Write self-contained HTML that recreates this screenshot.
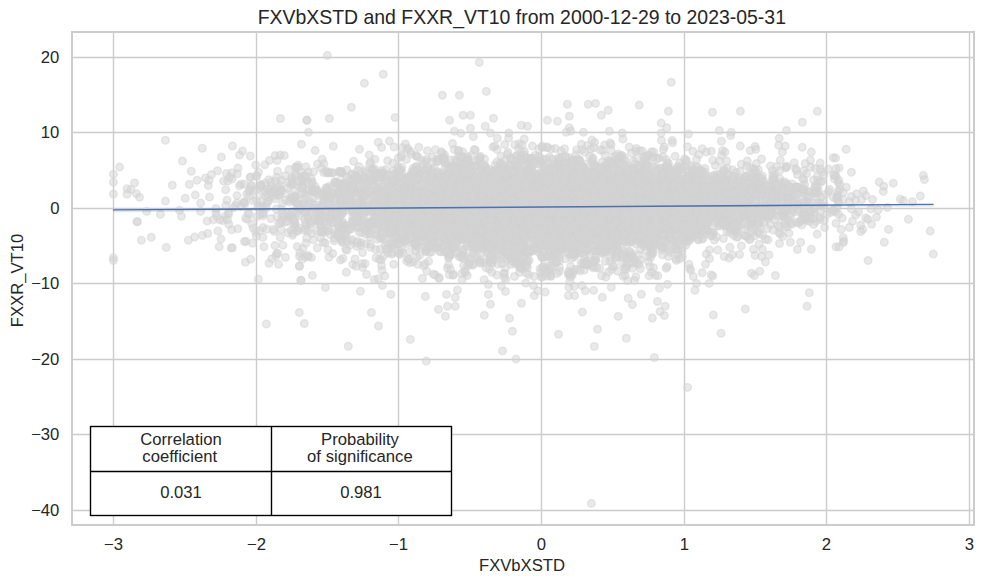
<!DOCTYPE html>
<html><head><meta charset="utf-8"><style>
html,body{margin:0;padding:0;background:#fff;width:983px;height:584px;overflow:hidden}
svg{display:block}
text{font-family:"Liberation Sans",Arial,sans-serif;fill:#262626;font-variant-ligatures:none}
.g path{stroke:#cccccc;stroke-width:1.39;fill:none}
.p circle{r:3.8px;fill:#d3d3d3;fill-opacity:.5;stroke:#d3d3d3;stroke-opacity:.5;stroke-width:1.39}
.t{font-size:16.67px}
.tb text{font-size:16.67px;fill:#262626}
</style></head><body>
<svg width="983" height="584" viewBox="0 0 983 584">
<rect width="983" height="584" fill="#fff"/>
<g class="g"><path d="M113.5 31V526"/><path d="M256.5 31V526"/><path d="M398.5 31V526"/><path d="M541.5 31V526"/><path d="M684.5 31V526"/><path d="M826.5 31V526"/><path d="M969.5 31V526"/><path d="M71 57.5H975"/><path d="M71 132.5H975"/><path d="M71 208.5H975"/><path d="M71 283.5H975"/><path d="M71 359.5H975"/><path d="M71 434.5H975"/><path d="M71 510.5H975"/></g>
<g class="p"><circle cx="462.0" cy="172.8" r="3.8"/><circle cx="425.5" cy="251.7" r="3.8"/><circle cx="661.7" cy="195.8" r="3.8"/><circle cx="601.3" cy="236.1" r="3.8"/><circle cx="535.6" cy="189.1" r="3.8"/><circle cx="454.4" cy="217.2" r="3.8"/><circle cx="564.5" cy="148.7" r="3.8"/><circle cx="371.5" cy="180.0" r="3.8"/><circle cx="514.4" cy="239.1" r="3.8"/><circle cx="554.0" cy="202.3" r="3.8"/><circle cx="585.5" cy="183.8" r="3.8"/><circle cx="462.7" cy="151.8" r="3.8"/><circle cx="398.2" cy="169.4" r="3.8"/><circle cx="388.3" cy="205.6" r="3.8"/><circle cx="620.3" cy="216.5" r="3.8"/><circle cx="439.6" cy="251.4" r="3.8"/><circle cx="313.8" cy="188.9" r="3.8"/><circle cx="594.5" cy="172.2" r="3.8"/><circle cx="302.6" cy="186.3" r="3.8"/><circle cx="591.6" cy="192.1" r="3.8"/><circle cx="711.9" cy="210.0" r="3.8"/><circle cx="483.7" cy="262.8" r="3.8"/><circle cx="489.2" cy="248.3" r="3.8"/><circle cx="500.7" cy="201.7" r="3.8"/><circle cx="655.8" cy="214.2" r="3.8"/><circle cx="652.3" cy="254.0" r="3.8"/><circle cx="558.7" cy="221.2" r="3.8"/><circle cx="591.7" cy="173.3" r="3.8"/><circle cx="333.9" cy="222.9" r="3.8"/><circle cx="670.9" cy="217.3" r="3.8"/><circle cx="264.8" cy="164.7" r="3.8"/><circle cx="630.4" cy="170.3" r="3.8"/><circle cx="647.8" cy="222.3" r="3.8"/><circle cx="570.2" cy="196.3" r="3.8"/><circle cx="652.6" cy="217.1" r="3.8"/><circle cx="378.1" cy="196.7" r="3.8"/><circle cx="458.0" cy="200.9" r="3.8"/><circle cx="544.5" cy="211.0" r="3.8"/><circle cx="511.4" cy="251.9" r="3.8"/><circle cx="448.7" cy="225.5" r="3.8"/><circle cx="508.7" cy="175.1" r="3.8"/><circle cx="597.0" cy="221.9" r="3.8"/><circle cx="586.2" cy="192.1" r="3.8"/><circle cx="598.7" cy="249.9" r="3.8"/><circle cx="488.0" cy="244.1" r="3.8"/><circle cx="679.2" cy="179.3" r="3.8"/><circle cx="502.4" cy="207.4" r="3.8"/><circle cx="538.9" cy="176.0" r="3.8"/><circle cx="451.4" cy="192.7" r="3.8"/><circle cx="520.1" cy="197.7" r="3.8"/><circle cx="824.5" cy="207.6" r="3.8"/><circle cx="329.0" cy="209.6" r="3.8"/><circle cx="563.0" cy="198.9" r="3.8"/><circle cx="480.3" cy="237.7" r="3.8"/><circle cx="752.1" cy="193.1" r="3.8"/><circle cx="596.7" cy="201.9" r="3.8"/><circle cx="565.1" cy="210.5" r="3.8"/><circle cx="614.1" cy="223.2" r="3.8"/><circle cx="402.1" cy="209.6" r="3.8"/><circle cx="628.8" cy="180.3" r="3.8"/><circle cx="736.6" cy="231.0" r="3.8"/><circle cx="645.3" cy="160.0" r="3.8"/><circle cx="549.8" cy="220.3" r="3.8"/><circle cx="633.6" cy="168.4" r="3.8"/><circle cx="449.9" cy="213.6" r="3.8"/><circle cx="568.9" cy="229.1" r="3.8"/><circle cx="455.5" cy="227.3" r="3.8"/><circle cx="419.5" cy="201.6" r="3.8"/><circle cx="559.0" cy="237.2" r="3.8"/><circle cx="380.6" cy="218.0" r="3.8"/><circle cx="716.9" cy="202.2" r="3.8"/><circle cx="715.1" cy="187.8" r="3.8"/><circle cx="552.6" cy="218.9" r="3.8"/><circle cx="675.8" cy="173.2" r="3.8"/><circle cx="695.6" cy="231.5" r="3.8"/><circle cx="554.1" cy="228.5" r="3.8"/><circle cx="669.9" cy="240.2" r="3.8"/><circle cx="334.9" cy="215.6" r="3.8"/><circle cx="245.6" cy="218.2" r="3.8"/><circle cx="695.7" cy="203.2" r="3.8"/><circle cx="588.0" cy="200.6" r="3.8"/><circle cx="733.9" cy="189.7" r="3.8"/><circle cx="396.3" cy="191.7" r="3.8"/><circle cx="416.3" cy="184.6" r="3.8"/><circle cx="322.1" cy="194.1" r="3.8"/><circle cx="567.9" cy="196.2" r="3.8"/><circle cx="610.4" cy="161.9" r="3.8"/><circle cx="492.0" cy="184.5" r="3.8"/><circle cx="489.6" cy="201.9" r="3.8"/><circle cx="764.0" cy="189.2" r="3.8"/><circle cx="573.2" cy="164.3" r="3.8"/><circle cx="249.2" cy="214.0" r="3.8"/><circle cx="785.9" cy="167.9" r="3.8"/><circle cx="470.6" cy="176.0" r="3.8"/><circle cx="523.6" cy="188.1" r="3.8"/><circle cx="346.5" cy="225.9" r="3.8"/><circle cx="602.7" cy="173.2" r="3.8"/><circle cx="521.2" cy="155.6" r="3.8"/><circle cx="510.7" cy="184.7" r="3.8"/><circle cx="709.0" cy="196.6" r="3.8"/><circle cx="694.1" cy="188.1" r="3.8"/><circle cx="634.1" cy="186.1" r="3.8"/><circle cx="369.6" cy="224.5" r="3.8"/><circle cx="465.8" cy="228.2" r="3.8"/><circle cx="674.9" cy="246.1" r="3.8"/><circle cx="644.9" cy="181.8" r="3.8"/><circle cx="375.7" cy="173.7" r="3.8"/><circle cx="635.4" cy="175.3" r="3.8"/><circle cx="503.7" cy="167.2" r="3.8"/><circle cx="592.9" cy="207.5" r="3.8"/><circle cx="649.0" cy="194.3" r="3.8"/><circle cx="612.3" cy="237.2" r="3.8"/><circle cx="637.7" cy="209.1" r="3.8"/><circle cx="608.4" cy="272.0" r="3.8"/><circle cx="823.8" cy="174.9" r="3.8"/><circle cx="439.2" cy="179.5" r="3.8"/><circle cx="384.7" cy="275.9" r="3.8"/><circle cx="493.0" cy="198.5" r="3.8"/><circle cx="693.3" cy="203.5" r="3.8"/><circle cx="463.0" cy="196.5" r="3.8"/><circle cx="647.9" cy="199.5" r="3.8"/><circle cx="643.9" cy="204.2" r="3.8"/><circle cx="516.7" cy="184.6" r="3.8"/><circle cx="475.9" cy="226.5" r="3.8"/><circle cx="437.4" cy="222.9" r="3.8"/><circle cx="437.6" cy="184.7" r="3.8"/><circle cx="251.8" cy="185.8" r="3.8"/><circle cx="605.1" cy="155.6" r="3.8"/><circle cx="505.9" cy="214.3" r="3.8"/><circle cx="361.2" cy="242.8" r="3.8"/><circle cx="486.3" cy="196.5" r="3.8"/><circle cx="532.5" cy="146.1" r="3.8"/><circle cx="567.0" cy="239.2" r="3.8"/><circle cx="282.0" cy="216.9" r="3.8"/><circle cx="800.8" cy="220.1" r="3.8"/><circle cx="517.3" cy="185.4" r="3.8"/><circle cx="775.8" cy="194.2" r="3.8"/><circle cx="836.0" cy="175.9" r="3.8"/><circle cx="509.7" cy="219.8" r="3.8"/><circle cx="526.3" cy="200.6" r="3.8"/><circle cx="462.4" cy="215.6" r="3.8"/><circle cx="323.6" cy="230.2" r="3.8"/><circle cx="668.4" cy="256.5" r="3.8"/><circle cx="505.2" cy="251.5" r="3.8"/><circle cx="298.0" cy="206.2" r="3.8"/><circle cx="574.3" cy="234.2" r="3.8"/><circle cx="469.1" cy="194.9" r="3.8"/><circle cx="427.1" cy="191.0" r="3.8"/><circle cx="247.5" cy="219.2" r="3.8"/><circle cx="460.4" cy="194.5" r="3.8"/><circle cx="653.3" cy="207.0" r="3.8"/><circle cx="319.1" cy="211.9" r="3.8"/><circle cx="630.8" cy="212.0" r="3.8"/><circle cx="725.2" cy="226.2" r="3.8"/><circle cx="473.1" cy="216.0" r="3.8"/><circle cx="479.1" cy="206.6" r="3.8"/><circle cx="524.0" cy="246.8" r="3.8"/><circle cx="545.5" cy="237.9" r="3.8"/><circle cx="663.1" cy="221.9" r="3.8"/><circle cx="629.9" cy="183.4" r="3.8"/><circle cx="598.4" cy="198.7" r="3.8"/><circle cx="821.4" cy="204.1" r="3.8"/><circle cx="732.2" cy="223.1" r="3.8"/><circle cx="391.7" cy="228.5" r="3.8"/><circle cx="332.0" cy="214.2" r="3.8"/><circle cx="499.9" cy="194.0" r="3.8"/><circle cx="647.6" cy="211.9" r="3.8"/><circle cx="539.7" cy="186.4" r="3.8"/><circle cx="637.5" cy="205.5" r="3.8"/><circle cx="581.7" cy="194.7" r="3.8"/><circle cx="561.0" cy="236.5" r="3.8"/><circle cx="294.7" cy="190.8" r="3.8"/><circle cx="552.5" cy="255.6" r="3.8"/><circle cx="462.3" cy="199.6" r="3.8"/><circle cx="444.7" cy="210.0" r="3.8"/><circle cx="765.0" cy="204.7" r="3.8"/><circle cx="432.7" cy="205.6" r="3.8"/><circle cx="585.7" cy="220.0" r="3.8"/><circle cx="534.9" cy="196.1" r="3.8"/><circle cx="722.5" cy="212.7" r="3.8"/><circle cx="670.7" cy="195.2" r="3.8"/><circle cx="303.9" cy="176.3" r="3.8"/><circle cx="422.1" cy="241.0" r="3.8"/><circle cx="476.4" cy="212.3" r="3.8"/><circle cx="492.4" cy="263.3" r="3.8"/><circle cx="351.8" cy="211.7" r="3.8"/><circle cx="532.8" cy="230.2" r="3.8"/><circle cx="833.5" cy="174.8" r="3.8"/><circle cx="442.6" cy="248.0" r="3.8"/><circle cx="452.4" cy="191.7" r="3.8"/><circle cx="708.1" cy="231.3" r="3.8"/><circle cx="634.7" cy="218.5" r="3.8"/><circle cx="444.7" cy="251.9" r="3.8"/><circle cx="687.9" cy="189.6" r="3.8"/><circle cx="505.7" cy="177.5" r="3.8"/><circle cx="576.2" cy="245.1" r="3.8"/><circle cx="629.7" cy="212.4" r="3.8"/><circle cx="325.1" cy="242.9" r="3.8"/><circle cx="649.1" cy="172.5" r="3.8"/><circle cx="744.1" cy="203.0" r="3.8"/><circle cx="493.9" cy="200.8" r="3.8"/><circle cx="760.1" cy="198.4" r="3.8"/><circle cx="495.7" cy="209.1" r="3.8"/><circle cx="541.4" cy="243.8" r="3.8"/><circle cx="542.4" cy="221.6" r="3.8"/><circle cx="411.4" cy="225.6" r="3.8"/><circle cx="588.9" cy="193.5" r="3.8"/><circle cx="536.1" cy="202.6" r="3.8"/><circle cx="417.3" cy="195.9" r="3.8"/><circle cx="457.7" cy="174.1" r="3.8"/><circle cx="350.9" cy="241.1" r="3.8"/><circle cx="511.9" cy="204.2" r="3.8"/><circle cx="547.5" cy="175.7" r="3.8"/><circle cx="501.5" cy="227.9" r="3.8"/><circle cx="470.8" cy="202.2" r="3.8"/><circle cx="515.5" cy="206.8" r="3.8"/><circle cx="716.4" cy="180.6" r="3.8"/><circle cx="515.7" cy="165.1" r="3.8"/><circle cx="579.6" cy="178.9" r="3.8"/><circle cx="480.4" cy="218.8" r="3.8"/><circle cx="642.2" cy="150.7" r="3.8"/><circle cx="521.8" cy="236.5" r="3.8"/><circle cx="651.3" cy="206.6" r="3.8"/><circle cx="542.7" cy="196.3" r="3.8"/><circle cx="592.0" cy="197.2" r="3.8"/><circle cx="520.9" cy="201.7" r="3.8"/><circle cx="633.2" cy="197.2" r="3.8"/><circle cx="366.5" cy="221.6" r="3.8"/><circle cx="653.2" cy="208.3" r="3.8"/><circle cx="485.2" cy="205.3" r="3.8"/><circle cx="689.7" cy="268.6" r="3.8"/><circle cx="672.3" cy="210.0" r="3.8"/><circle cx="807.5" cy="201.6" r="3.8"/><circle cx="377.1" cy="191.3" r="3.8"/><circle cx="451.3" cy="244.9" r="3.8"/><circle cx="653.1" cy="233.9" r="3.8"/><circle cx="597.1" cy="216.7" r="3.8"/><circle cx="262.9" cy="237.4" r="3.8"/><circle cx="669.1" cy="226.4" r="3.8"/><circle cx="516.2" cy="205.5" r="3.8"/><circle cx="501.4" cy="191.9" r="3.8"/><circle cx="680.4" cy="221.3" r="3.8"/><circle cx="573.0" cy="171.5" r="3.8"/><circle cx="527.9" cy="171.5" r="3.8"/><circle cx="595.8" cy="226.3" r="3.8"/><circle cx="285.8" cy="200.4" r="3.8"/><circle cx="413.3" cy="230.8" r="3.8"/><circle cx="324.4" cy="230.4" r="3.8"/><circle cx="530.3" cy="223.3" r="3.8"/><circle cx="625.0" cy="220.3" r="3.8"/><circle cx="635.0" cy="173.3" r="3.8"/><circle cx="384.6" cy="213.8" r="3.8"/><circle cx="354.3" cy="212.4" r="3.8"/><circle cx="592.0" cy="172.0" r="3.8"/><circle cx="395.8" cy="226.7" r="3.8"/><circle cx="436.8" cy="231.4" r="3.8"/><circle cx="723.9" cy="214.8" r="3.8"/><circle cx="393.4" cy="216.8" r="3.8"/><circle cx="680.9" cy="172.8" r="3.8"/><circle cx="622.3" cy="172.4" r="3.8"/><circle cx="553.8" cy="217.7" r="3.8"/><circle cx="464.8" cy="227.9" r="3.8"/><circle cx="689.3" cy="240.7" r="3.8"/><circle cx="508.3" cy="230.0" r="3.8"/><circle cx="554.4" cy="238.8" r="3.8"/><circle cx="446.1" cy="206.3" r="3.8"/><circle cx="599.1" cy="225.0" r="3.8"/><circle cx="415.9" cy="175.7" r="3.8"/><circle cx="482.7" cy="187.7" r="3.8"/><circle cx="271.0" cy="182.1" r="3.8"/><circle cx="575.2" cy="255.1" r="3.8"/><circle cx="543.3" cy="266.8" r="3.8"/><circle cx="560.0" cy="240.5" r="3.8"/><circle cx="565.5" cy="188.2" r="3.8"/><circle cx="681.5" cy="193.3" r="3.8"/><circle cx="661.9" cy="204.6" r="3.8"/><circle cx="596.2" cy="181.4" r="3.8"/><circle cx="576.9" cy="200.9" r="3.8"/><circle cx="321.2" cy="227.5" r="3.8"/><circle cx="518.3" cy="211.7" r="3.8"/><circle cx="813.2" cy="208.4" r="3.8"/><circle cx="440.2" cy="184.4" r="3.8"/><circle cx="619.4" cy="189.3" r="3.8"/><circle cx="629.9" cy="257.3" r="3.8"/><circle cx="512.4" cy="218.0" r="3.8"/><circle cx="629.7" cy="168.0" r="3.8"/><circle cx="639.9" cy="201.4" r="3.8"/><circle cx="568.8" cy="216.1" r="3.8"/><circle cx="676.7" cy="216.1" r="3.8"/><circle cx="711.2" cy="210.4" r="3.8"/><circle cx="563.4" cy="196.3" r="3.8"/><circle cx="452.1" cy="203.9" r="3.8"/><circle cx="533.5" cy="247.6" r="3.8"/><circle cx="471.1" cy="221.7" r="3.8"/><circle cx="338.1" cy="232.8" r="3.8"/><circle cx="496.5" cy="197.5" r="3.8"/><circle cx="612.6" cy="192.9" r="3.8"/><circle cx="501.8" cy="214.7" r="3.8"/><circle cx="513.8" cy="183.5" r="3.8"/><circle cx="471.9" cy="203.7" r="3.8"/><circle cx="460.3" cy="213.3" r="3.8"/><circle cx="415.0" cy="242.3" r="3.8"/><circle cx="516.0" cy="156.4" r="3.8"/><circle cx="294.0" cy="200.1" r="3.8"/><circle cx="687.7" cy="186.6" r="3.8"/><circle cx="477.5" cy="257.8" r="3.8"/><circle cx="515.3" cy="263.8" r="3.8"/><circle cx="583.4" cy="183.9" r="3.8"/><circle cx="535.7" cy="189.9" r="3.8"/><circle cx="595.8" cy="213.6" r="3.8"/><circle cx="555.7" cy="202.4" r="3.8"/><circle cx="573.0" cy="174.2" r="3.8"/><circle cx="474.8" cy="236.0" r="3.8"/><circle cx="645.1" cy="239.9" r="3.8"/><circle cx="381.2" cy="227.9" r="3.8"/><circle cx="377.8" cy="190.4" r="3.8"/><circle cx="307.7" cy="255.4" r="3.8"/><circle cx="442.3" cy="199.0" r="3.8"/><circle cx="499.9" cy="203.8" r="3.8"/><circle cx="660.3" cy="189.3" r="3.8"/><circle cx="711.9" cy="189.2" r="3.8"/><circle cx="506.9" cy="221.4" r="3.8"/><circle cx="663.0" cy="188.4" r="3.8"/><circle cx="580.6" cy="201.7" r="3.8"/><circle cx="277.1" cy="216.5" r="3.8"/><circle cx="446.7" cy="194.9" r="3.8"/><circle cx="729.1" cy="214.3" r="3.8"/><circle cx="547.8" cy="266.0" r="3.8"/><circle cx="628.6" cy="179.8" r="3.8"/><circle cx="416.4" cy="178.1" r="3.8"/><circle cx="574.6" cy="218.0" r="3.8"/><circle cx="432.1" cy="210.2" r="3.8"/><circle cx="531.1" cy="158.4" r="3.8"/><circle cx="770.2" cy="212.0" r="3.8"/><circle cx="797.7" cy="205.2" r="3.8"/><circle cx="380.9" cy="177.4" r="3.8"/><circle cx="571.5" cy="174.0" r="3.8"/><circle cx="545.8" cy="189.2" r="3.8"/><circle cx="340.9" cy="214.8" r="3.8"/><circle cx="589.9" cy="229.2" r="3.8"/><circle cx="295.6" cy="201.4" r="3.8"/><circle cx="633.9" cy="175.2" r="3.8"/><circle cx="486.5" cy="170.4" r="3.8"/><circle cx="524.4" cy="229.5" r="3.8"/><circle cx="512.6" cy="183.7" r="3.8"/><circle cx="442.6" cy="220.7" r="3.8"/><circle cx="424.8" cy="206.4" r="3.8"/><circle cx="386.8" cy="200.5" r="3.8"/><circle cx="773.4" cy="203.4" r="3.8"/><circle cx="526.4" cy="250.1" r="3.8"/><circle cx="666.8" cy="177.4" r="3.8"/><circle cx="359.8" cy="179.8" r="3.8"/><circle cx="441.4" cy="231.7" r="3.8"/><circle cx="580.8" cy="235.7" r="3.8"/><circle cx="492.3" cy="255.9" r="3.8"/><circle cx="573.2" cy="219.8" r="3.8"/><circle cx="562.2" cy="165.8" r="3.8"/><circle cx="719.2" cy="199.9" r="3.8"/><circle cx="522.0" cy="188.9" r="3.8"/><circle cx="502.8" cy="217.8" r="3.8"/><circle cx="687.7" cy="234.7" r="3.8"/><circle cx="664.9" cy="171.4" r="3.8"/><circle cx="542.5" cy="257.6" r="3.8"/><circle cx="818.3" cy="202.6" r="3.8"/><circle cx="334.4" cy="238.4" r="3.8"/><circle cx="588.0" cy="265.2" r="3.8"/><circle cx="455.0" cy="180.6" r="3.8"/><circle cx="604.5" cy="240.5" r="3.8"/><circle cx="638.7" cy="230.8" r="3.8"/><circle cx="676.3" cy="198.6" r="3.8"/><circle cx="666.7" cy="213.3" r="3.8"/><circle cx="561.8" cy="166.5" r="3.8"/><circle cx="804.7" cy="219.9" r="3.8"/><circle cx="639.1" cy="196.8" r="3.8"/><circle cx="615.1" cy="190.7" r="3.8"/><circle cx="708.2" cy="218.0" r="3.8"/><circle cx="563.7" cy="194.2" r="3.8"/><circle cx="688.1" cy="223.8" r="3.8"/><circle cx="720.5" cy="174.1" r="3.8"/><circle cx="786.2" cy="207.9" r="3.8"/><circle cx="486.9" cy="195.9" r="3.8"/><circle cx="563.8" cy="230.1" r="3.8"/><circle cx="485.1" cy="242.4" r="3.8"/><circle cx="636.1" cy="216.7" r="3.8"/><circle cx="584.1" cy="245.2" r="3.8"/><circle cx="605.1" cy="185.4" r="3.8"/><circle cx="678.2" cy="173.2" r="3.8"/><circle cx="637.4" cy="198.2" r="3.8"/><circle cx="278.9" cy="191.8" r="3.8"/><circle cx="804.6" cy="184.6" r="3.8"/><circle cx="573.0" cy="171.3" r="3.8"/><circle cx="567.2" cy="235.4" r="3.8"/><circle cx="591.0" cy="175.4" r="3.8"/><circle cx="625.8" cy="229.3" r="3.8"/><circle cx="620.9" cy="201.2" r="3.8"/><circle cx="260.9" cy="184.6" r="3.8"/><circle cx="691.6" cy="227.3" r="3.8"/><circle cx="719.4" cy="226.1" r="3.8"/><circle cx="444.6" cy="154.9" r="3.8"/><circle cx="554.9" cy="184.2" r="3.8"/><circle cx="633.8" cy="199.1" r="3.8"/><circle cx="572.6" cy="218.6" r="3.8"/><circle cx="369.2" cy="204.4" r="3.8"/><circle cx="755.7" cy="213.4" r="3.8"/><circle cx="494.3" cy="205.5" r="3.8"/><circle cx="332.8" cy="222.5" r="3.8"/><circle cx="616.8" cy="218.9" r="3.8"/><circle cx="433.6" cy="242.4" r="3.8"/><circle cx="349.7" cy="190.0" r="3.8"/><circle cx="465.4" cy="225.9" r="3.8"/><circle cx="404.8" cy="191.2" r="3.8"/><circle cx="461.4" cy="233.5" r="3.8"/><circle cx="724.3" cy="221.5" r="3.8"/><circle cx="344.1" cy="227.4" r="3.8"/><circle cx="261.0" cy="201.3" r="3.8"/><circle cx="423.8" cy="235.8" r="3.8"/><circle cx="581.8" cy="187.2" r="3.8"/><circle cx="457.8" cy="213.4" r="3.8"/><circle cx="342.8" cy="197.9" r="3.8"/><circle cx="395.9" cy="229.3" r="3.8"/><circle cx="701.5" cy="193.5" r="3.8"/><circle cx="509.8" cy="195.8" r="3.8"/><circle cx="470.1" cy="205.1" r="3.8"/><circle cx="424.7" cy="195.5" r="3.8"/><circle cx="543.6" cy="216.4" r="3.8"/><circle cx="523.4" cy="240.8" r="3.8"/><circle cx="668.6" cy="167.4" r="3.8"/><circle cx="250.6" cy="177.1" r="3.8"/><circle cx="299.4" cy="187.3" r="3.8"/><circle cx="697.2" cy="234.0" r="3.8"/><circle cx="414.5" cy="224.0" r="3.8"/><circle cx="837.6" cy="191.8" r="3.8"/><circle cx="615.5" cy="183.6" r="3.8"/><circle cx="599.5" cy="200.2" r="3.8"/><circle cx="588.9" cy="204.1" r="3.8"/><circle cx="476.5" cy="210.7" r="3.8"/><circle cx="591.0" cy="203.8" r="3.8"/><circle cx="664.6" cy="200.9" r="3.8"/><circle cx="691.2" cy="165.5" r="3.8"/><circle cx="781.1" cy="200.0" r="3.8"/><circle cx="480.2" cy="227.0" r="3.8"/><circle cx="426.0" cy="250.3" r="3.8"/><circle cx="520.0" cy="213.1" r="3.8"/><circle cx="535.1" cy="225.8" r="3.8"/><circle cx="661.2" cy="198.8" r="3.8"/><circle cx="565.4" cy="258.7" r="3.8"/><circle cx="692.7" cy="185.2" r="3.8"/><circle cx="557.7" cy="205.6" r="3.8"/><circle cx="666.5" cy="198.7" r="3.8"/><circle cx="390.8" cy="207.0" r="3.8"/><circle cx="599.7" cy="268.2" r="3.8"/><circle cx="618.6" cy="188.8" r="3.8"/><circle cx="644.8" cy="192.8" r="3.8"/><circle cx="589.6" cy="184.7" r="3.8"/><circle cx="489.1" cy="228.1" r="3.8"/><circle cx="733.5" cy="235.4" r="3.8"/><circle cx="706.5" cy="215.9" r="3.8"/><circle cx="767.9" cy="239.7" r="3.8"/><circle cx="569.4" cy="228.5" r="3.8"/><circle cx="256.5" cy="176.6" r="3.8"/><circle cx="502.7" cy="171.0" r="3.8"/><circle cx="581.7" cy="236.2" r="3.8"/><circle cx="671.3" cy="215.2" r="3.8"/><circle cx="402.9" cy="234.7" r="3.8"/><circle cx="525.7" cy="238.4" r="3.8"/><circle cx="653.4" cy="226.3" r="3.8"/><circle cx="448.6" cy="258.0" r="3.8"/><circle cx="796.5" cy="200.1" r="3.8"/><circle cx="519.9" cy="185.9" r="3.8"/><circle cx="625.5" cy="201.4" r="3.8"/><circle cx="597.2" cy="232.7" r="3.8"/><circle cx="702.5" cy="214.5" r="3.8"/><circle cx="404.1" cy="191.4" r="3.8"/><circle cx="458.5" cy="182.9" r="3.8"/><circle cx="587.9" cy="201.2" r="3.8"/><circle cx="577.6" cy="192.6" r="3.8"/><circle cx="380.2" cy="195.6" r="3.8"/><circle cx="571.0" cy="205.8" r="3.8"/><circle cx="552.0" cy="246.1" r="3.8"/><circle cx="614.8" cy="215.4" r="3.8"/><circle cx="613.9" cy="219.9" r="3.8"/><circle cx="626.7" cy="210.4" r="3.8"/><circle cx="420.8" cy="207.6" r="3.8"/><circle cx="452.3" cy="211.0" r="3.8"/><circle cx="559.6" cy="187.5" r="3.8"/><circle cx="576.1" cy="228.7" r="3.8"/><circle cx="435.3" cy="221.1" r="3.8"/><circle cx="545.5" cy="268.4" r="3.8"/><circle cx="564.2" cy="207.5" r="3.8"/><circle cx="593.0" cy="211.5" r="3.8"/><circle cx="701.3" cy="218.0" r="3.8"/><circle cx="596.6" cy="251.5" r="3.8"/><circle cx="453.7" cy="195.7" r="3.8"/><circle cx="483.9" cy="201.8" r="3.8"/><circle cx="306.0" cy="208.1" r="3.8"/><circle cx="553.5" cy="222.4" r="3.8"/><circle cx="495.6" cy="230.0" r="3.8"/><circle cx="590.6" cy="213.2" r="3.8"/><circle cx="593.5" cy="262.3" r="3.8"/><circle cx="538.8" cy="252.3" r="3.8"/><circle cx="466.4" cy="220.2" r="3.8"/><circle cx="685.7" cy="231.4" r="3.8"/><circle cx="633.5" cy="217.2" r="3.8"/><circle cx="626.5" cy="215.5" r="3.8"/><circle cx="630.0" cy="188.8" r="3.8"/><circle cx="348.1" cy="196.9" r="3.8"/><circle cx="315.2" cy="186.5" r="3.8"/><circle cx="582.4" cy="192.2" r="3.8"/><circle cx="683.2" cy="210.2" r="3.8"/><circle cx="489.9" cy="197.9" r="3.8"/><circle cx="636.1" cy="193.3" r="3.8"/><circle cx="656.4" cy="206.0" r="3.8"/><circle cx="457.5" cy="233.7" r="3.8"/><circle cx="569.1" cy="204.1" r="3.8"/><circle cx="412.9" cy="204.0" r="3.8"/><circle cx="555.4" cy="148.6" r="3.8"/><circle cx="667.1" cy="223.3" r="3.8"/><circle cx="674.1" cy="184.5" r="3.8"/><circle cx="432.2" cy="221.8" r="3.8"/><circle cx="748.5" cy="218.4" r="3.8"/><circle cx="638.5" cy="188.2" r="3.8"/><circle cx="453.4" cy="228.1" r="3.8"/><circle cx="601.6" cy="177.2" r="3.8"/><circle cx="596.5" cy="210.7" r="3.8"/><circle cx="353.0" cy="188.0" r="3.8"/><circle cx="427.0" cy="200.3" r="3.8"/><circle cx="657.9" cy="275.7" r="3.8"/><circle cx="609.8" cy="193.3" r="3.8"/><circle cx="659.9" cy="178.6" r="3.8"/><circle cx="450.4" cy="160.0" r="3.8"/><circle cx="448.4" cy="212.8" r="3.8"/><circle cx="505.1" cy="240.5" r="3.8"/><circle cx="593.3" cy="267.7" r="3.8"/><circle cx="406.7" cy="198.5" r="3.8"/><circle cx="469.8" cy="185.7" r="3.8"/><circle cx="558.8" cy="217.2" r="3.8"/><circle cx="548.5" cy="209.0" r="3.8"/><circle cx="666.9" cy="170.2" r="3.8"/><circle cx="567.9" cy="214.2" r="3.8"/><circle cx="534.0" cy="209.2" r="3.8"/><circle cx="598.8" cy="178.5" r="3.8"/><circle cx="509.7" cy="227.7" r="3.8"/><circle cx="380.7" cy="196.8" r="3.8"/><circle cx="377.2" cy="207.1" r="3.8"/><circle cx="673.8" cy="203.2" r="3.8"/><circle cx="305.6" cy="228.8" r="3.8"/><circle cx="346.6" cy="195.3" r="3.8"/><circle cx="660.0" cy="231.4" r="3.8"/><circle cx="729.5" cy="192.0" r="3.8"/><circle cx="773.8" cy="188.3" r="3.8"/><circle cx="557.2" cy="233.7" r="3.8"/><circle cx="622.9" cy="199.8" r="3.8"/><circle cx="413.7" cy="191.5" r="3.8"/><circle cx="454.0" cy="205.2" r="3.8"/><circle cx="524.0" cy="222.7" r="3.8"/><circle cx="463.7" cy="226.3" r="3.8"/><circle cx="515.2" cy="249.4" r="3.8"/><circle cx="568.1" cy="274.3" r="3.8"/><circle cx="633.6" cy="229.3" r="3.8"/><circle cx="573.0" cy="215.5" r="3.8"/><circle cx="324.8" cy="191.2" r="3.8"/><circle cx="648.6" cy="212.9" r="3.8"/><circle cx="486.4" cy="239.4" r="3.8"/><circle cx="725.7" cy="220.0" r="3.8"/><circle cx="708.0" cy="197.3" r="3.8"/><circle cx="360.9" cy="179.6" r="3.8"/><circle cx="530.8" cy="213.7" r="3.8"/><circle cx="384.5" cy="177.6" r="3.8"/><circle cx="548.0" cy="215.6" r="3.8"/><circle cx="663.0" cy="175.6" r="3.8"/><circle cx="516.8" cy="238.6" r="3.8"/><circle cx="336.8" cy="181.8" r="3.8"/><circle cx="516.6" cy="156.0" r="3.8"/><circle cx="628.4" cy="190.2" r="3.8"/><circle cx="584.8" cy="211.3" r="3.8"/><circle cx="684.1" cy="204.7" r="3.8"/><circle cx="535.3" cy="220.9" r="3.8"/><circle cx="610.6" cy="177.0" r="3.8"/><circle cx="644.5" cy="221.5" r="3.8"/><circle cx="236.9" cy="203.1" r="3.8"/><circle cx="458.1" cy="214.2" r="3.8"/><circle cx="579.8" cy="160.5" r="3.8"/><circle cx="534.7" cy="192.3" r="3.8"/><circle cx="225.2" cy="216.2" r="3.8"/><circle cx="689.2" cy="199.4" r="3.8"/><circle cx="717.6" cy="184.8" r="3.8"/><circle cx="817.2" cy="176.8" r="3.8"/><circle cx="364.3" cy="208.5" r="3.8"/><circle cx="404.2" cy="198.9" r="3.8"/><circle cx="710.7" cy="217.2" r="3.8"/><circle cx="348.8" cy="229.9" r="3.8"/><circle cx="762.2" cy="200.6" r="3.8"/><circle cx="609.9" cy="188.2" r="3.8"/><circle cx="313.4" cy="239.8" r="3.8"/><circle cx="572.7" cy="206.1" r="3.8"/><circle cx="723.4" cy="238.6" r="3.8"/><circle cx="441.7" cy="192.8" r="3.8"/><circle cx="512.5" cy="184.3" r="3.8"/><circle cx="448.8" cy="193.5" r="3.8"/><circle cx="507.1" cy="238.9" r="3.8"/><circle cx="581.9" cy="214.3" r="3.8"/><circle cx="750.4" cy="167.7" r="3.8"/><circle cx="618.9" cy="223.5" r="3.8"/><circle cx="656.7" cy="194.4" r="3.8"/><circle cx="644.7" cy="167.3" r="3.8"/><circle cx="534.6" cy="204.9" r="3.8"/><circle cx="263.9" cy="246.8" r="3.8"/><circle cx="310.0" cy="212.8" r="3.8"/><circle cx="784.7" cy="188.7" r="3.8"/><circle cx="585.1" cy="211.3" r="3.8"/><circle cx="794.0" cy="211.8" r="3.8"/><circle cx="576.1" cy="244.1" r="3.8"/><circle cx="756.2" cy="172.2" r="3.8"/><circle cx="744.5" cy="235.2" r="3.8"/><circle cx="597.8" cy="223.5" r="3.8"/><circle cx="466.8" cy="203.1" r="3.8"/><circle cx="510.9" cy="195.1" r="3.8"/><circle cx="458.8" cy="213.1" r="3.8"/><circle cx="467.2" cy="175.5" r="3.8"/><circle cx="663.1" cy="226.6" r="3.8"/><circle cx="437.8" cy="177.4" r="3.8"/><circle cx="500.4" cy="223.0" r="3.8"/><circle cx="434.7" cy="210.7" r="3.8"/><circle cx="668.6" cy="234.3" r="3.8"/><circle cx="420.0" cy="193.6" r="3.8"/><circle cx="495.8" cy="216.2" r="3.8"/><circle cx="480.2" cy="204.0" r="3.8"/><circle cx="415.1" cy="190.4" r="3.8"/><circle cx="434.5" cy="238.5" r="3.8"/><circle cx="515.7" cy="226.3" r="3.8"/><circle cx="291.7" cy="179.3" r="3.8"/><circle cx="522.6" cy="208.8" r="3.8"/><circle cx="436.8" cy="159.4" r="3.8"/><circle cx="463.7" cy="212.6" r="3.8"/><circle cx="416.5" cy="166.5" r="3.8"/><circle cx="431.3" cy="252.1" r="3.8"/><circle cx="601.6" cy="229.1" r="3.8"/><circle cx="548.5" cy="207.6" r="3.8"/><circle cx="431.9" cy="239.2" r="3.8"/><circle cx="482.1" cy="174.7" r="3.8"/><circle cx="583.8" cy="167.3" r="3.8"/><circle cx="394.1" cy="196.2" r="3.8"/><circle cx="506.3" cy="201.4" r="3.8"/><circle cx="453.6" cy="201.7" r="3.8"/><circle cx="685.4" cy="185.4" r="3.8"/><circle cx="332.8" cy="172.7" r="3.8"/><circle cx="581.7" cy="214.8" r="3.8"/><circle cx="620.2" cy="196.0" r="3.8"/><circle cx="436.8" cy="228.6" r="3.8"/><circle cx="480.1" cy="169.8" r="3.8"/><circle cx="544.2" cy="239.0" r="3.8"/><circle cx="490.3" cy="216.9" r="3.8"/><circle cx="327.4" cy="173.1" r="3.8"/><circle cx="378.5" cy="198.2" r="3.8"/><circle cx="598.3" cy="220.6" r="3.8"/><circle cx="542.8" cy="221.0" r="3.8"/><circle cx="609.0" cy="240.0" r="3.8"/><circle cx="310.6" cy="223.8" r="3.8"/><circle cx="692.5" cy="235.3" r="3.8"/><circle cx="607.1" cy="168.6" r="3.8"/><circle cx="534.5" cy="202.6" r="3.8"/><circle cx="601.6" cy="219.1" r="3.8"/><circle cx="813.3" cy="202.7" r="3.8"/><circle cx="416.2" cy="235.5" r="3.8"/><circle cx="358.2" cy="187.5" r="3.8"/><circle cx="373.6" cy="184.3" r="3.8"/><circle cx="628.9" cy="221.2" r="3.8"/><circle cx="450.9" cy="230.1" r="3.8"/><circle cx="665.9" cy="247.7" r="3.8"/><circle cx="700.9" cy="179.1" r="3.8"/><circle cx="489.8" cy="182.2" r="3.8"/><circle cx="653.1" cy="189.4" r="3.8"/><circle cx="462.1" cy="179.7" r="3.8"/><circle cx="500.6" cy="185.1" r="3.8"/><circle cx="317.6" cy="163.9" r="3.8"/><circle cx="473.7" cy="177.3" r="3.8"/><circle cx="702.8" cy="194.2" r="3.8"/><circle cx="655.5" cy="213.8" r="3.8"/><circle cx="696.6" cy="195.9" r="3.8"/><circle cx="352.8" cy="226.1" r="3.8"/><circle cx="451.8" cy="226.9" r="3.8"/><circle cx="471.3" cy="166.7" r="3.8"/><circle cx="409.7" cy="251.8" r="3.8"/><circle cx="584.3" cy="209.5" r="3.8"/><circle cx="613.9" cy="266.7" r="3.8"/><circle cx="549.6" cy="157.3" r="3.8"/><circle cx="614.9" cy="214.8" r="3.8"/><circle cx="651.5" cy="246.0" r="3.8"/><circle cx="442.4" cy="222.5" r="3.8"/><circle cx="654.5" cy="188.7" r="3.8"/><circle cx="561.2" cy="196.5" r="3.8"/><circle cx="445.4" cy="213.2" r="3.8"/><circle cx="432.0" cy="162.2" r="3.8"/><circle cx="695.5" cy="197.8" r="3.8"/><circle cx="482.3" cy="248.4" r="3.8"/><circle cx="607.3" cy="170.5" r="3.8"/><circle cx="368.6" cy="189.7" r="3.8"/><circle cx="777.9" cy="225.3" r="3.8"/><circle cx="540.7" cy="172.5" r="3.8"/><circle cx="782.0" cy="184.1" r="3.8"/><circle cx="525.9" cy="252.1" r="3.8"/><circle cx="724.8" cy="202.9" r="3.8"/><circle cx="417.8" cy="196.8" r="3.8"/><circle cx="520.9" cy="249.4" r="3.8"/><circle cx="546.0" cy="200.8" r="3.8"/><circle cx="741.6" cy="211.0" r="3.8"/><circle cx="649.7" cy="179.0" r="3.8"/><circle cx="563.3" cy="199.0" r="3.8"/><circle cx="499.8" cy="194.7" r="3.8"/><circle cx="795.4" cy="189.9" r="3.8"/><circle cx="536.8" cy="205.1" r="3.8"/><circle cx="656.7" cy="200.0" r="3.8"/><circle cx="724.0" cy="196.2" r="3.8"/><circle cx="689.2" cy="230.3" r="3.8"/><circle cx="381.6" cy="172.5" r="3.8"/><circle cx="561.0" cy="195.9" r="3.8"/><circle cx="350.0" cy="203.1" r="3.8"/><circle cx="637.7" cy="213.9" r="3.8"/><circle cx="300.8" cy="194.6" r="3.8"/><circle cx="468.7" cy="228.7" r="3.8"/><circle cx="538.1" cy="237.3" r="3.8"/><circle cx="460.0" cy="237.8" r="3.8"/><circle cx="516.9" cy="212.8" r="3.8"/><circle cx="404.3" cy="188.4" r="3.8"/><circle cx="441.9" cy="153.3" r="3.8"/><circle cx="251.9" cy="224.3" r="3.8"/><circle cx="668.1" cy="201.8" r="3.8"/><circle cx="640.0" cy="221.8" r="3.8"/><circle cx="721.4" cy="198.8" r="3.8"/><circle cx="295.4" cy="167.4" r="3.8"/><circle cx="502.0" cy="226.2" r="3.8"/><circle cx="638.5" cy="233.9" r="3.8"/><circle cx="651.8" cy="205.2" r="3.8"/><circle cx="673.2" cy="212.9" r="3.8"/><circle cx="489.2" cy="194.6" r="3.8"/><circle cx="509.1" cy="253.7" r="3.8"/><circle cx="486.6" cy="247.4" r="3.8"/><circle cx="678.4" cy="214.5" r="3.8"/><circle cx="571.6" cy="187.6" r="3.8"/><circle cx="414.0" cy="185.3" r="3.8"/><circle cx="508.8" cy="195.3" r="3.8"/><circle cx="536.4" cy="186.1" r="3.8"/><circle cx="644.2" cy="246.4" r="3.8"/><circle cx="527.5" cy="209.3" r="3.8"/><circle cx="467.2" cy="198.5" r="3.8"/><circle cx="551.2" cy="256.5" r="3.8"/><circle cx="525.1" cy="229.8" r="3.8"/><circle cx="598.8" cy="176.5" r="3.8"/><circle cx="576.7" cy="252.1" r="3.8"/><circle cx="625.3" cy="176.3" r="3.8"/><circle cx="429.5" cy="194.9" r="3.8"/><circle cx="581.6" cy="221.8" r="3.8"/><circle cx="547.2" cy="184.3" r="3.8"/><circle cx="534.7" cy="210.0" r="3.8"/><circle cx="368.3" cy="192.4" r="3.8"/><circle cx="667.3" cy="186.3" r="3.8"/><circle cx="503.0" cy="192.4" r="3.8"/><circle cx="651.5" cy="201.8" r="3.8"/><circle cx="446.5" cy="206.4" r="3.8"/><circle cx="530.4" cy="221.7" r="3.8"/><circle cx="702.6" cy="208.4" r="3.8"/><circle cx="522.1" cy="193.6" r="3.8"/><circle cx="702.3" cy="185.9" r="3.8"/><circle cx="453.9" cy="203.7" r="3.8"/><circle cx="573.3" cy="176.1" r="3.8"/><circle cx="407.4" cy="201.9" r="3.8"/><circle cx="545.5" cy="239.1" r="3.8"/><circle cx="469.6" cy="264.0" r="3.8"/><circle cx="551.0" cy="276.3" r="3.8"/><circle cx="611.6" cy="227.4" r="3.8"/><circle cx="261.2" cy="184.8" r="3.8"/><circle cx="580.3" cy="171.7" r="3.8"/><circle cx="604.0" cy="166.8" r="3.8"/><circle cx="697.4" cy="233.5" r="3.8"/><circle cx="462.6" cy="213.7" r="3.8"/><circle cx="691.9" cy="199.4" r="3.8"/><circle cx="666.4" cy="216.0" r="3.8"/><circle cx="407.8" cy="182.5" r="3.8"/><circle cx="418.2" cy="221.6" r="3.8"/><circle cx="518.5" cy="174.5" r="3.8"/><circle cx="530.7" cy="251.6" r="3.8"/><circle cx="755.2" cy="177.6" r="3.8"/><circle cx="510.7" cy="158.8" r="3.8"/><circle cx="449.5" cy="244.4" r="3.8"/><circle cx="738.4" cy="210.7" r="3.8"/><circle cx="623.4" cy="230.6" r="3.8"/><circle cx="804.7" cy="212.9" r="3.8"/><circle cx="628.4" cy="197.3" r="3.8"/><circle cx="691.9" cy="185.7" r="3.8"/><circle cx="724.4" cy="189.3" r="3.8"/><circle cx="481.9" cy="222.8" r="3.8"/><circle cx="514.2" cy="220.9" r="3.8"/><circle cx="505.3" cy="227.0" r="3.8"/><circle cx="434.1" cy="206.2" r="3.8"/><circle cx="461.9" cy="216.1" r="3.8"/><circle cx="543.2" cy="225.0" r="3.8"/><circle cx="514.0" cy="169.9" r="3.8"/><circle cx="501.1" cy="237.9" r="3.8"/><circle cx="711.2" cy="221.6" r="3.8"/><circle cx="548.8" cy="232.2" r="3.8"/><circle cx="491.5" cy="207.0" r="3.8"/><circle cx="416.6" cy="196.8" r="3.8"/><circle cx="546.8" cy="206.6" r="3.8"/><circle cx="438.9" cy="226.9" r="3.8"/><circle cx="466.9" cy="160.6" r="3.8"/><circle cx="451.6" cy="228.5" r="3.8"/><circle cx="538.1" cy="174.8" r="3.8"/><circle cx="419.3" cy="194.6" r="3.8"/><circle cx="694.7" cy="171.4" r="3.8"/><circle cx="573.1" cy="191.5" r="3.8"/><circle cx="461.7" cy="190.2" r="3.8"/><circle cx="373.5" cy="180.6" r="3.8"/><circle cx="669.9" cy="179.6" r="3.8"/><circle cx="648.0" cy="222.4" r="3.8"/><circle cx="644.7" cy="208.3" r="3.8"/><circle cx="423.2" cy="194.2" r="3.8"/><circle cx="404.1" cy="213.6" r="3.8"/><circle cx="746.5" cy="165.9" r="3.8"/><circle cx="395.4" cy="209.3" r="3.8"/><circle cx="515.5" cy="224.7" r="3.8"/><circle cx="394.3" cy="219.4" r="3.8"/><circle cx="542.3" cy="200.5" r="3.8"/><circle cx="424.4" cy="227.7" r="3.8"/><circle cx="664.2" cy="146.9" r="3.8"/><circle cx="556.0" cy="205.4" r="3.8"/><circle cx="466.2" cy="212.0" r="3.8"/><circle cx="744.9" cy="179.3" r="3.8"/><circle cx="747.4" cy="197.1" r="3.8"/><circle cx="454.6" cy="253.9" r="3.8"/><circle cx="366.7" cy="210.8" r="3.8"/><circle cx="804.7" cy="202.3" r="3.8"/><circle cx="650.2" cy="188.3" r="3.8"/><circle cx="558.6" cy="217.8" r="3.8"/><circle cx="512.3" cy="221.6" r="3.8"/><circle cx="639.4" cy="209.4" r="3.8"/><circle cx="679.0" cy="170.6" r="3.8"/><circle cx="537.0" cy="192.0" r="3.8"/><circle cx="549.2" cy="179.2" r="3.8"/><circle cx="524.6" cy="154.9" r="3.8"/><circle cx="787.6" cy="193.9" r="3.8"/><circle cx="435.0" cy="230.1" r="3.8"/><circle cx="409.1" cy="206.2" r="3.8"/><circle cx="588.8" cy="213.6" r="3.8"/><circle cx="462.1" cy="196.7" r="3.8"/><circle cx="437.4" cy="185.8" r="3.8"/><circle cx="573.9" cy="216.2" r="3.8"/><circle cx="478.0" cy="197.9" r="3.8"/><circle cx="599.0" cy="203.0" r="3.8"/><circle cx="758.3" cy="231.5" r="3.8"/><circle cx="638.8" cy="241.3" r="3.8"/><circle cx="596.1" cy="211.4" r="3.8"/><circle cx="575.5" cy="202.9" r="3.8"/><circle cx="555.1" cy="166.8" r="3.8"/><circle cx="633.5" cy="196.5" r="3.8"/><circle cx="601.2" cy="180.5" r="3.8"/><circle cx="523.8" cy="228.6" r="3.8"/><circle cx="448.5" cy="185.4" r="3.8"/><circle cx="711.3" cy="235.4" r="3.8"/><circle cx="412.5" cy="215.9" r="3.8"/><circle cx="470.5" cy="258.6" r="3.8"/><circle cx="520.0" cy="192.8" r="3.8"/><circle cx="645.3" cy="223.9" r="3.8"/><circle cx="483.3" cy="192.3" r="3.8"/><circle cx="705.5" cy="187.1" r="3.8"/><circle cx="649.7" cy="215.3" r="3.8"/><circle cx="550.3" cy="219.3" r="3.8"/><circle cx="688.7" cy="231.8" r="3.8"/><circle cx="456.5" cy="202.9" r="3.8"/><circle cx="673.8" cy="203.1" r="3.8"/><circle cx="559.1" cy="213.9" r="3.8"/><circle cx="787.4" cy="226.5" r="3.8"/><circle cx="226.5" cy="173.4" r="3.8"/><circle cx="610.3" cy="192.9" r="3.8"/><circle cx="660.8" cy="213.2" r="3.8"/><circle cx="623.0" cy="188.7" r="3.8"/><circle cx="593.6" cy="193.1" r="3.8"/><circle cx="621.2" cy="173.9" r="3.8"/><circle cx="312.4" cy="191.1" r="3.8"/><circle cx="544.5" cy="215.6" r="3.8"/><circle cx="700.2" cy="213.3" r="3.8"/><circle cx="262.1" cy="206.6" r="3.8"/><circle cx="451.1" cy="176.1" r="3.8"/><circle cx="509.7" cy="193.6" r="3.8"/><circle cx="430.9" cy="187.2" r="3.8"/><circle cx="536.8" cy="225.8" r="3.8"/><circle cx="536.0" cy="207.6" r="3.8"/><circle cx="426.3" cy="217.9" r="3.8"/><circle cx="762.9" cy="180.9" r="3.8"/><circle cx="481.3" cy="193.1" r="3.8"/><circle cx="478.3" cy="192.0" r="3.8"/><circle cx="574.9" cy="196.9" r="3.8"/><circle cx="420.3" cy="209.2" r="3.8"/><circle cx="760.4" cy="228.0" r="3.8"/><circle cx="837.4" cy="197.6" r="3.8"/><circle cx="403.0" cy="179.8" r="3.8"/><circle cx="519.5" cy="266.8" r="3.8"/><circle cx="609.0" cy="221.3" r="3.8"/><circle cx="437.9" cy="211.0" r="3.8"/><circle cx="777.5" cy="196.7" r="3.8"/><circle cx="653.3" cy="156.9" r="3.8"/><circle cx="406.6" cy="206.8" r="3.8"/><circle cx="361.8" cy="197.8" r="3.8"/><circle cx="707.7" cy="195.3" r="3.8"/><circle cx="543.7" cy="244.8" r="3.8"/><circle cx="269.5" cy="160.4" r="3.8"/><circle cx="393.0" cy="205.2" r="3.8"/><circle cx="467.6" cy="202.8" r="3.8"/><circle cx="421.0" cy="224.3" r="3.8"/><circle cx="635.1" cy="207.8" r="3.8"/><circle cx="493.1" cy="172.6" r="3.8"/><circle cx="418.6" cy="222.9" r="3.8"/><circle cx="520.2" cy="201.8" r="3.8"/><circle cx="571.4" cy="211.6" r="3.8"/><circle cx="494.3" cy="204.3" r="3.8"/><circle cx="666.1" cy="243.0" r="3.8"/><circle cx="524.7" cy="245.4" r="3.8"/><circle cx="515.3" cy="184.4" r="3.8"/><circle cx="548.4" cy="187.9" r="3.8"/><circle cx="737.4" cy="201.9" r="3.8"/><circle cx="478.0" cy="224.2" r="3.8"/><circle cx="604.2" cy="191.8" r="3.8"/><circle cx="397.7" cy="227.0" r="3.8"/><circle cx="522.0" cy="213.8" r="3.8"/><circle cx="762.8" cy="235.4" r="3.8"/><circle cx="416.7" cy="210.5" r="3.8"/><circle cx="547.0" cy="147.7" r="3.8"/><circle cx="298.1" cy="165.1" r="3.8"/><circle cx="496.4" cy="196.6" r="3.8"/><circle cx="475.1" cy="199.9" r="3.8"/><circle cx="653.6" cy="238.8" r="3.8"/><circle cx="323.9" cy="163.6" r="3.8"/><circle cx="563.5" cy="201.9" r="3.8"/><circle cx="574.8" cy="214.2" r="3.8"/><circle cx="660.6" cy="183.2" r="3.8"/><circle cx="643.9" cy="230.0" r="3.8"/><circle cx="758.6" cy="182.6" r="3.8"/><circle cx="388.4" cy="215.3" r="3.8"/><circle cx="540.8" cy="232.7" r="3.8"/><circle cx="378.7" cy="205.0" r="3.8"/><circle cx="654.7" cy="189.2" r="3.8"/><circle cx="416.0" cy="156.1" r="3.8"/><circle cx="505.8" cy="184.4" r="3.8"/><circle cx="689.4" cy="206.1" r="3.8"/><circle cx="470.9" cy="200.5" r="3.8"/><circle cx="573.0" cy="226.7" r="3.8"/><circle cx="594.1" cy="184.0" r="3.8"/><circle cx="516.4" cy="198.9" r="3.8"/><circle cx="326.6" cy="195.4" r="3.8"/><circle cx="487.8" cy="218.3" r="3.8"/><circle cx="789.2" cy="197.5" r="3.8"/><circle cx="615.7" cy="210.2" r="3.8"/><circle cx="586.8" cy="223.6" r="3.8"/><circle cx="625.8" cy="200.8" r="3.8"/><circle cx="731.4" cy="204.2" r="3.8"/><circle cx="666.4" cy="159.7" r="3.8"/><circle cx="656.2" cy="192.9" r="3.8"/><circle cx="491.6" cy="227.9" r="3.8"/><circle cx="375.5" cy="216.7" r="3.8"/><circle cx="675.6" cy="186.2" r="3.8"/><circle cx="529.2" cy="208.6" r="3.8"/><circle cx="612.9" cy="245.3" r="3.8"/><circle cx="499.1" cy="212.7" r="3.8"/><circle cx="702.1" cy="208.4" r="3.8"/><circle cx="743.1" cy="216.3" r="3.8"/><circle cx="506.4" cy="220.6" r="3.8"/><circle cx="537.2" cy="193.0" r="3.8"/><circle cx="615.0" cy="185.4" r="3.8"/><circle cx="394.9" cy="204.2" r="3.8"/><circle cx="494.1" cy="246.8" r="3.8"/><circle cx="408.6" cy="198.9" r="3.8"/><circle cx="425.1" cy="263.7" r="3.8"/><circle cx="747.9" cy="204.6" r="3.8"/><circle cx="647.1" cy="208.2" r="3.8"/><circle cx="612.2" cy="174.4" r="3.8"/><circle cx="649.4" cy="181.3" r="3.8"/><circle cx="618.8" cy="217.0" r="3.8"/><circle cx="620.0" cy="203.2" r="3.8"/><circle cx="288.1" cy="217.3" r="3.8"/><circle cx="558.0" cy="244.0" r="3.8"/><circle cx="716.1" cy="183.0" r="3.8"/><circle cx="650.4" cy="204.6" r="3.8"/><circle cx="588.9" cy="207.1" r="3.8"/><circle cx="547.7" cy="246.6" r="3.8"/><circle cx="416.1" cy="224.6" r="3.8"/><circle cx="632.3" cy="258.6" r="3.8"/><circle cx="421.9" cy="242.2" r="3.8"/><circle cx="603.5" cy="176.6" r="3.8"/><circle cx="431.4" cy="171.4" r="3.8"/><circle cx="342.4" cy="211.9" r="3.8"/><circle cx="606.4" cy="250.9" r="3.8"/><circle cx="617.1" cy="225.8" r="3.8"/><circle cx="660.8" cy="204.5" r="3.8"/><circle cx="446.9" cy="238.1" r="3.8"/><circle cx="626.2" cy="175.0" r="3.8"/><circle cx="401.2" cy="155.6" r="3.8"/><circle cx="618.4" cy="218.0" r="3.8"/><circle cx="695.9" cy="209.2" r="3.8"/><circle cx="316.4" cy="230.9" r="3.8"/><circle cx="542.2" cy="277.0" r="3.8"/><circle cx="553.1" cy="225.4" r="3.8"/><circle cx="646.9" cy="229.4" r="3.8"/><circle cx="658.5" cy="205.9" r="3.8"/><circle cx="526.4" cy="273.4" r="3.8"/><circle cx="471.3" cy="207.6" r="3.8"/><circle cx="520.4" cy="219.2" r="3.8"/><circle cx="531.9" cy="197.5" r="3.8"/><circle cx="597.7" cy="214.1" r="3.8"/><circle cx="285.1" cy="222.1" r="3.8"/><circle cx="237.0" cy="195.6" r="3.8"/><circle cx="768.7" cy="212.0" r="3.8"/><circle cx="594.6" cy="244.9" r="3.8"/><circle cx="656.0" cy="210.7" r="3.8"/><circle cx="412.8" cy="185.3" r="3.8"/><circle cx="522.9" cy="251.1" r="3.8"/><circle cx="510.8" cy="216.5" r="3.8"/><circle cx="582.0" cy="223.5" r="3.8"/><circle cx="557.9" cy="230.8" r="3.8"/><circle cx="342.2" cy="242.1" r="3.8"/><circle cx="453.3" cy="211.0" r="3.8"/><circle cx="509.7" cy="228.1" r="3.8"/><circle cx="357.9" cy="174.7" r="3.8"/><circle cx="701.1" cy="171.2" r="3.8"/><circle cx="507.2" cy="183.7" r="3.8"/><circle cx="623.7" cy="216.0" r="3.8"/><circle cx="497.3" cy="228.9" r="3.8"/><circle cx="470.3" cy="189.6" r="3.8"/><circle cx="579.1" cy="239.6" r="3.8"/><circle cx="683.4" cy="193.9" r="3.8"/><circle cx="642.4" cy="182.7" r="3.8"/><circle cx="619.1" cy="197.6" r="3.8"/><circle cx="415.0" cy="195.5" r="3.8"/><circle cx="610.6" cy="249.9" r="3.8"/><circle cx="395.8" cy="195.4" r="3.8"/><circle cx="540.2" cy="268.7" r="3.8"/><circle cx="655.4" cy="232.7" r="3.8"/><circle cx="477.9" cy="249.4" r="3.8"/><circle cx="354.5" cy="180.8" r="3.8"/><circle cx="321.2" cy="205.7" r="3.8"/><circle cx="551.0" cy="149.0" r="3.8"/><circle cx="671.4" cy="216.5" r="3.8"/><circle cx="537.6" cy="248.3" r="3.8"/><circle cx="493.5" cy="201.0" r="3.8"/><circle cx="312.8" cy="192.2" r="3.8"/><circle cx="490.8" cy="176.2" r="3.8"/><circle cx="500.8" cy="229.1" r="3.8"/><circle cx="708.1" cy="185.8" r="3.8"/><circle cx="687.6" cy="190.6" r="3.8"/><circle cx="394.4" cy="233.1" r="3.8"/><circle cx="576.1" cy="210.1" r="3.8"/><circle cx="509.3" cy="171.0" r="3.8"/><circle cx="504.8" cy="214.0" r="3.8"/><circle cx="636.7" cy="217.4" r="3.8"/><circle cx="670.3" cy="224.8" r="3.8"/><circle cx="483.9" cy="220.5" r="3.8"/><circle cx="797.5" cy="174.8" r="3.8"/><circle cx="663.4" cy="220.2" r="3.8"/><circle cx="437.6" cy="225.0" r="3.8"/><circle cx="436.0" cy="192.8" r="3.8"/><circle cx="401.6" cy="238.2" r="3.8"/><circle cx="460.5" cy="236.6" r="3.8"/><circle cx="533.1" cy="198.5" r="3.8"/><circle cx="645.3" cy="188.5" r="3.8"/><circle cx="400.7" cy="169.4" r="3.8"/><circle cx="486.8" cy="222.1" r="3.8"/><circle cx="470.6" cy="232.6" r="3.8"/><circle cx="435.7" cy="197.5" r="3.8"/><circle cx="419.2" cy="199.0" r="3.8"/><circle cx="639.2" cy="264.6" r="3.8"/><circle cx="595.3" cy="257.7" r="3.8"/><circle cx="671.0" cy="221.9" r="3.8"/><circle cx="395.9" cy="180.6" r="3.8"/><circle cx="493.2" cy="207.9" r="3.8"/><circle cx="594.4" cy="208.4" r="3.8"/><circle cx="346.4" cy="232.5" r="3.8"/><circle cx="717.6" cy="191.5" r="3.8"/><circle cx="460.2" cy="165.7" r="3.8"/><circle cx="371.4" cy="206.0" r="3.8"/><circle cx="648.0" cy="256.6" r="3.8"/><circle cx="583.8" cy="187.3" r="3.8"/><circle cx="667.1" cy="216.4" r="3.8"/><circle cx="382.9" cy="238.3" r="3.8"/><circle cx="768.5" cy="194.8" r="3.8"/><circle cx="490.0" cy="211.7" r="3.8"/><circle cx="387.0" cy="182.4" r="3.8"/><circle cx="790.7" cy="187.2" r="3.8"/><circle cx="803.9" cy="179.8" r="3.8"/><circle cx="575.2" cy="196.4" r="3.8"/><circle cx="607.3" cy="189.1" r="3.8"/><circle cx="455.5" cy="234.2" r="3.8"/><circle cx="692.7" cy="219.0" r="3.8"/><circle cx="512.2" cy="186.0" r="3.8"/><circle cx="636.0" cy="244.0" r="3.8"/><circle cx="611.4" cy="209.7" r="3.8"/><circle cx="676.4" cy="170.5" r="3.8"/><circle cx="390.8" cy="179.8" r="3.8"/><circle cx="462.9" cy="212.0" r="3.8"/><circle cx="490.4" cy="202.6" r="3.8"/><circle cx="255.7" cy="232.0" r="3.8"/><circle cx="555.7" cy="172.1" r="3.8"/><circle cx="400.9" cy="191.5" r="3.8"/><circle cx="358.2" cy="214.2" r="3.8"/><circle cx="673.1" cy="214.4" r="3.8"/><circle cx="557.8" cy="168.7" r="3.8"/><circle cx="381.5" cy="265.4" r="3.8"/><circle cx="263.8" cy="213.7" r="3.8"/><circle cx="405.4" cy="144.0" r="3.8"/><circle cx="509.5" cy="202.2" r="3.8"/><circle cx="649.9" cy="200.5" r="3.8"/><circle cx="602.2" cy="196.9" r="3.8"/><circle cx="572.0" cy="202.7" r="3.8"/><circle cx="571.0" cy="199.6" r="3.8"/><circle cx="531.1" cy="248.1" r="3.8"/><circle cx="677.7" cy="215.6" r="3.8"/><circle cx="597.4" cy="214.2" r="3.8"/><circle cx="761.7" cy="215.9" r="3.8"/><circle cx="458.4" cy="222.8" r="3.8"/><circle cx="298.7" cy="215.8" r="3.8"/><circle cx="276.4" cy="209.1" r="3.8"/><circle cx="571.1" cy="213.9" r="3.8"/><circle cx="478.3" cy="205.5" r="3.8"/><circle cx="631.8" cy="199.1" r="3.8"/><circle cx="473.1" cy="226.6" r="3.8"/><circle cx="678.3" cy="255.0" r="3.8"/><circle cx="515.5" cy="220.4" r="3.8"/><circle cx="535.2" cy="194.9" r="3.8"/><circle cx="471.6" cy="228.2" r="3.8"/><circle cx="493.4" cy="192.0" r="3.8"/><circle cx="576.3" cy="221.5" r="3.8"/><circle cx="595.3" cy="177.7" r="3.8"/><circle cx="614.1" cy="196.0" r="3.8"/><circle cx="452.8" cy="205.7" r="3.8"/><circle cx="506.8" cy="208.7" r="3.8"/><circle cx="592.1" cy="211.1" r="3.8"/><circle cx="411.1" cy="154.1" r="3.8"/><circle cx="360.5" cy="245.0" r="3.8"/><circle cx="579.9" cy="187.1" r="3.8"/><circle cx="374.3" cy="202.8" r="3.8"/><circle cx="516.2" cy="217.7" r="3.8"/><circle cx="362.6" cy="252.6" r="3.8"/><circle cx="544.4" cy="172.4" r="3.8"/><circle cx="517.6" cy="188.9" r="3.8"/><circle cx="626.4" cy="235.4" r="3.8"/><circle cx="633.4" cy="161.1" r="3.8"/><circle cx="605.1" cy="168.4" r="3.8"/><circle cx="745.5" cy="188.0" r="3.8"/><circle cx="508.3" cy="176.7" r="3.8"/><circle cx="625.0" cy="237.2" r="3.8"/><circle cx="460.4" cy="210.4" r="3.8"/><circle cx="323.5" cy="200.9" r="3.8"/><circle cx="419.8" cy="174.1" r="3.8"/><circle cx="755.0" cy="185.0" r="3.8"/><circle cx="697.1" cy="229.3" r="3.8"/><circle cx="692.2" cy="176.2" r="3.8"/><circle cx="686.1" cy="218.8" r="3.8"/><circle cx="361.3" cy="195.4" r="3.8"/><circle cx="573.9" cy="226.7" r="3.8"/><circle cx="482.1" cy="220.1" r="3.8"/><circle cx="678.2" cy="188.2" r="3.8"/><circle cx="720.3" cy="207.5" r="3.8"/><circle cx="413.7" cy="175.3" r="3.8"/><circle cx="542.0" cy="191.8" r="3.8"/><circle cx="527.9" cy="254.4" r="3.8"/><circle cx="384.5" cy="203.4" r="3.8"/><circle cx="630.2" cy="205.4" r="3.8"/><circle cx="589.7" cy="180.9" r="3.8"/><circle cx="680.2" cy="195.1" r="3.8"/><circle cx="459.1" cy="177.3" r="3.8"/><circle cx="767.3" cy="228.5" r="3.8"/><circle cx="445.1" cy="175.2" r="3.8"/><circle cx="539.8" cy="161.3" r="3.8"/><circle cx="471.1" cy="240.5" r="3.8"/><circle cx="686.8" cy="200.5" r="3.8"/><circle cx="705.2" cy="230.0" r="3.8"/><circle cx="702.0" cy="197.4" r="3.8"/><circle cx="643.6" cy="158.0" r="3.8"/><circle cx="569.6" cy="213.2" r="3.8"/><circle cx="539.2" cy="186.0" r="3.8"/><circle cx="644.7" cy="239.0" r="3.8"/><circle cx="612.7" cy="213.7" r="3.8"/><circle cx="769.7" cy="207.8" r="3.8"/><circle cx="361.7" cy="232.9" r="3.8"/><circle cx="419.0" cy="229.4" r="3.8"/><circle cx="503.8" cy="196.1" r="3.8"/><circle cx="622.2" cy="192.4" r="3.8"/><circle cx="613.2" cy="210.8" r="3.8"/><circle cx="475.0" cy="199.4" r="3.8"/><circle cx="483.5" cy="238.3" r="3.8"/><circle cx="606.0" cy="217.0" r="3.8"/><circle cx="684.3" cy="201.7" r="3.8"/><circle cx="537.1" cy="194.7" r="3.8"/><circle cx="624.7" cy="231.0" r="3.8"/><circle cx="302.8" cy="248.5" r="3.8"/><circle cx="538.3" cy="202.4" r="3.8"/><circle cx="676.4" cy="197.8" r="3.8"/><circle cx="632.3" cy="198.9" r="3.8"/><circle cx="592.0" cy="188.1" r="3.8"/><circle cx="558.5" cy="199.0" r="3.8"/><circle cx="392.2" cy="206.1" r="3.8"/><circle cx="512.5" cy="196.0" r="3.8"/><circle cx="504.5" cy="186.7" r="3.8"/><circle cx="385.9" cy="249.2" r="3.8"/><circle cx="605.4" cy="209.5" r="3.8"/><circle cx="562.5" cy="200.0" r="3.8"/><circle cx="545.6" cy="176.8" r="3.8"/><circle cx="529.2" cy="194.1" r="3.8"/><circle cx="724.3" cy="220.8" r="3.8"/><circle cx="710.7" cy="213.6" r="3.8"/><circle cx="522.5" cy="245.7" r="3.8"/><circle cx="500.7" cy="202.7" r="3.8"/><circle cx="669.3" cy="225.2" r="3.8"/><circle cx="558.1" cy="213.7" r="3.8"/><circle cx="693.0" cy="236.8" r="3.8"/><circle cx="516.8" cy="224.9" r="3.8"/><circle cx="416.8" cy="205.1" r="3.8"/><circle cx="635.9" cy="192.9" r="3.8"/><circle cx="618.7" cy="201.9" r="3.8"/><circle cx="575.7" cy="223.7" r="3.8"/><circle cx="387.7" cy="228.5" r="3.8"/><circle cx="591.6" cy="240.5" r="3.8"/><circle cx="546.2" cy="189.3" r="3.8"/><circle cx="539.7" cy="233.6" r="3.8"/><circle cx="574.9" cy="234.9" r="3.8"/><circle cx="676.7" cy="203.8" r="3.8"/><circle cx="496.4" cy="194.1" r="3.8"/><circle cx="584.6" cy="169.1" r="3.8"/><circle cx="796.4" cy="187.0" r="3.8"/><circle cx="508.0" cy="152.3" r="3.8"/><circle cx="446.0" cy="252.0" r="3.8"/><circle cx="571.4" cy="214.8" r="3.8"/><circle cx="641.7" cy="196.2" r="3.8"/><circle cx="484.0" cy="219.9" r="3.8"/><circle cx="676.8" cy="213.7" r="3.8"/><circle cx="581.8" cy="207.7" r="3.8"/><circle cx="610.9" cy="209.8" r="3.8"/><circle cx="518.5" cy="213.0" r="3.8"/><circle cx="436.3" cy="183.5" r="3.8"/><circle cx="525.8" cy="220.8" r="3.8"/><circle cx="656.9" cy="187.0" r="3.8"/><circle cx="639.9" cy="196.1" r="3.8"/><circle cx="372.7" cy="209.4" r="3.8"/><circle cx="732.4" cy="191.9" r="3.8"/><circle cx="633.0" cy="188.6" r="3.8"/><circle cx="389.8" cy="231.6" r="3.8"/><circle cx="695.5" cy="211.6" r="3.8"/><circle cx="488.6" cy="248.1" r="3.8"/><circle cx="471.9" cy="178.9" r="3.8"/><circle cx="461.9" cy="273.5" r="3.8"/><circle cx="559.4" cy="196.7" r="3.8"/><circle cx="526.8" cy="208.4" r="3.8"/><circle cx="419.8" cy="203.8" r="3.8"/><circle cx="615.9" cy="211.6" r="3.8"/><circle cx="591.0" cy="195.0" r="3.8"/><circle cx="521.9" cy="207.3" r="3.8"/><circle cx="641.3" cy="227.6" r="3.8"/><circle cx="222.8" cy="220.6" r="3.8"/><circle cx="791.0" cy="197.3" r="3.8"/><circle cx="519.4" cy="143.7" r="3.8"/><circle cx="528.6" cy="187.6" r="3.8"/><circle cx="818.2" cy="190.2" r="3.8"/><circle cx="462.7" cy="216.4" r="3.8"/><circle cx="537.2" cy="196.3" r="3.8"/><circle cx="490.2" cy="217.4" r="3.8"/><circle cx="607.5" cy="204.8" r="3.8"/><circle cx="414.7" cy="201.5" r="3.8"/><circle cx="564.5" cy="244.2" r="3.8"/><circle cx="592.3" cy="192.7" r="3.8"/><circle cx="512.2" cy="192.6" r="3.8"/><circle cx="543.1" cy="239.2" r="3.8"/><circle cx="311.9" cy="203.0" r="3.8"/><circle cx="502.7" cy="224.5" r="3.8"/><circle cx="456.5" cy="171.1" r="3.8"/><circle cx="643.2" cy="218.3" r="3.8"/><circle cx="563.2" cy="197.6" r="3.8"/><circle cx="555.8" cy="180.2" r="3.8"/><circle cx="488.6" cy="219.3" r="3.8"/><circle cx="563.4" cy="206.2" r="3.8"/><circle cx="270.1" cy="191.7" r="3.8"/><circle cx="228.8" cy="224.3" r="3.8"/><circle cx="554.7" cy="224.9" r="3.8"/><circle cx="659.4" cy="201.0" r="3.8"/><circle cx="405.4" cy="232.3" r="3.8"/><circle cx="576.1" cy="204.7" r="3.8"/><circle cx="685.1" cy="189.2" r="3.8"/><circle cx="443.7" cy="219.5" r="3.8"/><circle cx="562.1" cy="196.7" r="3.8"/><circle cx="837.1" cy="207.4" r="3.8"/><circle cx="582.3" cy="252.6" r="3.8"/><circle cx="685.8" cy="161.3" r="3.8"/><circle cx="600.3" cy="185.6" r="3.8"/><circle cx="581.7" cy="208.9" r="3.8"/><circle cx="638.6" cy="211.6" r="3.8"/><circle cx="741.3" cy="199.7" r="3.8"/><circle cx="681.5" cy="204.0" r="3.8"/><circle cx="370.5" cy="162.2" r="3.8"/><circle cx="621.3" cy="210.6" r="3.8"/><circle cx="553.9" cy="180.2" r="3.8"/><circle cx="424.8" cy="169.1" r="3.8"/><circle cx="705.4" cy="220.5" r="3.8"/><circle cx="275.0" cy="245.6" r="3.8"/><circle cx="502.4" cy="218.8" r="3.8"/><circle cx="380.2" cy="202.2" r="3.8"/><circle cx="588.1" cy="264.2" r="3.8"/><circle cx="530.1" cy="226.0" r="3.8"/><circle cx="570.8" cy="218.5" r="3.8"/><circle cx="569.6" cy="178.4" r="3.8"/><circle cx="450.9" cy="221.7" r="3.8"/><circle cx="482.4" cy="208.0" r="3.8"/><circle cx="472.9" cy="231.4" r="3.8"/><circle cx="436.9" cy="200.5" r="3.8"/><circle cx="719.3" cy="194.7" r="3.8"/><circle cx="382.1" cy="207.7" r="3.8"/><circle cx="410.1" cy="217.1" r="3.8"/><circle cx="551.3" cy="204.3" r="3.8"/><circle cx="614.4" cy="188.0" r="3.8"/><circle cx="644.1" cy="222.3" r="3.8"/><circle cx="599.9" cy="202.9" r="3.8"/><circle cx="636.9" cy="213.3" r="3.8"/><circle cx="761.3" cy="197.8" r="3.8"/><circle cx="820.7" cy="182.3" r="3.8"/><circle cx="323.2" cy="242.3" r="3.8"/><circle cx="554.6" cy="248.3" r="3.8"/><circle cx="464.7" cy="212.9" r="3.8"/><circle cx="647.0" cy="196.8" r="3.8"/><circle cx="531.1" cy="214.2" r="3.8"/><circle cx="563.2" cy="246.3" r="3.8"/><circle cx="490.5" cy="237.5" r="3.8"/><circle cx="471.4" cy="155.4" r="3.8"/><circle cx="507.5" cy="199.3" r="3.8"/><circle cx="436.1" cy="246.7" r="3.8"/><circle cx="678.8" cy="218.5" r="3.8"/><circle cx="505.9" cy="180.4" r="3.8"/><circle cx="662.4" cy="184.2" r="3.8"/><circle cx="643.5" cy="204.6" r="3.8"/><circle cx="691.7" cy="234.2" r="3.8"/><circle cx="713.5" cy="197.0" r="3.8"/><circle cx="649.9" cy="188.5" r="3.8"/><circle cx="676.6" cy="212.8" r="3.8"/><circle cx="376.0" cy="212.6" r="3.8"/><circle cx="589.5" cy="187.7" r="3.8"/><circle cx="526.9" cy="217.2" r="3.8"/><circle cx="375.6" cy="222.6" r="3.8"/><circle cx="732.5" cy="210.7" r="3.8"/><circle cx="690.7" cy="222.2" r="3.8"/><circle cx="497.8" cy="264.3" r="3.8"/><circle cx="604.7" cy="144.9" r="3.8"/><circle cx="533.4" cy="216.6" r="3.8"/><circle cx="689.5" cy="204.5" r="3.8"/><circle cx="530.9" cy="161.3" r="3.8"/><circle cx="518.6" cy="219.7" r="3.8"/><circle cx="631.4" cy="219.4" r="3.8"/><circle cx="658.5" cy="235.1" r="3.8"/><circle cx="683.8" cy="216.0" r="3.8"/><circle cx="534.4" cy="196.9" r="3.8"/><circle cx="392.6" cy="245.0" r="3.8"/><circle cx="429.0" cy="202.3" r="3.8"/><circle cx="803.0" cy="214.0" r="3.8"/><circle cx="579.5" cy="250.2" r="3.8"/><circle cx="575.9" cy="211.2" r="3.8"/><circle cx="504.5" cy="221.5" r="3.8"/><circle cx="594.4" cy="223.3" r="3.8"/><circle cx="476.2" cy="231.0" r="3.8"/><circle cx="556.7" cy="225.7" r="3.8"/><circle cx="550.5" cy="209.7" r="3.8"/><circle cx="712.0" cy="205.3" r="3.8"/><circle cx="605.3" cy="201.1" r="3.8"/><circle cx="340.5" cy="202.1" r="3.8"/><circle cx="391.7" cy="252.7" r="3.8"/><circle cx="606.6" cy="190.4" r="3.8"/><circle cx="525.3" cy="209.4" r="3.8"/><circle cx="577.7" cy="158.9" r="3.8"/><circle cx="788.1" cy="185.2" r="3.8"/><circle cx="326.1" cy="187.7" r="3.8"/><circle cx="354.1" cy="178.8" r="3.8"/><circle cx="563.5" cy="234.5" r="3.8"/><circle cx="426.2" cy="250.1" r="3.8"/><circle cx="586.0" cy="203.1" r="3.8"/><circle cx="698.8" cy="205.0" r="3.8"/><circle cx="523.0" cy="194.4" r="3.8"/><circle cx="579.1" cy="223.3" r="3.8"/><circle cx="427.0" cy="212.0" r="3.8"/><circle cx="554.1" cy="199.7" r="3.8"/><circle cx="597.6" cy="195.2" r="3.8"/><circle cx="636.1" cy="198.9" r="3.8"/><circle cx="622.6" cy="223.3" r="3.8"/><circle cx="406.0" cy="207.7" r="3.8"/><circle cx="455.0" cy="196.8" r="3.8"/><circle cx="571.5" cy="228.6" r="3.8"/><circle cx="678.9" cy="189.1" r="3.8"/><circle cx="396.8" cy="175.2" r="3.8"/><circle cx="498.2" cy="219.0" r="3.8"/><circle cx="465.3" cy="164.8" r="3.8"/><circle cx="441.0" cy="211.3" r="3.8"/><circle cx="359.2" cy="232.2" r="3.8"/><circle cx="573.0" cy="159.6" r="3.8"/><circle cx="458.1" cy="184.8" r="3.8"/><circle cx="490.3" cy="175.3" r="3.8"/><circle cx="735.9" cy="185.3" r="3.8"/><circle cx="523.3" cy="252.3" r="3.8"/><circle cx="469.0" cy="224.8" r="3.8"/><circle cx="706.1" cy="229.8" r="3.8"/><circle cx="637.8" cy="223.7" r="3.8"/><circle cx="484.1" cy="279.7" r="3.8"/><circle cx="646.6" cy="211.7" r="3.8"/><circle cx="809.6" cy="221.6" r="3.8"/><circle cx="623.3" cy="179.1" r="3.8"/><circle cx="439.2" cy="232.2" r="3.8"/><circle cx="617.4" cy="233.9" r="3.8"/><circle cx="605.6" cy="179.2" r="3.8"/><circle cx="668.8" cy="236.4" r="3.8"/><circle cx="538.0" cy="232.8" r="3.8"/><circle cx="480.1" cy="157.6" r="3.8"/><circle cx="392.5" cy="225.9" r="3.8"/><circle cx="662.7" cy="223.4" r="3.8"/><circle cx="602.9" cy="231.2" r="3.8"/><circle cx="696.0" cy="219.8" r="3.8"/><circle cx="562.1" cy="197.4" r="3.8"/><circle cx="485.0" cy="259.4" r="3.8"/><circle cx="575.3" cy="215.9" r="3.8"/><circle cx="719.0" cy="183.7" r="3.8"/><circle cx="582.7" cy="241.3" r="3.8"/><circle cx="215.9" cy="208.5" r="3.8"/><circle cx="504.8" cy="144.5" r="3.8"/><circle cx="623.7" cy="197.9" r="3.8"/><circle cx="620.8" cy="158.2" r="3.8"/><circle cx="706.3" cy="225.3" r="3.8"/><circle cx="611.6" cy="269.5" r="3.8"/><circle cx="331.3" cy="207.9" r="3.8"/><circle cx="490.3" cy="223.5" r="3.8"/><circle cx="303.8" cy="203.2" r="3.8"/><circle cx="484.6" cy="201.6" r="3.8"/><circle cx="446.3" cy="200.1" r="3.8"/><circle cx="381.1" cy="237.6" r="3.8"/><circle cx="602.0" cy="162.3" r="3.8"/><circle cx="634.1" cy="229.3" r="3.8"/><circle cx="448.3" cy="216.2" r="3.8"/><circle cx="584.8" cy="187.5" r="3.8"/><circle cx="592.7" cy="238.2" r="3.8"/><circle cx="586.5" cy="212.2" r="3.8"/><circle cx="260.2" cy="214.9" r="3.8"/><circle cx="395.7" cy="198.0" r="3.8"/><circle cx="555.2" cy="213.5" r="3.8"/><circle cx="508.5" cy="210.4" r="3.8"/><circle cx="544.5" cy="191.7" r="3.8"/><circle cx="469.4" cy="184.5" r="3.8"/><circle cx="447.1" cy="182.4" r="3.8"/><circle cx="491.2" cy="224.4" r="3.8"/><circle cx="447.6" cy="224.8" r="3.8"/><circle cx="382.8" cy="196.0" r="3.8"/><circle cx="596.2" cy="199.5" r="3.8"/><circle cx="490.0" cy="221.9" r="3.8"/><circle cx="533.3" cy="217.7" r="3.8"/><circle cx="570.8" cy="180.1" r="3.8"/><circle cx="820.1" cy="219.4" r="3.8"/><circle cx="551.7" cy="167.8" r="3.8"/><circle cx="743.9" cy="215.9" r="3.8"/><circle cx="601.5" cy="248.8" r="3.8"/><circle cx="479.8" cy="185.8" r="3.8"/><circle cx="698.1" cy="187.7" r="3.8"/><circle cx="258.5" cy="172.2" r="3.8"/><circle cx="396.3" cy="199.7" r="3.8"/><circle cx="504.5" cy="213.4" r="3.8"/><circle cx="478.2" cy="214.9" r="3.8"/><circle cx="509.6" cy="216.8" r="3.8"/><circle cx="779.8" cy="178.6" r="3.8"/><circle cx="551.6" cy="268.0" r="3.8"/><circle cx="342.3" cy="242.1" r="3.8"/><circle cx="555.1" cy="217.7" r="3.8"/><circle cx="754.7" cy="181.5" r="3.8"/><circle cx="526.0" cy="226.6" r="3.8"/><circle cx="548.7" cy="256.6" r="3.8"/><circle cx="429.8" cy="178.5" r="3.8"/><circle cx="457.1" cy="192.1" r="3.8"/><circle cx="680.7" cy="206.2" r="3.8"/><circle cx="537.5" cy="208.8" r="3.8"/><circle cx="525.1" cy="204.8" r="3.8"/><circle cx="608.4" cy="204.3" r="3.8"/><circle cx="455.2" cy="180.5" r="3.8"/><circle cx="227.1" cy="200.2" r="3.8"/><circle cx="530.5" cy="206.8" r="3.8"/><circle cx="508.7" cy="175.6" r="3.8"/><circle cx="682.3" cy="218.3" r="3.8"/><circle cx="619.7" cy="214.8" r="3.8"/><circle cx="704.1" cy="192.4" r="3.8"/><circle cx="630.0" cy="213.2" r="3.8"/><circle cx="464.2" cy="206.1" r="3.8"/><circle cx="571.7" cy="175.9" r="3.8"/><circle cx="496.6" cy="237.3" r="3.8"/><circle cx="759.4" cy="222.5" r="3.8"/><circle cx="511.4" cy="192.1" r="3.8"/><circle cx="688.5" cy="227.0" r="3.8"/><circle cx="539.5" cy="210.9" r="3.8"/><circle cx="432.4" cy="242.5" r="3.8"/><circle cx="396.2" cy="172.9" r="3.8"/><circle cx="626.7" cy="221.3" r="3.8"/><circle cx="645.8" cy="194.2" r="3.8"/><circle cx="436.9" cy="193.4" r="3.8"/><circle cx="617.6" cy="193.8" r="3.8"/><circle cx="496.4" cy="217.2" r="3.8"/><circle cx="593.9" cy="219.5" r="3.8"/><circle cx="421.2" cy="213.1" r="3.8"/><circle cx="503.1" cy="238.8" r="3.8"/><circle cx="470.5" cy="234.6" r="3.8"/><circle cx="531.1" cy="211.5" r="3.8"/><circle cx="601.5" cy="223.8" r="3.8"/><circle cx="625.8" cy="185.2" r="3.8"/><circle cx="547.4" cy="222.5" r="3.8"/><circle cx="609.4" cy="181.4" r="3.8"/><circle cx="522.9" cy="182.2" r="3.8"/><circle cx="355.0" cy="258.9" r="3.8"/><circle cx="628.9" cy="215.2" r="3.8"/><circle cx="495.3" cy="226.8" r="3.8"/><circle cx="512.8" cy="228.9" r="3.8"/><circle cx="671.2" cy="174.6" r="3.8"/><circle cx="466.5" cy="162.6" r="3.8"/><circle cx="682.5" cy="219.5" r="3.8"/><circle cx="839.7" cy="184.6" r="3.8"/><circle cx="389.5" cy="192.2" r="3.8"/><circle cx="269.1" cy="197.1" r="3.8"/><circle cx="274.6" cy="189.5" r="3.8"/><circle cx="614.4" cy="198.8" r="3.8"/><circle cx="633.3" cy="180.3" r="3.8"/><circle cx="676.4" cy="260.4" r="3.8"/><circle cx="320.6" cy="237.7" r="3.8"/><circle cx="647.1" cy="201.2" r="3.8"/><circle cx="594.8" cy="183.5" r="3.8"/><circle cx="592.6" cy="213.9" r="3.8"/><circle cx="467.9" cy="231.5" r="3.8"/><circle cx="559.5" cy="179.7" r="3.8"/><circle cx="444.0" cy="238.4" r="3.8"/><circle cx="307.0" cy="182.9" r="3.8"/><circle cx="527.0" cy="198.3" r="3.8"/><circle cx="687.6" cy="221.1" r="3.8"/><circle cx="668.7" cy="221.9" r="3.8"/><circle cx="457.7" cy="235.9" r="3.8"/><circle cx="623.5" cy="208.1" r="3.8"/><circle cx="506.0" cy="191.8" r="3.8"/><circle cx="552.4" cy="218.7" r="3.8"/><circle cx="595.0" cy="233.3" r="3.8"/><circle cx="635.8" cy="185.0" r="3.8"/><circle cx="436.5" cy="247.6" r="3.8"/><circle cx="480.0" cy="220.6" r="3.8"/><circle cx="419.1" cy="205.6" r="3.8"/><circle cx="606.5" cy="209.1" r="3.8"/><circle cx="664.2" cy="215.3" r="3.8"/><circle cx="560.8" cy="216.1" r="3.8"/><circle cx="744.1" cy="213.9" r="3.8"/><circle cx="694.5" cy="179.6" r="3.8"/><circle cx="526.3" cy="236.6" r="3.8"/><circle cx="692.9" cy="177.7" r="3.8"/><circle cx="584.4" cy="172.3" r="3.8"/><circle cx="339.4" cy="171.3" r="3.8"/><circle cx="351.9" cy="174.1" r="3.8"/><circle cx="516.7" cy="215.4" r="3.8"/><circle cx="504.0" cy="214.0" r="3.8"/><circle cx="557.2" cy="214.2" r="3.8"/><circle cx="647.0" cy="189.8" r="3.8"/><circle cx="401.8" cy="172.1" r="3.8"/><circle cx="665.3" cy="173.4" r="3.8"/><circle cx="566.3" cy="207.2" r="3.8"/><circle cx="620.0" cy="162.7" r="3.8"/><circle cx="626.2" cy="206.9" r="3.8"/><circle cx="560.0" cy="202.6" r="3.8"/><circle cx="433.8" cy="232.5" r="3.8"/><circle cx="423.8" cy="220.7" r="3.8"/><circle cx="600.6" cy="169.2" r="3.8"/><circle cx="651.3" cy="272.3" r="3.8"/><circle cx="758.6" cy="222.9" r="3.8"/><circle cx="692.6" cy="171.1" r="3.8"/><circle cx="586.8" cy="205.9" r="3.8"/><circle cx="707.0" cy="220.4" r="3.8"/><circle cx="533.4" cy="209.5" r="3.8"/><circle cx="467.3" cy="182.1" r="3.8"/><circle cx="407.9" cy="148.4" r="3.8"/><circle cx="496.0" cy="239.2" r="3.8"/><circle cx="479.5" cy="213.1" r="3.8"/><circle cx="461.0" cy="198.4" r="3.8"/><circle cx="703.4" cy="201.9" r="3.8"/><circle cx="671.7" cy="220.2" r="3.8"/><circle cx="497.6" cy="175.8" r="3.8"/><circle cx="466.6" cy="233.4" r="3.8"/><circle cx="475.9" cy="230.0" r="3.8"/><circle cx="525.9" cy="220.1" r="3.8"/><circle cx="667.7" cy="196.8" r="3.8"/><circle cx="457.1" cy="241.3" r="3.8"/><circle cx="724.1" cy="171.7" r="3.8"/><circle cx="481.1" cy="207.8" r="3.8"/><circle cx="607.6" cy="217.0" r="3.8"/><circle cx="415.1" cy="244.2" r="3.8"/><circle cx="676.9" cy="212.3" r="3.8"/><circle cx="406.2" cy="194.1" r="3.8"/><circle cx="656.4" cy="241.4" r="3.8"/><circle cx="598.6" cy="197.0" r="3.8"/><circle cx="654.3" cy="212.5" r="3.8"/><circle cx="295.8" cy="198.1" r="3.8"/><circle cx="725.4" cy="199.4" r="3.8"/><circle cx="483.1" cy="207.6" r="3.8"/><circle cx="434.3" cy="193.1" r="3.8"/><circle cx="717.3" cy="215.8" r="3.8"/><circle cx="430.2" cy="197.1" r="3.8"/><circle cx="460.1" cy="220.9" r="3.8"/><circle cx="228.5" cy="214.3" r="3.8"/><circle cx="798.9" cy="205.6" r="3.8"/><circle cx="781.7" cy="187.3" r="3.8"/><circle cx="655.1" cy="172.5" r="3.8"/><circle cx="463.8" cy="231.3" r="3.8"/><circle cx="537.8" cy="244.4" r="3.8"/><circle cx="312.1" cy="181.4" r="3.8"/><circle cx="472.8" cy="183.9" r="3.8"/><circle cx="725.5" cy="182.9" r="3.8"/><circle cx="299.9" cy="207.7" r="3.8"/><circle cx="633.2" cy="201.2" r="3.8"/><circle cx="311.7" cy="233.2" r="3.8"/><circle cx="562.0" cy="194.9" r="3.8"/><circle cx="602.7" cy="193.7" r="3.8"/><circle cx="494.2" cy="191.3" r="3.8"/><circle cx="746.5" cy="212.8" r="3.8"/><circle cx="631.3" cy="209.8" r="3.8"/><circle cx="519.9" cy="210.1" r="3.8"/><circle cx="773.0" cy="206.3" r="3.8"/><circle cx="623.9" cy="231.8" r="3.8"/><circle cx="531.7" cy="190.2" r="3.8"/><circle cx="628.1" cy="222.8" r="3.8"/><circle cx="410.3" cy="204.5" r="3.8"/><circle cx="534.1" cy="176.5" r="3.8"/><circle cx="578.1" cy="201.1" r="3.8"/><circle cx="640.6" cy="165.0" r="3.8"/><circle cx="467.7" cy="226.0" r="3.8"/><circle cx="444.4" cy="202.6" r="3.8"/><circle cx="567.0" cy="191.1" r="3.8"/><circle cx="755.7" cy="213.5" r="3.8"/><circle cx="481.5" cy="246.6" r="3.8"/><circle cx="668.6" cy="163.5" r="3.8"/><circle cx="774.5" cy="174.2" r="3.8"/><circle cx="727.7" cy="174.3" r="3.8"/><circle cx="477.4" cy="205.4" r="3.8"/><circle cx="438.1" cy="200.9" r="3.8"/><circle cx="408.2" cy="217.6" r="3.8"/><circle cx="543.9" cy="222.8" r="3.8"/><circle cx="632.8" cy="210.6" r="3.8"/><circle cx="647.2" cy="190.8" r="3.8"/><circle cx="401.4" cy="195.6" r="3.8"/><circle cx="378.3" cy="188.4" r="3.8"/><circle cx="688.4" cy="171.8" r="3.8"/><circle cx="695.6" cy="226.0" r="3.8"/><circle cx="628.9" cy="204.8" r="3.8"/><circle cx="704.9" cy="168.5" r="3.8"/><circle cx="564.4" cy="224.5" r="3.8"/><circle cx="604.1" cy="180.1" r="3.8"/><circle cx="543.6" cy="159.0" r="3.8"/><circle cx="680.8" cy="166.4" r="3.8"/><circle cx="705.1" cy="172.3" r="3.8"/><circle cx="494.6" cy="170.7" r="3.8"/><circle cx="645.3" cy="174.8" r="3.8"/><circle cx="619.1" cy="208.2" r="3.8"/><circle cx="480.2" cy="263.3" r="3.8"/><circle cx="556.9" cy="205.6" r="3.8"/><circle cx="338.2" cy="224.9" r="3.8"/><circle cx="579.6" cy="230.4" r="3.8"/><circle cx="248.8" cy="191.3" r="3.8"/><circle cx="340.5" cy="215.4" r="3.8"/><circle cx="642.8" cy="163.9" r="3.8"/><circle cx="456.1" cy="192.6" r="3.8"/><circle cx="371.3" cy="210.3" r="3.8"/><circle cx="584.1" cy="264.3" r="3.8"/><circle cx="687.6" cy="221.8" r="3.8"/><circle cx="497.2" cy="219.9" r="3.8"/><circle cx="623.6" cy="197.2" r="3.8"/><circle cx="458.2" cy="194.2" r="3.8"/><circle cx="692.5" cy="211.0" r="3.8"/><circle cx="365.2" cy="172.1" r="3.8"/><circle cx="655.1" cy="275.3" r="3.8"/><circle cx="632.5" cy="179.9" r="3.8"/><circle cx="497.2" cy="198.9" r="3.8"/><circle cx="479.2" cy="213.8" r="3.8"/><circle cx="501.0" cy="156.2" r="3.8"/><circle cx="416.6" cy="209.8" r="3.8"/><circle cx="382.5" cy="208.3" r="3.8"/><circle cx="531.6" cy="250.4" r="3.8"/><circle cx="643.9" cy="189.4" r="3.8"/><circle cx="386.2" cy="191.9" r="3.8"/><circle cx="617.9" cy="230.2" r="3.8"/><circle cx="603.8" cy="208.6" r="3.8"/><circle cx="566.8" cy="180.7" r="3.8"/><circle cx="571.7" cy="232.2" r="3.8"/><circle cx="598.5" cy="218.0" r="3.8"/><circle cx="504.4" cy="240.7" r="3.8"/><circle cx="433.5" cy="188.8" r="3.8"/><circle cx="428.6" cy="231.9" r="3.8"/><circle cx="545.3" cy="223.3" r="3.8"/><circle cx="779.8" cy="170.4" r="3.8"/><circle cx="564.2" cy="223.0" r="3.8"/><circle cx="525.5" cy="218.6" r="3.8"/><circle cx="441.2" cy="176.8" r="3.8"/><circle cx="539.1" cy="219.5" r="3.8"/><circle cx="803.7" cy="170.8" r="3.8"/><circle cx="596.4" cy="210.5" r="3.8"/><circle cx="702.1" cy="185.7" r="3.8"/><circle cx="443.8" cy="219.5" r="3.8"/><circle cx="469.2" cy="191.2" r="3.8"/><circle cx="583.5" cy="238.4" r="3.8"/><circle cx="572.7" cy="207.1" r="3.8"/><circle cx="561.7" cy="169.7" r="3.8"/><circle cx="322.2" cy="159.3" r="3.8"/><circle cx="680.7" cy="190.4" r="3.8"/><circle cx="377.0" cy="191.1" r="3.8"/><circle cx="596.4" cy="200.4" r="3.8"/><circle cx="596.6" cy="187.4" r="3.8"/><circle cx="456.8" cy="209.9" r="3.8"/><circle cx="540.1" cy="230.0" r="3.8"/><circle cx="576.7" cy="179.2" r="3.8"/><circle cx="547.7" cy="196.9" r="3.8"/><circle cx="296.1" cy="211.6" r="3.8"/><circle cx="676.4" cy="200.6" r="3.8"/><circle cx="623.0" cy="276.3" r="3.8"/><circle cx="611.9" cy="220.8" r="3.8"/><circle cx="449.2" cy="255.5" r="3.8"/><circle cx="698.2" cy="167.5" r="3.8"/><circle cx="502.4" cy="183.4" r="3.8"/><circle cx="661.9" cy="247.2" r="3.8"/><circle cx="529.5" cy="244.4" r="3.8"/><circle cx="725.4" cy="178.2" r="3.8"/><circle cx="338.9" cy="226.4" r="3.8"/><circle cx="397.5" cy="200.5" r="3.8"/><circle cx="679.1" cy="194.4" r="3.8"/><circle cx="505.0" cy="211.5" r="3.8"/><circle cx="613.7" cy="176.5" r="3.8"/><circle cx="562.5" cy="239.1" r="3.8"/><circle cx="534.1" cy="231.5" r="3.8"/><circle cx="477.6" cy="218.7" r="3.8"/><circle cx="537.8" cy="199.0" r="3.8"/><circle cx="397.2" cy="229.3" r="3.8"/><circle cx="564.9" cy="164.0" r="3.8"/><circle cx="524.3" cy="175.3" r="3.8"/><circle cx="418.3" cy="197.6" r="3.8"/><circle cx="467.4" cy="243.0" r="3.8"/><circle cx="415.1" cy="219.2" r="3.8"/><circle cx="588.3" cy="176.3" r="3.8"/><circle cx="319.4" cy="217.0" r="3.8"/><circle cx="462.1" cy="199.1" r="3.8"/><circle cx="610.1" cy="212.0" r="3.8"/><circle cx="471.7" cy="204.5" r="3.8"/><circle cx="656.3" cy="240.9" r="3.8"/><circle cx="462.5" cy="179.1" r="3.8"/><circle cx="611.5" cy="252.0" r="3.8"/><circle cx="599.9" cy="216.0" r="3.8"/><circle cx="488.2" cy="180.5" r="3.8"/><circle cx="540.2" cy="187.4" r="3.8"/><circle cx="406.4" cy="240.3" r="3.8"/><circle cx="496.2" cy="206.5" r="3.8"/><circle cx="334.8" cy="181.8" r="3.8"/><circle cx="642.7" cy="181.9" r="3.8"/><circle cx="522.8" cy="244.3" r="3.8"/><circle cx="631.4" cy="253.0" r="3.8"/><circle cx="555.2" cy="229.4" r="3.8"/><circle cx="390.4" cy="192.2" r="3.8"/><circle cx="380.3" cy="204.5" r="3.8"/><circle cx="276.6" cy="177.4" r="3.8"/><circle cx="612.7" cy="227.8" r="3.8"/><circle cx="638.7" cy="228.7" r="3.8"/><circle cx="737.6" cy="180.9" r="3.8"/><circle cx="724.5" cy="196.7" r="3.8"/><circle cx="607.6" cy="189.3" r="3.8"/><circle cx="403.7" cy="188.4" r="3.8"/><circle cx="650.4" cy="186.0" r="3.8"/><circle cx="563.2" cy="197.4" r="3.8"/><circle cx="397.0" cy="236.6" r="3.8"/><circle cx="543.7" cy="203.1" r="3.8"/><circle cx="640.0" cy="249.7" r="3.8"/><circle cx="500.4" cy="216.6" r="3.8"/><circle cx="476.1" cy="166.1" r="3.8"/><circle cx="642.0" cy="214.3" r="3.8"/><circle cx="550.5" cy="273.7" r="3.8"/><circle cx="535.5" cy="186.9" r="3.8"/><circle cx="573.3" cy="253.8" r="3.8"/><circle cx="445.7" cy="185.8" r="3.8"/><circle cx="511.1" cy="187.6" r="3.8"/><circle cx="484.6" cy="237.9" r="3.8"/><circle cx="569.3" cy="162.4" r="3.8"/><circle cx="502.4" cy="173.4" r="3.8"/><circle cx="456.2" cy="230.6" r="3.8"/><circle cx="731.1" cy="221.2" r="3.8"/><circle cx="688.9" cy="264.2" r="3.8"/><circle cx="398.3" cy="210.1" r="3.8"/><circle cx="413.4" cy="229.2" r="3.8"/><circle cx="527.8" cy="191.6" r="3.8"/><circle cx="504.5" cy="171.9" r="3.8"/><circle cx="816.0" cy="189.4" r="3.8"/><circle cx="674.6" cy="219.4" r="3.8"/><circle cx="638.5" cy="213.4" r="3.8"/><circle cx="608.3" cy="242.2" r="3.8"/><circle cx="719.4" cy="214.5" r="3.8"/><circle cx="647.8" cy="186.7" r="3.8"/><circle cx="513.3" cy="215.9" r="3.8"/><circle cx="645.2" cy="216.5" r="3.8"/><circle cx="605.0" cy="252.3" r="3.8"/><circle cx="553.4" cy="207.2" r="3.8"/><circle cx="719.8" cy="215.5" r="3.8"/><circle cx="457.8" cy="174.3" r="3.8"/><circle cx="632.5" cy="218.5" r="3.8"/><circle cx="406.9" cy="207.1" r="3.8"/><circle cx="455.5" cy="212.5" r="3.8"/><circle cx="461.5" cy="249.3" r="3.8"/><circle cx="695.1" cy="197.6" r="3.8"/><circle cx="501.1" cy="184.3" r="3.8"/><circle cx="613.3" cy="222.4" r="3.8"/><circle cx="607.4" cy="233.2" r="3.8"/><circle cx="626.6" cy="236.0" r="3.8"/><circle cx="665.1" cy="192.0" r="3.8"/><circle cx="543.3" cy="210.1" r="3.8"/><circle cx="512.3" cy="192.6" r="3.8"/><circle cx="596.4" cy="211.1" r="3.8"/><circle cx="441.2" cy="175.7" r="3.8"/><circle cx="488.0" cy="217.8" r="3.8"/><circle cx="643.6" cy="240.5" r="3.8"/><circle cx="473.8" cy="231.8" r="3.8"/><circle cx="526.0" cy="180.2" r="3.8"/><circle cx="341.2" cy="172.2" r="3.8"/><circle cx="410.6" cy="175.5" r="3.8"/><circle cx="462.8" cy="251.5" r="3.8"/><circle cx="426.0" cy="216.8" r="3.8"/><circle cx="491.5" cy="259.2" r="3.8"/><circle cx="462.0" cy="207.8" r="3.8"/><circle cx="485.1" cy="190.6" r="3.8"/><circle cx="534.9" cy="187.4" r="3.8"/><circle cx="559.1" cy="220.3" r="3.8"/><circle cx="770.3" cy="224.5" r="3.8"/><circle cx="711.2" cy="191.9" r="3.8"/><circle cx="527.4" cy="267.3" r="3.8"/><circle cx="425.1" cy="236.4" r="3.8"/><circle cx="615.1" cy="163.3" r="3.8"/><circle cx="607.0" cy="176.7" r="3.8"/><circle cx="655.7" cy="203.6" r="3.8"/><circle cx="521.2" cy="200.0" r="3.8"/><circle cx="617.9" cy="223.3" r="3.8"/><circle cx="628.7" cy="174.6" r="3.8"/><circle cx="608.6" cy="234.1" r="3.8"/><circle cx="305.1" cy="257.1" r="3.8"/><circle cx="578.8" cy="198.8" r="3.8"/><circle cx="292.3" cy="211.5" r="3.8"/><circle cx="751.3" cy="198.6" r="3.8"/><circle cx="342.9" cy="258.5" r="3.8"/><circle cx="452.2" cy="215.5" r="3.8"/><circle cx="646.6" cy="181.4" r="3.8"/><circle cx="558.5" cy="180.4" r="3.8"/><circle cx="456.8" cy="183.0" r="3.8"/><circle cx="492.0" cy="232.3" r="3.8"/><circle cx="615.5" cy="165.6" r="3.8"/><circle cx="432.5" cy="226.0" r="3.8"/><circle cx="465.5" cy="272.8" r="3.8"/><circle cx="458.7" cy="183.5" r="3.8"/><circle cx="536.2" cy="195.2" r="3.8"/><circle cx="491.9" cy="193.5" r="3.8"/><circle cx="827.0" cy="214.3" r="3.8"/><circle cx="275.1" cy="190.8" r="3.8"/><circle cx="364.4" cy="177.6" r="3.8"/><circle cx="593.4" cy="180.7" r="3.8"/><circle cx="730.5" cy="217.3" r="3.8"/><circle cx="267.6" cy="200.9" r="3.8"/><circle cx="593.9" cy="209.2" r="3.8"/><circle cx="595.9" cy="180.2" r="3.8"/><circle cx="566.7" cy="205.5" r="3.8"/><circle cx="591.5" cy="209.8" r="3.8"/><circle cx="362.1" cy="194.8" r="3.8"/><circle cx="656.9" cy="183.5" r="3.8"/><circle cx="499.1" cy="243.8" r="3.8"/><circle cx="404.6" cy="238.2" r="3.8"/><circle cx="696.9" cy="177.1" r="3.8"/><circle cx="488.0" cy="237.2" r="3.8"/><circle cx="502.6" cy="259.0" r="3.8"/><circle cx="279.1" cy="195.1" r="3.8"/><circle cx="617.8" cy="271.2" r="3.8"/><circle cx="585.6" cy="181.4" r="3.8"/><circle cx="339.1" cy="171.8" r="3.8"/><circle cx="672.9" cy="217.4" r="3.8"/><circle cx="627.4" cy="209.8" r="3.8"/><circle cx="451.4" cy="208.9" r="3.8"/><circle cx="281.3" cy="209.1" r="3.8"/><circle cx="448.7" cy="211.3" r="3.8"/><circle cx="531.5" cy="221.0" r="3.8"/><circle cx="776.6" cy="199.5" r="3.8"/><circle cx="455.9" cy="223.8" r="3.8"/><circle cx="519.9" cy="216.0" r="3.8"/><circle cx="585.0" cy="177.0" r="3.8"/><circle cx="342.7" cy="223.6" r="3.8"/><circle cx="488.9" cy="226.9" r="3.8"/><circle cx="402.0" cy="199.0" r="3.8"/><circle cx="531.5" cy="229.7" r="3.8"/><circle cx="615.8" cy="209.0" r="3.8"/><circle cx="383.2" cy="215.9" r="3.8"/><circle cx="434.1" cy="208.6" r="3.8"/><circle cx="713.1" cy="204.8" r="3.8"/><circle cx="719.8" cy="202.8" r="3.8"/><circle cx="471.9" cy="211.0" r="3.8"/><circle cx="615.0" cy="214.5" r="3.8"/><circle cx="473.4" cy="201.9" r="3.8"/><circle cx="751.2" cy="199.0" r="3.8"/><circle cx="639.1" cy="200.8" r="3.8"/><circle cx="347.0" cy="176.8" r="3.8"/><circle cx="486.7" cy="252.1" r="3.8"/><circle cx="630.0" cy="183.7" r="3.8"/><circle cx="488.2" cy="212.5" r="3.8"/><circle cx="478.5" cy="226.1" r="3.8"/><circle cx="611.2" cy="150.3" r="3.8"/><circle cx="509.3" cy="200.1" r="3.8"/><circle cx="616.6" cy="231.4" r="3.8"/><circle cx="493.8" cy="198.6" r="3.8"/><circle cx="751.8" cy="222.8" r="3.8"/><circle cx="525.7" cy="157.9" r="3.8"/><circle cx="676.5" cy="204.0" r="3.8"/><circle cx="388.4" cy="209.3" r="3.8"/><circle cx="743.1" cy="216.5" r="3.8"/><circle cx="576.3" cy="247.7" r="3.8"/><circle cx="758.3" cy="169.8" r="3.8"/><circle cx="480.3" cy="218.2" r="3.8"/><circle cx="322.3" cy="216.3" r="3.8"/><circle cx="727.3" cy="192.0" r="3.8"/><circle cx="283.8" cy="215.7" r="3.8"/><circle cx="815.3" cy="185.5" r="3.8"/><circle cx="346.8" cy="169.9" r="3.8"/><circle cx="587.5" cy="228.1" r="3.8"/><circle cx="650.7" cy="248.7" r="3.8"/><circle cx="438.6" cy="182.7" r="3.8"/><circle cx="415.9" cy="208.4" r="3.8"/><circle cx="751.6" cy="224.1" r="3.8"/><circle cx="448.7" cy="173.5" r="3.8"/><circle cx="638.1" cy="217.9" r="3.8"/><circle cx="545.1" cy="210.7" r="3.8"/><circle cx="301.8" cy="179.3" r="3.8"/><circle cx="392.9" cy="163.3" r="3.8"/><circle cx="552.1" cy="189.5" r="3.8"/><circle cx="597.6" cy="200.2" r="3.8"/><circle cx="517.8" cy="179.4" r="3.8"/><circle cx="530.5" cy="159.4" r="3.8"/><circle cx="588.4" cy="204.1" r="3.8"/><circle cx="544.9" cy="210.6" r="3.8"/><circle cx="417.9" cy="157.1" r="3.8"/><circle cx="772.4" cy="170.4" r="3.8"/><circle cx="719.9" cy="200.9" r="3.8"/><circle cx="567.8" cy="246.2" r="3.8"/><circle cx="467.6" cy="161.2" r="3.8"/><circle cx="682.4" cy="219.4" r="3.8"/><circle cx="445.8" cy="204.5" r="3.8"/><circle cx="564.1" cy="164.0" r="3.8"/><circle cx="576.2" cy="215.9" r="3.8"/><circle cx="626.7" cy="165.3" r="3.8"/><circle cx="339.3" cy="184.2" r="3.8"/><circle cx="674.7" cy="232.7" r="3.8"/><circle cx="676.2" cy="197.7" r="3.8"/><circle cx="506.8" cy="182.4" r="3.8"/><circle cx="402.5" cy="177.2" r="3.8"/><circle cx="807.9" cy="191.6" r="3.8"/><circle cx="418.3" cy="191.1" r="3.8"/><circle cx="516.3" cy="167.5" r="3.8"/><circle cx="515.3" cy="254.1" r="3.8"/><circle cx="727.0" cy="179.7" r="3.8"/><circle cx="513.9" cy="198.0" r="3.8"/><circle cx="456.3" cy="205.8" r="3.8"/><circle cx="641.1" cy="227.2" r="3.8"/><circle cx="419.4" cy="197.4" r="3.8"/><circle cx="342.1" cy="210.9" r="3.8"/><circle cx="275.4" cy="180.9" r="3.8"/><circle cx="797.8" cy="204.7" r="3.8"/><circle cx="644.2" cy="177.6" r="3.8"/><circle cx="294.7" cy="195.7" r="3.8"/><circle cx="386.5" cy="208.8" r="3.8"/><circle cx="655.2" cy="213.1" r="3.8"/><circle cx="647.2" cy="193.7" r="3.8"/><circle cx="657.6" cy="202.5" r="3.8"/><circle cx="527.4" cy="184.1" r="3.8"/><circle cx="494.3" cy="241.2" r="3.8"/><circle cx="429.4" cy="252.6" r="3.8"/><circle cx="571.3" cy="199.4" r="3.8"/><circle cx="614.1" cy="220.7" r="3.8"/><circle cx="552.7" cy="205.6" r="3.8"/><circle cx="317.3" cy="216.9" r="3.8"/><circle cx="592.7" cy="220.4" r="3.8"/><circle cx="390.9" cy="202.5" r="3.8"/><circle cx="621.9" cy="216.1" r="3.8"/><circle cx="398.0" cy="186.7" r="3.8"/><circle cx="572.1" cy="160.8" r="3.8"/><circle cx="738.5" cy="177.3" r="3.8"/><circle cx="614.7" cy="232.4" r="3.8"/><circle cx="516.3" cy="262.0" r="3.8"/><circle cx="527.2" cy="229.2" r="3.8"/><circle cx="352.2" cy="220.7" r="3.8"/><circle cx="513.3" cy="217.6" r="3.8"/><circle cx="680.2" cy="208.4" r="3.8"/><circle cx="711.4" cy="194.6" r="3.8"/><circle cx="549.5" cy="217.6" r="3.8"/><circle cx="682.2" cy="179.6" r="3.8"/><circle cx="452.1" cy="198.5" r="3.8"/><circle cx="564.9" cy="174.0" r="3.8"/><circle cx="564.5" cy="219.2" r="3.8"/><circle cx="520.6" cy="195.8" r="3.8"/><circle cx="719.8" cy="188.2" r="3.8"/><circle cx="372.8" cy="185.3" r="3.8"/><circle cx="427.6" cy="199.6" r="3.8"/><circle cx="253.3" cy="228.2" r="3.8"/><circle cx="504.9" cy="160.3" r="3.8"/><circle cx="513.3" cy="241.1" r="3.8"/><circle cx="413.5" cy="202.5" r="3.8"/><circle cx="692.5" cy="205.5" r="3.8"/><circle cx="396.3" cy="233.5" r="3.8"/><circle cx="458.8" cy="217.9" r="3.8"/><circle cx="754.8" cy="236.0" r="3.8"/><circle cx="577.9" cy="253.3" r="3.8"/><circle cx="568.8" cy="242.1" r="3.8"/><circle cx="630.1" cy="202.6" r="3.8"/><circle cx="639.5" cy="221.3" r="3.8"/><circle cx="670.5" cy="215.1" r="3.8"/><circle cx="577.5" cy="185.8" r="3.8"/><circle cx="481.0" cy="244.1" r="3.8"/><circle cx="498.9" cy="213.7" r="3.8"/><circle cx="452.4" cy="184.7" r="3.8"/><circle cx="503.5" cy="202.7" r="3.8"/><circle cx="431.1" cy="221.6" r="3.8"/><circle cx="386.9" cy="174.2" r="3.8"/><circle cx="574.1" cy="210.3" r="3.8"/><circle cx="514.9" cy="242.1" r="3.8"/><circle cx="481.0" cy="186.6" r="3.8"/><circle cx="323.5" cy="232.5" r="3.8"/><circle cx="497.7" cy="221.5" r="3.8"/><circle cx="613.7" cy="167.3" r="3.8"/><circle cx="577.5" cy="217.7" r="3.8"/><circle cx="517.2" cy="170.6" r="3.8"/><circle cx="568.9" cy="228.6" r="3.8"/><circle cx="462.8" cy="238.3" r="3.8"/><circle cx="638.2" cy="186.3" r="3.8"/><circle cx="634.8" cy="201.9" r="3.8"/><circle cx="644.6" cy="229.5" r="3.8"/><circle cx="693.1" cy="213.4" r="3.8"/><circle cx="549.1" cy="201.6" r="3.8"/><circle cx="754.9" cy="169.9" r="3.8"/><circle cx="559.6" cy="213.8" r="3.8"/><circle cx="613.8" cy="179.5" r="3.8"/><circle cx="558.2" cy="207.6" r="3.8"/><circle cx="511.5" cy="259.0" r="3.8"/><circle cx="553.0" cy="253.9" r="3.8"/><circle cx="465.6" cy="202.8" r="3.8"/><circle cx="397.2" cy="199.0" r="3.8"/><circle cx="559.3" cy="174.2" r="3.8"/><circle cx="471.8" cy="214.4" r="3.8"/><circle cx="633.0" cy="203.4" r="3.8"/><circle cx="434.1" cy="193.5" r="3.8"/><circle cx="547.6" cy="228.5" r="3.8"/><circle cx="412.5" cy="224.8" r="3.8"/><circle cx="531.2" cy="196.5" r="3.8"/><circle cx="412.9" cy="261.9" r="3.8"/><circle cx="653.5" cy="212.9" r="3.8"/><circle cx="467.5" cy="203.6" r="3.8"/><circle cx="402.8" cy="199.8" r="3.8"/><circle cx="514.5" cy="276.4" r="3.8"/><circle cx="572.1" cy="253.1" r="3.8"/><circle cx="645.2" cy="179.6" r="3.8"/><circle cx="603.3" cy="214.1" r="3.8"/><circle cx="515.3" cy="229.6" r="3.8"/><circle cx="328.3" cy="172.0" r="3.8"/><circle cx="747.4" cy="236.7" r="3.8"/><circle cx="556.8" cy="165.8" r="3.8"/><circle cx="612.2" cy="193.3" r="3.8"/><circle cx="652.7" cy="199.9" r="3.8"/><circle cx="232.4" cy="247.8" r="3.8"/><circle cx="489.2" cy="268.9" r="3.8"/><circle cx="439.2" cy="158.9" r="3.8"/><circle cx="677.1" cy="195.9" r="3.8"/><circle cx="442.3" cy="206.4" r="3.8"/><circle cx="449.3" cy="220.3" r="3.8"/><circle cx="498.3" cy="237.3" r="3.8"/><circle cx="721.1" cy="202.9" r="3.8"/><circle cx="512.5" cy="234.9" r="3.8"/><circle cx="632.4" cy="197.9" r="3.8"/><circle cx="582.9" cy="218.9" r="3.8"/><circle cx="580.9" cy="173.7" r="3.8"/><circle cx="392.4" cy="236.3" r="3.8"/><circle cx="436.3" cy="184.0" r="3.8"/><circle cx="380.8" cy="215.0" r="3.8"/><circle cx="510.4" cy="203.8" r="3.8"/><circle cx="720.3" cy="222.3" r="3.8"/><circle cx="588.7" cy="174.8" r="3.8"/><circle cx="740.8" cy="210.8" r="3.8"/><circle cx="581.9" cy="222.2" r="3.8"/><circle cx="555.2" cy="211.1" r="3.8"/><circle cx="485.4" cy="167.2" r="3.8"/><circle cx="683.5" cy="223.2" r="3.8"/><circle cx="544.8" cy="193.6" r="3.8"/><circle cx="662.8" cy="156.8" r="3.8"/><circle cx="340.3" cy="198.9" r="3.8"/><circle cx="678.5" cy="240.9" r="3.8"/><circle cx="674.0" cy="196.7" r="3.8"/><circle cx="781.4" cy="182.4" r="3.8"/><circle cx="668.7" cy="193.9" r="3.8"/><circle cx="447.1" cy="202.6" r="3.8"/><circle cx="721.3" cy="200.9" r="3.8"/><circle cx="562.6" cy="197.4" r="3.8"/><circle cx="520.9" cy="239.5" r="3.8"/><circle cx="830.8" cy="212.4" r="3.8"/><circle cx="470.7" cy="200.1" r="3.8"/><circle cx="737.9" cy="218.7" r="3.8"/><circle cx="451.7" cy="182.9" r="3.8"/><circle cx="390.9" cy="225.0" r="3.8"/><circle cx="545.5" cy="212.4" r="3.8"/><circle cx="635.2" cy="163.9" r="3.8"/><circle cx="445.6" cy="225.4" r="3.8"/><circle cx="407.9" cy="207.4" r="3.8"/><circle cx="538.0" cy="181.4" r="3.8"/><circle cx="438.3" cy="189.3" r="3.8"/><circle cx="396.4" cy="200.8" r="3.8"/><circle cx="602.8" cy="217.9" r="3.8"/><circle cx="779.1" cy="195.6" r="3.8"/><circle cx="494.9" cy="180.2" r="3.8"/><circle cx="345.7" cy="249.1" r="3.8"/><circle cx="526.5" cy="231.2" r="3.8"/><circle cx="474.5" cy="231.7" r="3.8"/><circle cx="550.3" cy="220.0" r="3.8"/><circle cx="403.2" cy="203.7" r="3.8"/><circle cx="572.3" cy="177.1" r="3.8"/><circle cx="445.1" cy="217.4" r="3.8"/><circle cx="473.3" cy="228.5" r="3.8"/><circle cx="486.9" cy="211.7" r="3.8"/><circle cx="522.2" cy="182.4" r="3.8"/><circle cx="497.1" cy="229.4" r="3.8"/><circle cx="551.9" cy="236.9" r="3.8"/><circle cx="432.4" cy="243.3" r="3.8"/><circle cx="459.5" cy="257.1" r="3.8"/><circle cx="588.3" cy="185.8" r="3.8"/><circle cx="705.8" cy="227.7" r="3.8"/><circle cx="632.6" cy="255.6" r="3.8"/><circle cx="546.3" cy="195.9" r="3.8"/><circle cx="459.1" cy="163.0" r="3.8"/><circle cx="635.9" cy="221.7" r="3.8"/><circle cx="579.5" cy="180.7" r="3.8"/><circle cx="567.8" cy="248.0" r="3.8"/><circle cx="727.8" cy="210.1" r="3.8"/><circle cx="588.9" cy="190.5" r="3.8"/><circle cx="558.9" cy="177.9" r="3.8"/><circle cx="628.8" cy="231.2" r="3.8"/><circle cx="565.7" cy="181.0" r="3.8"/><circle cx="616.9" cy="203.1" r="3.8"/><circle cx="655.2" cy="245.0" r="3.8"/><circle cx="422.6" cy="233.9" r="3.8"/><circle cx="520.4" cy="225.6" r="3.8"/><circle cx="454.4" cy="199.1" r="3.8"/><circle cx="380.2" cy="199.8" r="3.8"/><circle cx="755.4" cy="208.6" r="3.8"/><circle cx="547.7" cy="270.5" r="3.8"/><circle cx="467.6" cy="266.0" r="3.8"/><circle cx="547.6" cy="234.2" r="3.8"/><circle cx="513.3" cy="233.5" r="3.8"/><circle cx="425.7" cy="203.0" r="3.8"/><circle cx="731.1" cy="187.7" r="3.8"/><circle cx="750.0" cy="176.7" r="3.8"/><circle cx="571.3" cy="247.3" r="3.8"/><circle cx="500.4" cy="163.1" r="3.8"/><circle cx="443.0" cy="176.7" r="3.8"/><circle cx="445.9" cy="209.4" r="3.8"/><circle cx="381.7" cy="194.1" r="3.8"/><circle cx="699.8" cy="202.5" r="3.8"/><circle cx="710.5" cy="202.3" r="3.8"/><circle cx="632.7" cy="201.6" r="3.8"/><circle cx="689.7" cy="214.3" r="3.8"/><circle cx="639.3" cy="235.0" r="3.8"/><circle cx="546.1" cy="193.6" r="3.8"/><circle cx="557.7" cy="160.2" r="3.8"/><circle cx="605.3" cy="201.6" r="3.8"/><circle cx="470.2" cy="247.2" r="3.8"/><circle cx="494.4" cy="194.4" r="3.8"/><circle cx="468.9" cy="202.6" r="3.8"/><circle cx="398.4" cy="194.7" r="3.8"/><circle cx="479.7" cy="194.4" r="3.8"/><circle cx="250.1" cy="189.0" r="3.8"/><circle cx="600.9" cy="191.8" r="3.8"/><circle cx="416.1" cy="219.5" r="3.8"/><circle cx="464.7" cy="179.2" r="3.8"/><circle cx="614.4" cy="231.8" r="3.8"/><circle cx="636.3" cy="220.2" r="3.8"/><circle cx="265.9" cy="208.1" r="3.8"/><circle cx="455.4" cy="242.7" r="3.8"/><circle cx="597.9" cy="192.2" r="3.8"/><circle cx="555.7" cy="182.5" r="3.8"/><circle cx="401.6" cy="197.0" r="3.8"/><circle cx="565.2" cy="200.2" r="3.8"/><circle cx="579.0" cy="212.7" r="3.8"/><circle cx="642.8" cy="207.4" r="3.8"/><circle cx="563.8" cy="239.9" r="3.8"/><circle cx="217.9" cy="231.1" r="3.8"/><circle cx="525.9" cy="192.2" r="3.8"/><circle cx="638.0" cy="239.3" r="3.8"/><circle cx="511.7" cy="222.1" r="3.8"/><circle cx="609.0" cy="242.8" r="3.8"/><circle cx="524.0" cy="166.1" r="3.8"/><circle cx="623.6" cy="191.8" r="3.8"/><circle cx="579.5" cy="218.1" r="3.8"/><circle cx="553.0" cy="215.8" r="3.8"/><circle cx="556.6" cy="250.9" r="3.8"/><circle cx="665.1" cy="203.7" r="3.8"/><circle cx="538.6" cy="241.5" r="3.8"/><circle cx="393.2" cy="170.9" r="3.8"/><circle cx="340.5" cy="260.1" r="3.8"/><circle cx="470.2" cy="213.0" r="3.8"/><circle cx="493.2" cy="195.7" r="3.8"/><circle cx="320.2" cy="213.2" r="3.8"/><circle cx="714.4" cy="174.9" r="3.8"/><circle cx="697.2" cy="219.6" r="3.8"/><circle cx="735.4" cy="229.7" r="3.8"/><circle cx="469.1" cy="187.0" r="3.8"/><circle cx="698.4" cy="239.8" r="3.8"/><circle cx="552.3" cy="191.3" r="3.8"/><circle cx="599.5" cy="208.6" r="3.8"/><circle cx="408.4" cy="229.4" r="3.8"/><circle cx="409.1" cy="223.8" r="3.8"/><circle cx="520.5" cy="230.2" r="3.8"/><circle cx="392.8" cy="188.1" r="3.8"/><circle cx="435.2" cy="203.5" r="3.8"/><circle cx="657.4" cy="205.4" r="3.8"/><circle cx="432.5" cy="244.2" r="3.8"/><circle cx="553.2" cy="220.7" r="3.8"/><circle cx="490.7" cy="247.9" r="3.8"/><circle cx="404.1" cy="212.1" r="3.8"/><circle cx="577.8" cy="228.1" r="3.8"/><circle cx="461.7" cy="230.4" r="3.8"/><circle cx="430.3" cy="197.6" r="3.8"/><circle cx="375.4" cy="175.0" r="3.8"/><circle cx="665.0" cy="210.7" r="3.8"/><circle cx="522.1" cy="194.9" r="3.8"/><circle cx="579.1" cy="218.0" r="3.8"/><circle cx="704.9" cy="185.5" r="3.8"/><circle cx="597.9" cy="220.4" r="3.8"/><circle cx="723.3" cy="214.8" r="3.8"/><circle cx="558.9" cy="196.6" r="3.8"/><circle cx="562.2" cy="183.8" r="3.8"/><circle cx="600.0" cy="197.2" r="3.8"/><circle cx="642.1" cy="200.7" r="3.8"/><circle cx="543.5" cy="232.8" r="3.8"/><circle cx="585.0" cy="205.4" r="3.8"/><circle cx="652.5" cy="216.1" r="3.8"/><circle cx="641.7" cy="189.4" r="3.8"/><circle cx="631.4" cy="241.2" r="3.8"/><circle cx="521.3" cy="186.2" r="3.8"/><circle cx="738.6" cy="215.7" r="3.8"/><circle cx="719.6" cy="194.9" r="3.8"/><circle cx="540.5" cy="272.8" r="3.8"/><circle cx="498.0" cy="215.7" r="3.8"/><circle cx="540.1" cy="214.8" r="3.8"/><circle cx="496.0" cy="207.4" r="3.8"/><circle cx="507.8" cy="190.8" r="3.8"/><circle cx="495.7" cy="182.3" r="3.8"/><circle cx="416.1" cy="245.6" r="3.8"/><circle cx="537.0" cy="194.7" r="3.8"/><circle cx="635.2" cy="193.4" r="3.8"/><circle cx="401.4" cy="157.2" r="3.8"/><circle cx="612.1" cy="200.8" r="3.8"/><circle cx="363.5" cy="212.2" r="3.8"/><circle cx="609.9" cy="220.5" r="3.8"/><circle cx="482.3" cy="169.5" r="3.8"/><circle cx="665.4" cy="211.4" r="3.8"/><circle cx="758.5" cy="188.0" r="3.8"/><circle cx="543.0" cy="194.0" r="3.8"/><circle cx="547.4" cy="212.6" r="3.8"/><circle cx="473.1" cy="210.4" r="3.8"/><circle cx="578.6" cy="180.8" r="3.8"/><circle cx="745.9" cy="182.7" r="3.8"/><circle cx="717.7" cy="217.4" r="3.8"/><circle cx="839.1" cy="167.9" r="3.8"/><circle cx="486.6" cy="203.4" r="3.8"/><circle cx="769.3" cy="190.0" r="3.8"/><circle cx="658.1" cy="202.7" r="3.8"/><circle cx="649.8" cy="198.4" r="3.8"/><circle cx="467.6" cy="156.8" r="3.8"/><circle cx="361.3" cy="190.0" r="3.8"/><circle cx="622.4" cy="250.5" r="3.8"/><circle cx="418.2" cy="220.5" r="3.8"/><circle cx="726.8" cy="203.0" r="3.8"/><circle cx="473.6" cy="177.0" r="3.8"/><circle cx="332.7" cy="253.5" r="3.8"/><circle cx="587.6" cy="235.1" r="3.8"/><circle cx="595.8" cy="172.8" r="3.8"/><circle cx="575.1" cy="196.7" r="3.8"/><circle cx="645.2" cy="231.7" r="3.8"/><circle cx="463.0" cy="209.7" r="3.8"/><circle cx="524.1" cy="208.9" r="3.8"/><circle cx="402.7" cy="147.6" r="3.8"/><circle cx="477.8" cy="208.8" r="3.8"/><circle cx="512.0" cy="214.2" r="3.8"/><circle cx="541.2" cy="276.8" r="3.8"/><circle cx="580.9" cy="207.4" r="3.8"/><circle cx="733.9" cy="190.8" r="3.8"/><circle cx="526.6" cy="214.6" r="3.8"/><circle cx="305.7" cy="194.4" r="3.8"/><circle cx="474.2" cy="224.9" r="3.8"/><circle cx="488.0" cy="224.1" r="3.8"/><circle cx="478.1" cy="213.8" r="3.8"/><circle cx="692.8" cy="196.3" r="3.8"/><circle cx="676.7" cy="179.9" r="3.8"/><circle cx="430.6" cy="176.4" r="3.8"/><circle cx="473.8" cy="195.9" r="3.8"/><circle cx="733.7" cy="199.0" r="3.8"/><circle cx="651.9" cy="230.6" r="3.8"/><circle cx="753.2" cy="201.6" r="3.8"/><circle cx="490.5" cy="256.7" r="3.8"/><circle cx="701.3" cy="191.0" r="3.8"/><circle cx="358.8" cy="217.6" r="3.8"/><circle cx="627.1" cy="245.1" r="3.8"/><circle cx="487.7" cy="250.0" r="3.8"/><circle cx="703.0" cy="238.2" r="3.8"/><circle cx="332.7" cy="193.4" r="3.8"/><circle cx="526.3" cy="157.8" r="3.8"/><circle cx="686.4" cy="228.4" r="3.8"/><circle cx="533.3" cy="207.7" r="3.8"/><circle cx="654.7" cy="219.2" r="3.8"/><circle cx="443.1" cy="183.8" r="3.8"/><circle cx="695.8" cy="207.0" r="3.8"/><circle cx="485.9" cy="174.7" r="3.8"/><circle cx="488.9" cy="186.4" r="3.8"/><circle cx="416.2" cy="207.3" r="3.8"/><circle cx="658.4" cy="244.6" r="3.8"/><circle cx="461.0" cy="205.3" r="3.8"/><circle cx="775.6" cy="194.7" r="3.8"/><circle cx="411.7" cy="238.3" r="3.8"/><circle cx="608.8" cy="230.0" r="3.8"/><circle cx="257.9" cy="207.3" r="3.8"/><circle cx="404.5" cy="240.9" r="3.8"/><circle cx="521.2" cy="213.5" r="3.8"/><circle cx="516.6" cy="184.8" r="3.8"/><circle cx="618.8" cy="210.1" r="3.8"/><circle cx="335.4" cy="197.0" r="3.8"/><circle cx="638.8" cy="255.1" r="3.8"/><circle cx="475.0" cy="246.0" r="3.8"/><circle cx="464.6" cy="186.0" r="3.8"/><circle cx="419.6" cy="255.4" r="3.8"/><circle cx="498.4" cy="190.4" r="3.8"/><circle cx="320.7" cy="232.2" r="3.8"/><circle cx="682.4" cy="256.9" r="3.8"/><circle cx="795.9" cy="222.2" r="3.8"/><circle cx="666.3" cy="205.3" r="3.8"/><circle cx="650.7" cy="201.0" r="3.8"/><circle cx="453.5" cy="218.0" r="3.8"/><circle cx="305.1" cy="211.6" r="3.8"/><circle cx="562.0" cy="209.9" r="3.8"/><circle cx="587.4" cy="189.2" r="3.8"/><circle cx="729.8" cy="232.8" r="3.8"/><circle cx="493.3" cy="203.8" r="3.8"/><circle cx="594.0" cy="167.8" r="3.8"/><circle cx="296.3" cy="166.7" r="3.8"/><circle cx="351.2" cy="204.6" r="3.8"/><circle cx="546.7" cy="170.6" r="3.8"/><circle cx="301.3" cy="208.4" r="3.8"/><circle cx="578.7" cy="229.8" r="3.8"/><circle cx="648.2" cy="200.5" r="3.8"/><circle cx="402.4" cy="252.5" r="3.8"/><circle cx="297.5" cy="230.2" r="3.8"/><circle cx="591.4" cy="220.1" r="3.8"/><circle cx="413.2" cy="168.4" r="3.8"/><circle cx="511.9" cy="178.5" r="3.8"/><circle cx="563.4" cy="247.6" r="3.8"/><circle cx="364.8" cy="228.5" r="3.8"/><circle cx="481.4" cy="218.3" r="3.8"/><circle cx="659.7" cy="195.2" r="3.8"/><circle cx="482.1" cy="214.6" r="3.8"/><circle cx="675.9" cy="236.3" r="3.8"/><circle cx="649.8" cy="204.5" r="3.8"/><circle cx="439.0" cy="176.4" r="3.8"/><circle cx="642.0" cy="209.1" r="3.8"/><circle cx="581.8" cy="213.8" r="3.8"/><circle cx="485.2" cy="203.8" r="3.8"/><circle cx="373.9" cy="202.5" r="3.8"/><circle cx="708.1" cy="189.8" r="3.8"/><circle cx="519.3" cy="259.3" r="3.8"/><circle cx="472.4" cy="214.0" r="3.8"/><circle cx="705.1" cy="187.0" r="3.8"/><circle cx="576.7" cy="149.7" r="3.8"/><circle cx="582.0" cy="149.7" r="3.8"/><circle cx="605.4" cy="172.5" r="3.8"/><circle cx="614.9" cy="187.0" r="3.8"/><circle cx="493.0" cy="147.0" r="3.8"/><circle cx="418.5" cy="170.2" r="3.8"/><circle cx="672.4" cy="210.5" r="3.8"/><circle cx="394.0" cy="182.7" r="3.8"/><circle cx="479.5" cy="158.1" r="3.8"/><circle cx="636.3" cy="148.5" r="3.8"/><circle cx="755.6" cy="185.4" r="3.8"/><circle cx="344.9" cy="207.3" r="3.8"/><circle cx="772.9" cy="196.7" r="3.8"/><circle cx="415.0" cy="199.4" r="3.8"/><circle cx="707.1" cy="175.7" r="3.8"/><circle cx="597.1" cy="223.3" r="3.8"/><circle cx="409.8" cy="262.7" r="3.8"/><circle cx="542.6" cy="227.9" r="3.8"/><circle cx="671.2" cy="230.0" r="3.8"/><circle cx="579.5" cy="160.0" r="3.8"/><circle cx="356.7" cy="182.6" r="3.8"/><circle cx="429.1" cy="240.5" r="3.8"/><circle cx="474.9" cy="213.2" r="3.8"/><circle cx="641.3" cy="226.7" r="3.8"/><circle cx="573.9" cy="234.1" r="3.8"/><circle cx="534.6" cy="248.9" r="3.8"/><circle cx="231.2" cy="247.9" r="3.8"/><circle cx="650.1" cy="173.7" r="3.8"/><circle cx="523.5" cy="171.9" r="3.8"/><circle cx="681.1" cy="217.7" r="3.8"/><circle cx="573.6" cy="172.3" r="3.8"/><circle cx="440.1" cy="196.9" r="3.8"/><circle cx="673.0" cy="249.0" r="3.8"/><circle cx="436.1" cy="185.3" r="3.8"/><circle cx="347.5" cy="188.4" r="3.8"/><circle cx="363.5" cy="192.1" r="3.8"/><circle cx="477.9" cy="224.5" r="3.8"/><circle cx="685.4" cy="217.5" r="3.8"/><circle cx="470.3" cy="225.5" r="3.8"/><circle cx="574.4" cy="177.4" r="3.8"/><circle cx="556.4" cy="212.1" r="3.8"/><circle cx="504.5" cy="173.6" r="3.8"/><circle cx="802.6" cy="215.3" r="3.8"/><circle cx="517.9" cy="221.3" r="3.8"/><circle cx="574.6" cy="190.9" r="3.8"/><circle cx="684.7" cy="239.9" r="3.8"/><circle cx="630.7" cy="218.1" r="3.8"/><circle cx="679.7" cy="217.8" r="3.8"/><circle cx="598.6" cy="209.4" r="3.8"/><circle cx="639.4" cy="184.6" r="3.8"/><circle cx="430.2" cy="246.1" r="3.8"/><circle cx="512.4" cy="221.3" r="3.8"/><circle cx="530.7" cy="203.0" r="3.8"/><circle cx="595.7" cy="194.9" r="3.8"/><circle cx="538.1" cy="190.2" r="3.8"/><circle cx="474.5" cy="188.1" r="3.8"/><circle cx="573.6" cy="187.2" r="3.8"/><circle cx="475.3" cy="150.0" r="3.8"/><circle cx="428.9" cy="239.3" r="3.8"/><circle cx="426.9" cy="206.3" r="3.8"/><circle cx="472.5" cy="265.2" r="3.8"/><circle cx="618.1" cy="197.0" r="3.8"/><circle cx="763.5" cy="181.3" r="3.8"/><circle cx="641.9" cy="174.8" r="3.8"/><circle cx="699.4" cy="235.2" r="3.8"/><circle cx="363.9" cy="221.1" r="3.8"/><circle cx="651.6" cy="232.5" r="3.8"/><circle cx="521.0" cy="211.7" r="3.8"/><circle cx="788.5" cy="219.9" r="3.8"/><circle cx="483.5" cy="176.9" r="3.8"/><circle cx="620.6" cy="237.7" r="3.8"/><circle cx="492.4" cy="217.8" r="3.8"/><circle cx="537.4" cy="203.1" r="3.8"/><circle cx="694.3" cy="210.9" r="3.8"/><circle cx="509.1" cy="206.6" r="3.8"/><circle cx="554.5" cy="181.1" r="3.8"/><circle cx="608.2" cy="232.2" r="3.8"/><circle cx="595.0" cy="250.6" r="3.8"/><circle cx="408.2" cy="200.1" r="3.8"/><circle cx="512.9" cy="201.1" r="3.8"/><circle cx="459.2" cy="210.7" r="3.8"/><circle cx="407.1" cy="205.6" r="3.8"/><circle cx="511.8" cy="229.6" r="3.8"/><circle cx="442.8" cy="175.6" r="3.8"/><circle cx="626.4" cy="202.1" r="3.8"/><circle cx="527.6" cy="226.9" r="3.8"/><circle cx="638.8" cy="214.6" r="3.8"/><circle cx="490.8" cy="179.2" r="3.8"/><circle cx="394.7" cy="173.8" r="3.8"/><circle cx="481.8" cy="171.7" r="3.8"/><circle cx="424.0" cy="240.4" r="3.8"/><circle cx="506.9" cy="187.5" r="3.8"/><circle cx="580.2" cy="173.4" r="3.8"/><circle cx="518.1" cy="228.4" r="3.8"/><circle cx="644.0" cy="172.1" r="3.8"/><circle cx="769.9" cy="195.3" r="3.8"/><circle cx="654.1" cy="184.1" r="3.8"/><circle cx="514.7" cy="246.4" r="3.8"/><circle cx="570.6" cy="266.5" r="3.8"/><circle cx="280.4" cy="190.3" r="3.8"/><circle cx="633.0" cy="182.1" r="3.8"/><circle cx="349.3" cy="228.6" r="3.8"/><circle cx="773.1" cy="215.4" r="3.8"/><circle cx="436.0" cy="202.1" r="3.8"/><circle cx="458.5" cy="202.8" r="3.8"/><circle cx="726.5" cy="201.6" r="3.8"/><circle cx="687.7" cy="216.6" r="3.8"/><circle cx="547.6" cy="246.3" r="3.8"/><circle cx="631.0" cy="178.6" r="3.8"/><circle cx="597.5" cy="208.6" r="3.8"/><circle cx="448.3" cy="195.9" r="3.8"/><circle cx="484.2" cy="220.2" r="3.8"/><circle cx="269.7" cy="189.0" r="3.8"/><circle cx="671.0" cy="216.8" r="3.8"/><circle cx="396.5" cy="201.1" r="3.8"/><circle cx="667.7" cy="205.1" r="3.8"/><circle cx="747.8" cy="188.3" r="3.8"/><circle cx="719.6" cy="211.0" r="3.8"/><circle cx="528.0" cy="219.5" r="3.8"/><circle cx="484.7" cy="166.3" r="3.8"/><circle cx="664.9" cy="207.2" r="3.8"/><circle cx="516.1" cy="256.9" r="3.8"/><circle cx="640.6" cy="191.1" r="3.8"/><circle cx="434.6" cy="188.6" r="3.8"/><circle cx="463.3" cy="202.2" r="3.8"/><circle cx="439.0" cy="197.7" r="3.8"/><circle cx="419.1" cy="221.4" r="3.8"/><circle cx="583.5" cy="249.1" r="3.8"/><circle cx="484.2" cy="229.6" r="3.8"/><circle cx="561.1" cy="197.9" r="3.8"/><circle cx="529.0" cy="185.3" r="3.8"/><circle cx="484.8" cy="190.1" r="3.8"/><circle cx="299.1" cy="204.4" r="3.8"/><circle cx="454.4" cy="247.5" r="3.8"/><circle cx="425.1" cy="230.6" r="3.8"/><circle cx="620.7" cy="192.6" r="3.8"/><circle cx="291.9" cy="184.4" r="3.8"/><circle cx="673.9" cy="186.1" r="3.8"/><circle cx="519.7" cy="250.9" r="3.8"/><circle cx="522.6" cy="164.1" r="3.8"/><circle cx="631.0" cy="207.2" r="3.8"/><circle cx="571.8" cy="175.5" r="3.8"/><circle cx="573.7" cy="252.7" r="3.8"/><circle cx="663.9" cy="217.7" r="3.8"/><circle cx="663.7" cy="199.6" r="3.8"/><circle cx="421.9" cy="219.0" r="3.8"/><circle cx="665.3" cy="197.6" r="3.8"/><circle cx="437.1" cy="188.8" r="3.8"/><circle cx="649.1" cy="176.8" r="3.8"/><circle cx="306.4" cy="224.7" r="3.8"/><circle cx="406.3" cy="159.4" r="3.8"/><circle cx="519.4" cy="224.9" r="3.8"/><circle cx="350.4" cy="244.9" r="3.8"/><circle cx="374.1" cy="211.7" r="3.8"/><circle cx="435.4" cy="227.9" r="3.8"/><circle cx="549.5" cy="192.7" r="3.8"/><circle cx="569.5" cy="232.8" r="3.8"/><circle cx="596.5" cy="188.7" r="3.8"/><circle cx="562.0" cy="215.4" r="3.8"/><circle cx="447.8" cy="220.1" r="3.8"/><circle cx="558.1" cy="212.6" r="3.8"/><circle cx="709.3" cy="208.9" r="3.8"/><circle cx="745.5" cy="216.9" r="3.8"/><circle cx="505.5" cy="204.4" r="3.8"/><circle cx="342.3" cy="239.7" r="3.8"/><circle cx="440.8" cy="205.6" r="3.8"/><circle cx="468.2" cy="169.5" r="3.8"/><circle cx="500.3" cy="235.5" r="3.8"/><circle cx="638.5" cy="174.7" r="3.8"/><circle cx="700.9" cy="195.8" r="3.8"/><circle cx="448.4" cy="227.1" r="3.8"/><circle cx="701.5" cy="175.1" r="3.8"/><circle cx="491.3" cy="219.5" r="3.8"/><circle cx="352.8" cy="264.5" r="3.8"/><circle cx="592.2" cy="177.5" r="3.8"/><circle cx="456.1" cy="225.8" r="3.8"/><circle cx="435.8" cy="198.8" r="3.8"/><circle cx="632.3" cy="191.8" r="3.8"/><circle cx="589.3" cy="197.1" r="3.8"/><circle cx="568.7" cy="217.8" r="3.8"/><circle cx="593.7" cy="208.3" r="3.8"/><circle cx="529.7" cy="187.3" r="3.8"/><circle cx="552.6" cy="227.4" r="3.8"/><circle cx="626.2" cy="183.1" r="3.8"/><circle cx="410.5" cy="182.0" r="3.8"/><circle cx="451.9" cy="209.2" r="3.8"/><circle cx="514.2" cy="241.3" r="3.8"/><circle cx="569.6" cy="211.4" r="3.8"/><circle cx="486.4" cy="197.2" r="3.8"/><circle cx="354.8" cy="207.2" r="3.8"/><circle cx="255.7" cy="165.0" r="3.8"/><circle cx="638.9" cy="206.5" r="3.8"/><circle cx="483.7" cy="185.5" r="3.8"/><circle cx="663.4" cy="198.3" r="3.8"/><circle cx="638.8" cy="175.1" r="3.8"/><circle cx="617.7" cy="199.9" r="3.8"/><circle cx="648.2" cy="194.0" r="3.8"/><circle cx="283.1" cy="213.2" r="3.8"/><circle cx="336.9" cy="216.6" r="3.8"/><circle cx="631.7" cy="198.5" r="3.8"/><circle cx="564.8" cy="193.3" r="3.8"/><circle cx="524.6" cy="209.5" r="3.8"/><circle cx="739.1" cy="201.3" r="3.8"/><circle cx="536.7" cy="183.8" r="3.8"/><circle cx="627.1" cy="195.4" r="3.8"/><circle cx="556.8" cy="253.8" r="3.8"/><circle cx="589.0" cy="211.8" r="3.8"/><circle cx="675.4" cy="169.0" r="3.8"/><circle cx="681.6" cy="220.5" r="3.8"/><circle cx="339.1" cy="217.9" r="3.8"/><circle cx="282.3" cy="203.6" r="3.8"/><circle cx="682.1" cy="190.5" r="3.8"/><circle cx="444.9" cy="163.0" r="3.8"/><circle cx="574.9" cy="209.9" r="3.8"/><circle cx="568.2" cy="194.5" r="3.8"/><circle cx="548.2" cy="181.8" r="3.8"/><circle cx="630.6" cy="181.8" r="3.8"/><circle cx="441.6" cy="219.5" r="3.8"/><circle cx="494.8" cy="221.6" r="3.8"/><circle cx="529.0" cy="218.0" r="3.8"/><circle cx="551.2" cy="183.2" r="3.8"/><circle cx="318.8" cy="220.7" r="3.8"/><circle cx="552.5" cy="214.0" r="3.8"/><circle cx="675.7" cy="206.3" r="3.8"/><circle cx="464.6" cy="199.8" r="3.8"/><circle cx="533.8" cy="214.7" r="3.8"/><circle cx="576.4" cy="227.2" r="3.8"/><circle cx="344.2" cy="189.3" r="3.8"/><circle cx="400.2" cy="254.4" r="3.8"/><circle cx="527.5" cy="236.9" r="3.8"/><circle cx="672.0" cy="212.2" r="3.8"/><circle cx="368.4" cy="231.3" r="3.8"/><circle cx="299.1" cy="228.0" r="3.8"/><circle cx="468.7" cy="173.2" r="3.8"/><circle cx="709.5" cy="186.6" r="3.8"/><circle cx="448.1" cy="168.2" r="3.8"/><circle cx="520.2" cy="218.3" r="3.8"/><circle cx="618.6" cy="168.1" r="3.8"/><circle cx="607.2" cy="206.0" r="3.8"/><circle cx="693.7" cy="215.1" r="3.8"/><circle cx="433.0" cy="217.8" r="3.8"/><circle cx="721.4" cy="182.2" r="3.8"/><circle cx="547.0" cy="234.4" r="3.8"/><circle cx="509.8" cy="235.8" r="3.8"/><circle cx="447.8" cy="208.0" r="3.8"/><circle cx="616.0" cy="221.4" r="3.8"/><circle cx="304.2" cy="203.4" r="3.8"/><circle cx="559.0" cy="199.5" r="3.8"/><circle cx="691.7" cy="213.9" r="3.8"/><circle cx="563.9" cy="224.9" r="3.8"/><circle cx="585.7" cy="181.9" r="3.8"/><circle cx="572.1" cy="215.4" r="3.8"/><circle cx="625.7" cy="198.7" r="3.8"/><circle cx="586.2" cy="209.0" r="3.8"/><circle cx="510.4" cy="158.0" r="3.8"/><circle cx="821.0" cy="197.1" r="3.8"/><circle cx="505.5" cy="207.3" r="3.8"/><circle cx="443.9" cy="215.6" r="3.8"/><circle cx="687.7" cy="189.5" r="3.8"/><circle cx="708.8" cy="219.6" r="3.8"/><circle cx="648.8" cy="154.7" r="3.8"/><circle cx="414.9" cy="237.9" r="3.8"/><circle cx="573.4" cy="232.2" r="3.8"/><circle cx="489.1" cy="208.6" r="3.8"/><circle cx="603.9" cy="211.9" r="3.8"/><circle cx="561.0" cy="151.1" r="3.8"/><circle cx="694.0" cy="212.4" r="3.8"/><circle cx="633.9" cy="175.7" r="3.8"/><circle cx="532.8" cy="189.8" r="3.8"/><circle cx="485.1" cy="233.3" r="3.8"/><circle cx="774.0" cy="177.3" r="3.8"/><circle cx="786.2" cy="183.4" r="3.8"/><circle cx="745.5" cy="176.8" r="3.8"/><circle cx="698.6" cy="184.6" r="3.8"/><circle cx="565.5" cy="237.2" r="3.8"/><circle cx="450.9" cy="185.3" r="3.8"/><circle cx="459.7" cy="218.6" r="3.8"/><circle cx="642.1" cy="178.5" r="3.8"/><circle cx="586.1" cy="194.0" r="3.8"/><circle cx="632.5" cy="196.0" r="3.8"/><circle cx="475.4" cy="178.0" r="3.8"/><circle cx="473.5" cy="207.7" r="3.8"/><circle cx="709.5" cy="207.7" r="3.8"/><circle cx="748.5" cy="174.7" r="3.8"/><circle cx="763.1" cy="215.2" r="3.8"/><circle cx="638.3" cy="212.5" r="3.8"/><circle cx="435.2" cy="274.9" r="3.8"/><circle cx="815.6" cy="192.2" r="3.8"/><circle cx="418.3" cy="228.4" r="3.8"/><circle cx="708.2" cy="207.6" r="3.8"/><circle cx="720.2" cy="176.8" r="3.8"/><circle cx="540.7" cy="172.9" r="3.8"/><circle cx="462.1" cy="279.7" r="3.8"/><circle cx="478.7" cy="197.1" r="3.8"/><circle cx="453.7" cy="237.1" r="3.8"/><circle cx="398.9" cy="250.5" r="3.8"/><circle cx="494.4" cy="242.5" r="3.8"/><circle cx="513.3" cy="177.2" r="3.8"/><circle cx="489.9" cy="175.9" r="3.8"/><circle cx="437.8" cy="246.8" r="3.8"/><circle cx="644.4" cy="206.8" r="3.8"/><circle cx="694.8" cy="212.9" r="3.8"/><circle cx="624.4" cy="213.3" r="3.8"/><circle cx="522.9" cy="227.1" r="3.8"/><circle cx="791.6" cy="212.9" r="3.8"/><circle cx="380.1" cy="249.2" r="3.8"/><circle cx="489.4" cy="233.1" r="3.8"/><circle cx="665.1" cy="190.6" r="3.8"/><circle cx="410.7" cy="194.3" r="3.8"/><circle cx="608.9" cy="246.9" r="3.8"/><circle cx="454.4" cy="229.4" r="3.8"/><circle cx="479.0" cy="208.3" r="3.8"/><circle cx="678.5" cy="250.0" r="3.8"/><circle cx="573.6" cy="222.7" r="3.8"/><circle cx="399.5" cy="208.0" r="3.8"/><circle cx="637.2" cy="185.7" r="3.8"/><circle cx="658.2" cy="223.9" r="3.8"/><circle cx="492.9" cy="202.3" r="3.8"/><circle cx="547.1" cy="193.8" r="3.8"/><circle cx="721.7" cy="220.5" r="3.8"/><circle cx="704.6" cy="187.9" r="3.8"/><circle cx="547.4" cy="147.1" r="3.8"/><circle cx="725.5" cy="180.7" r="3.8"/><circle cx="388.4" cy="205.0" r="3.8"/><circle cx="548.6" cy="220.4" r="3.8"/><circle cx="570.2" cy="213.5" r="3.8"/><circle cx="603.8" cy="212.1" r="3.8"/><circle cx="553.7" cy="244.3" r="3.8"/><circle cx="562.8" cy="246.8" r="3.8"/><circle cx="427.5" cy="205.5" r="3.8"/><circle cx="600.7" cy="186.6" r="3.8"/><circle cx="509.5" cy="207.5" r="3.8"/><circle cx="556.5" cy="230.6" r="3.8"/><circle cx="393.9" cy="218.6" r="3.8"/><circle cx="423.7" cy="265.7" r="3.8"/><circle cx="626.0" cy="201.7" r="3.8"/><circle cx="510.9" cy="215.9" r="3.8"/><circle cx="625.0" cy="231.8" r="3.8"/><circle cx="784.6" cy="212.2" r="3.8"/><circle cx="634.6" cy="185.9" r="3.8"/><circle cx="512.5" cy="209.5" r="3.8"/><circle cx="678.3" cy="245.4" r="3.8"/><circle cx="516.0" cy="213.9" r="3.8"/><circle cx="747.3" cy="209.9" r="3.8"/><circle cx="307.3" cy="191.2" r="3.8"/><circle cx="525.7" cy="207.6" r="3.8"/><circle cx="378.9" cy="217.9" r="3.8"/><circle cx="650.7" cy="211.2" r="3.8"/><circle cx="562.1" cy="219.4" r="3.8"/><circle cx="482.7" cy="239.0" r="3.8"/><circle cx="291.3" cy="197.4" r="3.8"/><circle cx="640.4" cy="268.7" r="3.8"/><circle cx="629.5" cy="221.8" r="3.8"/><circle cx="605.3" cy="235.8" r="3.8"/><circle cx="599.4" cy="187.0" r="3.8"/><circle cx="496.0" cy="173.8" r="3.8"/><circle cx="700.3" cy="193.5" r="3.8"/><circle cx="725.2" cy="219.3" r="3.8"/><circle cx="527.1" cy="260.6" r="3.8"/><circle cx="616.0" cy="252.7" r="3.8"/><circle cx="246.0" cy="241.4" r="3.8"/><circle cx="519.0" cy="217.1" r="3.8"/><circle cx="475.3" cy="226.7" r="3.8"/><circle cx="736.6" cy="200.7" r="3.8"/><circle cx="710.2" cy="198.3" r="3.8"/><circle cx="724.5" cy="199.1" r="3.8"/><circle cx="624.7" cy="268.0" r="3.8"/><circle cx="529.5" cy="197.1" r="3.8"/><circle cx="521.5" cy="251.4" r="3.8"/><circle cx="519.4" cy="237.3" r="3.8"/><circle cx="521.4" cy="160.9" r="3.8"/><circle cx="442.4" cy="205.2" r="3.8"/><circle cx="441.7" cy="196.5" r="3.8"/><circle cx="692.6" cy="207.5" r="3.8"/><circle cx="561.7" cy="249.5" r="3.8"/><circle cx="559.5" cy="267.4" r="3.8"/><circle cx="667.2" cy="230.6" r="3.8"/><circle cx="503.8" cy="169.0" r="3.8"/><circle cx="491.3" cy="248.4" r="3.8"/><circle cx="544.5" cy="212.0" r="3.8"/><circle cx="412.3" cy="207.0" r="3.8"/><circle cx="289.4" cy="201.8" r="3.8"/><circle cx="272.8" cy="196.0" r="3.8"/><circle cx="481.0" cy="214.0" r="3.8"/><circle cx="372.8" cy="211.5" r="3.8"/><circle cx="550.2" cy="196.4" r="3.8"/><circle cx="457.3" cy="170.5" r="3.8"/><circle cx="446.9" cy="236.4" r="3.8"/><circle cx="706.0" cy="193.3" r="3.8"/><circle cx="295.3" cy="224.4" r="3.8"/><circle cx="586.0" cy="231.8" r="3.8"/><circle cx="598.6" cy="245.3" r="3.8"/><circle cx="459.5" cy="167.5" r="3.8"/><circle cx="382.9" cy="173.0" r="3.8"/><circle cx="667.8" cy="219.5" r="3.8"/><circle cx="504.1" cy="210.8" r="3.8"/><circle cx="622.8" cy="211.7" r="3.8"/><circle cx="514.4" cy="201.8" r="3.8"/><circle cx="562.6" cy="189.1" r="3.8"/><circle cx="491.9" cy="241.4" r="3.8"/><circle cx="713.4" cy="233.6" r="3.8"/><circle cx="556.4" cy="193.0" r="3.8"/><circle cx="369.4" cy="208.2" r="3.8"/><circle cx="456.2" cy="201.0" r="3.8"/><circle cx="513.6" cy="233.6" r="3.8"/><circle cx="525.6" cy="165.8" r="3.8"/><circle cx="603.8" cy="195.4" r="3.8"/><circle cx="662.1" cy="182.3" r="3.8"/><circle cx="660.4" cy="183.7" r="3.8"/><circle cx="599.5" cy="204.0" r="3.8"/><circle cx="516.2" cy="229.0" r="3.8"/><circle cx="407.3" cy="217.0" r="3.8"/><circle cx="654.0" cy="233.2" r="3.8"/><circle cx="596.7" cy="212.4" r="3.8"/><circle cx="767.4" cy="216.7" r="3.8"/><circle cx="571.4" cy="184.7" r="3.8"/><circle cx="539.1" cy="231.8" r="3.8"/><circle cx="691.3" cy="215.1" r="3.8"/><circle cx="600.4" cy="183.1" r="3.8"/><circle cx="556.5" cy="202.0" r="3.8"/><circle cx="722.1" cy="221.2" r="3.8"/><circle cx="558.7" cy="248.0" r="3.8"/><circle cx="544.4" cy="204.3" r="3.8"/><circle cx="460.0" cy="220.8" r="3.8"/><circle cx="387.9" cy="252.9" r="3.8"/><circle cx="553.5" cy="246.9" r="3.8"/><circle cx="532.6" cy="208.9" r="3.8"/><circle cx="814.6" cy="187.6" r="3.8"/><circle cx="542.9" cy="164.6" r="3.8"/><circle cx="573.0" cy="240.0" r="3.8"/><circle cx="418.8" cy="147.3" r="3.8"/><circle cx="415.8" cy="250.4" r="3.8"/><circle cx="443.8" cy="195.4" r="3.8"/><circle cx="603.8" cy="173.2" r="3.8"/><circle cx="511.9" cy="202.4" r="3.8"/><circle cx="510.6" cy="246.4" r="3.8"/><circle cx="619.8" cy="232.8" r="3.8"/><circle cx="496.5" cy="189.9" r="3.8"/><circle cx="446.1" cy="193.2" r="3.8"/><circle cx="574.6" cy="186.3" r="3.8"/><circle cx="280.6" cy="185.0" r="3.8"/><circle cx="355.3" cy="175.1" r="3.8"/><circle cx="469.7" cy="206.9" r="3.8"/><circle cx="456.0" cy="219.2" r="3.8"/><circle cx="390.8" cy="181.6" r="3.8"/><circle cx="636.7" cy="221.3" r="3.8"/><circle cx="506.4" cy="190.2" r="3.8"/><circle cx="556.6" cy="204.8" r="3.8"/><circle cx="621.4" cy="207.5" r="3.8"/><circle cx="487.5" cy="239.8" r="3.8"/><circle cx="438.9" cy="210.3" r="3.8"/><circle cx="260.4" cy="185.9" r="3.8"/><circle cx="401.0" cy="239.2" r="3.8"/><circle cx="789.7" cy="199.4" r="3.8"/><circle cx="503.6" cy="193.7" r="3.8"/><circle cx="712.8" cy="212.7" r="3.8"/><circle cx="637.9" cy="196.3" r="3.8"/><circle cx="451.7" cy="166.6" r="3.8"/><circle cx="361.4" cy="192.1" r="3.8"/><circle cx="625.2" cy="239.3" r="3.8"/><circle cx="571.6" cy="209.6" r="3.8"/><circle cx="530.0" cy="222.3" r="3.8"/><circle cx="511.3" cy="213.0" r="3.8"/><circle cx="589.1" cy="240.2" r="3.8"/><circle cx="542.1" cy="146.1" r="3.8"/><circle cx="521.4" cy="206.4" r="3.8"/><circle cx="634.6" cy="190.0" r="3.8"/><circle cx="583.4" cy="188.7" r="3.8"/><circle cx="514.2" cy="180.8" r="3.8"/><circle cx="683.2" cy="231.3" r="3.8"/><circle cx="388.5" cy="219.1" r="3.8"/><circle cx="523.3" cy="186.8" r="3.8"/><circle cx="602.4" cy="227.0" r="3.8"/><circle cx="607.7" cy="198.0" r="3.8"/><circle cx="519.3" cy="170.4" r="3.8"/><circle cx="580.4" cy="216.5" r="3.8"/><circle cx="632.8" cy="225.3" r="3.8"/><circle cx="444.7" cy="198.2" r="3.8"/><circle cx="663.2" cy="227.1" r="3.8"/><circle cx="586.2" cy="205.0" r="3.8"/><circle cx="603.1" cy="195.4" r="3.8"/><circle cx="446.6" cy="208.1" r="3.8"/><circle cx="436.4" cy="207.2" r="3.8"/><circle cx="483.6" cy="189.7" r="3.8"/><circle cx="292.5" cy="235.2" r="3.8"/><circle cx="716.9" cy="214.3" r="3.8"/><circle cx="787.2" cy="205.9" r="3.8"/><circle cx="455.8" cy="230.2" r="3.8"/><circle cx="661.6" cy="221.3" r="3.8"/><circle cx="497.1" cy="209.0" r="3.8"/><circle cx="452.0" cy="230.0" r="3.8"/><circle cx="365.8" cy="231.2" r="3.8"/><circle cx="410.5" cy="221.4" r="3.8"/><circle cx="462.4" cy="258.0" r="3.8"/><circle cx="397.0" cy="187.7" r="3.8"/><circle cx="466.0" cy="202.3" r="3.8"/><circle cx="463.9" cy="249.4" r="3.8"/><circle cx="635.9" cy="151.1" r="3.8"/><circle cx="487.0" cy="205.3" r="3.8"/><circle cx="725.5" cy="191.9" r="3.8"/><circle cx="610.9" cy="207.8" r="3.8"/><circle cx="730.5" cy="211.1" r="3.8"/><circle cx="499.8" cy="240.3" r="3.8"/><circle cx="540.6" cy="198.0" r="3.8"/><circle cx="703.5" cy="199.8" r="3.8"/><circle cx="455.1" cy="194.2" r="3.8"/><circle cx="626.9" cy="207.7" r="3.8"/><circle cx="549.5" cy="215.6" r="3.8"/><circle cx="601.5" cy="188.4" r="3.8"/><circle cx="640.8" cy="206.0" r="3.8"/><circle cx="473.3" cy="239.2" r="3.8"/><circle cx="723.8" cy="168.9" r="3.8"/><circle cx="300.9" cy="172.1" r="3.8"/><circle cx="694.5" cy="184.0" r="3.8"/><circle cx="425.4" cy="181.0" r="3.8"/><circle cx="527.9" cy="216.1" r="3.8"/><circle cx="753.0" cy="178.4" r="3.8"/><circle cx="357.2" cy="218.9" r="3.8"/><circle cx="267.6" cy="188.7" r="3.8"/><circle cx="713.9" cy="198.4" r="3.8"/><circle cx="559.3" cy="271.2" r="3.8"/><circle cx="456.0" cy="227.6" r="3.8"/><circle cx="374.4" cy="213.8" r="3.8"/><circle cx="413.6" cy="176.6" r="3.8"/><circle cx="581.8" cy="192.2" r="3.8"/><circle cx="454.9" cy="208.4" r="3.8"/><circle cx="711.7" cy="213.2" r="3.8"/><circle cx="382.4" cy="223.0" r="3.8"/><circle cx="697.6" cy="230.4" r="3.8"/><circle cx="367.6" cy="212.4" r="3.8"/><circle cx="671.1" cy="197.8" r="3.8"/><circle cx="621.9" cy="227.2" r="3.8"/><circle cx="540.7" cy="183.3" r="3.8"/><circle cx="304.2" cy="230.3" r="3.8"/><circle cx="713.8" cy="190.4" r="3.8"/><circle cx="401.1" cy="192.2" r="3.8"/><circle cx="817.2" cy="234.1" r="3.8"/><circle cx="514.7" cy="224.7" r="3.8"/><circle cx="550.7" cy="174.4" r="3.8"/><circle cx="489.6" cy="260.8" r="3.8"/><circle cx="579.2" cy="209.8" r="3.8"/><circle cx="348.9" cy="201.7" r="3.8"/><circle cx="600.6" cy="241.1" r="3.8"/><circle cx="597.9" cy="223.6" r="3.8"/><circle cx="419.3" cy="220.5" r="3.8"/><circle cx="529.5" cy="208.2" r="3.8"/><circle cx="530.3" cy="234.0" r="3.8"/><circle cx="800.3" cy="221.6" r="3.8"/><circle cx="684.7" cy="180.0" r="3.8"/><circle cx="806.3" cy="203.6" r="3.8"/><circle cx="778.2" cy="203.4" r="3.8"/><circle cx="750.0" cy="194.3" r="3.8"/><circle cx="630.5" cy="238.1" r="3.8"/><circle cx="441.2" cy="191.3" r="3.8"/><circle cx="581.5" cy="208.5" r="3.8"/><circle cx="456.5" cy="214.1" r="3.8"/><circle cx="568.2" cy="224.3" r="3.8"/><circle cx="658.8" cy="199.6" r="3.8"/><circle cx="463.3" cy="176.4" r="3.8"/><circle cx="462.1" cy="186.9" r="3.8"/><circle cx="504.1" cy="188.6" r="3.8"/><circle cx="416.9" cy="221.5" r="3.8"/><circle cx="517.9" cy="184.6" r="3.8"/><circle cx="539.8" cy="160.5" r="3.8"/><circle cx="307.6" cy="216.7" r="3.8"/><circle cx="743.7" cy="191.1" r="3.8"/><circle cx="518.0" cy="201.7" r="3.8"/><circle cx="691.0" cy="218.8" r="3.8"/><circle cx="385.4" cy="214.7" r="3.8"/><circle cx="362.5" cy="267.4" r="3.8"/><circle cx="391.9" cy="211.7" r="3.8"/><circle cx="421.5" cy="194.4" r="3.8"/><circle cx="681.1" cy="192.7" r="3.8"/><circle cx="574.7" cy="189.5" r="3.8"/><circle cx="634.4" cy="187.1" r="3.8"/><circle cx="570.7" cy="208.6" r="3.8"/><circle cx="546.1" cy="195.8" r="3.8"/><circle cx="715.1" cy="210.1" r="3.8"/><circle cx="560.4" cy="194.3" r="3.8"/><circle cx="521.3" cy="210.5" r="3.8"/><circle cx="332.0" cy="196.2" r="3.8"/><circle cx="603.5" cy="175.7" r="3.8"/><circle cx="750.7" cy="216.5" r="3.8"/><circle cx="723.4" cy="170.8" r="3.8"/><circle cx="534.7" cy="212.7" r="3.8"/><circle cx="634.3" cy="185.3" r="3.8"/><circle cx="658.0" cy="202.5" r="3.8"/><circle cx="710.5" cy="180.0" r="3.8"/><circle cx="553.4" cy="221.9" r="3.8"/><circle cx="670.0" cy="222.4" r="3.8"/><circle cx="543.6" cy="246.0" r="3.8"/><circle cx="615.9" cy="186.3" r="3.8"/><circle cx="604.6" cy="227.3" r="3.8"/><circle cx="491.4" cy="262.2" r="3.8"/><circle cx="530.9" cy="212.3" r="3.8"/><circle cx="558.8" cy="239.0" r="3.8"/><circle cx="508.5" cy="223.2" r="3.8"/><circle cx="547.7" cy="192.9" r="3.8"/><circle cx="472.9" cy="237.5" r="3.8"/><circle cx="385.0" cy="245.1" r="3.8"/><circle cx="476.2" cy="211.6" r="3.8"/><circle cx="638.5" cy="203.4" r="3.8"/><circle cx="567.0" cy="235.6" r="3.8"/><circle cx="443.0" cy="196.3" r="3.8"/><circle cx="828.5" cy="191.5" r="3.8"/><circle cx="424.5" cy="191.6" r="3.8"/><circle cx="614.8" cy="233.2" r="3.8"/><circle cx="555.2" cy="184.0" r="3.8"/><circle cx="604.0" cy="226.0" r="3.8"/><circle cx="422.3" cy="224.1" r="3.8"/><circle cx="411.1" cy="193.2" r="3.8"/><circle cx="612.9" cy="161.8" r="3.8"/><circle cx="619.7" cy="170.4" r="3.8"/><circle cx="603.7" cy="220.3" r="3.8"/><circle cx="521.0" cy="178.8" r="3.8"/><circle cx="566.5" cy="190.0" r="3.8"/><circle cx="665.0" cy="206.9" r="3.8"/><circle cx="552.9" cy="210.6" r="3.8"/><circle cx="673.5" cy="192.3" r="3.8"/><circle cx="380.7" cy="203.4" r="3.8"/><circle cx="769.2" cy="202.6" r="3.8"/><circle cx="551.8" cy="211.0" r="3.8"/><circle cx="507.6" cy="220.1" r="3.8"/><circle cx="556.1" cy="203.8" r="3.8"/><circle cx="491.2" cy="221.3" r="3.8"/><circle cx="768.6" cy="215.3" r="3.8"/><circle cx="594.6" cy="246.6" r="3.8"/><circle cx="402.9" cy="193.5" r="3.8"/><circle cx="651.5" cy="219.9" r="3.8"/><circle cx="437.7" cy="176.3" r="3.8"/><circle cx="465.1" cy="195.7" r="3.8"/><circle cx="564.0" cy="219.9" r="3.8"/><circle cx="604.1" cy="173.4" r="3.8"/><circle cx="607.3" cy="207.6" r="3.8"/><circle cx="621.1" cy="177.3" r="3.8"/><circle cx="309.3" cy="183.7" r="3.8"/><circle cx="526.2" cy="172.7" r="3.8"/><circle cx="690.0" cy="216.5" r="3.8"/><circle cx="399.2" cy="243.7" r="3.8"/><circle cx="448.4" cy="179.1" r="3.8"/><circle cx="548.7" cy="177.1" r="3.8"/><circle cx="637.1" cy="230.2" r="3.8"/><circle cx="581.1" cy="263.0" r="3.8"/><circle cx="530.7" cy="190.5" r="3.8"/><circle cx="531.2" cy="170.2" r="3.8"/><circle cx="438.8" cy="196.5" r="3.8"/><circle cx="596.0" cy="260.3" r="3.8"/><circle cx="588.0" cy="185.6" r="3.8"/><circle cx="395.3" cy="212.4" r="3.8"/><circle cx="503.4" cy="196.5" r="3.8"/><circle cx="390.8" cy="232.1" r="3.8"/><circle cx="530.6" cy="166.5" r="3.8"/><circle cx="651.3" cy="203.4" r="3.8"/><circle cx="458.1" cy="222.3" r="3.8"/><circle cx="435.3" cy="205.9" r="3.8"/><circle cx="528.1" cy="230.5" r="3.8"/><circle cx="605.7" cy="211.1" r="3.8"/><circle cx="512.6" cy="205.0" r="3.8"/><circle cx="356.3" cy="175.7" r="3.8"/><circle cx="730.7" cy="199.2" r="3.8"/><circle cx="748.5" cy="193.4" r="3.8"/><circle cx="511.5" cy="189.7" r="3.8"/><circle cx="436.5" cy="216.5" r="3.8"/><circle cx="644.5" cy="219.4" r="3.8"/><circle cx="227.5" cy="219.8" r="3.8"/><circle cx="533.4" cy="230.7" r="3.8"/><circle cx="579.4" cy="186.9" r="3.8"/><circle cx="462.4" cy="157.5" r="3.8"/><circle cx="669.5" cy="187.0" r="3.8"/><circle cx="519.9" cy="224.1" r="3.8"/><circle cx="478.9" cy="241.7" r="3.8"/><circle cx="293.3" cy="224.3" r="3.8"/><circle cx="300.9" cy="176.9" r="3.8"/><circle cx="624.8" cy="211.9" r="3.8"/><circle cx="565.6" cy="205.1" r="3.8"/><circle cx="532.0" cy="166.2" r="3.8"/><circle cx="490.6" cy="261.1" r="3.8"/><circle cx="573.5" cy="225.8" r="3.8"/><circle cx="343.2" cy="183.9" r="3.8"/><circle cx="422.9" cy="199.3" r="3.8"/><circle cx="531.2" cy="224.2" r="3.8"/><circle cx="662.8" cy="236.2" r="3.8"/><circle cx="620.1" cy="197.8" r="3.8"/><circle cx="615.5" cy="222.7" r="3.8"/><circle cx="552.9" cy="235.9" r="3.8"/><circle cx="612.0" cy="204.3" r="3.8"/><circle cx="753.8" cy="187.4" r="3.8"/><circle cx="589.4" cy="189.5" r="3.8"/><circle cx="617.4" cy="207.3" r="3.8"/><circle cx="634.3" cy="203.8" r="3.8"/><circle cx="643.3" cy="240.1" r="3.8"/><circle cx="657.1" cy="232.4" r="3.8"/><circle cx="495.3" cy="236.2" r="3.8"/><circle cx="456.0" cy="198.6" r="3.8"/><circle cx="571.3" cy="190.1" r="3.8"/><circle cx="674.4" cy="241.9" r="3.8"/><circle cx="542.3" cy="147.6" r="3.8"/><circle cx="640.5" cy="211.7" r="3.8"/><circle cx="459.6" cy="219.6" r="3.8"/><circle cx="520.8" cy="196.0" r="3.8"/><circle cx="544.9" cy="163.3" r="3.8"/><circle cx="536.3" cy="197.2" r="3.8"/><circle cx="417.9" cy="247.5" r="3.8"/><circle cx="444.4" cy="223.4" r="3.8"/><circle cx="536.5" cy="219.2" r="3.8"/><circle cx="619.3" cy="177.1" r="3.8"/><circle cx="624.7" cy="192.2" r="3.8"/><circle cx="632.9" cy="169.4" r="3.8"/><circle cx="427.9" cy="201.0" r="3.8"/><circle cx="520.8" cy="215.2" r="3.8"/><circle cx="393.0" cy="199.2" r="3.8"/><circle cx="606.3" cy="163.9" r="3.8"/><circle cx="526.3" cy="212.3" r="3.8"/><circle cx="580.2" cy="214.8" r="3.8"/><circle cx="452.6" cy="176.7" r="3.8"/><circle cx="596.8" cy="222.6" r="3.8"/><circle cx="795.5" cy="168.5" r="3.8"/><circle cx="634.1" cy="201.2" r="3.8"/><circle cx="437.4" cy="189.7" r="3.8"/><circle cx="408.1" cy="258.8" r="3.8"/><circle cx="510.5" cy="174.5" r="3.8"/><circle cx="585.6" cy="202.6" r="3.8"/><circle cx="470.8" cy="189.6" r="3.8"/><circle cx="655.5" cy="200.8" r="3.8"/><circle cx="579.8" cy="207.5" r="3.8"/><circle cx="643.9" cy="205.0" r="3.8"/><circle cx="593.9" cy="165.6" r="3.8"/><circle cx="728.4" cy="213.5" r="3.8"/><circle cx="433.1" cy="211.6" r="3.8"/><circle cx="385.2" cy="203.0" r="3.8"/><circle cx="462.3" cy="225.3" r="3.8"/><circle cx="545.6" cy="174.0" r="3.8"/><circle cx="576.3" cy="223.2" r="3.8"/><circle cx="586.9" cy="192.4" r="3.8"/><circle cx="680.2" cy="182.6" r="3.8"/><circle cx="677.7" cy="166.3" r="3.8"/><circle cx="463.1" cy="229.0" r="3.8"/><circle cx="717.1" cy="205.7" r="3.8"/><circle cx="437.3" cy="202.5" r="3.8"/><circle cx="652.9" cy="207.8" r="3.8"/><circle cx="554.7" cy="194.9" r="3.8"/><circle cx="407.0" cy="233.2" r="3.8"/><circle cx="559.6" cy="159.0" r="3.8"/><circle cx="237.4" cy="173.8" r="3.8"/><circle cx="497.1" cy="199.4" r="3.8"/><circle cx="740.5" cy="218.7" r="3.8"/><circle cx="539.6" cy="235.9" r="3.8"/><circle cx="785.5" cy="218.1" r="3.8"/><circle cx="796.4" cy="170.5" r="3.8"/><circle cx="761.5" cy="193.8" r="3.8"/><circle cx="568.6" cy="187.2" r="3.8"/><circle cx="313.2" cy="197.5" r="3.8"/><circle cx="468.2" cy="235.4" r="3.8"/><circle cx="605.9" cy="226.7" r="3.8"/><circle cx="661.2" cy="205.7" r="3.8"/><circle cx="370.4" cy="247.2" r="3.8"/><circle cx="461.2" cy="256.3" r="3.8"/><circle cx="672.6" cy="187.2" r="3.8"/><circle cx="295.3" cy="196.8" r="3.8"/><circle cx="493.0" cy="223.2" r="3.8"/><circle cx="554.1" cy="217.2" r="3.8"/><circle cx="338.5" cy="193.2" r="3.8"/><circle cx="576.1" cy="229.5" r="3.8"/><circle cx="388.3" cy="213.8" r="3.8"/><circle cx="416.5" cy="155.6" r="3.8"/><circle cx="513.1" cy="239.2" r="3.8"/><circle cx="219.7" cy="219.7" r="3.8"/><circle cx="496.9" cy="275.0" r="3.8"/><circle cx="512.7" cy="213.0" r="3.8"/><circle cx="553.6" cy="224.0" r="3.8"/><circle cx="412.2" cy="195.2" r="3.8"/><circle cx="512.5" cy="220.2" r="3.8"/><circle cx="531.3" cy="198.3" r="3.8"/><circle cx="571.5" cy="192.7" r="3.8"/><circle cx="460.0" cy="222.8" r="3.8"/><circle cx="730.1" cy="196.3" r="3.8"/><circle cx="509.3" cy="214.9" r="3.8"/><circle cx="787.0" cy="199.7" r="3.8"/><circle cx="494.9" cy="193.5" r="3.8"/><circle cx="610.6" cy="207.3" r="3.8"/><circle cx="448.8" cy="245.9" r="3.8"/><circle cx="545.2" cy="239.3" r="3.8"/><circle cx="579.9" cy="207.3" r="3.8"/><circle cx="553.9" cy="182.4" r="3.8"/><circle cx="685.3" cy="241.6" r="3.8"/><circle cx="697.6" cy="199.6" r="3.8"/><circle cx="229.6" cy="177.0" r="3.8"/><circle cx="600.5" cy="202.6" r="3.8"/><circle cx="584.6" cy="214.6" r="3.8"/><circle cx="410.7" cy="151.6" r="3.8"/><circle cx="587.7" cy="209.9" r="3.8"/><circle cx="453.3" cy="229.5" r="3.8"/><circle cx="662.6" cy="221.0" r="3.8"/><circle cx="587.3" cy="236.0" r="3.8"/><circle cx="388.6" cy="208.8" r="3.8"/><circle cx="459.6" cy="169.4" r="3.8"/><circle cx="577.9" cy="177.6" r="3.8"/><circle cx="505.7" cy="186.6" r="3.8"/><circle cx="456.5" cy="237.1" r="3.8"/><circle cx="477.0" cy="200.6" r="3.8"/><circle cx="703.4" cy="195.1" r="3.8"/><circle cx="683.1" cy="205.9" r="3.8"/><circle cx="645.8" cy="204.0" r="3.8"/><circle cx="686.2" cy="205.2" r="3.8"/><circle cx="723.0" cy="223.8" r="3.8"/><circle cx="578.9" cy="193.0" r="3.8"/><circle cx="679.6" cy="163.1" r="3.8"/><circle cx="458.7" cy="214.8" r="3.8"/><circle cx="702.2" cy="230.9" r="3.8"/><circle cx="353.6" cy="161.3" r="3.8"/><circle cx="522.3" cy="205.2" r="3.8"/><circle cx="563.9" cy="199.3" r="3.8"/><circle cx="342.5" cy="231.4" r="3.8"/><circle cx="438.2" cy="215.2" r="3.8"/><circle cx="530.0" cy="232.0" r="3.8"/><circle cx="532.2" cy="184.1" r="3.8"/><circle cx="569.1" cy="157.7" r="3.8"/><circle cx="503.2" cy="198.7" r="3.8"/><circle cx="838.1" cy="182.2" r="3.8"/><circle cx="605.0" cy="212.9" r="3.8"/><circle cx="696.8" cy="214.1" r="3.8"/><circle cx="653.6" cy="192.3" r="3.8"/><circle cx="647.9" cy="166.2" r="3.8"/><circle cx="697.6" cy="223.0" r="3.8"/><circle cx="556.9" cy="215.3" r="3.8"/><circle cx="632.1" cy="222.4" r="3.8"/><circle cx="645.3" cy="198.5" r="3.8"/><circle cx="610.7" cy="172.9" r="3.8"/><circle cx="514.8" cy="250.4" r="3.8"/><circle cx="297.4" cy="246.6" r="3.8"/><circle cx="564.7" cy="212.7" r="3.8"/><circle cx="554.9" cy="167.0" r="3.8"/><circle cx="764.1" cy="195.5" r="3.8"/><circle cx="311.0" cy="178.2" r="3.8"/><circle cx="604.1" cy="201.5" r="3.8"/><circle cx="814.0" cy="193.5" r="3.8"/><circle cx="637.6" cy="210.7" r="3.8"/><circle cx="574.9" cy="207.9" r="3.8"/><circle cx="654.9" cy="243.7" r="3.8"/><circle cx="507.4" cy="186.9" r="3.8"/><circle cx="772.2" cy="190.4" r="3.8"/><circle cx="595.8" cy="188.4" r="3.8"/><circle cx="395.0" cy="214.8" r="3.8"/><circle cx="567.4" cy="183.6" r="3.8"/><circle cx="530.5" cy="196.1" r="3.8"/><circle cx="508.8" cy="193.7" r="3.8"/><circle cx="694.6" cy="195.2" r="3.8"/><circle cx="442.3" cy="246.5" r="3.8"/><circle cx="704.7" cy="189.2" r="3.8"/><circle cx="606.3" cy="202.3" r="3.8"/><circle cx="596.8" cy="222.5" r="3.8"/><circle cx="401.4" cy="217.0" r="3.8"/><circle cx="474.1" cy="184.0" r="3.8"/><circle cx="493.3" cy="243.0" r="3.8"/><circle cx="479.0" cy="197.6" r="3.8"/><circle cx="486.1" cy="267.7" r="3.8"/><circle cx="500.3" cy="196.8" r="3.8"/><circle cx="514.7" cy="191.5" r="3.8"/><circle cx="720.5" cy="204.4" r="3.8"/><circle cx="583.6" cy="167.5" r="3.8"/><circle cx="559.3" cy="256.8" r="3.8"/><circle cx="683.4" cy="238.0" r="3.8"/><circle cx="531.7" cy="180.1" r="3.8"/><circle cx="571.6" cy="184.2" r="3.8"/><circle cx="584.3" cy="258.5" r="3.8"/><circle cx="574.4" cy="227.9" r="3.8"/><circle cx="425.8" cy="186.3" r="3.8"/><circle cx="386.9" cy="189.0" r="3.8"/><circle cx="587.1" cy="218.5" r="3.8"/><circle cx="542.2" cy="224.6" r="3.8"/><circle cx="466.0" cy="235.6" r="3.8"/><circle cx="354.3" cy="219.8" r="3.8"/><circle cx="594.6" cy="142.6" r="3.8"/><circle cx="623.8" cy="224.1" r="3.8"/><circle cx="575.4" cy="242.9" r="3.8"/><circle cx="468.2" cy="184.7" r="3.8"/><circle cx="548.5" cy="216.2" r="3.8"/><circle cx="527.1" cy="173.8" r="3.8"/><circle cx="533.2" cy="181.5" r="3.8"/><circle cx="428.9" cy="227.1" r="3.8"/><circle cx="469.8" cy="200.5" r="3.8"/><circle cx="572.1" cy="275.1" r="3.8"/><circle cx="541.9" cy="208.4" r="3.8"/><circle cx="479.7" cy="235.9" r="3.8"/><circle cx="646.2" cy="234.4" r="3.8"/><circle cx="705.3" cy="218.3" r="3.8"/><circle cx="633.3" cy="200.1" r="3.8"/><circle cx="520.2" cy="200.6" r="3.8"/><circle cx="534.0" cy="200.3" r="3.8"/><circle cx="458.3" cy="233.3" r="3.8"/><circle cx="652.8" cy="195.6" r="3.8"/><circle cx="525.1" cy="216.1" r="3.8"/><circle cx="432.9" cy="220.2" r="3.8"/><circle cx="362.5" cy="200.9" r="3.8"/><circle cx="518.6" cy="161.8" r="3.8"/><circle cx="815.8" cy="221.5" r="3.8"/><circle cx="416.4" cy="195.6" r="3.8"/><circle cx="381.3" cy="231.5" r="3.8"/><circle cx="699.5" cy="174.1" r="3.8"/><circle cx="615.1" cy="185.8" r="3.8"/><circle cx="581.4" cy="182.5" r="3.8"/><circle cx="704.7" cy="202.3" r="3.8"/><circle cx="312.6" cy="190.8" r="3.8"/><circle cx="588.4" cy="227.8" r="3.8"/><circle cx="636.7" cy="185.0" r="3.8"/><circle cx="492.9" cy="205.4" r="3.8"/><circle cx="702.8" cy="204.1" r="3.8"/><circle cx="610.8" cy="231.6" r="3.8"/><circle cx="501.1" cy="180.1" r="3.8"/><circle cx="680.7" cy="194.5" r="3.8"/><circle cx="528.6" cy="204.8" r="3.8"/><circle cx="372.7" cy="220.0" r="3.8"/><circle cx="692.7" cy="215.6" r="3.8"/><circle cx="640.6" cy="232.5" r="3.8"/><circle cx="484.6" cy="159.1" r="3.8"/><circle cx="474.2" cy="149.5" r="3.8"/><circle cx="599.3" cy="186.8" r="3.8"/><circle cx="689.4" cy="215.4" r="3.8"/><circle cx="575.5" cy="173.8" r="3.8"/><circle cx="494.3" cy="204.2" r="3.8"/><circle cx="630.5" cy="242.2" r="3.8"/><circle cx="227.7" cy="181.0" r="3.8"/><circle cx="569.1" cy="254.5" r="3.8"/><circle cx="679.9" cy="216.4" r="3.8"/><circle cx="474.3" cy="207.4" r="3.8"/><circle cx="336.0" cy="182.5" r="3.8"/><circle cx="432.0" cy="225.1" r="3.8"/><circle cx="666.3" cy="214.3" r="3.8"/><circle cx="463.1" cy="203.9" r="3.8"/><circle cx="467.1" cy="171.5" r="3.8"/><circle cx="677.0" cy="201.3" r="3.8"/><circle cx="398.8" cy="182.4" r="3.8"/><circle cx="552.2" cy="176.8" r="3.8"/><circle cx="482.1" cy="195.7" r="3.8"/><circle cx="790.5" cy="215.8" r="3.8"/><circle cx="556.2" cy="208.6" r="3.8"/><circle cx="568.2" cy="201.5" r="3.8"/><circle cx="738.0" cy="213.8" r="3.8"/><circle cx="745.7" cy="214.2" r="3.8"/><circle cx="365.7" cy="243.9" r="3.8"/><circle cx="690.5" cy="216.9" r="3.8"/><circle cx="686.5" cy="217.3" r="3.8"/><circle cx="737.0" cy="203.7" r="3.8"/><circle cx="574.1" cy="201.2" r="3.8"/><circle cx="642.7" cy="199.2" r="3.8"/><circle cx="393.0" cy="197.8" r="3.8"/><circle cx="654.9" cy="188.0" r="3.8"/><circle cx="561.1" cy="242.9" r="3.8"/><circle cx="802.3" cy="199.3" r="3.8"/><circle cx="699.7" cy="216.1" r="3.8"/><circle cx="710.3" cy="192.2" r="3.8"/><circle cx="490.7" cy="224.0" r="3.8"/><circle cx="771.9" cy="200.1" r="3.8"/><circle cx="487.1" cy="223.7" r="3.8"/><circle cx="469.8" cy="165.9" r="3.8"/><circle cx="744.1" cy="209.9" r="3.8"/><circle cx="586.8" cy="250.4" r="3.8"/><circle cx="567.7" cy="205.2" r="3.8"/><circle cx="418.6" cy="225.1" r="3.8"/><circle cx="397.3" cy="243.8" r="3.8"/><circle cx="576.7" cy="231.8" r="3.8"/><circle cx="686.1" cy="245.1" r="3.8"/><circle cx="506.2" cy="231.1" r="3.8"/><circle cx="566.8" cy="164.1" r="3.8"/><circle cx="390.4" cy="195.8" r="3.8"/><circle cx="722.9" cy="208.4" r="3.8"/><circle cx="566.2" cy="203.0" r="3.8"/><circle cx="635.4" cy="173.7" r="3.8"/><circle cx="825.7" cy="194.2" r="3.8"/><circle cx="788.7" cy="199.9" r="3.8"/><circle cx="422.1" cy="198.5" r="3.8"/><circle cx="341.6" cy="190.1" r="3.8"/><circle cx="244.9" cy="203.6" r="3.8"/><circle cx="461.4" cy="179.1" r="3.8"/><circle cx="600.6" cy="173.7" r="3.8"/><circle cx="443.9" cy="157.9" r="3.8"/><circle cx="377.6" cy="216.5" r="3.8"/><circle cx="486.6" cy="229.0" r="3.8"/><circle cx="529.9" cy="229.8" r="3.8"/><circle cx="433.4" cy="274.2" r="3.8"/><circle cx="607.0" cy="185.8" r="3.8"/><circle cx="411.3" cy="212.2" r="3.8"/><circle cx="488.9" cy="203.8" r="3.8"/><circle cx="561.6" cy="230.4" r="3.8"/><circle cx="301.8" cy="187.8" r="3.8"/><circle cx="507.2" cy="205.5" r="3.8"/><circle cx="474.7" cy="249.1" r="3.8"/><circle cx="607.8" cy="217.6" r="3.8"/><circle cx="672.2" cy="140.4" r="3.8"/><circle cx="241.0" cy="206.6" r="3.8"/><circle cx="500.4" cy="246.9" r="3.8"/><circle cx="399.1" cy="204.1" r="3.8"/><circle cx="502.8" cy="210.3" r="3.8"/><circle cx="521.5" cy="202.9" r="3.8"/><circle cx="665.2" cy="196.3" r="3.8"/><circle cx="718.6" cy="223.6" r="3.8"/><circle cx="739.4" cy="204.8" r="3.8"/><circle cx="502.8" cy="176.2" r="3.8"/><circle cx="576.8" cy="235.7" r="3.8"/><circle cx="632.9" cy="204.0" r="3.8"/><circle cx="514.6" cy="203.8" r="3.8"/><circle cx="416.9" cy="246.4" r="3.8"/><circle cx="667.5" cy="238.2" r="3.8"/><circle cx="493.7" cy="214.4" r="3.8"/><circle cx="388.2" cy="220.6" r="3.8"/><circle cx="589.7" cy="207.7" r="3.8"/><circle cx="325.0" cy="200.5" r="3.8"/><circle cx="451.7" cy="208.0" r="3.8"/><circle cx="678.0" cy="202.7" r="3.8"/><circle cx="666.4" cy="180.3" r="3.8"/><circle cx="522.7" cy="257.8" r="3.8"/><circle cx="503.0" cy="181.1" r="3.8"/><circle cx="538.8" cy="214.0" r="3.8"/><circle cx="641.3" cy="209.8" r="3.8"/><circle cx="448.9" cy="188.1" r="3.8"/><circle cx="377.2" cy="229.6" r="3.8"/><circle cx="717.9" cy="174.5" r="3.8"/><circle cx="418.5" cy="179.1" r="3.8"/><circle cx="553.2" cy="222.7" r="3.8"/><circle cx="618.4" cy="248.3" r="3.8"/><circle cx="437.5" cy="206.1" r="3.8"/><circle cx="452.5" cy="143.6" r="3.8"/><circle cx="744.5" cy="186.0" r="3.8"/><circle cx="645.6" cy="215.6" r="3.8"/><circle cx="671.3" cy="211.7" r="3.8"/><circle cx="709.5" cy="193.6" r="3.8"/><circle cx="610.0" cy="142.9" r="3.8"/><circle cx="526.1" cy="214.9" r="3.8"/><circle cx="547.6" cy="191.7" r="3.8"/><circle cx="280.3" cy="188.7" r="3.8"/><circle cx="469.5" cy="203.3" r="3.8"/><circle cx="654.4" cy="191.9" r="3.8"/><circle cx="507.2" cy="154.4" r="3.8"/><circle cx="587.3" cy="202.8" r="3.8"/><circle cx="594.2" cy="221.9" r="3.8"/><circle cx="500.6" cy="221.4" r="3.8"/><circle cx="612.7" cy="265.2" r="3.8"/><circle cx="419.0" cy="198.5" r="3.8"/><circle cx="274.4" cy="231.4" r="3.8"/><circle cx="656.7" cy="186.5" r="3.8"/><circle cx="672.7" cy="210.4" r="3.8"/><circle cx="323.6" cy="202.3" r="3.8"/><circle cx="533.1" cy="235.7" r="3.8"/><circle cx="225.8" cy="205.4" r="3.8"/><circle cx="588.8" cy="211.4" r="3.8"/><circle cx="547.7" cy="233.9" r="3.8"/><circle cx="457.4" cy="186.5" r="3.8"/><circle cx="552.8" cy="259.1" r="3.8"/><circle cx="695.1" cy="221.2" r="3.8"/><circle cx="524.8" cy="189.0" r="3.8"/><circle cx="385.0" cy="214.7" r="3.8"/><circle cx="762.3" cy="176.0" r="3.8"/><circle cx="363.2" cy="202.1" r="3.8"/><circle cx="560.3" cy="168.6" r="3.8"/><circle cx="513.8" cy="206.6" r="3.8"/><circle cx="549.1" cy="251.0" r="3.8"/><circle cx="660.8" cy="184.2" r="3.8"/><circle cx="539.6" cy="212.1" r="3.8"/><circle cx="449.4" cy="222.9" r="3.8"/><circle cx="358.2" cy="227.6" r="3.8"/><circle cx="389.1" cy="234.0" r="3.8"/><circle cx="696.3" cy="216.7" r="3.8"/><circle cx="632.8" cy="237.2" r="3.8"/><circle cx="697.5" cy="210.1" r="3.8"/><circle cx="566.3" cy="191.6" r="3.8"/><circle cx="630.4" cy="205.4" r="3.8"/><circle cx="517.7" cy="235.7" r="3.8"/><circle cx="521.5" cy="213.0" r="3.8"/><circle cx="609.2" cy="196.6" r="3.8"/><circle cx="577.8" cy="184.1" r="3.8"/><circle cx="515.6" cy="230.5" r="3.8"/><circle cx="552.4" cy="159.3" r="3.8"/><circle cx="414.4" cy="222.8" r="3.8"/><circle cx="404.8" cy="195.5" r="3.8"/><circle cx="538.2" cy="156.8" r="3.8"/><circle cx="803.7" cy="211.2" r="3.8"/><circle cx="670.1" cy="212.8" r="3.8"/><circle cx="487.3" cy="211.1" r="3.8"/><circle cx="479.6" cy="215.6" r="3.8"/><circle cx="739.0" cy="190.8" r="3.8"/><circle cx="610.6" cy="184.7" r="3.8"/><circle cx="709.6" cy="213.3" r="3.8"/><circle cx="454.4" cy="180.1" r="3.8"/><circle cx="537.8" cy="190.6" r="3.8"/><circle cx="369.2" cy="226.7" r="3.8"/><circle cx="309.2" cy="221.8" r="3.8"/><circle cx="469.5" cy="208.8" r="3.8"/><circle cx="584.7" cy="188.8" r="3.8"/><circle cx="412.4" cy="211.0" r="3.8"/><circle cx="756.7" cy="223.8" r="3.8"/><circle cx="539.6" cy="203.4" r="3.8"/><circle cx="690.7" cy="180.1" r="3.8"/><circle cx="491.1" cy="246.4" r="3.8"/><circle cx="649.2" cy="208.9" r="3.8"/><circle cx="619.9" cy="225.5" r="3.8"/><circle cx="576.9" cy="205.3" r="3.8"/><circle cx="533.0" cy="237.6" r="3.8"/><circle cx="497.2" cy="201.7" r="3.8"/><circle cx="627.3" cy="222.4" r="3.8"/><circle cx="678.6" cy="203.0" r="3.8"/><circle cx="751.5" cy="223.4" r="3.8"/><circle cx="422.4" cy="278.4" r="3.8"/><circle cx="538.9" cy="149.0" r="3.8"/><circle cx="391.2" cy="193.5" r="3.8"/><circle cx="663.7" cy="235.8" r="3.8"/><circle cx="557.5" cy="194.0" r="3.8"/><circle cx="622.6" cy="212.3" r="3.8"/><circle cx="425.3" cy="222.5" r="3.8"/><circle cx="757.5" cy="216.1" r="3.8"/><circle cx="574.8" cy="191.1" r="3.8"/><circle cx="502.0" cy="242.3" r="3.8"/><circle cx="365.3" cy="170.2" r="3.8"/><circle cx="627.5" cy="187.8" r="3.8"/><circle cx="748.4" cy="224.3" r="3.8"/><circle cx="633.4" cy="194.8" r="3.8"/><circle cx="360.3" cy="204.0" r="3.8"/><circle cx="684.6" cy="158.9" r="3.8"/><circle cx="514.8" cy="144.7" r="3.8"/><circle cx="662.6" cy="208.1" r="3.8"/><circle cx="470.1" cy="206.8" r="3.8"/><circle cx="508.7" cy="247.2" r="3.8"/><circle cx="497.0" cy="213.1" r="3.8"/><circle cx="565.5" cy="178.4" r="3.8"/><circle cx="683.9" cy="193.3" r="3.8"/><circle cx="683.9" cy="185.9" r="3.8"/><circle cx="428.7" cy="196.1" r="3.8"/><circle cx="551.5" cy="221.3" r="3.8"/><circle cx="615.0" cy="203.7" r="3.8"/><circle cx="448.6" cy="239.7" r="3.8"/><circle cx="587.4" cy="196.9" r="3.8"/><circle cx="688.6" cy="175.0" r="3.8"/><circle cx="564.8" cy="231.7" r="3.8"/><circle cx="511.6" cy="229.7" r="3.8"/><circle cx="602.1" cy="189.5" r="3.8"/><circle cx="837.8" cy="200.5" r="3.8"/><circle cx="602.7" cy="191.9" r="3.8"/><circle cx="636.9" cy="220.5" r="3.8"/><circle cx="465.0" cy="223.2" r="3.8"/><circle cx="490.0" cy="192.8" r="3.8"/><circle cx="518.4" cy="212.1" r="3.8"/><circle cx="613.8" cy="157.4" r="3.8"/><circle cx="513.0" cy="171.6" r="3.8"/><circle cx="243.7" cy="202.6" r="3.8"/><circle cx="459.2" cy="222.1" r="3.8"/><circle cx="683.3" cy="194.1" r="3.8"/><circle cx="559.2" cy="162.2" r="3.8"/><circle cx="302.1" cy="185.5" r="3.8"/><circle cx="638.6" cy="166.7" r="3.8"/><circle cx="504.5" cy="175.9" r="3.8"/><circle cx="750.9" cy="223.4" r="3.8"/><circle cx="292.6" cy="181.6" r="3.8"/><circle cx="625.2" cy="195.5" r="3.8"/><circle cx="569.0" cy="244.6" r="3.8"/><circle cx="565.1" cy="209.2" r="3.8"/><circle cx="336.4" cy="193.6" r="3.8"/><circle cx="494.2" cy="215.6" r="3.8"/><circle cx="409.9" cy="219.6" r="3.8"/><circle cx="399.9" cy="217.1" r="3.8"/><circle cx="557.4" cy="246.7" r="3.8"/><circle cx="534.5" cy="226.4" r="3.8"/><circle cx="535.8" cy="205.0" r="3.8"/><circle cx="409.1" cy="176.7" r="3.8"/><circle cx="600.7" cy="243.5" r="3.8"/><circle cx="421.4" cy="212.4" r="3.8"/><circle cx="634.8" cy="260.1" r="3.8"/><circle cx="604.5" cy="237.1" r="3.8"/><circle cx="748.1" cy="202.1" r="3.8"/><circle cx="557.6" cy="199.9" r="3.8"/><circle cx="570.6" cy="188.3" r="3.8"/><circle cx="647.4" cy="194.9" r="3.8"/><circle cx="440.9" cy="197.2" r="3.8"/><circle cx="741.3" cy="202.8" r="3.8"/><circle cx="511.8" cy="211.4" r="3.8"/><circle cx="785.8" cy="166.9" r="3.8"/><circle cx="727.3" cy="168.1" r="3.8"/><circle cx="439.7" cy="218.3" r="3.8"/><circle cx="400.2" cy="170.0" r="3.8"/><circle cx="517.5" cy="228.7" r="3.8"/><circle cx="536.9" cy="248.2" r="3.8"/><circle cx="506.2" cy="192.4" r="3.8"/><circle cx="454.4" cy="185.1" r="3.8"/><circle cx="493.5" cy="239.7" r="3.8"/><circle cx="479.8" cy="260.4" r="3.8"/><circle cx="376.5" cy="212.7" r="3.8"/><circle cx="675.8" cy="186.4" r="3.8"/><circle cx="571.8" cy="206.0" r="3.8"/><circle cx="480.5" cy="228.8" r="3.8"/><circle cx="327.0" cy="195.7" r="3.8"/><circle cx="482.3" cy="231.1" r="3.8"/><circle cx="545.4" cy="217.4" r="3.8"/><circle cx="434.2" cy="247.8" r="3.8"/><circle cx="673.1" cy="219.6" r="3.8"/><circle cx="580.4" cy="232.6" r="3.8"/><circle cx="554.4" cy="225.1" r="3.8"/><circle cx="360.2" cy="227.2" r="3.8"/><circle cx="569.7" cy="170.7" r="3.8"/><circle cx="522.0" cy="215.9" r="3.8"/><circle cx="717.2" cy="197.4" r="3.8"/><circle cx="507.9" cy="194.6" r="3.8"/><circle cx="443.4" cy="184.5" r="3.8"/><circle cx="555.1" cy="177.5" r="3.8"/><circle cx="523.4" cy="202.0" r="3.8"/><circle cx="599.7" cy="214.8" r="3.8"/><circle cx="551.2" cy="201.7" r="3.8"/><circle cx="634.1" cy="235.2" r="3.8"/><circle cx="238.0" cy="168.0" r="3.8"/><circle cx="568.0" cy="236.3" r="3.8"/><circle cx="798.4" cy="223.1" r="3.8"/><circle cx="532.4" cy="215.8" r="3.8"/><circle cx="590.6" cy="204.4" r="3.8"/><circle cx="590.6" cy="149.0" r="3.8"/><circle cx="439.1" cy="277.4" r="3.8"/><circle cx="408.9" cy="185.7" r="3.8"/><circle cx="419.1" cy="233.7" r="3.8"/><circle cx="435.6" cy="184.1" r="3.8"/><circle cx="449.3" cy="274.7" r="3.8"/><circle cx="628.7" cy="222.0" r="3.8"/><circle cx="644.8" cy="210.2" r="3.8"/><circle cx="507.5" cy="245.4" r="3.8"/><circle cx="745.0" cy="204.1" r="3.8"/><circle cx="821.8" cy="181.1" r="3.8"/><circle cx="758.2" cy="188.4" r="3.8"/><circle cx="752.2" cy="184.5" r="3.8"/><circle cx="478.3" cy="207.0" r="3.8"/><circle cx="487.0" cy="211.3" r="3.8"/><circle cx="289.1" cy="169.6" r="3.8"/><circle cx="616.7" cy="183.6" r="3.8"/><circle cx="506.7" cy="210.1" r="3.8"/><circle cx="592.1" cy="185.4" r="3.8"/><circle cx="580.5" cy="214.4" r="3.8"/><circle cx="683.7" cy="196.9" r="3.8"/><circle cx="427.3" cy="224.2" r="3.8"/><circle cx="610.7" cy="211.1" r="3.8"/><circle cx="499.5" cy="199.1" r="3.8"/><circle cx="408.3" cy="228.7" r="3.8"/><circle cx="609.9" cy="220.0" r="3.8"/><circle cx="657.3" cy="183.4" r="3.8"/><circle cx="407.1" cy="197.5" r="3.8"/><circle cx="664.8" cy="201.0" r="3.8"/><circle cx="534.8" cy="199.5" r="3.8"/><circle cx="772.9" cy="181.6" r="3.8"/><circle cx="715.4" cy="165.5" r="3.8"/><circle cx="743.1" cy="191.8" r="3.8"/><circle cx="670.1" cy="195.8" r="3.8"/><circle cx="408.8" cy="221.0" r="3.8"/><circle cx="527.1" cy="193.7" r="3.8"/><circle cx="476.7" cy="221.4" r="3.8"/><circle cx="415.7" cy="167.0" r="3.8"/><circle cx="592.9" cy="223.7" r="3.8"/><circle cx="724.6" cy="210.0" r="3.8"/><circle cx="490.0" cy="194.9" r="3.8"/><circle cx="445.8" cy="161.9" r="3.8"/><circle cx="529.6" cy="173.6" r="3.8"/><circle cx="694.4" cy="216.1" r="3.8"/><circle cx="646.4" cy="225.1" r="3.8"/><circle cx="424.8" cy="207.0" r="3.8"/><circle cx="587.6" cy="249.5" r="3.8"/><circle cx="669.1" cy="219.1" r="3.8"/><circle cx="663.5" cy="215.7" r="3.8"/><circle cx="628.1" cy="205.3" r="3.8"/><circle cx="419.3" cy="207.2" r="3.8"/><circle cx="621.5" cy="185.4" r="3.8"/><circle cx="344.6" cy="236.6" r="3.8"/><circle cx="557.6" cy="223.3" r="3.8"/><circle cx="439.2" cy="242.8" r="3.8"/><circle cx="737.8" cy="185.7" r="3.8"/><circle cx="632.3" cy="232.1" r="3.8"/><circle cx="471.5" cy="190.3" r="3.8"/><circle cx="511.0" cy="258.5" r="3.8"/><circle cx="582.8" cy="199.1" r="3.8"/><circle cx="721.4" cy="189.0" r="3.8"/><circle cx="678.7" cy="178.2" r="3.8"/><circle cx="613.0" cy="216.4" r="3.8"/><circle cx="506.0" cy="241.2" r="3.8"/><circle cx="453.2" cy="174.6" r="3.8"/><circle cx="572.2" cy="208.8" r="3.8"/><circle cx="530.0" cy="185.2" r="3.8"/><circle cx="622.6" cy="186.3" r="3.8"/><circle cx="527.4" cy="224.7" r="3.8"/><circle cx="555.2" cy="237.5" r="3.8"/><circle cx="499.9" cy="219.4" r="3.8"/><circle cx="460.6" cy="221.4" r="3.8"/><circle cx="317.8" cy="220.3" r="3.8"/><circle cx="706.2" cy="191.1" r="3.8"/><circle cx="660.8" cy="229.1" r="3.8"/><circle cx="302.4" cy="180.7" r="3.8"/><circle cx="620.1" cy="230.0" r="3.8"/><circle cx="724.1" cy="180.2" r="3.8"/><circle cx="458.6" cy="196.9" r="3.8"/><circle cx="518.2" cy="187.4" r="3.8"/><circle cx="490.6" cy="221.1" r="3.8"/><circle cx="231.7" cy="229.8" r="3.8"/><circle cx="352.4" cy="209.8" r="3.8"/><circle cx="613.1" cy="244.1" r="3.8"/><circle cx="457.8" cy="200.4" r="3.8"/><circle cx="248.1" cy="212.9" r="3.8"/><circle cx="557.9" cy="252.2" r="3.8"/><circle cx="492.7" cy="238.0" r="3.8"/><circle cx="427.5" cy="198.2" r="3.8"/><circle cx="567.8" cy="194.3" r="3.8"/><circle cx="616.6" cy="201.4" r="3.8"/><circle cx="753.5" cy="168.8" r="3.8"/><circle cx="708.8" cy="205.6" r="3.8"/><circle cx="503.1" cy="239.7" r="3.8"/><circle cx="479.6" cy="209.4" r="3.8"/><circle cx="448.8" cy="222.2" r="3.8"/><circle cx="682.5" cy="203.9" r="3.8"/><circle cx="401.8" cy="167.2" r="3.8"/><circle cx="622.2" cy="155.6" r="3.8"/><circle cx="334.8" cy="200.1" r="3.8"/><circle cx="624.4" cy="241.6" r="3.8"/><circle cx="408.6" cy="177.1" r="3.8"/><circle cx="532.3" cy="217.5" r="3.8"/><circle cx="764.1" cy="207.8" r="3.8"/><circle cx="644.2" cy="199.3" r="3.8"/><circle cx="609.5" cy="207.4" r="3.8"/><circle cx="680.8" cy="201.7" r="3.8"/><circle cx="517.3" cy="228.6" r="3.8"/><circle cx="566.6" cy="224.6" r="3.8"/><circle cx="446.8" cy="191.6" r="3.8"/><circle cx="694.8" cy="176.8" r="3.8"/><circle cx="755.7" cy="191.2" r="3.8"/><circle cx="582.8" cy="263.4" r="3.8"/><circle cx="506.5" cy="253.6" r="3.8"/><circle cx="590.3" cy="171.7" r="3.8"/><circle cx="626.7" cy="258.4" r="3.8"/><circle cx="692.2" cy="207.8" r="3.8"/><circle cx="625.5" cy="197.6" r="3.8"/><circle cx="579.5" cy="224.4" r="3.8"/><circle cx="285.9" cy="193.1" r="3.8"/><circle cx="627.5" cy="195.9" r="3.8"/><circle cx="615.6" cy="238.5" r="3.8"/><circle cx="603.4" cy="230.3" r="3.8"/><circle cx="576.1" cy="212.6" r="3.8"/><circle cx="618.4" cy="237.6" r="3.8"/><circle cx="587.2" cy="226.9" r="3.8"/><circle cx="753.1" cy="173.1" r="3.8"/><circle cx="725.3" cy="194.6" r="3.8"/><circle cx="484.2" cy="189.8" r="3.8"/><circle cx="541.1" cy="176.8" r="3.8"/><circle cx="456.7" cy="225.3" r="3.8"/><circle cx="711.9" cy="213.5" r="3.8"/><circle cx="533.4" cy="239.5" r="3.8"/><circle cx="720.9" cy="208.9" r="3.8"/><circle cx="679.0" cy="217.3" r="3.8"/><circle cx="529.3" cy="166.4" r="3.8"/><circle cx="537.5" cy="214.3" r="3.8"/><circle cx="570.6" cy="165.8" r="3.8"/><circle cx="490.3" cy="195.2" r="3.8"/><circle cx="650.8" cy="257.3" r="3.8"/><circle cx="617.3" cy="205.7" r="3.8"/><circle cx="235.5" cy="205.4" r="3.8"/><circle cx="506.2" cy="203.8" r="3.8"/><circle cx="466.1" cy="179.2" r="3.8"/><circle cx="453.5" cy="227.1" r="3.8"/><circle cx="689.1" cy="198.0" r="3.8"/><circle cx="704.2" cy="228.9" r="3.8"/><circle cx="538.8" cy="189.2" r="3.8"/><circle cx="628.0" cy="223.6" r="3.8"/><circle cx="676.5" cy="174.0" r="3.8"/><circle cx="630.5" cy="191.8" r="3.8"/><circle cx="687.3" cy="194.1" r="3.8"/><circle cx="627.3" cy="266.5" r="3.8"/><circle cx="517.6" cy="186.0" r="3.8"/><circle cx="352.2" cy="202.5" r="3.8"/><circle cx="431.9" cy="169.8" r="3.8"/><circle cx="713.2" cy="215.2" r="3.8"/><circle cx="390.8" cy="194.6" r="3.8"/><circle cx="643.4" cy="199.0" r="3.8"/><circle cx="285.0" cy="175.7" r="3.8"/><circle cx="649.2" cy="221.7" r="3.8"/><circle cx="680.4" cy="198.7" r="3.8"/><circle cx="510.5" cy="221.5" r="3.8"/><circle cx="576.7" cy="209.6" r="3.8"/><circle cx="450.7" cy="186.9" r="3.8"/><circle cx="662.8" cy="226.0" r="3.8"/><circle cx="628.1" cy="191.9" r="3.8"/><circle cx="391.1" cy="233.1" r="3.8"/><circle cx="547.1" cy="178.4" r="3.8"/><circle cx="433.5" cy="224.7" r="3.8"/><circle cx="450.9" cy="195.4" r="3.8"/><circle cx="385.3" cy="192.5" r="3.8"/><circle cx="436.3" cy="237.9" r="3.8"/><circle cx="520.7" cy="233.2" r="3.8"/><circle cx="497.6" cy="185.9" r="3.8"/><circle cx="459.6" cy="169.2" r="3.8"/><circle cx="711.7" cy="232.3" r="3.8"/><circle cx="595.6" cy="177.6" r="3.8"/><circle cx="265.3" cy="183.2" r="3.8"/><circle cx="616.5" cy="220.4" r="3.8"/><circle cx="595.3" cy="260.3" r="3.8"/><circle cx="570.3" cy="222.7" r="3.8"/><circle cx="479.7" cy="184.9" r="3.8"/><circle cx="512.0" cy="196.6" r="3.8"/><circle cx="648.1" cy="213.9" r="3.8"/><circle cx="618.4" cy="185.3" r="3.8"/><circle cx="639.9" cy="218.7" r="3.8"/><circle cx="673.1" cy="187.9" r="3.8"/><circle cx="813.6" cy="224.4" r="3.8"/><circle cx="329.8" cy="203.0" r="3.8"/><circle cx="334.6" cy="183.3" r="3.8"/><circle cx="596.9" cy="214.3" r="3.8"/><circle cx="641.3" cy="216.9" r="3.8"/><circle cx="505.5" cy="190.7" r="3.8"/><circle cx="607.4" cy="221.6" r="3.8"/><circle cx="365.9" cy="191.5" r="3.8"/><circle cx="442.6" cy="221.3" r="3.8"/><circle cx="540.0" cy="164.1" r="3.8"/><circle cx="737.9" cy="207.3" r="3.8"/><circle cx="695.4" cy="234.6" r="3.8"/><circle cx="650.1" cy="207.1" r="3.8"/><circle cx="611.4" cy="218.5" r="3.8"/><circle cx="352.2" cy="239.5" r="3.8"/><circle cx="651.2" cy="251.5" r="3.8"/><circle cx="576.4" cy="179.1" r="3.8"/><circle cx="458.1" cy="156.6" r="3.8"/><circle cx="624.8" cy="252.8" r="3.8"/><circle cx="571.2" cy="213.5" r="3.8"/><circle cx="713.0" cy="199.6" r="3.8"/><circle cx="405.0" cy="183.4" r="3.8"/><circle cx="596.9" cy="231.7" r="3.8"/><circle cx="336.6" cy="213.3" r="3.8"/><circle cx="329.4" cy="219.7" r="3.8"/><circle cx="626.9" cy="202.2" r="3.8"/><circle cx="459.0" cy="208.1" r="3.8"/><circle cx="691.0" cy="218.6" r="3.8"/><circle cx="543.8" cy="195.7" r="3.8"/><circle cx="457.0" cy="208.4" r="3.8"/><circle cx="622.3" cy="204.7" r="3.8"/><circle cx="308.8" cy="190.7" r="3.8"/><circle cx="703.8" cy="198.0" r="3.8"/><circle cx="764.7" cy="185.6" r="3.8"/><circle cx="384.6" cy="222.2" r="3.8"/><circle cx="773.2" cy="230.1" r="3.8"/><circle cx="323.2" cy="196.4" r="3.8"/><circle cx="370.6" cy="224.5" r="3.8"/><circle cx="605.4" cy="177.2" r="3.8"/><circle cx="689.3" cy="212.7" r="3.8"/><circle cx="651.8" cy="190.2" r="3.8"/><circle cx="418.7" cy="223.2" r="3.8"/><circle cx="526.3" cy="207.0" r="3.8"/><circle cx="530.5" cy="168.2" r="3.8"/><circle cx="329.0" cy="257.2" r="3.8"/><circle cx="417.8" cy="202.5" r="3.8"/><circle cx="516.3" cy="188.6" r="3.8"/><circle cx="458.6" cy="234.9" r="3.8"/><circle cx="680.1" cy="195.6" r="3.8"/><circle cx="729.7" cy="208.0" r="3.8"/><circle cx="357.8" cy="210.2" r="3.8"/><circle cx="545.4" cy="232.1" r="3.8"/><circle cx="563.6" cy="191.6" r="3.8"/><circle cx="498.9" cy="196.0" r="3.8"/><circle cx="422.4" cy="194.9" r="3.8"/><circle cx="510.3" cy="183.5" r="3.8"/><circle cx="596.8" cy="221.8" r="3.8"/><circle cx="342.2" cy="200.2" r="3.8"/><circle cx="338.8" cy="191.5" r="3.8"/><circle cx="581.1" cy="199.1" r="3.8"/><circle cx="409.0" cy="205.3" r="3.8"/><circle cx="725.0" cy="193.6" r="3.8"/><circle cx="526.0" cy="171.9" r="3.8"/><circle cx="435.0" cy="198.9" r="3.8"/><circle cx="644.7" cy="188.6" r="3.8"/><circle cx="686.7" cy="203.3" r="3.8"/><circle cx="364.7" cy="190.9" r="3.8"/><circle cx="543.8" cy="257.9" r="3.8"/><circle cx="552.1" cy="215.2" r="3.8"/><circle cx="434.9" cy="202.1" r="3.8"/><circle cx="536.6" cy="199.2" r="3.8"/><circle cx="808.1" cy="197.4" r="3.8"/><circle cx="586.7" cy="163.7" r="3.8"/><circle cx="416.3" cy="192.8" r="3.8"/><circle cx="611.2" cy="226.8" r="3.8"/><circle cx="346.1" cy="210.2" r="3.8"/><circle cx="389.6" cy="200.0" r="3.8"/><circle cx="702.8" cy="187.6" r="3.8"/><circle cx="450.8" cy="223.7" r="3.8"/><circle cx="587.2" cy="242.7" r="3.8"/><circle cx="593.9" cy="203.3" r="3.8"/><circle cx="369.9" cy="196.6" r="3.8"/><circle cx="661.8" cy="213.5" r="3.8"/><circle cx="510.9" cy="240.7" r="3.8"/><circle cx="645.8" cy="211.5" r="3.8"/><circle cx="544.4" cy="218.6" r="3.8"/><circle cx="645.5" cy="167.6" r="3.8"/><circle cx="508.2" cy="253.9" r="3.8"/><circle cx="710.2" cy="190.4" r="3.8"/><circle cx="250.2" cy="177.2" r="3.8"/><circle cx="763.9" cy="206.0" r="3.8"/><circle cx="530.5" cy="215.2" r="3.8"/><circle cx="344.9" cy="225.3" r="3.8"/><circle cx="538.0" cy="215.3" r="3.8"/><circle cx="318.5" cy="214.6" r="3.8"/><circle cx="399.8" cy="223.4" r="3.8"/><circle cx="744.8" cy="186.9" r="3.8"/><circle cx="609.8" cy="240.4" r="3.8"/><circle cx="593.9" cy="231.5" r="3.8"/><circle cx="693.3" cy="200.9" r="3.8"/><circle cx="732.9" cy="194.9" r="3.8"/><circle cx="494.8" cy="146.1" r="3.8"/><circle cx="536.9" cy="200.4" r="3.8"/><circle cx="424.5" cy="172.7" r="3.8"/><circle cx="540.1" cy="225.0" r="3.8"/><circle cx="637.1" cy="158.7" r="3.8"/><circle cx="511.9" cy="223.0" r="3.8"/><circle cx="649.3" cy="226.2" r="3.8"/><circle cx="562.2" cy="182.0" r="3.8"/><circle cx="467.9" cy="230.6" r="3.8"/><circle cx="479.6" cy="204.1" r="3.8"/><circle cx="656.1" cy="199.8" r="3.8"/><circle cx="585.3" cy="206.9" r="3.8"/><circle cx="636.5" cy="211.4" r="3.8"/><circle cx="629.6" cy="193.2" r="3.8"/><circle cx="691.3" cy="167.2" r="3.8"/><circle cx="548.8" cy="231.0" r="3.8"/><circle cx="777.1" cy="188.0" r="3.8"/><circle cx="571.4" cy="177.4" r="3.8"/><circle cx="325.0" cy="221.0" r="3.8"/><circle cx="557.7" cy="233.0" r="3.8"/><circle cx="596.1" cy="166.0" r="3.8"/><circle cx="703.7" cy="208.8" r="3.8"/><circle cx="672.0" cy="183.4" r="3.8"/><circle cx="455.1" cy="159.9" r="3.8"/><circle cx="330.0" cy="197.5" r="3.8"/><circle cx="700.1" cy="170.5" r="3.8"/><circle cx="436.5" cy="205.0" r="3.8"/><circle cx="618.4" cy="208.1" r="3.8"/><circle cx="552.6" cy="206.4" r="3.8"/><circle cx="601.5" cy="227.0" r="3.8"/><circle cx="756.1" cy="211.6" r="3.8"/><circle cx="645.8" cy="204.0" r="3.8"/><circle cx="586.4" cy="228.0" r="3.8"/><circle cx="473.6" cy="209.5" r="3.8"/><circle cx="425.6" cy="224.3" r="3.8"/><circle cx="597.9" cy="248.4" r="3.8"/><circle cx="619.6" cy="224.9" r="3.8"/><circle cx="558.0" cy="246.2" r="3.8"/><circle cx="473.2" cy="230.6" r="3.8"/><circle cx="412.2" cy="213.5" r="3.8"/><circle cx="626.6" cy="232.2" r="3.8"/><circle cx="457.3" cy="189.8" r="3.8"/><circle cx="767.8" cy="193.7" r="3.8"/><circle cx="649.2" cy="234.0" r="3.8"/><circle cx="311.4" cy="257.6" r="3.8"/><circle cx="504.5" cy="172.5" r="3.8"/><circle cx="432.6" cy="207.6" r="3.8"/><circle cx="759.0" cy="194.3" r="3.8"/><circle cx="438.3" cy="161.0" r="3.8"/><circle cx="469.2" cy="198.6" r="3.8"/><circle cx="403.8" cy="219.4" r="3.8"/><circle cx="597.3" cy="214.5" r="3.8"/><circle cx="459.0" cy="185.4" r="3.8"/><circle cx="545.4" cy="256.6" r="3.8"/><circle cx="385.5" cy="202.6" r="3.8"/><circle cx="604.5" cy="238.4" r="3.8"/><circle cx="435.8" cy="219.5" r="3.8"/><circle cx="409.6" cy="199.9" r="3.8"/><circle cx="266.8" cy="203.9" r="3.8"/><circle cx="603.5" cy="217.3" r="3.8"/><circle cx="658.9" cy="158.3" r="3.8"/><circle cx="700.5" cy="194.6" r="3.8"/><circle cx="344.9" cy="195.0" r="3.8"/><circle cx="625.1" cy="205.8" r="3.8"/><circle cx="477.2" cy="186.4" r="3.8"/><circle cx="299.9" cy="252.7" r="3.8"/><circle cx="609.1" cy="228.8" r="3.8"/><circle cx="437.4" cy="202.9" r="3.8"/><circle cx="441.7" cy="172.8" r="3.8"/><circle cx="734.7" cy="176.6" r="3.8"/><circle cx="554.7" cy="179.6" r="3.8"/><circle cx="386.1" cy="187.5" r="3.8"/><circle cx="390.2" cy="199.2" r="3.8"/><circle cx="585.2" cy="202.7" r="3.8"/><circle cx="583.3" cy="198.0" r="3.8"/><circle cx="592.5" cy="230.2" r="3.8"/><circle cx="481.8" cy="231.1" r="3.8"/><circle cx="531.8" cy="227.6" r="3.8"/><circle cx="538.9" cy="194.9" r="3.8"/><circle cx="507.9" cy="186.9" r="3.8"/><circle cx="509.6" cy="204.4" r="3.8"/><circle cx="648.5" cy="186.7" r="3.8"/><circle cx="436.6" cy="214.4" r="3.8"/><circle cx="616.8" cy="243.6" r="3.8"/><circle cx="604.1" cy="176.2" r="3.8"/><circle cx="311.1" cy="223.9" r="3.8"/><circle cx="754.2" cy="215.3" r="3.8"/><circle cx="469.1" cy="234.2" r="3.8"/><circle cx="467.4" cy="215.7" r="3.8"/><circle cx="735.5" cy="230.2" r="3.8"/><circle cx="509.4" cy="194.1" r="3.8"/><circle cx="479.3" cy="197.4" r="3.8"/><circle cx="699.7" cy="214.9" r="3.8"/><circle cx="624.4" cy="228.5" r="3.8"/><circle cx="613.6" cy="190.7" r="3.8"/><circle cx="539.3" cy="220.5" r="3.8"/><circle cx="573.6" cy="194.3" r="3.8"/><circle cx="372.5" cy="168.5" r="3.8"/><circle cx="589.8" cy="218.1" r="3.8"/><circle cx="811.1" cy="213.0" r="3.8"/><circle cx="501.3" cy="206.7" r="3.8"/><circle cx="535.9" cy="206.0" r="3.8"/><circle cx="295.9" cy="174.8" r="3.8"/><circle cx="370.0" cy="236.8" r="3.8"/><circle cx="475.9" cy="213.2" r="3.8"/><circle cx="440.7" cy="225.7" r="3.8"/><circle cx="327.6" cy="195.9" r="3.8"/><circle cx="687.3" cy="179.1" r="3.8"/><circle cx="357.8" cy="215.1" r="3.8"/><circle cx="470.5" cy="178.9" r="3.8"/><circle cx="485.5" cy="216.4" r="3.8"/><circle cx="525.2" cy="205.9" r="3.8"/><circle cx="647.8" cy="164.2" r="3.8"/><circle cx="382.5" cy="202.0" r="3.8"/><circle cx="426.3" cy="194.3" r="3.8"/><circle cx="525.0" cy="206.3" r="3.8"/><circle cx="475.0" cy="176.0" r="3.8"/><circle cx="564.4" cy="210.2" r="3.8"/><circle cx="664.1" cy="209.4" r="3.8"/><circle cx="519.5" cy="272.4" r="3.8"/><circle cx="616.0" cy="189.6" r="3.8"/><circle cx="650.0" cy="208.3" r="3.8"/><circle cx="545.0" cy="205.2" r="3.8"/><circle cx="280.3" cy="223.3" r="3.8"/><circle cx="745.8" cy="236.1" r="3.8"/><circle cx="223.6" cy="181.1" r="3.8"/><circle cx="357.0" cy="178.0" r="3.8"/><circle cx="562.9" cy="206.9" r="3.8"/><circle cx="611.4" cy="190.8" r="3.8"/><circle cx="638.8" cy="227.3" r="3.8"/><circle cx="637.1" cy="193.0" r="3.8"/><circle cx="410.2" cy="203.2" r="3.8"/><circle cx="378.1" cy="225.6" r="3.8"/><circle cx="577.1" cy="197.0" r="3.8"/><circle cx="460.0" cy="211.6" r="3.8"/><circle cx="525.2" cy="203.5" r="3.8"/><circle cx="503.9" cy="273.4" r="3.8"/><circle cx="405.6" cy="194.4" r="3.8"/><circle cx="404.3" cy="190.9" r="3.8"/><circle cx="514.5" cy="198.7" r="3.8"/><circle cx="442.5" cy="205.4" r="3.8"/><circle cx="469.4" cy="188.0" r="3.8"/><circle cx="631.3" cy="204.2" r="3.8"/><circle cx="452.8" cy="166.6" r="3.8"/><circle cx="457.7" cy="191.3" r="3.8"/><circle cx="459.2" cy="240.1" r="3.8"/><circle cx="649.3" cy="232.5" r="3.8"/><circle cx="306.0" cy="212.9" r="3.8"/><circle cx="714.2" cy="204.2" r="3.8"/><circle cx="423.0" cy="190.5" r="3.8"/><circle cx="422.7" cy="197.2" r="3.8"/><circle cx="543.2" cy="184.8" r="3.8"/><circle cx="784.5" cy="181.7" r="3.8"/><circle cx="459.0" cy="205.7" r="3.8"/><circle cx="575.7" cy="169.8" r="3.8"/><circle cx="613.9" cy="199.7" r="3.8"/><circle cx="553.5" cy="211.1" r="3.8"/><circle cx="504.4" cy="199.8" r="3.8"/><circle cx="346.9" cy="250.3" r="3.8"/><circle cx="305.4" cy="212.6" r="3.8"/><circle cx="599.6" cy="237.6" r="3.8"/><circle cx="525.8" cy="233.9" r="3.8"/><circle cx="592.1" cy="194.3" r="3.8"/><circle cx="631.4" cy="153.0" r="3.8"/><circle cx="463.6" cy="265.6" r="3.8"/><circle cx="601.5" cy="200.7" r="3.8"/><circle cx="465.6" cy="195.6" r="3.8"/><circle cx="612.3" cy="209.4" r="3.8"/><circle cx="441.2" cy="206.5" r="3.8"/><circle cx="645.9" cy="187.4" r="3.8"/><circle cx="544.2" cy="230.6" r="3.8"/><circle cx="426.9" cy="200.7" r="3.8"/><circle cx="594.2" cy="220.0" r="3.8"/><circle cx="406.7" cy="218.3" r="3.8"/><circle cx="620.4" cy="238.9" r="3.8"/><circle cx="589.6" cy="183.9" r="3.8"/><circle cx="415.9" cy="204.2" r="3.8"/><circle cx="702.4" cy="205.5" r="3.8"/><circle cx="701.3" cy="208.6" r="3.8"/><circle cx="543.3" cy="241.0" r="3.8"/><circle cx="572.2" cy="239.0" r="3.8"/><circle cx="649.2" cy="175.5" r="3.8"/><circle cx="350.3" cy="197.4" r="3.8"/><circle cx="256.4" cy="236.3" r="3.8"/><circle cx="554.2" cy="230.2" r="3.8"/><circle cx="666.2" cy="212.3" r="3.8"/><circle cx="643.4" cy="230.3" r="3.8"/><circle cx="635.8" cy="221.1" r="3.8"/><circle cx="441.2" cy="251.9" r="3.8"/><circle cx="432.1" cy="205.7" r="3.8"/><circle cx="732.4" cy="176.3" r="3.8"/><circle cx="667.5" cy="163.4" r="3.8"/><circle cx="451.5" cy="209.3" r="3.8"/><circle cx="631.1" cy="199.7" r="3.8"/><circle cx="685.6" cy="196.9" r="3.8"/><circle cx="494.4" cy="190.7" r="3.8"/><circle cx="640.2" cy="211.1" r="3.8"/><circle cx="512.6" cy="172.2" r="3.8"/><circle cx="729.7" cy="200.5" r="3.8"/><circle cx="644.5" cy="174.4" r="3.8"/><circle cx="450.0" cy="243.9" r="3.8"/><circle cx="522.3" cy="210.3" r="3.8"/><circle cx="530.6" cy="214.6" r="3.8"/><circle cx="419.5" cy="180.3" r="3.8"/><circle cx="543.2" cy="214.3" r="3.8"/><circle cx="563.9" cy="199.0" r="3.8"/><circle cx="406.9" cy="207.4" r="3.8"/><circle cx="598.0" cy="193.0" r="3.8"/><circle cx="531.6" cy="209.1" r="3.8"/><circle cx="644.1" cy="215.0" r="3.8"/><circle cx="391.8" cy="175.4" r="3.8"/><circle cx="339.6" cy="183.2" r="3.8"/><circle cx="411.1" cy="216.8" r="3.8"/><circle cx="411.7" cy="219.0" r="3.8"/><circle cx="670.7" cy="193.1" r="3.8"/><circle cx="376.8" cy="194.6" r="3.8"/><circle cx="264.7" cy="191.5" r="3.8"/><circle cx="565.9" cy="237.0" r="3.8"/><circle cx="547.5" cy="205.8" r="3.8"/><circle cx="573.1" cy="180.5" r="3.8"/><circle cx="611.5" cy="213.9" r="3.8"/><circle cx="611.5" cy="200.0" r="3.8"/><circle cx="619.5" cy="174.3" r="3.8"/><circle cx="422.0" cy="209.1" r="3.8"/><circle cx="613.8" cy="176.0" r="3.8"/><circle cx="692.1" cy="201.2" r="3.8"/><circle cx="262.4" cy="206.8" r="3.8"/><circle cx="545.1" cy="185.9" r="3.8"/><circle cx="470.2" cy="199.2" r="3.8"/><circle cx="608.7" cy="177.4" r="3.8"/><circle cx="486.2" cy="180.6" r="3.8"/><circle cx="675.1" cy="200.0" r="3.8"/><circle cx="383.3" cy="208.6" r="3.8"/><circle cx="552.0" cy="218.3" r="3.8"/><circle cx="345.1" cy="186.9" r="3.8"/><circle cx="469.7" cy="209.5" r="3.8"/><circle cx="334.3" cy="208.6" r="3.8"/><circle cx="644.9" cy="229.0" r="3.8"/><circle cx="579.8" cy="215.2" r="3.8"/><circle cx="503.7" cy="206.6" r="3.8"/><circle cx="475.3" cy="208.5" r="3.8"/><circle cx="249.3" cy="196.0" r="3.8"/><circle cx="671.1" cy="208.9" r="3.8"/><circle cx="697.6" cy="211.7" r="3.8"/><circle cx="441.4" cy="198.7" r="3.8"/><circle cx="497.3" cy="193.5" r="3.8"/><circle cx="576.7" cy="218.1" r="3.8"/><circle cx="467.3" cy="246.0" r="3.8"/><circle cx="640.2" cy="219.1" r="3.8"/><circle cx="528.7" cy="208.2" r="3.8"/><circle cx="602.2" cy="253.6" r="3.8"/><circle cx="571.2" cy="215.7" r="3.8"/><circle cx="549.9" cy="214.5" r="3.8"/><circle cx="413.9" cy="222.4" r="3.8"/><circle cx="615.0" cy="205.5" r="3.8"/><circle cx="620.5" cy="212.7" r="3.8"/><circle cx="645.7" cy="239.9" r="3.8"/><circle cx="373.6" cy="178.4" r="3.8"/><circle cx="316.0" cy="212.8" r="3.8"/><circle cx="535.4" cy="207.8" r="3.8"/><circle cx="539.3" cy="209.2" r="3.8"/><circle cx="592.9" cy="235.6" r="3.8"/><circle cx="579.7" cy="184.4" r="3.8"/><circle cx="624.6" cy="202.6" r="3.8"/><circle cx="627.5" cy="192.9" r="3.8"/><circle cx="339.7" cy="184.4" r="3.8"/><circle cx="244.3" cy="202.0" r="3.8"/><circle cx="363.0" cy="204.2" r="3.8"/><circle cx="501.8" cy="213.2" r="3.8"/><circle cx="584.0" cy="243.5" r="3.8"/><circle cx="471.1" cy="217.2" r="3.8"/><circle cx="480.4" cy="224.8" r="3.8"/><circle cx="619.4" cy="205.5" r="3.8"/><circle cx="511.9" cy="192.6" r="3.8"/><circle cx="419.3" cy="213.8" r="3.8"/><circle cx="421.5" cy="237.1" r="3.8"/><circle cx="586.5" cy="204.6" r="3.8"/><circle cx="474.8" cy="178.9" r="3.8"/><circle cx="750.3" cy="238.9" r="3.8"/><circle cx="592.1" cy="232.8" r="3.8"/><circle cx="654.2" cy="216.1" r="3.8"/><circle cx="653.6" cy="243.7" r="3.8"/><circle cx="558.9" cy="235.1" r="3.8"/><circle cx="410.3" cy="202.3" r="3.8"/><circle cx="605.3" cy="261.2" r="3.8"/><circle cx="329.0" cy="199.0" r="3.8"/><circle cx="592.2" cy="227.1" r="3.8"/><circle cx="572.4" cy="203.1" r="3.8"/><circle cx="624.2" cy="196.6" r="3.8"/><circle cx="512.7" cy="202.2" r="3.8"/><circle cx="633.4" cy="200.8" r="3.8"/><circle cx="468.6" cy="236.7" r="3.8"/><circle cx="495.9" cy="209.4" r="3.8"/><circle cx="653.4" cy="157.6" r="3.8"/><circle cx="673.2" cy="238.4" r="3.8"/><circle cx="486.5" cy="209.7" r="3.8"/><circle cx="330.3" cy="219.0" r="3.8"/><circle cx="634.7" cy="188.7" r="3.8"/><circle cx="556.3" cy="210.7" r="3.8"/><circle cx="654.7" cy="201.1" r="3.8"/><circle cx="416.1" cy="224.2" r="3.8"/><circle cx="677.7" cy="214.0" r="3.8"/><circle cx="357.4" cy="190.7" r="3.8"/><circle cx="327.6" cy="190.6" r="3.8"/><circle cx="456.6" cy="202.9" r="3.8"/><circle cx="451.9" cy="197.2" r="3.8"/><circle cx="591.1" cy="201.3" r="3.8"/><circle cx="671.0" cy="240.4" r="3.8"/><circle cx="477.2" cy="179.4" r="3.8"/><circle cx="521.3" cy="263.3" r="3.8"/><circle cx="425.3" cy="247.2" r="3.8"/><circle cx="564.0" cy="211.8" r="3.8"/><circle cx="758.7" cy="184.2" r="3.8"/><circle cx="340.6" cy="198.4" r="3.8"/><circle cx="635.3" cy="213.5" r="3.8"/><circle cx="701.9" cy="218.6" r="3.8"/><circle cx="604.4" cy="250.0" r="3.8"/><circle cx="463.4" cy="185.7" r="3.8"/><circle cx="523.4" cy="249.7" r="3.8"/><circle cx="820.2" cy="169.0" r="3.8"/><circle cx="570.5" cy="178.8" r="3.8"/><circle cx="516.3" cy="248.5" r="3.8"/><circle cx="820.8" cy="205.8" r="3.8"/><circle cx="438.8" cy="176.7" r="3.8"/><circle cx="428.1" cy="181.8" r="3.8"/><circle cx="660.8" cy="205.6" r="3.8"/><circle cx="508.0" cy="191.9" r="3.8"/><circle cx="256.7" cy="216.9" r="3.8"/><circle cx="455.1" cy="227.2" r="3.8"/><circle cx="504.7" cy="200.5" r="3.8"/><circle cx="662.8" cy="191.7" r="3.8"/><circle cx="641.3" cy="225.2" r="3.8"/><circle cx="338.3" cy="236.5" r="3.8"/><circle cx="633.8" cy="200.3" r="3.8"/><circle cx="644.8" cy="198.1" r="3.8"/><circle cx="487.2" cy="218.0" r="3.8"/><circle cx="469.3" cy="208.1" r="3.8"/><circle cx="550.3" cy="207.1" r="3.8"/><circle cx="374.5" cy="173.4" r="3.8"/><circle cx="587.5" cy="145.4" r="3.8"/><circle cx="467.6" cy="198.7" r="3.8"/><circle cx="660.0" cy="167.9" r="3.8"/><circle cx="346.3" cy="202.0" r="3.8"/><circle cx="465.0" cy="224.0" r="3.8"/><circle cx="411.0" cy="215.9" r="3.8"/><circle cx="637.0" cy="206.3" r="3.8"/><circle cx="345.6" cy="185.3" r="3.8"/><circle cx="493.0" cy="214.4" r="3.8"/><circle cx="422.2" cy="235.1" r="3.8"/><circle cx="551.1" cy="212.8" r="3.8"/><circle cx="455.6" cy="232.9" r="3.8"/><circle cx="540.5" cy="222.9" r="3.8"/><circle cx="523.5" cy="195.7" r="3.8"/><circle cx="573.2" cy="220.5" r="3.8"/><circle cx="562.9" cy="249.1" r="3.8"/><circle cx="697.7" cy="176.9" r="3.8"/><circle cx="637.8" cy="166.1" r="3.8"/><circle cx="672.5" cy="211.3" r="3.8"/><circle cx="608.8" cy="215.5" r="3.8"/><circle cx="499.4" cy="245.5" r="3.8"/><circle cx="460.3" cy="156.3" r="3.8"/><circle cx="667.1" cy="204.9" r="3.8"/><circle cx="530.4" cy="221.0" r="3.8"/><circle cx="416.8" cy="235.1" r="3.8"/><circle cx="772.1" cy="179.6" r="3.8"/><circle cx="277.1" cy="195.0" r="3.8"/><circle cx="540.2" cy="220.9" r="3.8"/><circle cx="632.5" cy="176.2" r="3.8"/><circle cx="689.1" cy="210.1" r="3.8"/><circle cx="341.3" cy="238.6" r="3.8"/><circle cx="488.6" cy="228.7" r="3.8"/><circle cx="380.5" cy="235.6" r="3.8"/><circle cx="640.3" cy="173.3" r="3.8"/><circle cx="585.8" cy="172.4" r="3.8"/><circle cx="534.7" cy="209.3" r="3.8"/><circle cx="539.7" cy="201.2" r="3.8"/><circle cx="751.1" cy="217.7" r="3.8"/><circle cx="416.6" cy="178.3" r="3.8"/><circle cx="414.4" cy="190.1" r="3.8"/><circle cx="215.9" cy="212.7" r="3.8"/><circle cx="446.7" cy="187.7" r="3.8"/><circle cx="767.2" cy="219.2" r="3.8"/><circle cx="513.1" cy="217.6" r="3.8"/><circle cx="369.8" cy="163.7" r="3.8"/><circle cx="593.9" cy="199.7" r="3.8"/><circle cx="719.7" cy="207.1" r="3.8"/><circle cx="562.6" cy="224.5" r="3.8"/><circle cx="545.5" cy="195.5" r="3.8"/><circle cx="467.7" cy="227.3" r="3.8"/><circle cx="554.3" cy="178.0" r="3.8"/><circle cx="427.4" cy="210.5" r="3.8"/><circle cx="740.4" cy="201.4" r="3.8"/><circle cx="737.5" cy="206.6" r="3.8"/><circle cx="467.0" cy="164.7" r="3.8"/><circle cx="678.7" cy="209.4" r="3.8"/><circle cx="538.7" cy="217.8" r="3.8"/><circle cx="558.4" cy="157.7" r="3.8"/><circle cx="586.2" cy="205.1" r="3.8"/><circle cx="522.3" cy="193.1" r="3.8"/><circle cx="448.4" cy="185.7" r="3.8"/><circle cx="611.0" cy="220.6" r="3.8"/><circle cx="737.5" cy="183.2" r="3.8"/><circle cx="481.5" cy="201.4" r="3.8"/><circle cx="682.5" cy="217.5" r="3.8"/><circle cx="705.6" cy="197.2" r="3.8"/><circle cx="448.8" cy="256.7" r="3.8"/><circle cx="760.9" cy="194.4" r="3.8"/><circle cx="617.5" cy="216.0" r="3.8"/><circle cx="520.5" cy="201.0" r="3.8"/><circle cx="515.3" cy="257.9" r="3.8"/><circle cx="480.3" cy="198.7" r="3.8"/><circle cx="536.5" cy="239.2" r="3.8"/><circle cx="732.8" cy="198.9" r="3.8"/><circle cx="732.7" cy="216.1" r="3.8"/><circle cx="577.9" cy="200.6" r="3.8"/><circle cx="704.1" cy="176.1" r="3.8"/><circle cx="448.7" cy="197.4" r="3.8"/><circle cx="332.0" cy="173.0" r="3.8"/><circle cx="412.8" cy="243.6" r="3.8"/><circle cx="489.8" cy="191.7" r="3.8"/><circle cx="471.5" cy="219.1" r="3.8"/><circle cx="540.5" cy="222.2" r="3.8"/><circle cx="528.1" cy="242.9" r="3.8"/><circle cx="555.3" cy="199.6" r="3.8"/><circle cx="329.3" cy="172.7" r="3.8"/><circle cx="438.6" cy="233.5" r="3.8"/><circle cx="618.9" cy="171.4" r="3.8"/><circle cx="637.7" cy="197.9" r="3.8"/><circle cx="617.0" cy="159.4" r="3.8"/><circle cx="629.9" cy="188.8" r="3.8"/><circle cx="374.9" cy="159.4" r="3.8"/><circle cx="601.9" cy="192.2" r="3.8"/><circle cx="349.1" cy="187.0" r="3.8"/><circle cx="424.0" cy="203.1" r="3.8"/><circle cx="703.7" cy="213.3" r="3.8"/><circle cx="694.4" cy="177.6" r="3.8"/><circle cx="574.6" cy="198.4" r="3.8"/><circle cx="392.1" cy="180.9" r="3.8"/><circle cx="355.7" cy="221.5" r="3.8"/><circle cx="575.4" cy="203.3" r="3.8"/><circle cx="425.8" cy="175.2" r="3.8"/><circle cx="380.0" cy="208.0" r="3.8"/><circle cx="454.3" cy="149.5" r="3.8"/><circle cx="594.2" cy="221.7" r="3.8"/><circle cx="729.6" cy="181.2" r="3.8"/><circle cx="502.0" cy="263.8" r="3.8"/><circle cx="417.9" cy="195.7" r="3.8"/><circle cx="691.7" cy="197.0" r="3.8"/><circle cx="507.0" cy="246.8" r="3.8"/><circle cx="562.5" cy="226.4" r="3.8"/><circle cx="570.5" cy="194.0" r="3.8"/><circle cx="456.9" cy="190.5" r="3.8"/><circle cx="651.6" cy="151.8" r="3.8"/><circle cx="331.0" cy="214.9" r="3.8"/><circle cx="640.6" cy="238.0" r="3.8"/><circle cx="539.7" cy="199.7" r="3.8"/><circle cx="472.7" cy="172.9" r="3.8"/><circle cx="552.2" cy="213.4" r="3.8"/><circle cx="488.4" cy="233.2" r="3.8"/><circle cx="566.4" cy="239.4" r="3.8"/><circle cx="604.8" cy="169.6" r="3.8"/><circle cx="599.5" cy="181.4" r="3.8"/><circle cx="366.5" cy="182.8" r="3.8"/><circle cx="681.7" cy="200.1" r="3.8"/><circle cx="520.3" cy="187.8" r="3.8"/><circle cx="502.1" cy="255.4" r="3.8"/><circle cx="643.0" cy="208.1" r="3.8"/><circle cx="492.6" cy="194.0" r="3.8"/><circle cx="573.9" cy="213.7" r="3.8"/><circle cx="478.5" cy="193.7" r="3.8"/><circle cx="629.0" cy="212.6" r="3.8"/><circle cx="708.3" cy="190.2" r="3.8"/><circle cx="631.0" cy="227.3" r="3.8"/><circle cx="606.5" cy="195.3" r="3.8"/><circle cx="582.2" cy="200.3" r="3.8"/><circle cx="434.5" cy="217.0" r="3.8"/><circle cx="416.2" cy="199.4" r="3.8"/><circle cx="559.1" cy="235.2" r="3.8"/><circle cx="591.5" cy="184.4" r="3.8"/><circle cx="583.8" cy="168.4" r="3.8"/><circle cx="389.0" cy="185.0" r="3.8"/><circle cx="610.9" cy="183.8" r="3.8"/><circle cx="592.4" cy="238.7" r="3.8"/><circle cx="560.9" cy="192.2" r="3.8"/><circle cx="474.4" cy="206.3" r="3.8"/><circle cx="401.5" cy="204.6" r="3.8"/><circle cx="498.6" cy="225.0" r="3.8"/><circle cx="477.5" cy="223.7" r="3.8"/><circle cx="522.5" cy="249.9" r="3.8"/><circle cx="605.0" cy="245.5" r="3.8"/><circle cx="489.7" cy="217.0" r="3.8"/><circle cx="502.0" cy="189.6" r="3.8"/><circle cx="639.7" cy="224.5" r="3.8"/><circle cx="698.5" cy="239.5" r="3.8"/><circle cx="771.9" cy="213.6" r="3.8"/><circle cx="695.1" cy="202.3" r="3.8"/><circle cx="432.2" cy="157.3" r="3.8"/><circle cx="806.9" cy="220.4" r="3.8"/><circle cx="443.9" cy="161.4" r="3.8"/><circle cx="720.0" cy="217.1" r="3.8"/><circle cx="317.9" cy="190.8" r="3.8"/><circle cx="563.7" cy="190.9" r="3.8"/><circle cx="473.8" cy="250.5" r="3.8"/><circle cx="271.0" cy="218.6" r="3.8"/><circle cx="567.7" cy="189.8" r="3.8"/><circle cx="547.9" cy="227.0" r="3.8"/><circle cx="443.9" cy="221.8" r="3.8"/><circle cx="617.4" cy="252.3" r="3.8"/><circle cx="549.3" cy="182.5" r="3.8"/><circle cx="494.6" cy="205.9" r="3.8"/><circle cx="510.2" cy="219.7" r="3.8"/><circle cx="719.1" cy="206.2" r="3.8"/><circle cx="662.0" cy="227.3" r="3.8"/><circle cx="677.0" cy="209.3" r="3.8"/><circle cx="394.9" cy="179.8" r="3.8"/><circle cx="770.0" cy="186.7" r="3.8"/><circle cx="455.0" cy="246.0" r="3.8"/><circle cx="810.1" cy="203.0" r="3.8"/><circle cx="782.5" cy="201.2" r="3.8"/><circle cx="659.1" cy="194.4" r="3.8"/><circle cx="592.5" cy="198.2" r="3.8"/><circle cx="673.2" cy="171.4" r="3.8"/><circle cx="511.6" cy="215.3" r="3.8"/><circle cx="656.8" cy="192.5" r="3.8"/><circle cx="607.1" cy="226.8" r="3.8"/><circle cx="448.0" cy="169.5" r="3.8"/><circle cx="617.5" cy="256.3" r="3.8"/><circle cx="677.4" cy="196.1" r="3.8"/><circle cx="389.6" cy="214.9" r="3.8"/><circle cx="606.9" cy="178.9" r="3.8"/><circle cx="371.6" cy="233.8" r="3.8"/><circle cx="811.0" cy="210.9" r="3.8"/><circle cx="554.4" cy="204.5" r="3.8"/><circle cx="563.7" cy="214.2" r="3.8"/><circle cx="634.0" cy="196.7" r="3.8"/><circle cx="473.3" cy="264.0" r="3.8"/><circle cx="415.4" cy="215.5" r="3.8"/><circle cx="382.8" cy="219.7" r="3.8"/><circle cx="605.9" cy="277.0" r="3.8"/><circle cx="545.9" cy="178.8" r="3.8"/><circle cx="709.8" cy="201.9" r="3.8"/><circle cx="394.8" cy="237.8" r="3.8"/><circle cx="472.9" cy="206.0" r="3.8"/><circle cx="728.0" cy="214.5" r="3.8"/><circle cx="438.9" cy="194.5" r="3.8"/><circle cx="499.9" cy="164.0" r="3.8"/><circle cx="683.6" cy="200.8" r="3.8"/><circle cx="453.2" cy="230.1" r="3.8"/><circle cx="572.8" cy="189.4" r="3.8"/><circle cx="772.9" cy="212.3" r="3.8"/><circle cx="590.4" cy="190.5" r="3.8"/><circle cx="728.1" cy="221.9" r="3.8"/><circle cx="373.7" cy="170.6" r="3.8"/><circle cx="582.2" cy="213.0" r="3.8"/><circle cx="433.3" cy="240.2" r="3.8"/><circle cx="456.5" cy="225.7" r="3.8"/><circle cx="338.0" cy="184.2" r="3.8"/><circle cx="519.0" cy="236.4" r="3.8"/><circle cx="323.7" cy="172.6" r="3.8"/><circle cx="669.8" cy="178.2" r="3.8"/><circle cx="463.3" cy="213.8" r="3.8"/><circle cx="614.6" cy="213.8" r="3.8"/><circle cx="232.0" cy="178.9" r="3.8"/><circle cx="526.3" cy="197.0" r="3.8"/><circle cx="591.8" cy="203.1" r="3.8"/><circle cx="564.9" cy="172.4" r="3.8"/><circle cx="450.7" cy="218.3" r="3.8"/><circle cx="653.0" cy="216.4" r="3.8"/><circle cx="375.7" cy="249.6" r="3.8"/><circle cx="392.3" cy="220.4" r="3.8"/><circle cx="423.5" cy="188.0" r="3.8"/><circle cx="464.1" cy="224.1" r="3.8"/><circle cx="399.8" cy="227.1" r="3.8"/><circle cx="601.8" cy="252.4" r="3.8"/><circle cx="730.6" cy="196.6" r="3.8"/><circle cx="402.6" cy="191.4" r="3.8"/><circle cx="441.3" cy="209.1" r="3.8"/><circle cx="491.8" cy="223.3" r="3.8"/><circle cx="773.8" cy="178.5" r="3.8"/><circle cx="677.0" cy="202.3" r="3.8"/><circle cx="584.4" cy="234.1" r="3.8"/><circle cx="518.6" cy="187.7" r="3.8"/><circle cx="499.8" cy="166.9" r="3.8"/><circle cx="616.1" cy="206.0" r="3.8"/><circle cx="367.1" cy="200.0" r="3.8"/><circle cx="467.3" cy="275.5" r="3.8"/><circle cx="734.1" cy="228.8" r="3.8"/><circle cx="602.2" cy="246.3" r="3.8"/><circle cx="770.4" cy="165.9" r="3.8"/><circle cx="690.5" cy="230.5" r="3.8"/><circle cx="606.4" cy="214.7" r="3.8"/><circle cx="602.2" cy="215.5" r="3.8"/><circle cx="535.1" cy="234.4" r="3.8"/><circle cx="453.4" cy="192.0" r="3.8"/><circle cx="603.3" cy="216.0" r="3.8"/><circle cx="452.1" cy="181.0" r="3.8"/><circle cx="575.7" cy="162.3" r="3.8"/><circle cx="533.8" cy="175.5" r="3.8"/><circle cx="480.7" cy="198.5" r="3.8"/><circle cx="619.2" cy="157.6" r="3.8"/><circle cx="495.6" cy="209.8" r="3.8"/><circle cx="696.7" cy="204.3" r="3.8"/><circle cx="468.2" cy="189.4" r="3.8"/><circle cx="534.6" cy="190.8" r="3.8"/><circle cx="692.1" cy="172.9" r="3.8"/><circle cx="517.4" cy="208.8" r="3.8"/><circle cx="566.0" cy="205.6" r="3.8"/><circle cx="684.0" cy="213.3" r="3.8"/><circle cx="545.8" cy="235.2" r="3.8"/><circle cx="478.5" cy="161.0" r="3.8"/><circle cx="444.8" cy="227.0" r="3.8"/><circle cx="592.1" cy="251.1" r="3.8"/><circle cx="712.0" cy="187.9" r="3.8"/><circle cx="473.3" cy="207.4" r="3.8"/><circle cx="509.9" cy="165.3" r="3.8"/><circle cx="569.4" cy="207.3" r="3.8"/><circle cx="673.0" cy="208.4" r="3.8"/><circle cx="472.9" cy="232.2" r="3.8"/><circle cx="522.5" cy="208.1" r="3.8"/><circle cx="744.1" cy="202.0" r="3.8"/><circle cx="671.4" cy="208.5" r="3.8"/><circle cx="546.5" cy="184.0" r="3.8"/><circle cx="479.4" cy="237.4" r="3.8"/><circle cx="697.9" cy="197.4" r="3.8"/><circle cx="419.8" cy="195.8" r="3.8"/><circle cx="521.6" cy="209.0" r="3.8"/><circle cx="645.6" cy="213.5" r="3.8"/><circle cx="465.1" cy="231.9" r="3.8"/><circle cx="434.4" cy="196.6" r="3.8"/><circle cx="474.4" cy="212.9" r="3.8"/><circle cx="532.8" cy="194.6" r="3.8"/><circle cx="810.7" cy="167.1" r="3.8"/><circle cx="537.5" cy="187.4" r="3.8"/><circle cx="289.8" cy="216.7" r="3.8"/><circle cx="566.3" cy="186.0" r="3.8"/><circle cx="515.6" cy="206.8" r="3.8"/><circle cx="402.9" cy="206.0" r="3.8"/><circle cx="516.2" cy="207.8" r="3.8"/><circle cx="576.1" cy="204.7" r="3.8"/><circle cx="810.2" cy="211.6" r="3.8"/><circle cx="496.6" cy="169.9" r="3.8"/><circle cx="813.6" cy="180.0" r="3.8"/><circle cx="517.7" cy="208.4" r="3.8"/><circle cx="735.3" cy="191.8" r="3.8"/><circle cx="585.8" cy="219.6" r="3.8"/><circle cx="448.8" cy="210.3" r="3.8"/><circle cx="525.1" cy="237.6" r="3.8"/><circle cx="399.5" cy="221.8" r="3.8"/><circle cx="535.9" cy="199.5" r="3.8"/><circle cx="576.2" cy="204.7" r="3.8"/><circle cx="621.8" cy="218.1" r="3.8"/><circle cx="638.7" cy="205.6" r="3.8"/><circle cx="571.6" cy="258.2" r="3.8"/><circle cx="770.8" cy="201.5" r="3.8"/><circle cx="467.2" cy="220.6" r="3.8"/><circle cx="496.4" cy="191.8" r="3.8"/><circle cx="570.5" cy="276.8" r="3.8"/><circle cx="702.4" cy="217.1" r="3.8"/><circle cx="710.2" cy="218.1" r="3.8"/><circle cx="405.6" cy="179.4" r="3.8"/><circle cx="452.0" cy="247.3" r="3.8"/><circle cx="656.2" cy="237.6" r="3.8"/><circle cx="667.1" cy="195.3" r="3.8"/><circle cx="575.0" cy="208.0" r="3.8"/><circle cx="456.0" cy="209.3" r="3.8"/><circle cx="425.5" cy="161.9" r="3.8"/><circle cx="680.6" cy="237.9" r="3.8"/><circle cx="650.0" cy="245.1" r="3.8"/><circle cx="535.0" cy="155.5" r="3.8"/><circle cx="739.4" cy="223.2" r="3.8"/><circle cx="372.5" cy="185.3" r="3.8"/><circle cx="595.3" cy="196.9" r="3.8"/><circle cx="647.5" cy="210.2" r="3.8"/><circle cx="451.0" cy="211.1" r="3.8"/><circle cx="288.8" cy="182.2" r="3.8"/><circle cx="386.0" cy="169.6" r="3.8"/><circle cx="716.2" cy="206.9" r="3.8"/><circle cx="558.4" cy="221.1" r="3.8"/><circle cx="497.1" cy="188.6" r="3.8"/><circle cx="689.0" cy="182.5" r="3.8"/><circle cx="562.1" cy="234.3" r="3.8"/><circle cx="687.2" cy="215.5" r="3.8"/><circle cx="697.2" cy="208.9" r="3.8"/><circle cx="668.4" cy="223.1" r="3.8"/><circle cx="718.6" cy="210.3" r="3.8"/><circle cx="532.2" cy="220.5" r="3.8"/><circle cx="702.2" cy="199.7" r="3.8"/><circle cx="603.2" cy="236.4" r="3.8"/><circle cx="584.1" cy="175.5" r="3.8"/><circle cx="615.3" cy="179.0" r="3.8"/><circle cx="298.1" cy="167.4" r="3.8"/><circle cx="565.8" cy="178.5" r="3.8"/><circle cx="353.8" cy="188.5" r="3.8"/><circle cx="609.1" cy="207.8" r="3.8"/><circle cx="581.2" cy="212.5" r="3.8"/><circle cx="679.8" cy="229.8" r="3.8"/><circle cx="690.5" cy="192.6" r="3.8"/><circle cx="580.2" cy="196.4" r="3.8"/><circle cx="524.7" cy="219.5" r="3.8"/><circle cx="552.8" cy="211.8" r="3.8"/><circle cx="505.8" cy="220.2" r="3.8"/><circle cx="517.3" cy="212.9" r="3.8"/><circle cx="548.6" cy="197.5" r="3.8"/><circle cx="291.9" cy="177.4" r="3.8"/><circle cx="633.7" cy="199.6" r="3.8"/><circle cx="435.5" cy="220.9" r="3.8"/><circle cx="423.2" cy="163.8" r="3.8"/><circle cx="608.0" cy="243.1" r="3.8"/><circle cx="797.5" cy="203.9" r="3.8"/><circle cx="666.8" cy="225.3" r="3.8"/><circle cx="428.3" cy="212.4" r="3.8"/><circle cx="568.9" cy="233.8" r="3.8"/><circle cx="558.6" cy="223.0" r="3.8"/><circle cx="553.2" cy="222.4" r="3.8"/><circle cx="689.0" cy="203.2" r="3.8"/><circle cx="536.6" cy="196.7" r="3.8"/><circle cx="713.3" cy="231.7" r="3.8"/><circle cx="431.6" cy="173.7" r="3.8"/><circle cx="549.7" cy="234.6" r="3.8"/><circle cx="692.5" cy="189.3" r="3.8"/><circle cx="391.6" cy="248.0" r="3.8"/><circle cx="592.7" cy="196.0" r="3.8"/><circle cx="580.4" cy="212.8" r="3.8"/><circle cx="680.8" cy="228.8" r="3.8"/><circle cx="644.0" cy="242.6" r="3.8"/><circle cx="527.8" cy="170.8" r="3.8"/><circle cx="556.7" cy="206.4" r="3.8"/><circle cx="277.5" cy="171.2" r="3.8"/><circle cx="447.5" cy="205.9" r="3.8"/><circle cx="705.6" cy="201.0" r="3.8"/><circle cx="560.9" cy="223.3" r="3.8"/><circle cx="521.8" cy="195.5" r="3.8"/><circle cx="631.5" cy="191.6" r="3.8"/><circle cx="626.0" cy="200.9" r="3.8"/><circle cx="518.9" cy="192.3" r="3.8"/><circle cx="591.1" cy="234.5" r="3.8"/><circle cx="608.3" cy="188.4" r="3.8"/><circle cx="534.5" cy="215.0" r="3.8"/><circle cx="626.3" cy="175.8" r="3.8"/><circle cx="631.0" cy="230.6" r="3.8"/><circle cx="399.7" cy="239.3" r="3.8"/><circle cx="512.1" cy="165.1" r="3.8"/><circle cx="620.5" cy="187.4" r="3.8"/><circle cx="336.3" cy="213.9" r="3.8"/><circle cx="410.6" cy="211.1" r="3.8"/><circle cx="608.3" cy="194.0" r="3.8"/><circle cx="438.9" cy="227.8" r="3.8"/><circle cx="622.8" cy="163.9" r="3.8"/><circle cx="515.5" cy="226.1" r="3.8"/><circle cx="667.2" cy="266.6" r="3.8"/><circle cx="525.0" cy="205.3" r="3.8"/><circle cx="636.2" cy="214.2" r="3.8"/><circle cx="233.5" cy="207.6" r="3.8"/><circle cx="833.2" cy="209.8" r="3.8"/><circle cx="532.9" cy="187.7" r="3.8"/><circle cx="507.6" cy="217.9" r="3.8"/><circle cx="479.2" cy="223.5" r="3.8"/><circle cx="510.2" cy="224.1" r="3.8"/><circle cx="652.0" cy="192.3" r="3.8"/><circle cx="454.6" cy="205.8" r="3.8"/><circle cx="582.5" cy="224.9" r="3.8"/><circle cx="679.0" cy="229.3" r="3.8"/><circle cx="621.9" cy="203.1" r="3.8"/><circle cx="549.1" cy="198.1" r="3.8"/><circle cx="545.4" cy="216.0" r="3.8"/><circle cx="593.1" cy="173.7" r="3.8"/><circle cx="580.3" cy="229.9" r="3.8"/><circle cx="490.5" cy="195.5" r="3.8"/><circle cx="505.7" cy="204.7" r="3.8"/><circle cx="672.5" cy="142.8" r="3.8"/><circle cx="466.2" cy="215.7" r="3.8"/><circle cx="663.9" cy="228.6" r="3.8"/><circle cx="495.5" cy="170.2" r="3.8"/><circle cx="509.9" cy="219.2" r="3.8"/><circle cx="640.2" cy="216.0" r="3.8"/><circle cx="513.3" cy="160.0" r="3.8"/><circle cx="446.7" cy="216.5" r="3.8"/><circle cx="481.6" cy="219.4" r="3.8"/><circle cx="742.9" cy="198.5" r="3.8"/><circle cx="328.8" cy="203.7" r="3.8"/><circle cx="568.0" cy="202.7" r="3.8"/><circle cx="589.6" cy="224.2" r="3.8"/><circle cx="323.9" cy="222.0" r="3.8"/><circle cx="692.0" cy="178.2" r="3.8"/><circle cx="496.5" cy="191.4" r="3.8"/><circle cx="450.3" cy="208.7" r="3.8"/><circle cx="509.3" cy="199.9" r="3.8"/><circle cx="696.7" cy="189.0" r="3.8"/><circle cx="500.2" cy="212.3" r="3.8"/><circle cx="456.6" cy="217.0" r="3.8"/><circle cx="651.3" cy="238.6" r="3.8"/><circle cx="695.7" cy="176.9" r="3.8"/><circle cx="591.8" cy="214.5" r="3.8"/><circle cx="581.6" cy="165.1" r="3.8"/><circle cx="495.0" cy="188.0" r="3.8"/><circle cx="438.4" cy="173.3" r="3.8"/><circle cx="601.8" cy="168.3" r="3.8"/><circle cx="419.2" cy="172.9" r="3.8"/><circle cx="684.8" cy="200.0" r="3.8"/><circle cx="656.3" cy="200.6" r="3.8"/><circle cx="446.6" cy="211.6" r="3.8"/><circle cx="586.4" cy="230.5" r="3.8"/><circle cx="523.0" cy="206.9" r="3.8"/><circle cx="752.5" cy="195.0" r="3.8"/><circle cx="553.2" cy="210.7" r="3.8"/><circle cx="742.9" cy="210.4" r="3.8"/><circle cx="648.1" cy="239.6" r="3.8"/><circle cx="553.5" cy="231.2" r="3.8"/><circle cx="700.8" cy="230.0" r="3.8"/><circle cx="546.9" cy="226.9" r="3.8"/><circle cx="757.0" cy="209.9" r="3.8"/><circle cx="454.0" cy="190.5" r="3.8"/><circle cx="643.9" cy="203.2" r="3.8"/><circle cx="632.5" cy="188.5" r="3.8"/><circle cx="621.2" cy="210.4" r="3.8"/><circle cx="598.7" cy="214.4" r="3.8"/><circle cx="551.1" cy="209.8" r="3.8"/><circle cx="488.9" cy="203.5" r="3.8"/><circle cx="664.2" cy="187.1" r="3.8"/><circle cx="596.6" cy="232.4" r="3.8"/><circle cx="601.2" cy="182.8" r="3.8"/><circle cx="330.1" cy="234.5" r="3.8"/><circle cx="482.5" cy="209.1" r="3.8"/><circle cx="658.7" cy="212.9" r="3.8"/><circle cx="750.4" cy="210.8" r="3.8"/><circle cx="553.6" cy="164.6" r="3.8"/><circle cx="758.9" cy="207.9" r="3.8"/><circle cx="772.7" cy="174.9" r="3.8"/><circle cx="457.7" cy="180.2" r="3.8"/><circle cx="626.0" cy="202.8" r="3.8"/><circle cx="268.7" cy="179.8" r="3.8"/><circle cx="585.8" cy="229.7" r="3.8"/><circle cx="769.2" cy="215.3" r="3.8"/><circle cx="685.6" cy="211.9" r="3.8"/><circle cx="604.4" cy="201.7" r="3.8"/><circle cx="519.2" cy="201.5" r="3.8"/><circle cx="262.6" cy="193.1" r="3.8"/><circle cx="524.5" cy="257.9" r="3.8"/><circle cx="401.9" cy="216.5" r="3.8"/><circle cx="363.3" cy="178.2" r="3.8"/><circle cx="491.4" cy="193.2" r="3.8"/><circle cx="287.7" cy="232.8" r="3.8"/><circle cx="572.5" cy="167.5" r="3.8"/><circle cx="581.5" cy="200.6" r="3.8"/><circle cx="517.1" cy="238.8" r="3.8"/><circle cx="632.2" cy="190.3" r="3.8"/><circle cx="297.4" cy="231.3" r="3.8"/><circle cx="337.1" cy="211.4" r="3.8"/><circle cx="635.1" cy="208.0" r="3.8"/><circle cx="594.1" cy="164.1" r="3.8"/><circle cx="626.0" cy="177.0" r="3.8"/><circle cx="516.7" cy="241.2" r="3.8"/><circle cx="439.1" cy="233.0" r="3.8"/><circle cx="428.2" cy="233.9" r="3.8"/><circle cx="622.6" cy="257.8" r="3.8"/><circle cx="445.7" cy="201.3" r="3.8"/><circle cx="762.0" cy="212.4" r="3.8"/><circle cx="365.7" cy="212.1" r="3.8"/><circle cx="683.1" cy="216.7" r="3.8"/><circle cx="612.7" cy="191.6" r="3.8"/><circle cx="464.4" cy="182.6" r="3.8"/><circle cx="626.2" cy="241.9" r="3.8"/><circle cx="562.2" cy="222.8" r="3.8"/><circle cx="506.9" cy="194.9" r="3.8"/><circle cx="351.1" cy="205.7" r="3.8"/><circle cx="657.7" cy="201.7" r="3.8"/><circle cx="377.1" cy="229.6" r="3.8"/><circle cx="630.6" cy="262.6" r="3.8"/><circle cx="638.0" cy="228.9" r="3.8"/><circle cx="641.5" cy="244.1" r="3.8"/><circle cx="640.2" cy="207.4" r="3.8"/><circle cx="624.1" cy="198.8" r="3.8"/><circle cx="665.0" cy="226.2" r="3.8"/><circle cx="508.9" cy="236.9" r="3.8"/><circle cx="416.9" cy="222.3" r="3.8"/><circle cx="550.9" cy="265.9" r="3.8"/><circle cx="502.0" cy="213.6" r="3.8"/><circle cx="328.0" cy="249.8" r="3.8"/><circle cx="726.9" cy="231.2" r="3.8"/><circle cx="550.2" cy="185.1" r="3.8"/><circle cx="684.0" cy="193.2" r="3.8"/><circle cx="447.4" cy="268.1" r="3.8"/><circle cx="715.7" cy="177.3" r="3.8"/><circle cx="548.0" cy="201.4" r="3.8"/><circle cx="770.6" cy="198.6" r="3.8"/><circle cx="751.7" cy="187.0" r="3.8"/><circle cx="437.2" cy="194.3" r="3.8"/><circle cx="653.5" cy="191.9" r="3.8"/><circle cx="487.5" cy="234.2" r="3.8"/><circle cx="400.9" cy="226.9" r="3.8"/><circle cx="622.0" cy="172.1" r="3.8"/><circle cx="469.2" cy="163.7" r="3.8"/><circle cx="336.4" cy="189.3" r="3.8"/><circle cx="312.4" cy="209.4" r="3.8"/><circle cx="565.2" cy="156.7" r="3.8"/><circle cx="759.5" cy="207.3" r="3.8"/><circle cx="529.5" cy="224.6" r="3.8"/><circle cx="466.1" cy="194.0" r="3.8"/><circle cx="580.5" cy="195.9" r="3.8"/><circle cx="572.3" cy="223.3" r="3.8"/><circle cx="645.7" cy="190.8" r="3.8"/><circle cx="653.3" cy="209.4" r="3.8"/><circle cx="353.0" cy="181.6" r="3.8"/><circle cx="481.0" cy="216.0" r="3.8"/><circle cx="414.4" cy="195.4" r="3.8"/><circle cx="614.7" cy="212.8" r="3.8"/><circle cx="703.2" cy="187.5" r="3.8"/><circle cx="464.7" cy="202.6" r="3.8"/><circle cx="778.2" cy="210.7" r="3.8"/><circle cx="543.0" cy="194.3" r="3.8"/><circle cx="637.3" cy="224.3" r="3.8"/><circle cx="661.7" cy="169.0" r="3.8"/><circle cx="608.1" cy="180.6" r="3.8"/><circle cx="545.0" cy="196.2" r="3.8"/><circle cx="586.1" cy="227.8" r="3.8"/><circle cx="434.1" cy="167.8" r="3.8"/><circle cx="543.8" cy="210.4" r="3.8"/><circle cx="649.6" cy="224.1" r="3.8"/><circle cx="552.6" cy="196.3" r="3.8"/><circle cx="409.5" cy="193.9" r="3.8"/><circle cx="419.9" cy="218.9" r="3.8"/><circle cx="420.0" cy="205.1" r="3.8"/><circle cx="465.7" cy="201.8" r="3.8"/><circle cx="384.9" cy="205.1" r="3.8"/><circle cx="732.8" cy="205.0" r="3.8"/><circle cx="616.6" cy="245.5" r="3.8"/><circle cx="307.7" cy="231.2" r="3.8"/><circle cx="657.0" cy="205.7" r="3.8"/><circle cx="349.6" cy="185.7" r="3.8"/><circle cx="502.2" cy="180.0" r="3.8"/><circle cx="552.7" cy="223.7" r="3.8"/><circle cx="500.5" cy="199.3" r="3.8"/><circle cx="443.2" cy="212.8" r="3.8"/><circle cx="433.6" cy="228.5" r="3.8"/><circle cx="566.6" cy="207.0" r="3.8"/><circle cx="422.6" cy="184.2" r="3.8"/><circle cx="753.5" cy="231.7" r="3.8"/><circle cx="667.0" cy="209.1" r="3.8"/><circle cx="390.5" cy="218.8" r="3.8"/><circle cx="600.4" cy="224.2" r="3.8"/><circle cx="491.0" cy="188.0" r="3.8"/><circle cx="664.8" cy="188.3" r="3.8"/><circle cx="756.0" cy="200.8" r="3.8"/><circle cx="737.8" cy="203.1" r="3.8"/><circle cx="515.5" cy="240.3" r="3.8"/><circle cx="393.8" cy="219.6" r="3.8"/><circle cx="571.0" cy="210.0" r="3.8"/><circle cx="548.1" cy="217.6" r="3.8"/><circle cx="497.9" cy="255.8" r="3.8"/><circle cx="708.7" cy="194.2" r="3.8"/><circle cx="620.7" cy="188.8" r="3.8"/><circle cx="635.1" cy="215.8" r="3.8"/><circle cx="409.8" cy="194.0" r="3.8"/><circle cx="577.4" cy="176.3" r="3.8"/><circle cx="727.3" cy="190.1" r="3.8"/><circle cx="667.6" cy="185.4" r="3.8"/><circle cx="556.2" cy="186.0" r="3.8"/><circle cx="806.6" cy="173.6" r="3.8"/><circle cx="484.3" cy="175.3" r="3.8"/><circle cx="630.8" cy="232.9" r="3.8"/><circle cx="594.6" cy="182.7" r="3.8"/><circle cx="755.2" cy="200.4" r="3.8"/><circle cx="566.9" cy="244.0" r="3.8"/><circle cx="482.3" cy="247.9" r="3.8"/><circle cx="419.1" cy="174.4" r="3.8"/><circle cx="572.9" cy="203.8" r="3.8"/><circle cx="447.6" cy="193.6" r="3.8"/><circle cx="372.8" cy="221.8" r="3.8"/><circle cx="728.2" cy="174.7" r="3.8"/><circle cx="501.8" cy="220.7" r="3.8"/><circle cx="619.1" cy="185.0" r="3.8"/><circle cx="519.4" cy="230.2" r="3.8"/><circle cx="612.7" cy="200.2" r="3.8"/><circle cx="652.3" cy="213.7" r="3.8"/><circle cx="515.9" cy="196.2" r="3.8"/><circle cx="533.2" cy="229.6" r="3.8"/><circle cx="460.4" cy="192.1" r="3.8"/><circle cx="475.8" cy="211.8" r="3.8"/><circle cx="623.9" cy="180.7" r="3.8"/><circle cx="418.4" cy="225.6" r="3.8"/><circle cx="515.2" cy="196.0" r="3.8"/><circle cx="492.2" cy="190.6" r="3.8"/><circle cx="564.7" cy="228.1" r="3.8"/><circle cx="459.9" cy="163.8" r="3.8"/><circle cx="543.9" cy="227.4" r="3.8"/><circle cx="598.0" cy="197.6" r="3.8"/><circle cx="546.3" cy="206.0" r="3.8"/><circle cx="608.0" cy="176.7" r="3.8"/><circle cx="484.9" cy="192.6" r="3.8"/><circle cx="546.9" cy="200.2" r="3.8"/><circle cx="579.3" cy="234.8" r="3.8"/><circle cx="454.6" cy="207.8" r="3.8"/><circle cx="325.9" cy="211.5" r="3.8"/><circle cx="502.1" cy="184.0" r="3.8"/><circle cx="751.4" cy="217.8" r="3.8"/><circle cx="418.3" cy="168.9" r="3.8"/><circle cx="577.1" cy="195.4" r="3.8"/><circle cx="604.5" cy="217.3" r="3.8"/><circle cx="419.6" cy="234.4" r="3.8"/><circle cx="719.0" cy="214.7" r="3.8"/><circle cx="320.4" cy="224.5" r="3.8"/><circle cx="422.6" cy="214.7" r="3.8"/><circle cx="406.6" cy="243.5" r="3.8"/><circle cx="443.9" cy="157.7" r="3.8"/><circle cx="424.3" cy="203.2" r="3.8"/><circle cx="629.4" cy="238.7" r="3.8"/><circle cx="520.4" cy="219.6" r="3.8"/><circle cx="290.4" cy="216.1" r="3.8"/><circle cx="259.8" cy="230.8" r="3.8"/><circle cx="363.4" cy="195.2" r="3.8"/><circle cx="794.2" cy="193.8" r="3.8"/><circle cx="552.2" cy="229.3" r="3.8"/><circle cx="518.1" cy="165.0" r="3.8"/><circle cx="357.1" cy="207.6" r="3.8"/><circle cx="574.3" cy="256.9" r="3.8"/><circle cx="525.8" cy="194.4" r="3.8"/><circle cx="624.0" cy="210.6" r="3.8"/><circle cx="448.9" cy="231.9" r="3.8"/><circle cx="735.8" cy="172.4" r="3.8"/><circle cx="457.7" cy="207.5" r="3.8"/><circle cx="774.5" cy="193.1" r="3.8"/><circle cx="682.0" cy="224.9" r="3.8"/><circle cx="415.0" cy="173.0" r="3.8"/><circle cx="490.9" cy="242.6" r="3.8"/><circle cx="477.2" cy="170.1" r="3.8"/><circle cx="766.4" cy="185.8" r="3.8"/><circle cx="471.2" cy="229.5" r="3.8"/><circle cx="531.0" cy="160.5" r="3.8"/><circle cx="680.4" cy="226.7" r="3.8"/><circle cx="616.1" cy="155.9" r="3.8"/><circle cx="570.1" cy="191.9" r="3.8"/><circle cx="539.7" cy="243.4" r="3.8"/><circle cx="456.1" cy="200.3" r="3.8"/><circle cx="661.6" cy="183.6" r="3.8"/><circle cx="543.8" cy="224.4" r="3.8"/><circle cx="532.9" cy="214.9" r="3.8"/><circle cx="660.3" cy="216.1" r="3.8"/><circle cx="512.7" cy="200.7" r="3.8"/><circle cx="548.2" cy="170.5" r="3.8"/><circle cx="595.4" cy="210.3" r="3.8"/><circle cx="366.8" cy="173.4" r="3.8"/><circle cx="428.2" cy="169.1" r="3.8"/><circle cx="467.9" cy="183.0" r="3.8"/><circle cx="548.6" cy="190.1" r="3.8"/><circle cx="691.3" cy="222.4" r="3.8"/><circle cx="471.6" cy="216.3" r="3.8"/><circle cx="315.3" cy="189.8" r="3.8"/><circle cx="473.1" cy="207.8" r="3.8"/><circle cx="649.8" cy="224.0" r="3.8"/><circle cx="445.7" cy="243.8" r="3.8"/><circle cx="600.6" cy="241.7" r="3.8"/><circle cx="529.2" cy="223.6" r="3.8"/><circle cx="599.5" cy="180.9" r="3.8"/><circle cx="355.4" cy="216.8" r="3.8"/><circle cx="475.8" cy="206.7" r="3.8"/><circle cx="461.7" cy="230.1" r="3.8"/><circle cx="325.9" cy="210.2" r="3.8"/><circle cx="712.9" cy="176.3" r="3.8"/><circle cx="546.0" cy="198.5" r="3.8"/><circle cx="625.2" cy="275.5" r="3.8"/><circle cx="568.7" cy="193.0" r="3.8"/><circle cx="386.4" cy="242.0" r="3.8"/><circle cx="740.3" cy="171.6" r="3.8"/><circle cx="402.2" cy="182.6" r="3.8"/><circle cx="630.7" cy="192.8" r="3.8"/><circle cx="586.9" cy="211.8" r="3.8"/><circle cx="464.0" cy="240.3" r="3.8"/><circle cx="517.7" cy="211.8" r="3.8"/><circle cx="520.0" cy="249.2" r="3.8"/><circle cx="623.5" cy="179.6" r="3.8"/><circle cx="293.0" cy="219.4" r="3.8"/><circle cx="672.5" cy="221.0" r="3.8"/><circle cx="688.7" cy="205.6" r="3.8"/><circle cx="368.5" cy="222.8" r="3.8"/><circle cx="543.8" cy="236.6" r="3.8"/><circle cx="497.9" cy="206.6" r="3.8"/><circle cx="457.6" cy="220.8" r="3.8"/><circle cx="381.0" cy="217.3" r="3.8"/><circle cx="678.9" cy="229.1" r="3.8"/><circle cx="379.3" cy="208.3" r="3.8"/><circle cx="542.4" cy="221.3" r="3.8"/><circle cx="427.6" cy="226.8" r="3.8"/><circle cx="623.8" cy="199.6" r="3.8"/><circle cx="802.5" cy="190.6" r="3.8"/><circle cx="479.7" cy="215.7" r="3.8"/><circle cx="738.5" cy="221.4" r="3.8"/><circle cx="446.1" cy="240.3" r="3.8"/><circle cx="664.2" cy="225.6" r="3.8"/><circle cx="620.7" cy="190.4" r="3.8"/><circle cx="521.2" cy="151.7" r="3.8"/><circle cx="531.7" cy="217.5" r="3.8"/><circle cx="766.9" cy="199.5" r="3.8"/><circle cx="573.9" cy="194.0" r="3.8"/><circle cx="618.1" cy="230.0" r="3.8"/><circle cx="759.0" cy="177.6" r="3.8"/><circle cx="445.2" cy="239.9" r="3.8"/><circle cx="562.5" cy="193.8" r="3.8"/><circle cx="475.8" cy="188.1" r="3.8"/><circle cx="510.9" cy="209.6" r="3.8"/><circle cx="641.3" cy="174.7" r="3.8"/><circle cx="508.5" cy="222.9" r="3.8"/><circle cx="661.4" cy="140.4" r="3.8"/><circle cx="468.6" cy="161.6" r="3.8"/><circle cx="614.0" cy="210.4" r="3.8"/><circle cx="630.4" cy="239.7" r="3.8"/><circle cx="411.3" cy="189.5" r="3.8"/><circle cx="525.8" cy="204.6" r="3.8"/><circle cx="701.2" cy="207.9" r="3.8"/><circle cx="317.3" cy="247.9" r="3.8"/><circle cx="791.5" cy="224.3" r="3.8"/><circle cx="463.1" cy="255.2" r="3.8"/><circle cx="454.7" cy="205.4" r="3.8"/><circle cx="420.6" cy="209.0" r="3.8"/><circle cx="319.6" cy="208.1" r="3.8"/><circle cx="540.9" cy="184.7" r="3.8"/><circle cx="641.0" cy="229.0" r="3.8"/><circle cx="536.3" cy="215.6" r="3.8"/><circle cx="342.8" cy="209.0" r="3.8"/><circle cx="669.6" cy="233.5" r="3.8"/><circle cx="715.4" cy="192.8" r="3.8"/><circle cx="686.0" cy="224.2" r="3.8"/><circle cx="448.6" cy="208.5" r="3.8"/><circle cx="504.0" cy="232.0" r="3.8"/><circle cx="629.1" cy="216.8" r="3.8"/><circle cx="608.2" cy="160.8" r="3.8"/><circle cx="623.8" cy="230.9" r="3.8"/><circle cx="271.6" cy="186.2" r="3.8"/><circle cx="563.2" cy="189.0" r="3.8"/><circle cx="642.8" cy="204.7" r="3.8"/><circle cx="459.3" cy="200.9" r="3.8"/><circle cx="834.4" cy="178.9" r="3.8"/><circle cx="511.5" cy="206.9" r="3.8"/><circle cx="690.9" cy="196.3" r="3.8"/><circle cx="563.7" cy="179.1" r="3.8"/><circle cx="757.7" cy="178.1" r="3.8"/><circle cx="485.5" cy="225.5" r="3.8"/><circle cx="483.5" cy="195.2" r="3.8"/><circle cx="572.2" cy="212.8" r="3.8"/><circle cx="580.4" cy="200.4" r="3.8"/><circle cx="598.4" cy="217.7" r="3.8"/><circle cx="558.8" cy="222.4" r="3.8"/><circle cx="648.6" cy="198.8" r="3.8"/><circle cx="573.2" cy="251.3" r="3.8"/><circle cx="429.8" cy="179.7" r="3.8"/><circle cx="567.0" cy="242.8" r="3.8"/><circle cx="686.2" cy="203.8" r="3.8"/><circle cx="473.0" cy="175.1" r="3.8"/><circle cx="512.4" cy="219.1" r="3.8"/><circle cx="585.6" cy="208.5" r="3.8"/><circle cx="670.8" cy="203.6" r="3.8"/><circle cx="697.8" cy="184.0" r="3.8"/><circle cx="606.7" cy="228.2" r="3.8"/><circle cx="661.8" cy="250.1" r="3.8"/><circle cx="459.4" cy="225.9" r="3.8"/><circle cx="703.9" cy="200.7" r="3.8"/><circle cx="512.9" cy="209.8" r="3.8"/><circle cx="503.1" cy="194.1" r="3.8"/><circle cx="456.6" cy="230.8" r="3.8"/><circle cx="567.8" cy="231.4" r="3.8"/><circle cx="578.1" cy="230.0" r="3.8"/><circle cx="696.2" cy="202.1" r="3.8"/><circle cx="513.1" cy="171.2" r="3.8"/><circle cx="491.6" cy="200.6" r="3.8"/><circle cx="616.6" cy="207.0" r="3.8"/><circle cx="651.7" cy="199.1" r="3.8"/><circle cx="496.8" cy="215.3" r="3.8"/><circle cx="657.3" cy="187.9" r="3.8"/><circle cx="364.6" cy="185.8" r="3.8"/><circle cx="605.7" cy="182.7" r="3.8"/><circle cx="459.3" cy="226.0" r="3.8"/><circle cx="370.1" cy="224.9" r="3.8"/><circle cx="787.0" cy="209.9" r="3.8"/><circle cx="387.5" cy="221.7" r="3.8"/><circle cx="542.6" cy="267.6" r="3.8"/><circle cx="409.9" cy="191.2" r="3.8"/><circle cx="566.9" cy="242.9" r="3.8"/><circle cx="518.1" cy="159.1" r="3.8"/><circle cx="803.6" cy="202.0" r="3.8"/><circle cx="557.0" cy="217.2" r="3.8"/><circle cx="424.3" cy="211.7" r="3.8"/><circle cx="508.1" cy="240.0" r="3.8"/><circle cx="629.7" cy="202.6" r="3.8"/><circle cx="323.6" cy="217.1" r="3.8"/><circle cx="562.1" cy="228.2" r="3.8"/><circle cx="385.1" cy="174.7" r="3.8"/><circle cx="481.9" cy="239.7" r="3.8"/><circle cx="674.4" cy="196.0" r="3.8"/><circle cx="528.8" cy="208.9" r="3.8"/><circle cx="483.6" cy="185.7" r="3.8"/><circle cx="569.6" cy="274.9" r="3.8"/><circle cx="446.0" cy="226.3" r="3.8"/><circle cx="605.2" cy="178.6" r="3.8"/><circle cx="622.7" cy="222.0" r="3.8"/><circle cx="321.2" cy="219.0" r="3.8"/><circle cx="618.9" cy="240.7" r="3.8"/><circle cx="502.8" cy="224.8" r="3.8"/><circle cx="394.4" cy="244.2" r="3.8"/><circle cx="438.4" cy="226.4" r="3.8"/><circle cx="730.5" cy="214.1" r="3.8"/><circle cx="305.9" cy="166.7" r="3.8"/><circle cx="612.7" cy="231.8" r="3.8"/><circle cx="406.7" cy="205.9" r="3.8"/><circle cx="426.4" cy="159.5" r="3.8"/><circle cx="743.8" cy="179.2" r="3.8"/><circle cx="452.2" cy="194.9" r="3.8"/><circle cx="517.3" cy="212.8" r="3.8"/><circle cx="656.1" cy="182.0" r="3.8"/><circle cx="632.9" cy="198.8" r="3.8"/><circle cx="480.6" cy="231.9" r="3.8"/><circle cx="588.1" cy="180.0" r="3.8"/><circle cx="532.4" cy="189.5" r="3.8"/><circle cx="532.7" cy="194.3" r="3.8"/><circle cx="498.7" cy="212.6" r="3.8"/><circle cx="793.9" cy="196.1" r="3.8"/><circle cx="415.3" cy="220.3" r="3.8"/><circle cx="688.9" cy="194.3" r="3.8"/><circle cx="730.8" cy="190.0" r="3.8"/><circle cx="674.7" cy="217.5" r="3.8"/><circle cx="611.6" cy="231.0" r="3.8"/><circle cx="499.1" cy="199.2" r="3.8"/><circle cx="542.9" cy="211.2" r="3.8"/><circle cx="534.9" cy="228.0" r="3.8"/><circle cx="794.8" cy="206.8" r="3.8"/><circle cx="641.3" cy="200.3" r="3.8"/><circle cx="613.1" cy="200.5" r="3.8"/><circle cx="644.2" cy="206.2" r="3.8"/><circle cx="530.3" cy="233.5" r="3.8"/><circle cx="478.8" cy="195.7" r="3.8"/><circle cx="536.7" cy="232.4" r="3.8"/><circle cx="736.8" cy="237.2" r="3.8"/><circle cx="801.8" cy="225.1" r="3.8"/><circle cx="296.2" cy="203.6" r="3.8"/><circle cx="574.7" cy="221.2" r="3.8"/><circle cx="309.5" cy="201.1" r="3.8"/><circle cx="511.4" cy="237.2" r="3.8"/><circle cx="532.3" cy="210.6" r="3.8"/><circle cx="427.5" cy="167.2" r="3.8"/><circle cx="732.6" cy="226.6" r="3.8"/><circle cx="606.7" cy="227.1" r="3.8"/><circle cx="533.8" cy="207.9" r="3.8"/><circle cx="634.1" cy="202.8" r="3.8"/><circle cx="624.9" cy="189.3" r="3.8"/><circle cx="481.0" cy="223.0" r="3.8"/><circle cx="732.1" cy="180.0" r="3.8"/><circle cx="483.7" cy="218.9" r="3.8"/><circle cx="713.6" cy="217.9" r="3.8"/><circle cx="628.3" cy="223.0" r="3.8"/><circle cx="344.4" cy="204.6" r="3.8"/><circle cx="446.4" cy="176.2" r="3.8"/><circle cx="474.7" cy="166.8" r="3.8"/><circle cx="693.0" cy="184.8" r="3.8"/><circle cx="444.8" cy="229.7" r="3.8"/><circle cx="703.5" cy="210.1" r="3.8"/><circle cx="562.9" cy="225.6" r="3.8"/><circle cx="632.0" cy="227.5" r="3.8"/><circle cx="492.0" cy="240.8" r="3.8"/><circle cx="597.5" cy="213.1" r="3.8"/><circle cx="687.4" cy="146.8" r="3.8"/><circle cx="672.1" cy="179.6" r="3.8"/><circle cx="690.1" cy="209.9" r="3.8"/><circle cx="487.5" cy="208.5" r="3.8"/><circle cx="423.7" cy="189.9" r="3.8"/><circle cx="449.4" cy="172.7" r="3.8"/><circle cx="499.2" cy="204.3" r="3.8"/><circle cx="407.2" cy="206.1" r="3.8"/><circle cx="412.7" cy="173.9" r="3.8"/><circle cx="604.1" cy="236.3" r="3.8"/><circle cx="675.9" cy="234.9" r="3.8"/><circle cx="551.4" cy="247.0" r="3.8"/><circle cx="604.5" cy="172.0" r="3.8"/><circle cx="627.3" cy="181.1" r="3.8"/><circle cx="562.5" cy="209.8" r="3.8"/><circle cx="771.3" cy="208.1" r="3.8"/><circle cx="494.7" cy="247.8" r="3.8"/><circle cx="373.5" cy="194.6" r="3.8"/><circle cx="606.6" cy="203.5" r="3.8"/><circle cx="597.4" cy="187.1" r="3.8"/><circle cx="698.8" cy="190.3" r="3.8"/><circle cx="741.7" cy="198.2" r="3.8"/><circle cx="577.8" cy="230.5" r="3.8"/><circle cx="396.0" cy="215.8" r="3.8"/><circle cx="634.4" cy="200.7" r="3.8"/><circle cx="836.1" cy="198.7" r="3.8"/><circle cx="475.8" cy="165.2" r="3.8"/><circle cx="547.2" cy="193.8" r="3.8"/><circle cx="400.7" cy="185.2" r="3.8"/><circle cx="495.3" cy="237.6" r="3.8"/><circle cx="648.5" cy="261.8" r="3.8"/><circle cx="459.3" cy="211.8" r="3.8"/><circle cx="552.1" cy="248.6" r="3.8"/><circle cx="646.9" cy="187.1" r="3.8"/><circle cx="467.8" cy="256.5" r="3.8"/><circle cx="556.5" cy="262.3" r="3.8"/><circle cx="454.9" cy="224.1" r="3.8"/><circle cx="398.6" cy="208.5" r="3.8"/><circle cx="653.4" cy="267.8" r="3.8"/><circle cx="437.7" cy="171.7" r="3.8"/><circle cx="709.0" cy="218.6" r="3.8"/><circle cx="288.7" cy="215.3" r="3.8"/><circle cx="464.4" cy="185.1" r="3.8"/><circle cx="467.7" cy="158.7" r="3.8"/><circle cx="627.7" cy="179.5" r="3.8"/><circle cx="387.6" cy="160.8" r="3.8"/><circle cx="519.0" cy="179.5" r="3.8"/><circle cx="518.3" cy="186.6" r="3.8"/><circle cx="342.0" cy="172.5" r="3.8"/><circle cx="696.5" cy="166.7" r="3.8"/><circle cx="746.7" cy="211.9" r="3.8"/><circle cx="709.6" cy="210.0" r="3.8"/><circle cx="525.1" cy="199.7" r="3.8"/><circle cx="372.6" cy="170.2" r="3.8"/><circle cx="583.4" cy="189.4" r="3.8"/><circle cx="503.9" cy="208.8" r="3.8"/><circle cx="570.9" cy="229.2" r="3.8"/><circle cx="563.1" cy="173.7" r="3.8"/><circle cx="582.7" cy="230.7" r="3.8"/><circle cx="576.2" cy="189.5" r="3.8"/><circle cx="341.1" cy="193.1" r="3.8"/><circle cx="664.1" cy="191.8" r="3.8"/><circle cx="588.2" cy="243.4" r="3.8"/><circle cx="536.6" cy="198.3" r="3.8"/><circle cx="458.8" cy="151.2" r="3.8"/><circle cx="572.5" cy="196.8" r="3.8"/><circle cx="630.6" cy="211.8" r="3.8"/><circle cx="758.8" cy="207.4" r="3.8"/><circle cx="452.9" cy="275.2" r="3.8"/><circle cx="437.6" cy="204.7" r="3.8"/><circle cx="652.2" cy="201.6" r="3.8"/><circle cx="414.8" cy="207.8" r="3.8"/><circle cx="674.2" cy="209.4" r="3.8"/><circle cx="696.6" cy="220.8" r="3.8"/><circle cx="687.3" cy="237.7" r="3.8"/><circle cx="302.0" cy="180.3" r="3.8"/><circle cx="505.1" cy="217.1" r="3.8"/><circle cx="533.5" cy="204.4" r="3.8"/><circle cx="541.6" cy="257.1" r="3.8"/><circle cx="481.8" cy="233.4" r="3.8"/><circle cx="463.3" cy="162.8" r="3.8"/><circle cx="616.4" cy="238.3" r="3.8"/><circle cx="293.9" cy="200.7" r="3.8"/><circle cx="563.9" cy="177.3" r="3.8"/><circle cx="714.4" cy="191.9" r="3.8"/><circle cx="582.9" cy="195.4" r="3.8"/><circle cx="494.2" cy="257.3" r="3.8"/><circle cx="646.4" cy="232.3" r="3.8"/><circle cx="774.9" cy="220.2" r="3.8"/><circle cx="475.5" cy="229.4" r="3.8"/><circle cx="529.5" cy="208.9" r="3.8"/><circle cx="570.3" cy="218.9" r="3.8"/><circle cx="725.4" cy="225.3" r="3.8"/><circle cx="412.5" cy="217.1" r="3.8"/><circle cx="577.7" cy="226.7" r="3.8"/><circle cx="464.2" cy="171.7" r="3.8"/><circle cx="505.9" cy="279.6" r="3.8"/><circle cx="381.9" cy="170.5" r="3.8"/><circle cx="464.7" cy="271.0" r="3.8"/><circle cx="673.5" cy="213.1" r="3.8"/><circle cx="554.6" cy="172.2" r="3.8"/><circle cx="374.3" cy="211.6" r="3.8"/><circle cx="399.0" cy="171.5" r="3.8"/><circle cx="647.9" cy="197.8" r="3.8"/><circle cx="552.0" cy="259.3" r="3.8"/><circle cx="579.1" cy="210.1" r="3.8"/><circle cx="536.6" cy="231.4" r="3.8"/><circle cx="569.2" cy="171.8" r="3.8"/><circle cx="814.0" cy="212.9" r="3.8"/><circle cx="476.8" cy="206.5" r="3.8"/><circle cx="480.4" cy="242.1" r="3.8"/><circle cx="540.1" cy="217.2" r="3.8"/><circle cx="558.8" cy="205.0" r="3.8"/><circle cx="303.2" cy="194.0" r="3.8"/><circle cx="718.3" cy="189.8" r="3.8"/><circle cx="649.9" cy="224.4" r="3.8"/><circle cx="562.0" cy="157.2" r="3.8"/><circle cx="602.8" cy="150.0" r="3.8"/><circle cx="561.1" cy="215.2" r="3.8"/><circle cx="328.5" cy="221.7" r="3.8"/><circle cx="393.7" cy="264.3" r="3.8"/><circle cx="572.0" cy="193.6" r="3.8"/><circle cx="685.7" cy="234.7" r="3.8"/><circle cx="586.6" cy="261.3" r="3.8"/><circle cx="463.5" cy="178.4" r="3.8"/><circle cx="571.2" cy="218.7" r="3.8"/><circle cx="460.2" cy="176.6" r="3.8"/><circle cx="677.6" cy="227.4" r="3.8"/><circle cx="290.5" cy="184.7" r="3.8"/><circle cx="646.6" cy="197.9" r="3.8"/><circle cx="585.0" cy="198.8" r="3.8"/><circle cx="548.6" cy="228.5" r="3.8"/><circle cx="583.9" cy="226.8" r="3.8"/><circle cx="253.1" cy="200.8" r="3.8"/><circle cx="441.8" cy="227.2" r="3.8"/><circle cx="445.6" cy="180.2" r="3.8"/><circle cx="560.0" cy="171.5" r="3.8"/><circle cx="541.0" cy="255.0" r="3.8"/><circle cx="342.0" cy="228.2" r="3.8"/><circle cx="448.6" cy="208.7" r="3.8"/><circle cx="429.3" cy="206.8" r="3.8"/><circle cx="440.9" cy="216.3" r="3.8"/><circle cx="414.2" cy="181.3" r="3.8"/><circle cx="404.0" cy="202.6" r="3.8"/><circle cx="518.5" cy="148.7" r="3.8"/><circle cx="457.1" cy="203.1" r="3.8"/><circle cx="351.1" cy="179.5" r="3.8"/><circle cx="641.3" cy="181.9" r="3.8"/><circle cx="425.5" cy="215.5" r="3.8"/><circle cx="392.1" cy="200.6" r="3.8"/><circle cx="461.4" cy="232.3" r="3.8"/><circle cx="610.0" cy="206.4" r="3.8"/><circle cx="265.6" cy="196.0" r="3.8"/><circle cx="799.0" cy="211.7" r="3.8"/><circle cx="463.9" cy="210.1" r="3.8"/><circle cx="456.3" cy="244.2" r="3.8"/><circle cx="536.9" cy="178.2" r="3.8"/><circle cx="479.5" cy="245.1" r="3.8"/><circle cx="509.2" cy="211.2" r="3.8"/><circle cx="638.1" cy="194.2" r="3.8"/><circle cx="501.5" cy="243.9" r="3.8"/><circle cx="550.4" cy="246.6" r="3.8"/><circle cx="710.4" cy="186.1" r="3.8"/><circle cx="754.3" cy="208.9" r="3.8"/><circle cx="378.8" cy="200.5" r="3.8"/><circle cx="449.1" cy="229.2" r="3.8"/><circle cx="408.4" cy="201.6" r="3.8"/><circle cx="381.8" cy="209.2" r="3.8"/><circle cx="582.2" cy="194.6" r="3.8"/><circle cx="534.1" cy="276.6" r="3.8"/><circle cx="411.7" cy="171.7" r="3.8"/><circle cx="379.8" cy="174.9" r="3.8"/><circle cx="472.1" cy="202.6" r="3.8"/><circle cx="584.3" cy="233.7" r="3.8"/><circle cx="537.0" cy="239.4" r="3.8"/><circle cx="672.3" cy="193.5" r="3.8"/><circle cx="476.2" cy="160.6" r="3.8"/><circle cx="556.9" cy="198.0" r="3.8"/><circle cx="584.5" cy="241.7" r="3.8"/><circle cx="636.6" cy="231.1" r="3.8"/><circle cx="806.1" cy="218.2" r="3.8"/><circle cx="401.7" cy="206.5" r="3.8"/><circle cx="576.0" cy="240.5" r="3.8"/><circle cx="610.1" cy="209.1" r="3.8"/><circle cx="467.9" cy="185.3" r="3.8"/><circle cx="540.2" cy="237.3" r="3.8"/><circle cx="526.3" cy="207.9" r="3.8"/><circle cx="583.3" cy="187.9" r="3.8"/><circle cx="516.0" cy="257.6" r="3.8"/><circle cx="574.2" cy="225.0" r="3.8"/><circle cx="427.4" cy="150.7" r="3.8"/><circle cx="664.0" cy="170.9" r="3.8"/><circle cx="444.2" cy="187.7" r="3.8"/><circle cx="626.9" cy="185.9" r="3.8"/><circle cx="383.8" cy="190.3" r="3.8"/><circle cx="617.7" cy="198.3" r="3.8"/><circle cx="546.7" cy="177.9" r="3.8"/><circle cx="590.6" cy="245.7" r="3.8"/><circle cx="587.1" cy="197.0" r="3.8"/><circle cx="595.7" cy="188.5" r="3.8"/><circle cx="673.9" cy="179.8" r="3.8"/><circle cx="495.6" cy="210.9" r="3.8"/><circle cx="619.4" cy="214.2" r="3.8"/><circle cx="656.3" cy="191.7" r="3.8"/><circle cx="540.9" cy="229.6" r="3.8"/><circle cx="619.5" cy="217.8" r="3.8"/><circle cx="444.2" cy="217.1" r="3.8"/><circle cx="294.5" cy="222.3" r="3.8"/><circle cx="505.9" cy="199.6" r="3.8"/><circle cx="652.4" cy="192.7" r="3.8"/><circle cx="630.1" cy="190.7" r="3.8"/><circle cx="711.2" cy="235.8" r="3.8"/><circle cx="738.7" cy="225.9" r="3.8"/><circle cx="677.1" cy="207.4" r="3.8"/><circle cx="561.6" cy="185.7" r="3.8"/><circle cx="278.5" cy="223.6" r="3.8"/><circle cx="412.6" cy="198.1" r="3.8"/><circle cx="724.8" cy="210.6" r="3.8"/><circle cx="650.8" cy="213.3" r="3.8"/><circle cx="594.2" cy="204.3" r="3.8"/><circle cx="313.6" cy="171.7" r="3.8"/><circle cx="360.4" cy="219.7" r="3.8"/><circle cx="504.2" cy="205.4" r="3.8"/><circle cx="344.7" cy="195.9" r="3.8"/><circle cx="353.0" cy="216.0" r="3.8"/><circle cx="682.6" cy="206.4" r="3.8"/><circle cx="582.1" cy="224.5" r="3.8"/><circle cx="494.4" cy="180.8" r="3.8"/><circle cx="508.3" cy="236.5" r="3.8"/><circle cx="597.3" cy="184.5" r="3.8"/><circle cx="835.5" cy="211.9" r="3.8"/><circle cx="542.5" cy="230.2" r="3.8"/><circle cx="343.2" cy="235.0" r="3.8"/><circle cx="670.1" cy="225.8" r="3.8"/><circle cx="627.1" cy="192.7" r="3.8"/><circle cx="378.5" cy="181.9" r="3.8"/><circle cx="548.8" cy="244.7" r="3.8"/><circle cx="379.1" cy="187.8" r="3.8"/><circle cx="685.8" cy="192.5" r="3.8"/><circle cx="629.1" cy="147.0" r="3.8"/><circle cx="489.5" cy="180.4" r="3.8"/><circle cx="474.7" cy="200.3" r="3.8"/><circle cx="544.8" cy="232.0" r="3.8"/><circle cx="593.6" cy="224.1" r="3.8"/><circle cx="634.6" cy="222.5" r="3.8"/><circle cx="829.4" cy="189.3" r="3.8"/><circle cx="636.4" cy="203.5" r="3.8"/><circle cx="704.9" cy="194.4" r="3.8"/><circle cx="480.0" cy="190.0" r="3.8"/><circle cx="583.4" cy="203.0" r="3.8"/><circle cx="591.8" cy="182.0" r="3.8"/><circle cx="718.2" cy="225.6" r="3.8"/><circle cx="400.9" cy="210.1" r="3.8"/><circle cx="532.8" cy="213.5" r="3.8"/><circle cx="645.7" cy="173.8" r="3.8"/><circle cx="505.8" cy="189.7" r="3.8"/><circle cx="782.4" cy="202.5" r="3.8"/><circle cx="583.1" cy="198.1" r="3.8"/><circle cx="505.0" cy="235.9" r="3.8"/><circle cx="332.4" cy="212.8" r="3.8"/><circle cx="615.2" cy="221.9" r="3.8"/><circle cx="675.5" cy="182.9" r="3.8"/><circle cx="512.2" cy="202.5" r="3.8"/><circle cx="626.0" cy="221.0" r="3.8"/><circle cx="458.4" cy="150.3" r="3.8"/><circle cx="585.9" cy="250.1" r="3.8"/><circle cx="462.6" cy="175.0" r="3.8"/><circle cx="620.2" cy="213.0" r="3.8"/><circle cx="293.1" cy="233.2" r="3.8"/><circle cx="434.5" cy="201.1" r="3.8"/><circle cx="639.3" cy="195.1" r="3.8"/><circle cx="656.1" cy="169.3" r="3.8"/><circle cx="515.3" cy="219.0" r="3.8"/><circle cx="496.4" cy="228.5" r="3.8"/><circle cx="545.8" cy="219.7" r="3.8"/><circle cx="605.6" cy="234.1" r="3.8"/><circle cx="509.9" cy="218.7" r="3.8"/><circle cx="584.2" cy="270.1" r="3.8"/><circle cx="279.2" cy="195.5" r="3.8"/><circle cx="346.9" cy="240.9" r="3.8"/><circle cx="445.2" cy="167.6" r="3.8"/><circle cx="781.7" cy="208.8" r="3.8"/><circle cx="428.5" cy="195.3" r="3.8"/><circle cx="676.4" cy="202.6" r="3.8"/><circle cx="549.2" cy="212.5" r="3.8"/><circle cx="702.9" cy="206.0" r="3.8"/><circle cx="684.9" cy="208.2" r="3.8"/><circle cx="508.3" cy="208.1" r="3.8"/><circle cx="489.4" cy="219.6" r="3.8"/><circle cx="470.4" cy="200.6" r="3.8"/><circle cx="511.3" cy="214.2" r="3.8"/><circle cx="418.3" cy="209.7" r="3.8"/><circle cx="555.4" cy="229.3" r="3.8"/><circle cx="523.7" cy="206.2" r="3.8"/><circle cx="658.3" cy="170.5" r="3.8"/><circle cx="646.4" cy="210.7" r="3.8"/><circle cx="334.6" cy="232.4" r="3.8"/><circle cx="400.0" cy="220.1" r="3.8"/><circle cx="634.6" cy="213.7" r="3.8"/><circle cx="379.8" cy="215.8" r="3.8"/><circle cx="616.4" cy="235.7" r="3.8"/><circle cx="587.3" cy="218.8" r="3.8"/><circle cx="616.9" cy="249.0" r="3.8"/><circle cx="570.0" cy="176.8" r="3.8"/><circle cx="532.4" cy="205.8" r="3.8"/><circle cx="587.7" cy="176.8" r="3.8"/><circle cx="698.2" cy="225.3" r="3.8"/><circle cx="327.1" cy="231.3" r="3.8"/><circle cx="414.0" cy="170.7" r="3.8"/><circle cx="760.5" cy="188.0" r="3.8"/><circle cx="465.1" cy="189.4" r="3.8"/><circle cx="454.7" cy="211.1" r="3.8"/><circle cx="617.8" cy="220.9" r="3.8"/><circle cx="580.5" cy="181.2" r="3.8"/><circle cx="676.3" cy="249.5" r="3.8"/><circle cx="459.8" cy="217.4" r="3.8"/><circle cx="714.4" cy="240.0" r="3.8"/><circle cx="676.6" cy="186.5" r="3.8"/><circle cx="501.4" cy="210.2" r="3.8"/><circle cx="551.0" cy="218.8" r="3.8"/><circle cx="489.2" cy="217.6" r="3.8"/><circle cx="619.1" cy="211.7" r="3.8"/><circle cx="456.8" cy="161.9" r="3.8"/><circle cx="657.7" cy="203.0" r="3.8"/><circle cx="605.9" cy="229.7" r="3.8"/><circle cx="726.9" cy="197.3" r="3.8"/><circle cx="648.5" cy="208.7" r="3.8"/><circle cx="617.0" cy="212.6" r="3.8"/><circle cx="752.2" cy="189.8" r="3.8"/><circle cx="634.4" cy="220.9" r="3.8"/><circle cx="785.0" cy="224.3" r="3.8"/><circle cx="598.9" cy="250.4" r="3.8"/><circle cx="473.3" cy="226.5" r="3.8"/><circle cx="449.9" cy="253.5" r="3.8"/><circle cx="572.6" cy="273.0" r="3.8"/><circle cx="392.4" cy="223.1" r="3.8"/><circle cx="682.0" cy="251.3" r="3.8"/><circle cx="556.8" cy="231.2" r="3.8"/><circle cx="663.8" cy="206.1" r="3.8"/><circle cx="473.5" cy="212.9" r="3.8"/><circle cx="591.6" cy="174.8" r="3.8"/><circle cx="308.2" cy="172.0" r="3.8"/><circle cx="585.2" cy="193.0" r="3.8"/><circle cx="528.7" cy="228.6" r="3.8"/><circle cx="708.6" cy="179.4" r="3.8"/><circle cx="514.9" cy="199.0" r="3.8"/><circle cx="565.3" cy="245.0" r="3.8"/><circle cx="648.6" cy="192.7" r="3.8"/><circle cx="503.2" cy="222.8" r="3.8"/><circle cx="580.9" cy="241.1" r="3.8"/><circle cx="493.7" cy="259.5" r="3.8"/><circle cx="803.8" cy="188.2" r="3.8"/><circle cx="442.8" cy="216.9" r="3.8"/><circle cx="437.8" cy="247.3" r="3.8"/><circle cx="739.1" cy="181.0" r="3.8"/><circle cx="656.1" cy="208.9" r="3.8"/><circle cx="465.9" cy="205.6" r="3.8"/><circle cx="651.7" cy="210.0" r="3.8"/><circle cx="464.4" cy="169.9" r="3.8"/><circle cx="535.1" cy="204.8" r="3.8"/><circle cx="564.4" cy="191.0" r="3.8"/><circle cx="726.8" cy="221.2" r="3.8"/><circle cx="483.7" cy="220.5" r="3.8"/><circle cx="504.4" cy="273.4" r="3.8"/><circle cx="458.9" cy="204.0" r="3.8"/><circle cx="216.7" cy="216.0" r="3.8"/><circle cx="365.6" cy="187.8" r="3.8"/><circle cx="585.3" cy="197.8" r="3.8"/><circle cx="560.7" cy="224.6" r="3.8"/><circle cx="686.5" cy="177.3" r="3.8"/><circle cx="666.7" cy="175.4" r="3.8"/><circle cx="619.5" cy="162.0" r="3.8"/><circle cx="253.7" cy="191.3" r="3.8"/><circle cx="370.1" cy="179.6" r="3.8"/><circle cx="437.4" cy="191.8" r="3.8"/><circle cx="603.3" cy="210.7" r="3.8"/><circle cx="356.4" cy="227.0" r="3.8"/><circle cx="455.5" cy="179.1" r="3.8"/><circle cx="365.6" cy="194.0" r="3.8"/><circle cx="408.8" cy="231.5" r="3.8"/><circle cx="550.6" cy="229.7" r="3.8"/><circle cx="565.3" cy="227.4" r="3.8"/><circle cx="472.5" cy="244.7" r="3.8"/><circle cx="733.9" cy="193.5" r="3.8"/><circle cx="793.6" cy="200.8" r="3.8"/><circle cx="697.6" cy="172.7" r="3.8"/><circle cx="537.7" cy="199.0" r="3.8"/><circle cx="552.1" cy="224.6" r="3.8"/><circle cx="546.8" cy="276.1" r="3.8"/><circle cx="473.1" cy="254.1" r="3.8"/><circle cx="401.6" cy="231.7" r="3.8"/><circle cx="503.8" cy="197.9" r="3.8"/><circle cx="583.9" cy="226.3" r="3.8"/><circle cx="690.5" cy="201.2" r="3.8"/><circle cx="550.3" cy="202.7" r="3.8"/><circle cx="408.7" cy="259.6" r="3.8"/><circle cx="523.1" cy="217.1" r="3.8"/><circle cx="437.9" cy="242.5" r="3.8"/><circle cx="280.2" cy="237.4" r="3.8"/><circle cx="417.4" cy="217.2" r="3.8"/><circle cx="678.7" cy="204.1" r="3.8"/><circle cx="565.1" cy="237.1" r="3.8"/><circle cx="389.0" cy="216.8" r="3.8"/><circle cx="599.7" cy="214.8" r="3.8"/><circle cx="740.9" cy="194.5" r="3.8"/><circle cx="620.5" cy="197.4" r="3.8"/><circle cx="438.3" cy="235.3" r="3.8"/><circle cx="503.2" cy="250.1" r="3.8"/><circle cx="519.9" cy="224.1" r="3.8"/><circle cx="450.3" cy="232.4" r="3.8"/><circle cx="570.4" cy="177.7" r="3.8"/><circle cx="644.1" cy="236.6" r="3.8"/><circle cx="517.3" cy="213.4" r="3.8"/><circle cx="281.3" cy="191.3" r="3.8"/><circle cx="442.2" cy="206.9" r="3.8"/><circle cx="549.9" cy="225.9" r="3.8"/><circle cx="703.5" cy="234.3" r="3.8"/><circle cx="776.9" cy="191.0" r="3.8"/><circle cx="436.4" cy="227.1" r="3.8"/><circle cx="442.6" cy="196.9" r="3.8"/><circle cx="478.4" cy="219.7" r="3.8"/><circle cx="479.0" cy="234.0" r="3.8"/><circle cx="492.2" cy="217.1" r="3.8"/><circle cx="474.8" cy="223.0" r="3.8"/><circle cx="693.1" cy="199.4" r="3.8"/><circle cx="446.9" cy="192.4" r="3.8"/><circle cx="531.1" cy="174.1" r="3.8"/><circle cx="552.2" cy="239.4" r="3.8"/><circle cx="556.0" cy="254.1" r="3.8"/><circle cx="494.5" cy="194.9" r="3.8"/><circle cx="343.3" cy="185.1" r="3.8"/><circle cx="579.8" cy="201.9" r="3.8"/><circle cx="359.9" cy="194.1" r="3.8"/><circle cx="561.7" cy="185.1" r="3.8"/><circle cx="582.1" cy="224.2" r="3.8"/><circle cx="666.4" cy="223.5" r="3.8"/><circle cx="626.3" cy="198.6" r="3.8"/><circle cx="568.6" cy="271.4" r="3.8"/><circle cx="759.7" cy="182.1" r="3.8"/><circle cx="355.1" cy="221.1" r="3.8"/><circle cx="505.7" cy="195.7" r="3.8"/><circle cx="239.4" cy="185.9" r="3.8"/><circle cx="427.8" cy="248.2" r="3.8"/><circle cx="615.5" cy="258.1" r="3.8"/><circle cx="606.2" cy="241.2" r="3.8"/><circle cx="394.4" cy="220.0" r="3.8"/><circle cx="396.4" cy="212.9" r="3.8"/><circle cx="466.9" cy="219.8" r="3.8"/><circle cx="573.1" cy="219.5" r="3.8"/><circle cx="647.3" cy="155.7" r="3.8"/><circle cx="445.9" cy="223.6" r="3.8"/><circle cx="646.2" cy="183.0" r="3.8"/><circle cx="579.9" cy="196.9" r="3.8"/><circle cx="612.6" cy="166.9" r="3.8"/><circle cx="786.0" cy="197.2" r="3.8"/><circle cx="663.8" cy="246.6" r="3.8"/><circle cx="443.3" cy="187.0" r="3.8"/><circle cx="342.5" cy="225.8" r="3.8"/><circle cx="588.6" cy="203.5" r="3.8"/><circle cx="572.4" cy="182.5" r="3.8"/><circle cx="677.1" cy="243.0" r="3.8"/><circle cx="463.1" cy="196.4" r="3.8"/><circle cx="820.3" cy="212.1" r="3.8"/><circle cx="609.7" cy="196.5" r="3.8"/><circle cx="604.5" cy="206.9" r="3.8"/><circle cx="722.4" cy="197.7" r="3.8"/><circle cx="706.7" cy="180.9" r="3.8"/><circle cx="538.6" cy="208.9" r="3.8"/><circle cx="817.3" cy="187.3" r="3.8"/><circle cx="686.3" cy="185.3" r="3.8"/><circle cx="601.9" cy="189.7" r="3.8"/><circle cx="448.7" cy="186.9" r="3.8"/><circle cx="390.9" cy="202.2" r="3.8"/><circle cx="444.5" cy="209.3" r="3.8"/><circle cx="706.8" cy="205.2" r="3.8"/><circle cx="621.0" cy="203.1" r="3.8"/><circle cx="295.4" cy="175.5" r="3.8"/><circle cx="542.1" cy="200.1" r="3.8"/><circle cx="651.1" cy="203.4" r="3.8"/><circle cx="244.4" cy="241.6" r="3.8"/><circle cx="442.0" cy="187.0" r="3.8"/><circle cx="337.5" cy="203.8" r="3.8"/><circle cx="791.9" cy="183.9" r="3.8"/><circle cx="496.6" cy="201.1" r="3.8"/><circle cx="808.6" cy="192.0" r="3.8"/><circle cx="497.0" cy="193.7" r="3.8"/><circle cx="498.4" cy="202.2" r="3.8"/><circle cx="541.6" cy="178.8" r="3.8"/><circle cx="566.6" cy="211.7" r="3.8"/><circle cx="527.3" cy="176.6" r="3.8"/><circle cx="713.5" cy="183.5" r="3.8"/><circle cx="311.3" cy="221.0" r="3.8"/><circle cx="308.5" cy="256.6" r="3.8"/><circle cx="405.3" cy="188.0" r="3.8"/><circle cx="508.7" cy="207.0" r="3.8"/><circle cx="563.1" cy="181.3" r="3.8"/><circle cx="678.6" cy="186.5" r="3.8"/><circle cx="587.9" cy="217.0" r="3.8"/><circle cx="570.5" cy="197.8" r="3.8"/><circle cx="592.7" cy="230.9" r="3.8"/><circle cx="477.7" cy="225.7" r="3.8"/><circle cx="563.0" cy="220.6" r="3.8"/><circle cx="630.4" cy="195.9" r="3.8"/><circle cx="376.4" cy="189.8" r="3.8"/><circle cx="684.9" cy="166.4" r="3.8"/><circle cx="256.6" cy="199.9" r="3.8"/><circle cx="305.4" cy="222.5" r="3.8"/><circle cx="668.6" cy="222.7" r="3.8"/><circle cx="318.8" cy="223.0" r="3.8"/><circle cx="416.8" cy="256.7" r="3.8"/><circle cx="622.9" cy="207.9" r="3.8"/><circle cx="798.1" cy="187.0" r="3.8"/><circle cx="521.6" cy="261.2" r="3.8"/><circle cx="640.8" cy="212.3" r="3.8"/><circle cx="228.6" cy="212.8" r="3.8"/><circle cx="701.6" cy="199.9" r="3.8"/><circle cx="591.0" cy="229.5" r="3.8"/><circle cx="436.7" cy="218.1" r="3.8"/><circle cx="385.7" cy="228.5" r="3.8"/><circle cx="685.1" cy="191.7" r="3.8"/><circle cx="515.7" cy="190.6" r="3.8"/><circle cx="643.5" cy="223.2" r="3.8"/><circle cx="695.1" cy="201.3" r="3.8"/><circle cx="759.3" cy="233.5" r="3.8"/><circle cx="575.7" cy="155.1" r="3.8"/><circle cx="553.2" cy="191.4" r="3.8"/><circle cx="377.9" cy="176.1" r="3.8"/><circle cx="367.0" cy="208.3" r="3.8"/><circle cx="363.5" cy="187.3" r="3.8"/><circle cx="341.8" cy="210.4" r="3.8"/><circle cx="523.6" cy="247.8" r="3.8"/><circle cx="277.1" cy="160.6" r="3.8"/><circle cx="574.9" cy="162.3" r="3.8"/><circle cx="751.6" cy="227.6" r="3.8"/><circle cx="517.8" cy="218.0" r="3.8"/><circle cx="475.6" cy="226.4" r="3.8"/><circle cx="328.8" cy="186.6" r="3.8"/><circle cx="468.7" cy="206.8" r="3.8"/><circle cx="428.2" cy="205.4" r="3.8"/><circle cx="513.4" cy="172.7" r="3.8"/><circle cx="464.3" cy="223.7" r="3.8"/><circle cx="474.4" cy="197.0" r="3.8"/><circle cx="625.3" cy="160.9" r="3.8"/><circle cx="662.1" cy="177.1" r="3.8"/><circle cx="541.0" cy="229.3" r="3.8"/><circle cx="513.9" cy="212.1" r="3.8"/><circle cx="580.8" cy="180.9" r="3.8"/><circle cx="439.9" cy="203.1" r="3.8"/><circle cx="530.9" cy="181.2" r="3.8"/><circle cx="503.4" cy="222.9" r="3.8"/><circle cx="632.9" cy="189.7" r="3.8"/><circle cx="668.8" cy="229.4" r="3.8"/><circle cx="535.4" cy="201.2" r="3.8"/><circle cx="662.2" cy="195.8" r="3.8"/><circle cx="639.9" cy="221.7" r="3.8"/><circle cx="618.1" cy="154.0" r="3.8"/><circle cx="624.5" cy="166.3" r="3.8"/><circle cx="421.5" cy="178.4" r="3.8"/><circle cx="471.9" cy="243.8" r="3.8"/><circle cx="550.2" cy="196.2" r="3.8"/><circle cx="392.6" cy="191.2" r="3.8"/><circle cx="522.3" cy="268.7" r="3.8"/><circle cx="466.7" cy="217.2" r="3.8"/><circle cx="597.6" cy="175.6" r="3.8"/><circle cx="631.1" cy="175.4" r="3.8"/><circle cx="221.0" cy="239.1" r="3.8"/><circle cx="518.9" cy="208.2" r="3.8"/><circle cx="510.7" cy="170.6" r="3.8"/><circle cx="473.3" cy="198.9" r="3.8"/><circle cx="396.5" cy="208.8" r="3.8"/><circle cx="578.5" cy="160.2" r="3.8"/><circle cx="543.4" cy="213.4" r="3.8"/><circle cx="557.2" cy="199.4" r="3.8"/><circle cx="612.6" cy="246.3" r="3.8"/><circle cx="577.2" cy="216.1" r="3.8"/><circle cx="632.0" cy="218.1" r="3.8"/><circle cx="664.4" cy="223.2" r="3.8"/><circle cx="557.4" cy="165.3" r="3.8"/><circle cx="723.5" cy="224.6" r="3.8"/><circle cx="434.8" cy="228.9" r="3.8"/><circle cx="431.0" cy="187.6" r="3.8"/><circle cx="501.7" cy="190.8" r="3.8"/><circle cx="495.3" cy="222.9" r="3.8"/><circle cx="357.2" cy="243.0" r="3.8"/><circle cx="358.7" cy="205.7" r="3.8"/><circle cx="714.1" cy="182.1" r="3.8"/><circle cx="421.8" cy="197.2" r="3.8"/><circle cx="531.0" cy="194.3" r="3.8"/><circle cx="545.4" cy="194.4" r="3.8"/><circle cx="381.8" cy="196.3" r="3.8"/><circle cx="345.8" cy="177.1" r="3.8"/><circle cx="514.3" cy="191.2" r="3.8"/><circle cx="555.1" cy="225.0" r="3.8"/><circle cx="406.8" cy="179.5" r="3.8"/><circle cx="637.6" cy="172.9" r="3.8"/><circle cx="507.1" cy="169.3" r="3.8"/><circle cx="709.6" cy="201.3" r="3.8"/><circle cx="511.2" cy="222.9" r="3.8"/><circle cx="479.5" cy="178.3" r="3.8"/><circle cx="518.7" cy="201.1" r="3.8"/><circle cx="537.2" cy="197.5" r="3.8"/><circle cx="677.4" cy="208.0" r="3.8"/><circle cx="363.4" cy="213.1" r="3.8"/><circle cx="499.6" cy="168.1" r="3.8"/><circle cx="509.7" cy="230.5" r="3.8"/><circle cx="657.0" cy="158.5" r="3.8"/><circle cx="477.4" cy="181.3" r="3.8"/><circle cx="575.5" cy="224.3" r="3.8"/><circle cx="522.6" cy="221.3" r="3.8"/><circle cx="647.4" cy="214.7" r="3.8"/><circle cx="514.8" cy="178.5" r="3.8"/><circle cx="555.6" cy="214.2" r="3.8"/><circle cx="721.6" cy="199.3" r="3.8"/><circle cx="635.8" cy="276.8" r="3.8"/><circle cx="532.5" cy="197.3" r="3.8"/><circle cx="803.4" cy="189.9" r="3.8"/><circle cx="596.0" cy="210.8" r="3.8"/><circle cx="450.4" cy="205.0" r="3.8"/><circle cx="612.9" cy="192.9" r="3.8"/><circle cx="541.1" cy="226.7" r="3.8"/><circle cx="795.4" cy="187.2" r="3.8"/><circle cx="450.4" cy="192.7" r="3.8"/><circle cx="576.8" cy="165.1" r="3.8"/><circle cx="449.0" cy="210.4" r="3.8"/><circle cx="637.0" cy="228.0" r="3.8"/><circle cx="305.9" cy="243.3" r="3.8"/><circle cx="541.7" cy="211.9" r="3.8"/><circle cx="540.4" cy="230.3" r="3.8"/><circle cx="609.9" cy="218.5" r="3.8"/><circle cx="609.9" cy="261.1" r="3.8"/><circle cx="400.1" cy="217.4" r="3.8"/><circle cx="521.5" cy="188.2" r="3.8"/><circle cx="669.0" cy="210.0" r="3.8"/><circle cx="454.3" cy="178.0" r="3.8"/><circle cx="613.7" cy="202.1" r="3.8"/><circle cx="422.6" cy="218.0" r="3.8"/><circle cx="346.3" cy="192.8" r="3.8"/><circle cx="599.9" cy="234.3" r="3.8"/><circle cx="528.7" cy="187.2" r="3.8"/><circle cx="589.6" cy="218.9" r="3.8"/><circle cx="404.4" cy="197.9" r="3.8"/><circle cx="444.5" cy="239.1" r="3.8"/><circle cx="641.4" cy="177.1" r="3.8"/><circle cx="568.4" cy="252.1" r="3.8"/><circle cx="413.1" cy="195.5" r="3.8"/><circle cx="719.9" cy="212.1" r="3.8"/><circle cx="706.3" cy="217.4" r="3.8"/><circle cx="520.9" cy="222.1" r="3.8"/><circle cx="448.9" cy="212.3" r="3.8"/><circle cx="708.6" cy="212.0" r="3.8"/><circle cx="563.7" cy="224.9" r="3.8"/><circle cx="359.4" cy="202.1" r="3.8"/><circle cx="594.0" cy="147.7" r="3.8"/><circle cx="445.7" cy="215.1" r="3.8"/><circle cx="339.8" cy="185.2" r="3.8"/><circle cx="661.7" cy="174.6" r="3.8"/><circle cx="467.6" cy="211.9" r="3.8"/><circle cx="521.1" cy="207.5" r="3.8"/><circle cx="619.1" cy="214.6" r="3.8"/><circle cx="512.5" cy="256.9" r="3.8"/><circle cx="640.0" cy="173.6" r="3.8"/><circle cx="428.5" cy="219.5" r="3.8"/><circle cx="535.4" cy="197.7" r="3.8"/><circle cx="403.8" cy="242.1" r="3.8"/><circle cx="573.1" cy="249.0" r="3.8"/><circle cx="408.9" cy="226.3" r="3.8"/><circle cx="545.2" cy="192.8" r="3.8"/><circle cx="592.4" cy="217.8" r="3.8"/><circle cx="468.5" cy="170.6" r="3.8"/><circle cx="672.6" cy="178.0" r="3.8"/><circle cx="822.2" cy="171.8" r="3.8"/><circle cx="553.8" cy="167.8" r="3.8"/><circle cx="446.9" cy="201.2" r="3.8"/><circle cx="590.7" cy="176.0" r="3.8"/><circle cx="483.7" cy="212.6" r="3.8"/><circle cx="781.1" cy="212.3" r="3.8"/><circle cx="614.6" cy="244.5" r="3.8"/><circle cx="669.4" cy="201.8" r="3.8"/><circle cx="602.7" cy="244.6" r="3.8"/><circle cx="638.8" cy="237.0" r="3.8"/><circle cx="521.2" cy="205.3" r="3.8"/><circle cx="729.0" cy="207.5" r="3.8"/><circle cx="601.6" cy="275.7" r="3.8"/><circle cx="720.5" cy="180.1" r="3.8"/><circle cx="369.5" cy="205.8" r="3.8"/><circle cx="263.0" cy="227.6" r="3.8"/><circle cx="513.4" cy="211.4" r="3.8"/><circle cx="598.3" cy="230.4" r="3.8"/><circle cx="553.4" cy="164.9" r="3.8"/><circle cx="614.7" cy="238.4" r="3.8"/><circle cx="533.1" cy="205.0" r="3.8"/><circle cx="640.7" cy="231.3" r="3.8"/><circle cx="657.3" cy="176.8" r="3.8"/><circle cx="579.8" cy="211.1" r="3.8"/><circle cx="470.1" cy="208.9" r="3.8"/><circle cx="615.6" cy="211.3" r="3.8"/><circle cx="649.9" cy="215.9" r="3.8"/><circle cx="597.3" cy="227.6" r="3.8"/><circle cx="404.5" cy="194.4" r="3.8"/><circle cx="684.0" cy="217.5" r="3.8"/><circle cx="357.6" cy="170.4" r="3.8"/><circle cx="711.8" cy="183.7" r="3.8"/><circle cx="547.5" cy="206.2" r="3.8"/><circle cx="462.1" cy="233.6" r="3.8"/><circle cx="583.5" cy="212.7" r="3.8"/><circle cx="643.2" cy="209.7" r="3.8"/><circle cx="588.1" cy="180.8" r="3.8"/><circle cx="467.3" cy="238.2" r="3.8"/><circle cx="499.4" cy="196.0" r="3.8"/><circle cx="468.0" cy="236.0" r="3.8"/><circle cx="460.8" cy="233.0" r="3.8"/><circle cx="602.2" cy="202.0" r="3.8"/><circle cx="643.4" cy="197.4" r="3.8"/><circle cx="286.7" cy="221.6" r="3.8"/><circle cx="621.9" cy="232.2" r="3.8"/><circle cx="749.5" cy="197.6" r="3.8"/><circle cx="469.8" cy="240.1" r="3.8"/><circle cx="560.4" cy="212.1" r="3.8"/><circle cx="480.9" cy="205.7" r="3.8"/><circle cx="374.0" cy="222.9" r="3.8"/><circle cx="834.7" cy="175.5" r="3.8"/><circle cx="465.2" cy="217.0" r="3.8"/><circle cx="553.6" cy="225.1" r="3.8"/><circle cx="503.4" cy="216.4" r="3.8"/><circle cx="419.3" cy="189.3" r="3.8"/><circle cx="595.8" cy="222.9" r="3.8"/><circle cx="703.6" cy="186.3" r="3.8"/><circle cx="662.5" cy="254.9" r="3.8"/><circle cx="500.1" cy="182.0" r="3.8"/><circle cx="679.9" cy="185.0" r="3.8"/><circle cx="819.6" cy="217.1" r="3.8"/><circle cx="287.8" cy="188.5" r="3.8"/><circle cx="357.7" cy="241.4" r="3.8"/><circle cx="358.5" cy="179.3" r="3.8"/><circle cx="579.1" cy="216.1" r="3.8"/><circle cx="281.3" cy="229.6" r="3.8"/><circle cx="549.0" cy="227.5" r="3.8"/><circle cx="471.6" cy="237.7" r="3.8"/><circle cx="457.0" cy="212.7" r="3.8"/><circle cx="376.1" cy="257.9" r="3.8"/><circle cx="354.2" cy="191.9" r="3.8"/><circle cx="454.8" cy="166.2" r="3.8"/><circle cx="329.1" cy="230.0" r="3.8"/><circle cx="677.0" cy="190.0" r="3.8"/><circle cx="676.7" cy="210.0" r="3.8"/><circle cx="482.3" cy="197.2" r="3.8"/><circle cx="517.2" cy="220.7" r="3.8"/><circle cx="518.6" cy="204.9" r="3.8"/><circle cx="568.7" cy="215.0" r="3.8"/><circle cx="625.6" cy="202.7" r="3.8"/><circle cx="624.9" cy="194.5" r="3.8"/><circle cx="422.0" cy="208.8" r="3.8"/><circle cx="499.6" cy="241.8" r="3.8"/><circle cx="590.1" cy="212.2" r="3.8"/><circle cx="442.5" cy="202.5" r="3.8"/><circle cx="649.7" cy="266.4" r="3.8"/><circle cx="594.7" cy="181.3" r="3.8"/><circle cx="593.5" cy="190.7" r="3.8"/><circle cx="471.9" cy="238.0" r="3.8"/><circle cx="294.5" cy="228.4" r="3.8"/><circle cx="527.8" cy="252.4" r="3.8"/><circle cx="737.6" cy="232.0" r="3.8"/><circle cx="572.0" cy="223.6" r="3.8"/><circle cx="584.1" cy="177.1" r="3.8"/><circle cx="561.7" cy="207.9" r="3.8"/><circle cx="559.7" cy="216.0" r="3.8"/><circle cx="616.4" cy="215.4" r="3.8"/><circle cx="500.4" cy="184.6" r="3.8"/><circle cx="400.5" cy="215.2" r="3.8"/><circle cx="544.1" cy="202.2" r="3.8"/><circle cx="658.4" cy="183.2" r="3.8"/><circle cx="388.4" cy="215.5" r="3.8"/><circle cx="721.4" cy="195.8" r="3.8"/><circle cx="469.0" cy="263.3" r="3.8"/><circle cx="576.4" cy="243.8" r="3.8"/><circle cx="481.6" cy="190.8" r="3.8"/><circle cx="673.3" cy="225.8" r="3.8"/><circle cx="594.5" cy="188.7" r="3.8"/><circle cx="587.0" cy="212.2" r="3.8"/><circle cx="576.0" cy="221.4" r="3.8"/><circle cx="558.8" cy="193.0" r="3.8"/><circle cx="457.4" cy="192.4" r="3.8"/><circle cx="624.1" cy="157.9" r="3.8"/><circle cx="460.6" cy="239.5" r="3.8"/><circle cx="471.2" cy="223.3" r="3.8"/><circle cx="521.7" cy="178.2" r="3.8"/><circle cx="717.4" cy="199.1" r="3.8"/><circle cx="579.0" cy="210.0" r="3.8"/><circle cx="573.7" cy="245.3" r="3.8"/><circle cx="607.2" cy="181.8" r="3.8"/><circle cx="698.9" cy="208.1" r="3.8"/><circle cx="607.3" cy="198.8" r="3.8"/><circle cx="612.9" cy="223.3" r="3.8"/><circle cx="487.7" cy="218.7" r="3.8"/><circle cx="617.4" cy="220.0" r="3.8"/><circle cx="598.7" cy="211.9" r="3.8"/><circle cx="548.4" cy="174.2" r="3.8"/><circle cx="595.6" cy="193.9" r="3.8"/><circle cx="516.7" cy="213.6" r="3.8"/><circle cx="292.6" cy="197.3" r="3.8"/><circle cx="384.0" cy="225.9" r="3.8"/><circle cx="749.0" cy="183.4" r="3.8"/><circle cx="679.4" cy="215.3" r="3.8"/><circle cx="389.1" cy="243.8" r="3.8"/><circle cx="482.5" cy="216.1" r="3.8"/><circle cx="491.0" cy="235.1" r="3.8"/><circle cx="626.0" cy="217.5" r="3.8"/><circle cx="498.8" cy="176.2" r="3.8"/><circle cx="618.9" cy="239.0" r="3.8"/><circle cx="571.8" cy="201.8" r="3.8"/><circle cx="420.8" cy="192.7" r="3.8"/><circle cx="592.1" cy="204.3" r="3.8"/><circle cx="341.4" cy="229.1" r="3.8"/><circle cx="546.3" cy="228.2" r="3.8"/><circle cx="341.1" cy="191.3" r="3.8"/><circle cx="771.0" cy="201.4" r="3.8"/><circle cx="687.7" cy="198.4" r="3.8"/><circle cx="692.9" cy="200.8" r="3.8"/><circle cx="808.9" cy="195.2" r="3.8"/><circle cx="448.9" cy="211.6" r="3.8"/><circle cx="394.3" cy="222.2" r="3.8"/><circle cx="341.4" cy="228.2" r="3.8"/><circle cx="337.4" cy="233.6" r="3.8"/><circle cx="640.0" cy="151.1" r="3.8"/><circle cx="334.2" cy="240.9" r="3.8"/><circle cx="587.5" cy="214.1" r="3.8"/><circle cx="413.1" cy="201.7" r="3.8"/><circle cx="752.3" cy="207.2" r="3.8"/><circle cx="660.7" cy="240.1" r="3.8"/><circle cx="490.1" cy="229.5" r="3.8"/><circle cx="668.9" cy="223.3" r="3.8"/><circle cx="430.9" cy="226.0" r="3.8"/><circle cx="594.1" cy="217.7" r="3.8"/><circle cx="551.3" cy="229.3" r="3.8"/><circle cx="661.3" cy="208.1" r="3.8"/><circle cx="448.4" cy="201.7" r="3.8"/><circle cx="523.6" cy="180.3" r="3.8"/><circle cx="501.1" cy="188.2" r="3.8"/><circle cx="514.3" cy="222.3" r="3.8"/><circle cx="503.9" cy="197.6" r="3.8"/><circle cx="500.7" cy="211.2" r="3.8"/><circle cx="656.8" cy="202.1" r="3.8"/><circle cx="389.8" cy="233.4" r="3.8"/><circle cx="436.4" cy="227.9" r="3.8"/><circle cx="558.3" cy="199.4" r="3.8"/><circle cx="633.8" cy="199.5" r="3.8"/><circle cx="679.6" cy="189.9" r="3.8"/><circle cx="686.1" cy="180.5" r="3.8"/><circle cx="637.1" cy="201.8" r="3.8"/><circle cx="613.6" cy="205.1" r="3.8"/><circle cx="448.6" cy="264.7" r="3.8"/><circle cx="435.9" cy="202.7" r="3.8"/><circle cx="485.9" cy="229.3" r="3.8"/><circle cx="345.3" cy="183.0" r="3.8"/><circle cx="543.5" cy="200.9" r="3.8"/><circle cx="712.5" cy="205.8" r="3.8"/><circle cx="622.1" cy="220.3" r="3.8"/><circle cx="459.5" cy="192.8" r="3.8"/><circle cx="246.7" cy="194.1" r="3.8"/><circle cx="657.2" cy="177.6" r="3.8"/><circle cx="594.0" cy="195.2" r="3.8"/><circle cx="736.1" cy="201.9" r="3.8"/><circle cx="833.2" cy="210.5" r="3.8"/><circle cx="464.0" cy="233.3" r="3.8"/><circle cx="604.0" cy="243.0" r="3.8"/><circle cx="497.4" cy="235.0" r="3.8"/><circle cx="412.1" cy="181.6" r="3.8"/><circle cx="453.8" cy="228.7" r="3.8"/><circle cx="320.0" cy="194.1" r="3.8"/><circle cx="551.4" cy="226.6" r="3.8"/><circle cx="692.0" cy="206.3" r="3.8"/><circle cx="631.6" cy="209.3" r="3.8"/><circle cx="746.6" cy="200.8" r="3.8"/><circle cx="574.5" cy="195.3" r="3.8"/><circle cx="398.2" cy="158.1" r="3.8"/><circle cx="501.6" cy="206.3" r="3.8"/><circle cx="504.4" cy="277.4" r="3.8"/><circle cx="562.4" cy="220.1" r="3.8"/><circle cx="728.9" cy="184.1" r="3.8"/><circle cx="670.3" cy="252.4" r="3.8"/><circle cx="508.4" cy="246.5" r="3.8"/><circle cx="555.5" cy="199.5" r="3.8"/><circle cx="485.0" cy="166.2" r="3.8"/><circle cx="577.4" cy="218.9" r="3.8"/><circle cx="550.8" cy="190.9" r="3.8"/><circle cx="347.5" cy="201.5" r="3.8"/><circle cx="538.9" cy="216.2" r="3.8"/><circle cx="780.8" cy="196.0" r="3.8"/><circle cx="496.9" cy="162.0" r="3.8"/><circle cx="648.8" cy="186.7" r="3.8"/><circle cx="653.8" cy="152.0" r="3.8"/><circle cx="656.6" cy="216.9" r="3.8"/><circle cx="696.4" cy="218.1" r="3.8"/><circle cx="712.2" cy="208.8" r="3.8"/><circle cx="480.4" cy="207.3" r="3.8"/><circle cx="500.0" cy="196.7" r="3.8"/><circle cx="365.0" cy="263.5" r="3.8"/><circle cx="592.7" cy="184.7" r="3.8"/><circle cx="627.9" cy="228.7" r="3.8"/><circle cx="490.0" cy="236.9" r="3.8"/><circle cx="644.4" cy="233.7" r="3.8"/><circle cx="506.5" cy="231.1" r="3.8"/><circle cx="589.8" cy="203.7" r="3.8"/><circle cx="321.8" cy="208.0" r="3.8"/><circle cx="628.4" cy="256.9" r="3.8"/><circle cx="662.6" cy="247.5" r="3.8"/><circle cx="794.0" cy="204.1" r="3.8"/><circle cx="622.1" cy="254.1" r="3.8"/><circle cx="625.3" cy="180.9" r="3.8"/><circle cx="463.2" cy="204.4" r="3.8"/><circle cx="538.8" cy="208.7" r="3.8"/><circle cx="659.4" cy="186.3" r="3.8"/><circle cx="530.7" cy="215.5" r="3.8"/><circle cx="435.9" cy="220.0" r="3.8"/><circle cx="632.1" cy="177.5" r="3.8"/><circle cx="559.8" cy="195.0" r="3.8"/><circle cx="536.5" cy="222.2" r="3.8"/><circle cx="457.6" cy="189.4" r="3.8"/><circle cx="513.3" cy="192.2" r="3.8"/><circle cx="782.2" cy="214.7" r="3.8"/><circle cx="598.2" cy="173.7" r="3.8"/><circle cx="349.8" cy="198.7" r="3.8"/><circle cx="676.3" cy="179.1" r="3.8"/><circle cx="646.3" cy="218.9" r="3.8"/><circle cx="307.8" cy="203.8" r="3.8"/><circle cx="528.6" cy="225.5" r="3.8"/><circle cx="506.1" cy="202.0" r="3.8"/><circle cx="636.8" cy="182.3" r="3.8"/><circle cx="555.8" cy="226.7" r="3.8"/><circle cx="389.1" cy="226.9" r="3.8"/><circle cx="548.6" cy="187.6" r="3.8"/><circle cx="633.7" cy="192.7" r="3.8"/><circle cx="761.6" cy="214.4" r="3.8"/><circle cx="481.8" cy="225.8" r="3.8"/><circle cx="813.3" cy="218.5" r="3.8"/><circle cx="687.7" cy="192.3" r="3.8"/><circle cx="299.5" cy="256.3" r="3.8"/><circle cx="558.3" cy="204.9" r="3.8"/><circle cx="694.3" cy="200.5" r="3.8"/><circle cx="354.5" cy="192.8" r="3.8"/><circle cx="588.8" cy="226.7" r="3.8"/><circle cx="612.0" cy="193.2" r="3.8"/><circle cx="342.4" cy="221.7" r="3.8"/><circle cx="534.0" cy="230.2" r="3.8"/><circle cx="554.6" cy="197.2" r="3.8"/><circle cx="725.7" cy="223.2" r="3.8"/><circle cx="567.9" cy="194.7" r="3.8"/><circle cx="387.2" cy="232.3" r="3.8"/><circle cx="603.9" cy="193.7" r="3.8"/><circle cx="488.4" cy="175.8" r="3.8"/><circle cx="373.8" cy="212.9" r="3.8"/><circle cx="340.2" cy="173.4" r="3.8"/><circle cx="676.6" cy="214.2" r="3.8"/><circle cx="539.4" cy="241.0" r="3.8"/><circle cx="746.3" cy="200.9" r="3.8"/><circle cx="481.7" cy="204.2" r="3.8"/><circle cx="390.4" cy="203.3" r="3.8"/><circle cx="669.0" cy="220.2" r="3.8"/><circle cx="459.9" cy="220.7" r="3.8"/><circle cx="730.6" cy="230.3" r="3.8"/><circle cx="533.6" cy="233.8" r="3.8"/><circle cx="417.9" cy="186.5" r="3.8"/><circle cx="573.9" cy="174.3" r="3.8"/><circle cx="555.4" cy="169.6" r="3.8"/><circle cx="653.2" cy="252.3" r="3.8"/><circle cx="677.4" cy="173.4" r="3.8"/><circle cx="424.5" cy="212.1" r="3.8"/><circle cx="714.8" cy="185.3" r="3.8"/><circle cx="589.2" cy="212.2" r="3.8"/><circle cx="788.3" cy="203.6" r="3.8"/><circle cx="486.8" cy="203.0" r="3.8"/><circle cx="489.2" cy="169.5" r="3.8"/><circle cx="400.0" cy="194.9" r="3.8"/><circle cx="450.3" cy="236.7" r="3.8"/><circle cx="594.4" cy="217.3" r="3.8"/><circle cx="531.6" cy="157.9" r="3.8"/><circle cx="412.5" cy="206.4" r="3.8"/><circle cx="686.9" cy="169.6" r="3.8"/><circle cx="676.9" cy="214.5" r="3.8"/><circle cx="492.7" cy="214.0" r="3.8"/><circle cx="669.9" cy="229.9" r="3.8"/><circle cx="388.2" cy="217.2" r="3.8"/><circle cx="427.3" cy="226.5" r="3.8"/><circle cx="273.2" cy="229.5" r="3.8"/><circle cx="657.7" cy="197.9" r="3.8"/><circle cx="533.2" cy="206.9" r="3.8"/><circle cx="584.2" cy="206.9" r="3.8"/><circle cx="440.3" cy="208.7" r="3.8"/><circle cx="406.0" cy="228.1" r="3.8"/><circle cx="518.4" cy="197.7" r="3.8"/><circle cx="355.3" cy="208.9" r="3.8"/><circle cx="470.0" cy="187.5" r="3.8"/><circle cx="430.1" cy="236.4" r="3.8"/><circle cx="528.8" cy="179.6" r="3.8"/><circle cx="462.8" cy="182.4" r="3.8"/><circle cx="723.6" cy="212.3" r="3.8"/><circle cx="478.2" cy="213.5" r="3.8"/><circle cx="693.0" cy="200.6" r="3.8"/><circle cx="439.9" cy="210.9" r="3.8"/><circle cx="422.5" cy="197.0" r="3.8"/><circle cx="349.2" cy="197.6" r="3.8"/><circle cx="602.0" cy="224.7" r="3.8"/><circle cx="711.6" cy="212.0" r="3.8"/><circle cx="674.3" cy="212.3" r="3.8"/><circle cx="702.9" cy="207.1" r="3.8"/><circle cx="453.7" cy="274.5" r="3.8"/><circle cx="458.6" cy="201.7" r="3.8"/><circle cx="637.2" cy="263.2" r="3.8"/><circle cx="556.2" cy="262.5" r="3.8"/><circle cx="384.2" cy="200.7" r="3.8"/><circle cx="346.3" cy="188.0" r="3.8"/><circle cx="291.1" cy="230.4" r="3.8"/><circle cx="539.1" cy="178.6" r="3.8"/><circle cx="406.9" cy="224.5" r="3.8"/><circle cx="667.7" cy="211.8" r="3.8"/><circle cx="388.2" cy="248.6" r="3.8"/><circle cx="598.3" cy="196.1" r="3.8"/><circle cx="341.3" cy="171.4" r="3.8"/><circle cx="570.5" cy="187.2" r="3.8"/><circle cx="462.1" cy="213.2" r="3.8"/><circle cx="558.8" cy="203.9" r="3.8"/><circle cx="449.4" cy="221.9" r="3.8"/><circle cx="627.6" cy="201.2" r="3.8"/><circle cx="663.1" cy="198.1" r="3.8"/><circle cx="570.4" cy="190.7" r="3.8"/><circle cx="580.8" cy="167.6" r="3.8"/><circle cx="528.9" cy="274.7" r="3.8"/><circle cx="425.5" cy="232.9" r="3.8"/><circle cx="610.5" cy="205.5" r="3.8"/><circle cx="803.4" cy="193.2" r="3.8"/><circle cx="449.8" cy="199.1" r="3.8"/><circle cx="576.6" cy="215.7" r="3.8"/><circle cx="669.4" cy="228.3" r="3.8"/><circle cx="496.7" cy="206.9" r="3.8"/><circle cx="409.8" cy="183.6" r="3.8"/><circle cx="536.3" cy="164.0" r="3.8"/><circle cx="417.9" cy="215.2" r="3.8"/><circle cx="291.3" cy="215.7" r="3.8"/><circle cx="551.3" cy="223.8" r="3.8"/><circle cx="351.5" cy="194.8" r="3.8"/><circle cx="469.6" cy="186.8" r="3.8"/><circle cx="617.8" cy="215.0" r="3.8"/><circle cx="594.1" cy="213.3" r="3.8"/><circle cx="524.4" cy="151.5" r="3.8"/><circle cx="573.7" cy="222.1" r="3.8"/><circle cx="765.6" cy="216.4" r="3.8"/><circle cx="609.6" cy="195.4" r="3.8"/><circle cx="625.8" cy="187.7" r="3.8"/><circle cx="521.2" cy="266.2" r="3.8"/><circle cx="791.1" cy="223.1" r="3.8"/><circle cx="464.8" cy="198.8" r="3.8"/><circle cx="540.0" cy="191.5" r="3.8"/><circle cx="275.3" cy="198.8" r="3.8"/><circle cx="547.8" cy="172.0" r="3.8"/><circle cx="712.9" cy="190.5" r="3.8"/><circle cx="711.7" cy="208.3" r="3.8"/><circle cx="664.4" cy="241.0" r="3.8"/><circle cx="774.5" cy="183.8" r="3.8"/><circle cx="408.6" cy="234.8" r="3.8"/><circle cx="618.9" cy="195.1" r="3.8"/><circle cx="570.8" cy="206.9" r="3.8"/><circle cx="552.0" cy="217.5" r="3.8"/><circle cx="688.0" cy="178.2" r="3.8"/><circle cx="391.1" cy="230.4" r="3.8"/><circle cx="319.0" cy="221.3" r="3.8"/><circle cx="578.4" cy="218.4" r="3.8"/><circle cx="807.2" cy="217.1" r="3.8"/><circle cx="542.7" cy="251.7" r="3.8"/><circle cx="565.1" cy="214.7" r="3.8"/><circle cx="665.6" cy="200.5" r="3.8"/><circle cx="565.7" cy="220.8" r="3.8"/><circle cx="276.6" cy="253.4" r="3.8"/><circle cx="471.3" cy="181.2" r="3.8"/><circle cx="450.9" cy="232.2" r="3.8"/><circle cx="376.7" cy="234.7" r="3.8"/><circle cx="735.9" cy="183.1" r="3.8"/><circle cx="569.3" cy="199.7" r="3.8"/><circle cx="442.3" cy="184.9" r="3.8"/><circle cx="650.8" cy="253.6" r="3.8"/><circle cx="553.6" cy="192.0" r="3.8"/><circle cx="701.5" cy="174.7" r="3.8"/><circle cx="789.2" cy="192.9" r="3.8"/><circle cx="636.2" cy="225.1" r="3.8"/><circle cx="755.8" cy="193.8" r="3.8"/><circle cx="425.4" cy="170.0" r="3.8"/><circle cx="596.6" cy="267.9" r="3.8"/><circle cx="395.6" cy="206.1" r="3.8"/><circle cx="485.2" cy="199.4" r="3.8"/><circle cx="664.6" cy="209.0" r="3.8"/><circle cx="594.9" cy="175.8" r="3.8"/><circle cx="663.3" cy="186.5" r="3.8"/><circle cx="394.8" cy="194.9" r="3.8"/><circle cx="669.2" cy="169.4" r="3.8"/><circle cx="595.5" cy="230.8" r="3.8"/><circle cx="488.3" cy="200.8" r="3.8"/><circle cx="540.3" cy="214.3" r="3.8"/><circle cx="549.9" cy="268.7" r="3.8"/><circle cx="544.8" cy="208.6" r="3.8"/><circle cx="592.1" cy="206.1" r="3.8"/><circle cx="545.8" cy="190.2" r="3.8"/><circle cx="268.7" cy="200.8" r="3.8"/><circle cx="454.6" cy="202.0" r="3.8"/><circle cx="488.3" cy="247.5" r="3.8"/><circle cx="610.9" cy="193.4" r="3.8"/><circle cx="674.9" cy="200.6" r="3.8"/><circle cx="602.1" cy="191.9" r="3.8"/><circle cx="452.8" cy="207.7" r="3.8"/><circle cx="575.0" cy="269.4" r="3.8"/><circle cx="654.7" cy="190.3" r="3.8"/><circle cx="217.6" cy="170.8" r="3.8"/><circle cx="555.9" cy="207.4" r="3.8"/><circle cx="497.4" cy="214.8" r="3.8"/><circle cx="480.3" cy="156.2" r="3.8"/><circle cx="634.6" cy="222.5" r="3.8"/><circle cx="363.4" cy="214.6" r="3.8"/><circle cx="550.6" cy="225.5" r="3.8"/><circle cx="760.3" cy="188.4" r="3.8"/><circle cx="362.5" cy="205.0" r="3.8"/><circle cx="637.1" cy="216.6" r="3.8"/><circle cx="469.9" cy="191.6" r="3.8"/><circle cx="416.0" cy="225.5" r="3.8"/><circle cx="622.2" cy="263.2" r="3.8"/><circle cx="529.3" cy="192.9" r="3.8"/><circle cx="537.6" cy="224.9" r="3.8"/><circle cx="478.3" cy="226.0" r="3.8"/><circle cx="503.3" cy="227.0" r="3.8"/><circle cx="477.1" cy="237.5" r="3.8"/><circle cx="338.3" cy="191.0" r="3.8"/><circle cx="678.8" cy="230.0" r="3.8"/><circle cx="607.7" cy="189.8" r="3.8"/><circle cx="441.3" cy="151.8" r="3.8"/><circle cx="506.7" cy="190.0" r="3.8"/><circle cx="531.3" cy="210.3" r="3.8"/><circle cx="559.4" cy="260.9" r="3.8"/><circle cx="775.6" cy="205.1" r="3.8"/><circle cx="647.0" cy="177.3" r="3.8"/><circle cx="474.3" cy="238.0" r="3.8"/><circle cx="692.3" cy="208.8" r="3.8"/><circle cx="481.1" cy="193.7" r="3.8"/><circle cx="394.6" cy="215.5" r="3.8"/><circle cx="672.6" cy="215.1" r="3.8"/><circle cx="330.0" cy="188.2" r="3.8"/><circle cx="518.4" cy="196.9" r="3.8"/><circle cx="720.1" cy="191.2" r="3.8"/><circle cx="490.2" cy="238.1" r="3.8"/><circle cx="715.7" cy="179.4" r="3.8"/><circle cx="381.9" cy="200.9" r="3.8"/><circle cx="530.3" cy="193.5" r="3.8"/><circle cx="696.5" cy="206.2" r="3.8"/><circle cx="488.1" cy="214.3" r="3.8"/><circle cx="591.5" cy="161.6" r="3.8"/><circle cx="520.5" cy="246.9" r="3.8"/><circle cx="492.1" cy="213.7" r="3.8"/><circle cx="510.9" cy="264.2" r="3.8"/><circle cx="581.4" cy="144.3" r="3.8"/><circle cx="620.6" cy="173.8" r="3.8"/><circle cx="467.7" cy="220.8" r="3.8"/><circle cx="564.1" cy="199.4" r="3.8"/><circle cx="567.0" cy="223.1" r="3.8"/><circle cx="602.9" cy="235.6" r="3.8"/><circle cx="687.0" cy="176.5" r="3.8"/><circle cx="715.3" cy="204.4" r="3.8"/><circle cx="436.8" cy="174.0" r="3.8"/><circle cx="833.3" cy="197.3" r="3.8"/><circle cx="296.9" cy="213.3" r="3.8"/><circle cx="695.6" cy="188.5" r="3.8"/><circle cx="494.9" cy="196.1" r="3.8"/><circle cx="540.8" cy="195.3" r="3.8"/><circle cx="454.5" cy="229.7" r="3.8"/><circle cx="523.8" cy="203.4" r="3.8"/><circle cx="645.1" cy="179.6" r="3.8"/><circle cx="382.4" cy="187.0" r="3.8"/><circle cx="566.8" cy="234.7" r="3.8"/><circle cx="516.7" cy="190.2" r="3.8"/><circle cx="565.5" cy="198.9" r="3.8"/><circle cx="575.9" cy="228.8" r="3.8"/><circle cx="668.6" cy="206.0" r="3.8"/><circle cx="751.1" cy="186.8" r="3.8"/><circle cx="679.3" cy="208.4" r="3.8"/><circle cx="577.6" cy="269.5" r="3.8"/><circle cx="632.0" cy="222.1" r="3.8"/><circle cx="311.9" cy="183.1" r="3.8"/><circle cx="571.8" cy="254.1" r="3.8"/><circle cx="366.7" cy="223.6" r="3.8"/><circle cx="506.5" cy="259.4" r="3.8"/><circle cx="647.8" cy="186.9" r="3.8"/><circle cx="380.3" cy="176.8" r="3.8"/><circle cx="573.9" cy="219.1" r="3.8"/><circle cx="498.4" cy="206.8" r="3.8"/><circle cx="633.8" cy="199.1" r="3.8"/><circle cx="410.1" cy="192.4" r="3.8"/><circle cx="563.5" cy="206.2" r="3.8"/><circle cx="463.3" cy="218.3" r="3.8"/><circle cx="451.5" cy="167.0" r="3.8"/><circle cx="297.8" cy="203.2" r="3.8"/><circle cx="355.9" cy="196.3" r="3.8"/><circle cx="542.2" cy="181.9" r="3.8"/><circle cx="783.7" cy="191.9" r="3.8"/><circle cx="316.6" cy="204.8" r="3.8"/><circle cx="489.4" cy="203.6" r="3.8"/><circle cx="590.5" cy="203.2" r="3.8"/><circle cx="838.6" cy="214.4" r="3.8"/><circle cx="479.6" cy="159.8" r="3.8"/><circle cx="383.3" cy="219.8" r="3.8"/><circle cx="361.6" cy="206.5" r="3.8"/><circle cx="665.8" cy="203.1" r="3.8"/><circle cx="384.3" cy="207.9" r="3.8"/><circle cx="541.0" cy="192.3" r="3.8"/><circle cx="746.6" cy="183.4" r="3.8"/><circle cx="618.7" cy="171.4" r="3.8"/><circle cx="559.6" cy="227.0" r="3.8"/><circle cx="602.6" cy="194.3" r="3.8"/><circle cx="685.7" cy="228.0" r="3.8"/><circle cx="638.7" cy="182.7" r="3.8"/><circle cx="786.9" cy="166.2" r="3.8"/><circle cx="629.8" cy="206.1" r="3.8"/><circle cx="580.5" cy="214.6" r="3.8"/><circle cx="671.8" cy="185.5" r="3.8"/><circle cx="723.7" cy="222.5" r="3.8"/><circle cx="679.7" cy="200.6" r="3.8"/><circle cx="497.3" cy="187.6" r="3.8"/><circle cx="632.7" cy="191.4" r="3.8"/><circle cx="432.5" cy="226.8" r="3.8"/><circle cx="483.1" cy="164.6" r="3.8"/><circle cx="411.2" cy="181.0" r="3.8"/><circle cx="467.5" cy="222.6" r="3.8"/><circle cx="531.8" cy="202.0" r="3.8"/><circle cx="546.5" cy="206.2" r="3.8"/><circle cx="585.4" cy="226.1" r="3.8"/><circle cx="605.7" cy="192.0" r="3.8"/><circle cx="711.8" cy="201.7" r="3.8"/><circle cx="409.9" cy="202.8" r="3.8"/><circle cx="464.6" cy="212.0" r="3.8"/><circle cx="744.7" cy="229.3" r="3.8"/><circle cx="457.4" cy="228.7" r="3.8"/><circle cx="592.9" cy="157.8" r="3.8"/><circle cx="702.3" cy="187.9" r="3.8"/><circle cx="596.2" cy="205.6" r="3.8"/><circle cx="646.3" cy="173.2" r="3.8"/><circle cx="734.8" cy="194.5" r="3.8"/><circle cx="613.4" cy="204.3" r="3.8"/><circle cx="566.5" cy="205.8" r="3.8"/><circle cx="492.8" cy="236.6" r="3.8"/><circle cx="595.3" cy="207.7" r="3.8"/><circle cx="698.5" cy="204.8" r="3.8"/><circle cx="409.9" cy="201.3" r="3.8"/><circle cx="557.5" cy="208.8" r="3.8"/><circle cx="646.1" cy="162.6" r="3.8"/><circle cx="574.9" cy="198.8" r="3.8"/><circle cx="689.5" cy="217.8" r="3.8"/><circle cx="504.1" cy="192.7" r="3.8"/><circle cx="700.5" cy="214.5" r="3.8"/><circle cx="575.0" cy="216.7" r="3.8"/><circle cx="359.6" cy="211.8" r="3.8"/><circle cx="476.9" cy="242.5" r="3.8"/><circle cx="405.4" cy="183.8" r="3.8"/><circle cx="525.3" cy="214.7" r="3.8"/><circle cx="601.5" cy="207.1" r="3.8"/><circle cx="604.7" cy="196.0" r="3.8"/><circle cx="521.4" cy="178.3" r="3.8"/><circle cx="600.1" cy="167.3" r="3.8"/><circle cx="627.4" cy="213.1" r="3.8"/><circle cx="336.7" cy="213.0" r="3.8"/><circle cx="625.7" cy="265.6" r="3.8"/><circle cx="418.4" cy="211.7" r="3.8"/><circle cx="412.9" cy="190.7" r="3.8"/><circle cx="560.7" cy="239.7" r="3.8"/><circle cx="352.0" cy="189.7" r="3.8"/><circle cx="461.6" cy="239.5" r="3.8"/><circle cx="577.2" cy="227.1" r="3.8"/><circle cx="697.9" cy="212.3" r="3.8"/><circle cx="507.0" cy="230.7" r="3.8"/><circle cx="653.8" cy="207.9" r="3.8"/><circle cx="237.7" cy="228.8" r="3.8"/><circle cx="626.4" cy="204.2" r="3.8"/><circle cx="671.4" cy="222.2" r="3.8"/><circle cx="433.3" cy="228.5" r="3.8"/><circle cx="625.2" cy="231.7" r="3.8"/><circle cx="666.8" cy="166.4" r="3.8"/><circle cx="700.6" cy="181.4" r="3.8"/><circle cx="656.5" cy="197.4" r="3.8"/><circle cx="553.9" cy="191.9" r="3.8"/><circle cx="498.2" cy="174.0" r="3.8"/><circle cx="678.4" cy="188.3" r="3.8"/><circle cx="700.1" cy="203.5" r="3.8"/><circle cx="500.6" cy="186.5" r="3.8"/><circle cx="541.0" cy="207.1" r="3.8"/><circle cx="647.4" cy="245.6" r="3.8"/><circle cx="584.6" cy="209.9" r="3.8"/><circle cx="520.4" cy="173.4" r="3.8"/><circle cx="782.9" cy="236.4" r="3.8"/><circle cx="488.2" cy="178.1" r="3.8"/><circle cx="556.2" cy="192.3" r="3.8"/><circle cx="356.0" cy="266.2" r="3.8"/><circle cx="568.5" cy="229.8" r="3.8"/><circle cx="351.1" cy="229.1" r="3.8"/><circle cx="663.7" cy="211.6" r="3.8"/><circle cx="647.9" cy="200.3" r="3.8"/><circle cx="627.4" cy="187.0" r="3.8"/><circle cx="457.2" cy="218.4" r="3.8"/><circle cx="604.4" cy="207.6" r="3.8"/><circle cx="644.3" cy="219.3" r="3.8"/><circle cx="466.5" cy="210.9" r="3.8"/><circle cx="525.0" cy="213.8" r="3.8"/><circle cx="438.0" cy="207.9" r="3.8"/><circle cx="697.4" cy="203.8" r="3.8"/><circle cx="739.3" cy="191.5" r="3.8"/><circle cx="607.4" cy="185.2" r="3.8"/><circle cx="316.3" cy="190.1" r="3.8"/><circle cx="411.0" cy="237.1" r="3.8"/><circle cx="521.4" cy="200.2" r="3.8"/><circle cx="399.4" cy="204.3" r="3.8"/><circle cx="448.0" cy="232.0" r="3.8"/><circle cx="550.2" cy="209.2" r="3.8"/><circle cx="454.0" cy="215.4" r="3.8"/><circle cx="469.4" cy="229.7" r="3.8"/><circle cx="603.0" cy="218.0" r="3.8"/><circle cx="599.4" cy="233.4" r="3.8"/><circle cx="562.0" cy="199.8" r="3.8"/><circle cx="368.2" cy="178.4" r="3.8"/><circle cx="799.7" cy="192.5" r="3.8"/><circle cx="684.8" cy="203.0" r="3.8"/><circle cx="601.0" cy="203.6" r="3.8"/><circle cx="705.8" cy="197.7" r="3.8"/><circle cx="548.8" cy="169.1" r="3.8"/><circle cx="690.0" cy="198.8" r="3.8"/><circle cx="682.5" cy="247.5" r="3.8"/><circle cx="505.5" cy="268.1" r="3.8"/><circle cx="634.3" cy="174.7" r="3.8"/><circle cx="636.1" cy="203.7" r="3.8"/><circle cx="545.9" cy="233.8" r="3.8"/><circle cx="695.9" cy="210.0" r="3.8"/><circle cx="464.3" cy="224.7" r="3.8"/><circle cx="603.3" cy="205.8" r="3.8"/><circle cx="391.0" cy="196.8" r="3.8"/><circle cx="504.8" cy="172.0" r="3.8"/><circle cx="682.2" cy="208.5" r="3.8"/><circle cx="375.6" cy="198.8" r="3.8"/><circle cx="219.2" cy="246.7" r="3.8"/><circle cx="595.6" cy="204.5" r="3.8"/><circle cx="484.1" cy="188.3" r="3.8"/><circle cx="415.9" cy="242.8" r="3.8"/><circle cx="337.3" cy="224.2" r="3.8"/><circle cx="671.6" cy="205.2" r="3.8"/><circle cx="716.8" cy="193.1" r="3.8"/><circle cx="754.1" cy="220.4" r="3.8"/><circle cx="415.6" cy="197.1" r="3.8"/><circle cx="380.1" cy="238.1" r="3.8"/><circle cx="643.2" cy="173.4" r="3.8"/><circle cx="632.3" cy="202.2" r="3.8"/><circle cx="317.8" cy="195.4" r="3.8"/><circle cx="486.0" cy="209.5" r="3.8"/><circle cx="426.8" cy="271.3" r="3.8"/><circle cx="567.3" cy="196.9" r="3.8"/><circle cx="518.2" cy="217.2" r="3.8"/><circle cx="741.8" cy="224.3" r="3.8"/><circle cx="452.9" cy="247.7" r="3.8"/><circle cx="641.6" cy="179.9" r="3.8"/><circle cx="225.7" cy="189.7" r="3.8"/><circle cx="438.0" cy="242.4" r="3.8"/><circle cx="471.5" cy="205.3" r="3.8"/><circle cx="608.5" cy="209.1" r="3.8"/><circle cx="551.5" cy="208.8" r="3.8"/><circle cx="383.4" cy="190.6" r="3.8"/><circle cx="592.2" cy="218.9" r="3.8"/><circle cx="509.7" cy="197.6" r="3.8"/><circle cx="565.9" cy="174.2" r="3.8"/><circle cx="655.3" cy="240.2" r="3.8"/><circle cx="572.5" cy="186.5" r="3.8"/><circle cx="612.8" cy="249.5" r="3.8"/><circle cx="520.4" cy="219.8" r="3.8"/><circle cx="554.0" cy="226.7" r="3.8"/><circle cx="647.6" cy="190.1" r="3.8"/><circle cx="417.6" cy="264.3" r="3.8"/><circle cx="527.6" cy="261.4" r="3.8"/><circle cx="491.4" cy="219.6" r="3.8"/><circle cx="588.8" cy="229.8" r="3.8"/><circle cx="612.8" cy="215.5" r="3.8"/><circle cx="339.8" cy="203.6" r="3.8"/><circle cx="433.7" cy="181.2" r="3.8"/><circle cx="582.4" cy="214.0" r="3.8"/><circle cx="704.7" cy="230.6" r="3.8"/><circle cx="451.4" cy="200.9" r="3.8"/><circle cx="732.5" cy="183.6" r="3.8"/><circle cx="256.0" cy="190.0" r="3.8"/><circle cx="754.4" cy="192.3" r="3.8"/><circle cx="452.8" cy="190.3" r="3.8"/><circle cx="582.1" cy="220.8" r="3.8"/><circle cx="540.7" cy="216.2" r="3.8"/><circle cx="603.1" cy="186.4" r="3.8"/><circle cx="787.4" cy="205.8" r="3.8"/><circle cx="731.9" cy="228.7" r="3.8"/><circle cx="400.1" cy="176.6" r="3.8"/><circle cx="511.3" cy="248.1" r="3.8"/><circle cx="414.9" cy="244.6" r="3.8"/><circle cx="735.4" cy="224.9" r="3.8"/><circle cx="672.8" cy="185.0" r="3.8"/><circle cx="613.1" cy="247.2" r="3.8"/><circle cx="476.1" cy="257.7" r="3.8"/><circle cx="641.8" cy="202.0" r="3.8"/><circle cx="441.3" cy="197.9" r="3.8"/><circle cx="409.7" cy="182.4" r="3.8"/><circle cx="765.0" cy="209.9" r="3.8"/><circle cx="389.8" cy="223.0" r="3.8"/><circle cx="671.7" cy="195.6" r="3.8"/><circle cx="497.8" cy="249.5" r="3.8"/><circle cx="582.2" cy="221.3" r="3.8"/><circle cx="534.4" cy="207.5" r="3.8"/><circle cx="612.8" cy="190.3" r="3.8"/><circle cx="463.2" cy="207.7" r="3.8"/><circle cx="592.7" cy="159.4" r="3.8"/><circle cx="586.0" cy="171.7" r="3.8"/><circle cx="506.4" cy="182.5" r="3.8"/><circle cx="648.1" cy="240.4" r="3.8"/><circle cx="443.3" cy="193.7" r="3.8"/><circle cx="475.6" cy="221.4" r="3.8"/><circle cx="437.3" cy="199.0" r="3.8"/><circle cx="559.7" cy="220.4" r="3.8"/><circle cx="587.3" cy="205.8" r="3.8"/><circle cx="622.8" cy="212.0" r="3.8"/><circle cx="398.0" cy="167.0" r="3.8"/><circle cx="501.1" cy="188.5" r="3.8"/><circle cx="549.9" cy="222.1" r="3.8"/><circle cx="769.5" cy="216.2" r="3.8"/><circle cx="390.4" cy="199.3" r="3.8"/><circle cx="634.9" cy="218.8" r="3.8"/><circle cx="592.3" cy="189.6" r="3.8"/><circle cx="356.9" cy="246.4" r="3.8"/><circle cx="351.8" cy="174.4" r="3.8"/><circle cx="436.8" cy="196.1" r="3.8"/><circle cx="380.9" cy="193.8" r="3.8"/><circle cx="397.9" cy="202.0" r="3.8"/><circle cx="393.3" cy="242.2" r="3.8"/><circle cx="544.6" cy="174.4" r="3.8"/><circle cx="539.7" cy="157.5" r="3.8"/><circle cx="461.8" cy="218.3" r="3.8"/><circle cx="602.4" cy="230.7" r="3.8"/><circle cx="746.4" cy="206.3" r="3.8"/><circle cx="450.5" cy="217.7" r="3.8"/><circle cx="611.1" cy="144.6" r="3.8"/><circle cx="684.1" cy="202.4" r="3.8"/><circle cx="551.1" cy="202.8" r="3.8"/><circle cx="558.4" cy="223.4" r="3.8"/><circle cx="461.9" cy="214.4" r="3.8"/><circle cx="570.4" cy="190.4" r="3.8"/><circle cx="801.9" cy="189.3" r="3.8"/><circle cx="669.9" cy="213.2" r="3.8"/><circle cx="272.4" cy="192.7" r="3.8"/><circle cx="526.7" cy="195.2" r="3.8"/><circle cx="771.9" cy="185.8" r="3.8"/><circle cx="665.2" cy="200.5" r="3.8"/><circle cx="619.0" cy="177.9" r="3.8"/><circle cx="716.5" cy="236.9" r="3.8"/><circle cx="260.4" cy="187.0" r="3.8"/><circle cx="363.6" cy="224.6" r="3.8"/><circle cx="620.7" cy="215.1" r="3.8"/><circle cx="634.3" cy="227.3" r="3.8"/><circle cx="584.6" cy="203.3" r="3.8"/><circle cx="259.4" cy="205.9" r="3.8"/><circle cx="605.0" cy="212.9" r="3.8"/><circle cx="493.9" cy="240.6" r="3.8"/><circle cx="586.3" cy="181.8" r="3.8"/><circle cx="534.4" cy="187.4" r="3.8"/><circle cx="550.8" cy="187.8" r="3.8"/><circle cx="630.6" cy="254.9" r="3.8"/><circle cx="577.3" cy="213.7" r="3.8"/><circle cx="412.7" cy="208.7" r="3.8"/><circle cx="378.8" cy="221.8" r="3.8"/><circle cx="357.7" cy="222.6" r="3.8"/><circle cx="590.8" cy="205.6" r="3.8"/><circle cx="592.4" cy="266.4" r="3.8"/><circle cx="446.8" cy="199.2" r="3.8"/><circle cx="444.4" cy="209.4" r="3.8"/><circle cx="563.0" cy="193.5" r="3.8"/><circle cx="501.8" cy="207.1" r="3.8"/><circle cx="520.4" cy="202.0" r="3.8"/><circle cx="718.8" cy="213.5" r="3.8"/><circle cx="611.5" cy="244.0" r="3.8"/><circle cx="535.8" cy="193.6" r="3.8"/><circle cx="458.9" cy="211.4" r="3.8"/><circle cx="581.7" cy="236.8" r="3.8"/><circle cx="592.2" cy="171.3" r="3.8"/><circle cx="480.8" cy="208.5" r="3.8"/><circle cx="566.1" cy="170.0" r="3.8"/><circle cx="534.0" cy="206.1" r="3.8"/><circle cx="677.4" cy="235.9" r="3.8"/><circle cx="457.9" cy="196.9" r="3.8"/><circle cx="677.1" cy="223.2" r="3.8"/><circle cx="535.5" cy="240.2" r="3.8"/><circle cx="620.1" cy="229.3" r="3.8"/><circle cx="462.5" cy="219.6" r="3.8"/><circle cx="476.0" cy="182.0" r="3.8"/><circle cx="327.6" cy="191.3" r="3.8"/><circle cx="550.4" cy="189.7" r="3.8"/><circle cx="514.3" cy="196.3" r="3.8"/><circle cx="636.3" cy="202.7" r="3.8"/><circle cx="667.2" cy="201.6" r="3.8"/><circle cx="814.6" cy="208.9" r="3.8"/><circle cx="392.5" cy="180.5" r="3.8"/><circle cx="468.7" cy="174.7" r="3.8"/><circle cx="584.8" cy="201.7" r="3.8"/><circle cx="365.8" cy="234.1" r="3.8"/><circle cx="623.6" cy="218.6" r="3.8"/><circle cx="562.8" cy="204.7" r="3.8"/><circle cx="442.5" cy="184.5" r="3.8"/><circle cx="623.3" cy="226.9" r="3.8"/><circle cx="501.5" cy="168.7" r="3.8"/><circle cx="680.0" cy="194.6" r="3.8"/><circle cx="379.9" cy="178.1" r="3.8"/><circle cx="739.8" cy="190.9" r="3.8"/><circle cx="574.4" cy="212.8" r="3.8"/><circle cx="376.5" cy="205.9" r="3.8"/><circle cx="710.5" cy="214.9" r="3.8"/><circle cx="562.0" cy="218.7" r="3.8"/><circle cx="451.5" cy="218.4" r="3.8"/><circle cx="669.8" cy="198.4" r="3.8"/><circle cx="540.0" cy="224.6" r="3.8"/><circle cx="473.3" cy="231.8" r="3.8"/><circle cx="805.3" cy="217.7" r="3.8"/><circle cx="534.5" cy="193.4" r="3.8"/><circle cx="492.8" cy="200.4" r="3.8"/><circle cx="595.7" cy="197.4" r="3.8"/><circle cx="554.3" cy="250.7" r="3.8"/><circle cx="823.8" cy="202.2" r="3.8"/><circle cx="493.7" cy="203.1" r="3.8"/><circle cx="385.9" cy="213.3" r="3.8"/><circle cx="327.6" cy="201.0" r="3.8"/><circle cx="652.6" cy="249.3" r="3.8"/><circle cx="420.3" cy="209.6" r="3.8"/><circle cx="584.0" cy="236.5" r="3.8"/><circle cx="796.2" cy="194.3" r="3.8"/><circle cx="783.2" cy="215.1" r="3.8"/><circle cx="490.4" cy="256.2" r="3.8"/><circle cx="539.6" cy="199.5" r="3.8"/><circle cx="728.2" cy="217.6" r="3.8"/><circle cx="366.8" cy="194.3" r="3.8"/><circle cx="664.7" cy="213.9" r="3.8"/><circle cx="281.8" cy="221.1" r="3.8"/><circle cx="564.3" cy="221.6" r="3.8"/><circle cx="633.9" cy="170.0" r="3.8"/><circle cx="653.7" cy="219.9" r="3.8"/><circle cx="479.8" cy="262.3" r="3.8"/><circle cx="552.6" cy="212.2" r="3.8"/><circle cx="489.9" cy="224.8" r="3.8"/><circle cx="373.9" cy="197.2" r="3.8"/><circle cx="440.5" cy="190.9" r="3.8"/><circle cx="666.4" cy="212.0" r="3.8"/><circle cx="558.3" cy="185.7" r="3.8"/><circle cx="610.9" cy="207.3" r="3.8"/><circle cx="426.8" cy="230.4" r="3.8"/><circle cx="514.8" cy="192.4" r="3.8"/><circle cx="654.9" cy="241.5" r="3.8"/><circle cx="389.8" cy="212.5" r="3.8"/><circle cx="595.2" cy="199.0" r="3.8"/><circle cx="569.4" cy="199.0" r="3.8"/><circle cx="693.7" cy="169.5" r="3.8"/><circle cx="661.7" cy="240.4" r="3.8"/><circle cx="535.7" cy="174.2" r="3.8"/><circle cx="599.6" cy="206.1" r="3.8"/><circle cx="467.5" cy="195.7" r="3.8"/><circle cx="556.2" cy="199.8" r="3.8"/><circle cx="524.1" cy="193.4" r="3.8"/><circle cx="430.1" cy="205.7" r="3.8"/><circle cx="545.9" cy="205.1" r="3.8"/><circle cx="497.5" cy="209.2" r="3.8"/><circle cx="540.8" cy="198.9" r="3.8"/><circle cx="590.9" cy="211.2" r="3.8"/><circle cx="240.9" cy="184.2" r="3.8"/><circle cx="290.1" cy="199.8" r="3.8"/><circle cx="797.1" cy="186.9" r="3.8"/><circle cx="729.2" cy="198.7" r="3.8"/><circle cx="527.3" cy="184.3" r="3.8"/><circle cx="537.5" cy="184.6" r="3.8"/><circle cx="667.3" cy="229.2" r="3.8"/><circle cx="502.0" cy="187.3" r="3.8"/><circle cx="694.8" cy="199.7" r="3.8"/><circle cx="575.1" cy="193.6" r="3.8"/><circle cx="474.6" cy="213.0" r="3.8"/><circle cx="636.7" cy="241.1" r="3.8"/><circle cx="611.0" cy="208.6" r="3.8"/><circle cx="553.4" cy="241.9" r="3.8"/><circle cx="665.3" cy="211.4" r="3.8"/><circle cx="564.4" cy="168.3" r="3.8"/><circle cx="644.1" cy="200.9" r="3.8"/><circle cx="569.8" cy="206.5" r="3.8"/><circle cx="649.5" cy="199.8" r="3.8"/><circle cx="441.9" cy="220.1" r="3.8"/><circle cx="647.6" cy="222.6" r="3.8"/><circle cx="601.3" cy="229.3" r="3.8"/><circle cx="494.4" cy="191.2" r="3.8"/><circle cx="391.8" cy="243.2" r="3.8"/><circle cx="503.7" cy="185.1" r="3.8"/><circle cx="554.7" cy="231.4" r="3.8"/><circle cx="542.7" cy="211.0" r="3.8"/><circle cx="500.2" cy="230.0" r="3.8"/><circle cx="583.5" cy="180.5" r="3.8"/><circle cx="342.9" cy="187.5" r="3.8"/><circle cx="519.0" cy="253.7" r="3.8"/><circle cx="322.9" cy="206.8" r="3.8"/><circle cx="504.5" cy="204.2" r="3.8"/><circle cx="640.4" cy="202.3" r="3.8"/><circle cx="596.2" cy="239.7" r="3.8"/><circle cx="360.4" cy="204.3" r="3.8"/><circle cx="609.2" cy="226.6" r="3.8"/><circle cx="547.0" cy="224.4" r="3.8"/><circle cx="575.8" cy="199.4" r="3.8"/><circle cx="231.9" cy="172.7" r="3.8"/><circle cx="357.4" cy="202.7" r="3.8"/><circle cx="389.2" cy="202.5" r="3.8"/><circle cx="548.0" cy="227.0" r="3.8"/><circle cx="765.0" cy="212.6" r="3.8"/><circle cx="321.4" cy="168.0" r="3.8"/><circle cx="556.6" cy="198.5" r="3.8"/><circle cx="455.8" cy="208.4" r="3.8"/><circle cx="636.1" cy="204.7" r="3.8"/><circle cx="447.6" cy="222.0" r="3.8"/><circle cx="663.1" cy="212.6" r="3.8"/><circle cx="438.8" cy="192.3" r="3.8"/><circle cx="624.0" cy="255.7" r="3.8"/><circle cx="609.2" cy="165.4" r="3.8"/><circle cx="457.2" cy="173.4" r="3.8"/><circle cx="479.6" cy="197.2" r="3.8"/><circle cx="404.0" cy="219.8" r="3.8"/><circle cx="512.3" cy="192.9" r="3.8"/><circle cx="604.6" cy="201.7" r="3.8"/><circle cx="461.1" cy="184.4" r="3.8"/><circle cx="668.4" cy="195.8" r="3.8"/><circle cx="779.0" cy="232.7" r="3.8"/><circle cx="687.8" cy="205.0" r="3.8"/><circle cx="569.3" cy="192.1" r="3.8"/><circle cx="539.2" cy="187.2" r="3.8"/><circle cx="591.7" cy="214.9" r="3.8"/><circle cx="500.7" cy="183.9" r="3.8"/><circle cx="353.2" cy="221.0" r="3.8"/><circle cx="422.1" cy="160.6" r="3.8"/><circle cx="643.0" cy="224.1" r="3.8"/><circle cx="620.9" cy="155.7" r="3.8"/><circle cx="815.8" cy="191.7" r="3.8"/><circle cx="544.6" cy="211.3" r="3.8"/><circle cx="638.6" cy="188.2" r="3.8"/><circle cx="629.5" cy="251.5" r="3.8"/><circle cx="497.5" cy="205.2" r="3.8"/><circle cx="506.7" cy="211.2" r="3.8"/><circle cx="316.2" cy="192.2" r="3.8"/><circle cx="450.8" cy="239.3" r="3.8"/><circle cx="453.8" cy="167.7" r="3.8"/><circle cx="698.1" cy="170.6" r="3.8"/><circle cx="724.7" cy="194.4" r="3.8"/><circle cx="436.6" cy="199.3" r="3.8"/><circle cx="572.6" cy="161.4" r="3.8"/><circle cx="407.7" cy="177.9" r="3.8"/><circle cx="294.3" cy="220.2" r="3.8"/><circle cx="442.2" cy="202.2" r="3.8"/><circle cx="663.0" cy="174.3" r="3.8"/><circle cx="472.5" cy="224.5" r="3.8"/><circle cx="599.8" cy="194.5" r="3.8"/><circle cx="699.2" cy="221.6" r="3.8"/><circle cx="491.9" cy="228.1" r="3.8"/><circle cx="563.8" cy="182.3" r="3.8"/><circle cx="663.0" cy="175.4" r="3.8"/><circle cx="633.3" cy="192.7" r="3.8"/><circle cx="368.4" cy="184.7" r="3.8"/><circle cx="439.0" cy="278.6" r="3.8"/><circle cx="593.6" cy="225.3" r="3.8"/><circle cx="392.1" cy="202.9" r="3.8"/><circle cx="407.3" cy="228.5" r="3.8"/><circle cx="406.8" cy="150.0" r="3.8"/><circle cx="757.3" cy="213.4" r="3.8"/><circle cx="572.2" cy="207.7" r="3.8"/><circle cx="645.3" cy="218.2" r="3.8"/><circle cx="472.1" cy="173.9" r="3.8"/><circle cx="728.1" cy="196.0" r="3.8"/><circle cx="625.6" cy="176.3" r="3.8"/><circle cx="362.1" cy="263.8" r="3.8"/><circle cx="263.0" cy="215.7" r="3.8"/><circle cx="606.9" cy="195.0" r="3.8"/><circle cx="554.9" cy="199.5" r="3.8"/><circle cx="730.1" cy="220.2" r="3.8"/><circle cx="642.2" cy="185.3" r="3.8"/><circle cx="466.1" cy="192.6" r="3.8"/><circle cx="522.8" cy="216.4" r="3.8"/><circle cx="701.7" cy="221.6" r="3.8"/><circle cx="569.8" cy="219.2" r="3.8"/><circle cx="469.4" cy="198.7" r="3.8"/><circle cx="468.0" cy="209.9" r="3.8"/><circle cx="424.4" cy="177.1" r="3.8"/><circle cx="463.8" cy="212.0" r="3.8"/><circle cx="507.6" cy="251.7" r="3.8"/><circle cx="339.0" cy="222.2" r="3.8"/><circle cx="511.8" cy="261.2" r="3.8"/><circle cx="489.1" cy="235.2" r="3.8"/><circle cx="544.4" cy="252.9" r="3.8"/><circle cx="452.6" cy="179.1" r="3.8"/><circle cx="447.7" cy="229.9" r="3.8"/><circle cx="710.2" cy="200.0" r="3.8"/><circle cx="518.7" cy="203.9" r="3.8"/><circle cx="256.5" cy="175.5" r="3.8"/><circle cx="554.0" cy="227.1" r="3.8"/><circle cx="508.9" cy="217.6" r="3.8"/><circle cx="372.5" cy="223.7" r="3.8"/><circle cx="689.3" cy="211.7" r="3.8"/><circle cx="642.8" cy="224.2" r="3.8"/><circle cx="704.3" cy="213.6" r="3.8"/><circle cx="556.9" cy="220.9" r="3.8"/><circle cx="472.5" cy="244.3" r="3.8"/><circle cx="547.2" cy="197.8" r="3.8"/><circle cx="714.1" cy="223.3" r="3.8"/><circle cx="382.5" cy="207.2" r="3.8"/><circle cx="619.5" cy="198.9" r="3.8"/><circle cx="641.3" cy="226.5" r="3.8"/><circle cx="536.7" cy="225.6" r="3.8"/><circle cx="428.0" cy="197.7" r="3.8"/><circle cx="621.5" cy="179.3" r="3.8"/><circle cx="632.0" cy="177.7" r="3.8"/><circle cx="314.6" cy="205.8" r="3.8"/><circle cx="591.2" cy="208.9" r="3.8"/><circle cx="559.9" cy="254.5" r="3.8"/><circle cx="491.7" cy="209.5" r="3.8"/><circle cx="526.6" cy="264.6" r="3.8"/><circle cx="695.9" cy="176.5" r="3.8"/><circle cx="663.9" cy="200.1" r="3.8"/><circle cx="561.6" cy="227.3" r="3.8"/><circle cx="578.8" cy="245.7" r="3.8"/><circle cx="828.3" cy="169.0" r="3.8"/><circle cx="266.8" cy="229.3" r="3.8"/><circle cx="304.6" cy="219.2" r="3.8"/><circle cx="773.2" cy="180.9" r="3.8"/><circle cx="511.5" cy="199.9" r="3.8"/><circle cx="736.6" cy="223.4" r="3.8"/><circle cx="782.3" cy="216.3" r="3.8"/><circle cx="342.7" cy="213.3" r="3.8"/><circle cx="571.5" cy="226.2" r="3.8"/><circle cx="538.3" cy="182.9" r="3.8"/><circle cx="545.6" cy="232.0" r="3.8"/><circle cx="381.2" cy="173.6" r="3.8"/><circle cx="514.8" cy="220.3" r="3.8"/><circle cx="543.0" cy="208.8" r="3.8"/><circle cx="643.8" cy="185.1" r="3.8"/><circle cx="523.9" cy="204.0" r="3.8"/><circle cx="701.9" cy="170.7" r="3.8"/><circle cx="654.1" cy="190.1" r="3.8"/><circle cx="613.4" cy="223.4" r="3.8"/><circle cx="553.8" cy="208.3" r="3.8"/><circle cx="405.1" cy="179.8" r="3.8"/><circle cx="464.8" cy="206.0" r="3.8"/><circle cx="427.6" cy="247.9" r="3.8"/><circle cx="394.2" cy="196.9" r="3.8"/><circle cx="531.1" cy="232.8" r="3.8"/><circle cx="497.2" cy="240.7" r="3.8"/><circle cx="491.1" cy="176.8" r="3.8"/><circle cx="674.0" cy="212.4" r="3.8"/><circle cx="502.2" cy="235.6" r="3.8"/><circle cx="705.8" cy="194.0" r="3.8"/><circle cx="636.2" cy="226.2" r="3.8"/><circle cx="693.5" cy="192.8" r="3.8"/><circle cx="824.6" cy="227.5" r="3.8"/><circle cx="589.1" cy="229.8" r="3.8"/><circle cx="583.7" cy="186.9" r="3.8"/><circle cx="287.6" cy="213.4" r="3.8"/><circle cx="639.2" cy="188.7" r="3.8"/><circle cx="533.1" cy="172.2" r="3.8"/><circle cx="513.7" cy="180.2" r="3.8"/><circle cx="705.2" cy="193.7" r="3.8"/><circle cx="758.9" cy="207.1" r="3.8"/><circle cx="494.1" cy="181.0" r="3.8"/><circle cx="502.5" cy="225.4" r="3.8"/><circle cx="504.6" cy="184.9" r="3.8"/><circle cx="573.9" cy="246.6" r="3.8"/><circle cx="703.7" cy="208.1" r="3.8"/><circle cx="649.1" cy="275.7" r="3.8"/><circle cx="456.7" cy="229.5" r="3.8"/><circle cx="478.2" cy="204.7" r="3.8"/><circle cx="570.8" cy="201.9" r="3.8"/><circle cx="355.9" cy="218.4" r="3.8"/><circle cx="530.3" cy="230.3" r="3.8"/><circle cx="635.2" cy="190.8" r="3.8"/><circle cx="535.1" cy="207.5" r="3.8"/><circle cx="275.9" cy="256.1" r="3.8"/><circle cx="443.3" cy="209.8" r="3.8"/><circle cx="574.3" cy="196.6" r="3.8"/><circle cx="403.2" cy="212.0" r="3.8"/><circle cx="598.9" cy="230.7" r="3.8"/><circle cx="645.2" cy="156.9" r="3.8"/><circle cx="481.9" cy="229.7" r="3.8"/><circle cx="513.5" cy="200.5" r="3.8"/><circle cx="450.8" cy="191.9" r="3.8"/><circle cx="791.4" cy="208.9" r="3.8"/><circle cx="668.6" cy="172.8" r="3.8"/><circle cx="694.9" cy="229.8" r="3.8"/><circle cx="385.8" cy="199.2" r="3.8"/><circle cx="673.8" cy="184.0" r="3.8"/><circle cx="569.4" cy="272.9" r="3.8"/><circle cx="321.3" cy="231.0" r="3.8"/><circle cx="546.6" cy="192.4" r="3.8"/><circle cx="638.4" cy="193.4" r="3.8"/><circle cx="675.1" cy="198.8" r="3.8"/><circle cx="443.3" cy="159.1" r="3.8"/><circle cx="475.7" cy="247.6" r="3.8"/><circle cx="663.2" cy="224.1" r="3.8"/><circle cx="529.9" cy="250.7" r="3.8"/><circle cx="548.7" cy="230.6" r="3.8"/><circle cx="438.2" cy="220.8" r="3.8"/><circle cx="487.8" cy="207.1" r="3.8"/><circle cx="675.8" cy="258.8" r="3.8"/><circle cx="403.1" cy="188.7" r="3.8"/><circle cx="668.6" cy="174.8" r="3.8"/><circle cx="500.7" cy="205.2" r="3.8"/><circle cx="643.3" cy="207.0" r="3.8"/><circle cx="611.9" cy="202.6" r="3.8"/><circle cx="603.5" cy="243.6" r="3.8"/><circle cx="488.7" cy="227.8" r="3.8"/><circle cx="574.3" cy="244.3" r="3.8"/><circle cx="620.0" cy="230.3" r="3.8"/><circle cx="517.3" cy="211.5" r="3.8"/><circle cx="684.5" cy="208.3" r="3.8"/><circle cx="515.0" cy="171.0" r="3.8"/><circle cx="682.2" cy="168.8" r="3.8"/><circle cx="586.3" cy="220.0" r="3.8"/><circle cx="482.8" cy="202.4" r="3.8"/><circle cx="373.2" cy="205.7" r="3.8"/><circle cx="625.1" cy="191.4" r="3.8"/><circle cx="474.0" cy="215.6" r="3.8"/><circle cx="780.5" cy="234.0" r="3.8"/><circle cx="673.8" cy="176.6" r="3.8"/><circle cx="600.0" cy="201.0" r="3.8"/><circle cx="732.7" cy="169.9" r="3.8"/><circle cx="674.4" cy="218.2" r="3.8"/><circle cx="595.6" cy="240.0" r="3.8"/><circle cx="382.0" cy="270.4" r="3.8"/><circle cx="534.7" cy="215.3" r="3.8"/><circle cx="550.7" cy="225.2" r="3.8"/><circle cx="506.5" cy="219.5" r="3.8"/><circle cx="784.6" cy="220.7" r="3.8"/><circle cx="282.9" cy="245.2" r="3.8"/><circle cx="450.0" cy="254.4" r="3.8"/><circle cx="683.3" cy="206.8" r="3.8"/><circle cx="687.2" cy="241.8" r="3.8"/><circle cx="599.1" cy="206.5" r="3.8"/><circle cx="389.7" cy="233.8" r="3.8"/><circle cx="471.3" cy="210.1" r="3.8"/><circle cx="554.1" cy="201.2" r="3.8"/><circle cx="549.1" cy="249.3" r="3.8"/><circle cx="444.3" cy="199.9" r="3.8"/><circle cx="661.0" cy="187.6" r="3.8"/><circle cx="610.4" cy="256.9" r="3.8"/><circle cx="576.2" cy="184.8" r="3.8"/><circle cx="510.0" cy="201.6" r="3.8"/><circle cx="636.1" cy="228.9" r="3.8"/><circle cx="652.6" cy="225.6" r="3.8"/><circle cx="761.2" cy="178.1" r="3.8"/><circle cx="467.6" cy="163.5" r="3.8"/><circle cx="262.6" cy="212.4" r="3.8"/><circle cx="521.1" cy="268.3" r="3.8"/><circle cx="607.8" cy="186.4" r="3.8"/><circle cx="615.1" cy="216.2" r="3.8"/><circle cx="778.1" cy="216.1" r="3.8"/><circle cx="608.8" cy="240.4" r="3.8"/><circle cx="558.7" cy="195.8" r="3.8"/><circle cx="429.6" cy="179.7" r="3.8"/><circle cx="459.7" cy="188.0" r="3.8"/><circle cx="500.3" cy="188.7" r="3.8"/><circle cx="337.0" cy="212.9" r="3.8"/><circle cx="572.6" cy="175.3" r="3.8"/><circle cx="627.8" cy="200.3" r="3.8"/><circle cx="440.1" cy="180.6" r="3.8"/><circle cx="537.8" cy="187.6" r="3.8"/><circle cx="703.4" cy="186.0" r="3.8"/><circle cx="535.9" cy="195.3" r="3.8"/><circle cx="690.3" cy="238.5" r="3.8"/><circle cx="604.3" cy="236.8" r="3.8"/><circle cx="496.1" cy="204.5" r="3.8"/><circle cx="666.3" cy="230.0" r="3.8"/><circle cx="517.4" cy="191.7" r="3.8"/><circle cx="655.6" cy="166.8" r="3.8"/><circle cx="381.4" cy="209.9" r="3.8"/><circle cx="513.0" cy="183.6" r="3.8"/><circle cx="437.3" cy="200.7" r="3.8"/><circle cx="437.9" cy="211.6" r="3.8"/><circle cx="431.7" cy="199.2" r="3.8"/><circle cx="452.6" cy="166.3" r="3.8"/><circle cx="395.0" cy="209.2" r="3.8"/><circle cx="469.9" cy="208.8" r="3.8"/><circle cx="594.8" cy="214.7" r="3.8"/><circle cx="565.5" cy="197.5" r="3.8"/><circle cx="353.0" cy="186.1" r="3.8"/><circle cx="545.0" cy="213.9" r="3.8"/><circle cx="535.9" cy="214.7" r="3.8"/><circle cx="597.5" cy="189.6" r="3.8"/><circle cx="673.9" cy="212.2" r="3.8"/><circle cx="507.0" cy="212.2" r="3.8"/><circle cx="633.3" cy="203.5" r="3.8"/><circle cx="670.5" cy="234.5" r="3.8"/><circle cx="655.3" cy="180.1" r="3.8"/><circle cx="504.6" cy="225.8" r="3.8"/><circle cx="529.2" cy="169.6" r="3.8"/><circle cx="678.3" cy="219.1" r="3.8"/><circle cx="575.3" cy="214.8" r="3.8"/><circle cx="353.8" cy="222.3" r="3.8"/><circle cx="250.7" cy="185.8" r="3.8"/><circle cx="633.8" cy="189.1" r="3.8"/><circle cx="653.6" cy="239.2" r="3.8"/><circle cx="529.4" cy="218.6" r="3.8"/><circle cx="540.4" cy="182.3" r="3.8"/><circle cx="426.3" cy="208.3" r="3.8"/><circle cx="462.0" cy="171.8" r="3.8"/><circle cx="631.9" cy="236.5" r="3.8"/><circle cx="702.2" cy="239.0" r="3.8"/><circle cx="520.3" cy="208.3" r="3.8"/><circle cx="525.5" cy="234.0" r="3.8"/><circle cx="693.6" cy="189.9" r="3.8"/><circle cx="277.9" cy="253.4" r="3.8"/><circle cx="450.7" cy="269.6" r="3.8"/><circle cx="559.3" cy="208.6" r="3.8"/><circle cx="391.6" cy="202.7" r="3.8"/><circle cx="578.2" cy="213.0" r="3.8"/><circle cx="353.6" cy="183.4" r="3.8"/><circle cx="644.5" cy="192.8" r="3.8"/><circle cx="306.1" cy="176.2" r="3.8"/><circle cx="642.2" cy="204.3" r="3.8"/><circle cx="452.2" cy="179.8" r="3.8"/><circle cx="531.4" cy="234.0" r="3.8"/><circle cx="653.0" cy="232.7" r="3.8"/><circle cx="277.4" cy="187.1" r="3.8"/><circle cx="379.4" cy="259.2" r="3.8"/><circle cx="372.8" cy="220.9" r="3.8"/><circle cx="485.6" cy="220.7" r="3.8"/><circle cx="542.9" cy="230.1" r="3.8"/><circle cx="652.8" cy="228.1" r="3.8"/><circle cx="462.3" cy="198.6" r="3.8"/><circle cx="615.1" cy="232.5" r="3.8"/><circle cx="748.7" cy="214.2" r="3.8"/><circle cx="636.5" cy="222.7" r="3.8"/><circle cx="671.8" cy="171.2" r="3.8"/><circle cx="500.5" cy="212.6" r="3.8"/><circle cx="477.5" cy="179.7" r="3.8"/><circle cx="479.1" cy="192.2" r="3.8"/><circle cx="717.7" cy="193.4" r="3.8"/><circle cx="663.4" cy="149.5" r="3.8"/><circle cx="454.9" cy="197.5" r="3.8"/><circle cx="815.3" cy="168.5" r="3.8"/><circle cx="667.0" cy="182.6" r="3.8"/><circle cx="470.8" cy="218.2" r="3.8"/><circle cx="448.8" cy="204.0" r="3.8"/><circle cx="341.6" cy="206.9" r="3.8"/><circle cx="706.6" cy="223.3" r="3.8"/><circle cx="711.9" cy="193.6" r="3.8"/><circle cx="398.5" cy="253.4" r="3.8"/><circle cx="342.9" cy="208.0" r="3.8"/><circle cx="688.6" cy="191.3" r="3.8"/><circle cx="613.1" cy="225.8" r="3.8"/><circle cx="549.0" cy="212.7" r="3.8"/><circle cx="420.1" cy="213.2" r="3.8"/><circle cx="808.2" cy="196.4" r="3.8"/><circle cx="665.3" cy="222.5" r="3.8"/><circle cx="369.8" cy="233.8" r="3.8"/><circle cx="686.9" cy="193.4" r="3.8"/><circle cx="543.4" cy="233.7" r="3.8"/><circle cx="648.7" cy="243.4" r="3.8"/><circle cx="656.8" cy="231.4" r="3.8"/><circle cx="505.3" cy="173.0" r="3.8"/><circle cx="782.5" cy="191.4" r="3.8"/><circle cx="535.0" cy="206.8" r="3.8"/><circle cx="557.1" cy="273.4" r="3.8"/><circle cx="817.0" cy="197.4" r="3.8"/><circle cx="493.6" cy="225.2" r="3.8"/><circle cx="705.9" cy="201.6" r="3.8"/><circle cx="562.9" cy="215.0" r="3.8"/><circle cx="573.4" cy="177.4" r="3.8"/><circle cx="663.6" cy="207.4" r="3.8"/><circle cx="441.4" cy="223.2" r="3.8"/><circle cx="665.0" cy="166.2" r="3.8"/><circle cx="435.4" cy="149.7" r="3.8"/><circle cx="576.1" cy="205.0" r="3.8"/><circle cx="505.7" cy="174.9" r="3.8"/><circle cx="638.8" cy="211.3" r="3.8"/><circle cx="509.7" cy="181.9" r="3.8"/><circle cx="374.7" cy="169.1" r="3.8"/><circle cx="609.6" cy="162.2" r="3.8"/><circle cx="660.3" cy="245.9" r="3.8"/><circle cx="521.9" cy="159.0" r="3.8"/><circle cx="675.1" cy="156.3" r="3.8"/><circle cx="462.0" cy="156.5" r="3.8"/><circle cx="580.2" cy="270.8" r="3.8"/><circle cx="773.3" cy="191.0" r="3.8"/><circle cx="518.8" cy="215.8" r="3.8"/><circle cx="450.5" cy="169.2" r="3.8"/><circle cx="559.0" cy="212.5" r="3.8"/><circle cx="571.6" cy="195.1" r="3.8"/><circle cx="441.7" cy="201.1" r="3.8"/><circle cx="430.4" cy="220.5" r="3.8"/><circle cx="517.1" cy="263.6" r="3.8"/><circle cx="707.4" cy="222.6" r="3.8"/><circle cx="417.3" cy="218.5" r="3.8"/><circle cx="377.6" cy="211.4" r="3.8"/><circle cx="685.5" cy="213.5" r="3.8"/><circle cx="691.7" cy="236.8" r="3.8"/><circle cx="468.9" cy="238.6" r="3.8"/><circle cx="615.8" cy="257.3" r="3.8"/><circle cx="641.0" cy="237.4" r="3.8"/><circle cx="552.1" cy="208.1" r="3.8"/><circle cx="650.9" cy="228.3" r="3.8"/><circle cx="601.8" cy="208.2" r="3.8"/><circle cx="391.8" cy="254.2" r="3.8"/><circle cx="413.8" cy="212.3" r="3.8"/><circle cx="422.1" cy="234.4" r="3.8"/><circle cx="432.6" cy="178.6" r="3.8"/><circle cx="480.7" cy="239.0" r="3.8"/><circle cx="500.0" cy="250.6" r="3.8"/><circle cx="505.2" cy="234.5" r="3.8"/><circle cx="632.4" cy="215.1" r="3.8"/><circle cx="591.5" cy="209.1" r="3.8"/><circle cx="590.2" cy="184.1" r="3.8"/><circle cx="586.7" cy="187.0" r="3.8"/><circle cx="421.9" cy="221.9" r="3.8"/><circle cx="493.9" cy="238.5" r="3.8"/><circle cx="555.1" cy="235.6" r="3.8"/><circle cx="570.8" cy="162.8" r="3.8"/><circle cx="458.4" cy="176.4" r="3.8"/><circle cx="703.5" cy="180.7" r="3.8"/><circle cx="576.0" cy="207.3" r="3.8"/><circle cx="590.6" cy="239.2" r="3.8"/><circle cx="559.5" cy="222.2" r="3.8"/><circle cx="504.3" cy="209.2" r="3.8"/><circle cx="529.4" cy="251.1" r="3.8"/><circle cx="797.7" cy="209.3" r="3.8"/><circle cx="621.9" cy="232.5" r="3.8"/><circle cx="556.7" cy="261.4" r="3.8"/><circle cx="357.3" cy="197.4" r="3.8"/><circle cx="579.5" cy="178.6" r="3.8"/><circle cx="503.5" cy="164.8" r="3.8"/><circle cx="591.0" cy="186.0" r="3.8"/><circle cx="244.2" cy="184.1" r="3.8"/><circle cx="421.5" cy="218.6" r="3.8"/><circle cx="746.8" cy="226.2" r="3.8"/><circle cx="677.8" cy="217.3" r="3.8"/><circle cx="663.0" cy="233.8" r="3.8"/><circle cx="377.7" cy="239.4" r="3.8"/><circle cx="613.8" cy="213.1" r="3.8"/><circle cx="652.1" cy="186.8" r="3.8"/><circle cx="641.8" cy="186.2" r="3.8"/><circle cx="559.2" cy="216.9" r="3.8"/><circle cx="574.1" cy="184.5" r="3.8"/><circle cx="509.3" cy="257.7" r="3.8"/><circle cx="468.6" cy="185.2" r="3.8"/><circle cx="426.0" cy="230.1" r="3.8"/><circle cx="470.8" cy="192.1" r="3.8"/><circle cx="645.1" cy="227.0" r="3.8"/><circle cx="643.2" cy="233.1" r="3.8"/><circle cx="581.4" cy="231.1" r="3.8"/><circle cx="603.7" cy="180.9" r="3.8"/><circle cx="484.4" cy="220.7" r="3.8"/><circle cx="499.5" cy="199.9" r="3.8"/><circle cx="643.7" cy="243.1" r="3.8"/><circle cx="719.0" cy="211.1" r="3.8"/><circle cx="648.3" cy="190.9" r="3.8"/><circle cx="509.8" cy="204.3" r="3.8"/><circle cx="633.6" cy="263.3" r="3.8"/><circle cx="542.5" cy="177.3" r="3.8"/><circle cx="776.8" cy="166.6" r="3.8"/><circle cx="557.7" cy="215.2" r="3.8"/><circle cx="531.0" cy="210.2" r="3.8"/><circle cx="441.8" cy="196.6" r="3.8"/><circle cx="647.7" cy="242.4" r="3.8"/><circle cx="590.1" cy="254.1" r="3.8"/><circle cx="542.3" cy="178.9" r="3.8"/><circle cx="515.3" cy="240.3" r="3.8"/><circle cx="611.9" cy="232.9" r="3.8"/><circle cx="560.2" cy="206.8" r="3.8"/><circle cx="606.3" cy="207.3" r="3.8"/><circle cx="724.0" cy="195.5" r="3.8"/><circle cx="416.3" cy="203.3" r="3.8"/><circle cx="522.9" cy="235.6" r="3.8"/><circle cx="439.0" cy="210.9" r="3.8"/><circle cx="663.4" cy="215.6" r="3.8"/><circle cx="514.2" cy="188.0" r="3.8"/><circle cx="541.2" cy="216.4" r="3.8"/><circle cx="470.3" cy="229.4" r="3.8"/><circle cx="515.9" cy="230.2" r="3.8"/><circle cx="435.3" cy="227.7" r="3.8"/><circle cx="370.5" cy="244.3" r="3.8"/><circle cx="737.1" cy="190.7" r="3.8"/><circle cx="541.8" cy="218.6" r="3.8"/><circle cx="616.2" cy="195.1" r="3.8"/><circle cx="643.1" cy="183.6" r="3.8"/><circle cx="431.4" cy="245.0" r="3.8"/><circle cx="426.0" cy="223.4" r="3.8"/><circle cx="546.1" cy="273.4" r="3.8"/><circle cx="585.9" cy="197.5" r="3.8"/><circle cx="405.3" cy="241.1" r="3.8"/><circle cx="637.9" cy="220.6" r="3.8"/><circle cx="579.0" cy="235.1" r="3.8"/><circle cx="437.3" cy="181.9" r="3.8"/><circle cx="584.8" cy="240.0" r="3.8"/><circle cx="679.4" cy="225.7" r="3.8"/><circle cx="491.8" cy="272.3" r="3.8"/><circle cx="707.1" cy="227.4" r="3.8"/><circle cx="559.4" cy="203.5" r="3.8"/><circle cx="510.2" cy="235.0" r="3.8"/><circle cx="611.4" cy="174.7" r="3.8"/><circle cx="375.1" cy="219.2" r="3.8"/><circle cx="506.1" cy="221.1" r="3.8"/><circle cx="408.9" cy="233.3" r="3.8"/><circle cx="484.1" cy="182.8" r="3.8"/><circle cx="651.2" cy="178.1" r="3.8"/><circle cx="457.2" cy="252.5" r="3.8"/><circle cx="461.1" cy="214.0" r="3.8"/><circle cx="436.4" cy="213.0" r="3.8"/><circle cx="406.7" cy="261.1" r="3.8"/><circle cx="457.3" cy="210.9" r="3.8"/><circle cx="589.7" cy="155.9" r="3.8"/><circle cx="518.8" cy="263.7" r="3.8"/><circle cx="623.5" cy="214.1" r="3.8"/><circle cx="402.7" cy="235.8" r="3.8"/><circle cx="464.8" cy="258.0" r="3.8"/><circle cx="788.9" cy="233.3" r="3.8"/><circle cx="759.4" cy="224.0" r="3.8"/><circle cx="522.1" cy="144.7" r="3.8"/><circle cx="600.4" cy="199.5" r="3.8"/><circle cx="457.2" cy="172.6" r="3.8"/><circle cx="632.4" cy="268.3" r="3.8"/><circle cx="576.2" cy="212.4" r="3.8"/><circle cx="784.6" cy="210.0" r="3.8"/><circle cx="526.9" cy="199.5" r="3.8"/><circle cx="779.5" cy="227.1" r="3.8"/><circle cx="581.2" cy="201.5" r="3.8"/><circle cx="689.7" cy="191.3" r="3.8"/><circle cx="304.7" cy="199.1" r="3.8"/><circle cx="535.9" cy="210.2" r="3.8"/><circle cx="394.2" cy="220.2" r="3.8"/><circle cx="448.9" cy="192.3" r="3.8"/><circle cx="406.1" cy="212.9" r="3.8"/><circle cx="514.0" cy="212.9" r="3.8"/><circle cx="513.6" cy="218.0" r="3.8"/><circle cx="463.8" cy="229.0" r="3.8"/><circle cx="466.6" cy="236.2" r="3.8"/><circle cx="608.2" cy="244.0" r="3.8"/><circle cx="381.2" cy="259.9" r="3.8"/><circle cx="738.3" cy="202.3" r="3.8"/><circle cx="586.2" cy="198.0" r="3.8"/><circle cx="471.7" cy="222.0" r="3.8"/><circle cx="315.0" cy="219.1" r="3.8"/><circle cx="654.1" cy="199.8" r="3.8"/><circle cx="656.0" cy="186.9" r="3.8"/><circle cx="468.3" cy="215.0" r="3.8"/><circle cx="665.5" cy="200.0" r="3.8"/><circle cx="624.1" cy="206.3" r="3.8"/><circle cx="491.9" cy="176.4" r="3.8"/><circle cx="552.6" cy="183.0" r="3.8"/><circle cx="441.9" cy="193.0" r="3.8"/><circle cx="351.8" cy="223.3" r="3.8"/><circle cx="505.6" cy="194.9" r="3.8"/><circle cx="607.8" cy="199.8" r="3.8"/><circle cx="594.5" cy="190.7" r="3.8"/><circle cx="369.7" cy="225.3" r="3.8"/><circle cx="681.1" cy="212.7" r="3.8"/><circle cx="467.5" cy="160.2" r="3.8"/><circle cx="416.8" cy="192.7" r="3.8"/><circle cx="734.0" cy="193.1" r="3.8"/><circle cx="475.9" cy="221.5" r="3.8"/><circle cx="702.1" cy="219.4" r="3.8"/><circle cx="431.0" cy="205.0" r="3.8"/><circle cx="729.8" cy="212.4" r="3.8"/><circle cx="482.4" cy="251.5" r="3.8"/><circle cx="557.4" cy="194.2" r="3.8"/><circle cx="564.0" cy="203.5" r="3.8"/><circle cx="640.1" cy="196.3" r="3.8"/><circle cx="487.4" cy="186.5" r="3.8"/><circle cx="628.0" cy="183.1" r="3.8"/><circle cx="473.6" cy="196.2" r="3.8"/><circle cx="590.5" cy="191.2" r="3.8"/><circle cx="527.8" cy="211.4" r="3.8"/><circle cx="670.9" cy="220.3" r="3.8"/><circle cx="644.3" cy="198.8" r="3.8"/><circle cx="682.1" cy="231.7" r="3.8"/><circle cx="566.1" cy="193.1" r="3.8"/><circle cx="545.6" cy="180.0" r="3.8"/><circle cx="765.6" cy="209.5" r="3.8"/><circle cx="559.0" cy="211.9" r="3.8"/><circle cx="641.8" cy="213.6" r="3.8"/><circle cx="325.9" cy="212.4" r="3.8"/><circle cx="598.4" cy="185.6" r="3.8"/><circle cx="633.6" cy="206.3" r="3.8"/><circle cx="590.1" cy="227.4" r="3.8"/><circle cx="670.5" cy="176.7" r="3.8"/><circle cx="652.6" cy="166.3" r="3.8"/><circle cx="660.8" cy="216.6" r="3.8"/><circle cx="627.2" cy="187.4" r="3.8"/><circle cx="423.0" cy="217.5" r="3.8"/><circle cx="588.0" cy="208.7" r="3.8"/><circle cx="501.1" cy="214.9" r="3.8"/><circle cx="545.1" cy="166.9" r="3.8"/><circle cx="439.7" cy="225.4" r="3.8"/><circle cx="335.5" cy="205.5" r="3.8"/><circle cx="670.3" cy="249.9" r="3.8"/><circle cx="585.1" cy="264.4" r="3.8"/><circle cx="563.0" cy="201.2" r="3.8"/><circle cx="518.4" cy="216.2" r="3.8"/><circle cx="750.4" cy="213.3" r="3.8"/><circle cx="692.5" cy="220.7" r="3.8"/><circle cx="404.3" cy="194.3" r="3.8"/><circle cx="456.4" cy="169.8" r="3.8"/><circle cx="554.4" cy="195.1" r="3.8"/><circle cx="675.9" cy="195.7" r="3.8"/><circle cx="306.8" cy="237.9" r="3.8"/><circle cx="611.9" cy="190.3" r="3.8"/><circle cx="383.4" cy="256.1" r="3.8"/><circle cx="603.9" cy="232.3" r="3.8"/><circle cx="492.0" cy="220.2" r="3.8"/><circle cx="540.0" cy="207.1" r="3.8"/><circle cx="612.3" cy="164.0" r="3.8"/><circle cx="762.6" cy="189.1" r="3.8"/><circle cx="450.1" cy="189.6" r="3.8"/><circle cx="545.1" cy="229.7" r="3.8"/><circle cx="578.7" cy="218.4" r="3.8"/><circle cx="476.3" cy="210.8" r="3.8"/><circle cx="533.0" cy="162.5" r="3.8"/><circle cx="638.7" cy="217.7" r="3.8"/><circle cx="655.5" cy="208.4" r="3.8"/><circle cx="610.0" cy="182.7" r="3.8"/><circle cx="642.8" cy="207.9" r="3.8"/><circle cx="493.8" cy="214.6" r="3.8"/><circle cx="566.5" cy="193.6" r="3.8"/><circle cx="447.5" cy="205.6" r="3.8"/><circle cx="510.7" cy="190.5" r="3.8"/><circle cx="365.8" cy="195.4" r="3.8"/><circle cx="715.8" cy="199.6" r="3.8"/><circle cx="618.1" cy="178.5" r="3.8"/><circle cx="552.3" cy="197.6" r="3.8"/><circle cx="538.4" cy="222.8" r="3.8"/><circle cx="405.1" cy="218.2" r="3.8"/><circle cx="641.2" cy="193.1" r="3.8"/><circle cx="466.1" cy="195.6" r="3.8"/><circle cx="576.7" cy="203.2" r="3.8"/><circle cx="641.2" cy="200.2" r="3.8"/><circle cx="528.1" cy="217.5" r="3.8"/><circle cx="665.9" cy="227.1" r="3.8"/><circle cx="666.6" cy="166.7" r="3.8"/><circle cx="440.6" cy="224.2" r="3.8"/><circle cx="328.8" cy="217.0" r="3.8"/><circle cx="369.6" cy="191.5" r="3.8"/><circle cx="506.7" cy="173.4" r="3.8"/><circle cx="584.7" cy="152.1" r="3.8"/><circle cx="473.3" cy="214.2" r="3.8"/><circle cx="703.8" cy="207.4" r="3.8"/><circle cx="478.9" cy="217.3" r="3.8"/><circle cx="496.8" cy="179.2" r="3.8"/><circle cx="665.3" cy="193.0" r="3.8"/><circle cx="693.9" cy="185.8" r="3.8"/><circle cx="563.4" cy="201.7" r="3.8"/><circle cx="737.9" cy="236.7" r="3.8"/><circle cx="480.6" cy="190.2" r="3.8"/><circle cx="491.3" cy="180.1" r="3.8"/><circle cx="532.7" cy="207.1" r="3.8"/><circle cx="529.1" cy="260.4" r="3.8"/><circle cx="602.5" cy="180.2" r="3.8"/><circle cx="656.2" cy="218.9" r="3.8"/><circle cx="559.1" cy="192.1" r="3.8"/><circle cx="447.1" cy="197.4" r="3.8"/><circle cx="631.4" cy="217.0" r="3.8"/><circle cx="356.2" cy="177.1" r="3.8"/><circle cx="434.4" cy="211.1" r="3.8"/><circle cx="572.7" cy="243.0" r="3.8"/><circle cx="498.1" cy="244.6" r="3.8"/><circle cx="490.8" cy="226.9" r="3.8"/><circle cx="533.9" cy="229.6" r="3.8"/><circle cx="764.2" cy="221.4" r="3.8"/><circle cx="615.7" cy="221.2" r="3.8"/><circle cx="623.4" cy="206.3" r="3.8"/><circle cx="509.1" cy="166.6" r="3.8"/><circle cx="535.7" cy="222.6" r="3.8"/><circle cx="423.5" cy="198.1" r="3.8"/><circle cx="666.1" cy="268.2" r="3.8"/><circle cx="414.1" cy="179.9" r="3.8"/><circle cx="824.4" cy="220.3" r="3.8"/><circle cx="605.2" cy="198.0" r="3.8"/><circle cx="470.6" cy="196.7" r="3.8"/><circle cx="588.9" cy="235.9" r="3.8"/><circle cx="344.0" cy="190.8" r="3.8"/><circle cx="492.9" cy="250.0" r="3.8"/><circle cx="710.1" cy="219.1" r="3.8"/><circle cx="577.6" cy="216.7" r="3.8"/><circle cx="520.4" cy="267.4" r="3.8"/><circle cx="646.1" cy="250.6" r="3.8"/><circle cx="567.3" cy="201.9" r="3.8"/><circle cx="497.2" cy="149.5" r="3.8"/><circle cx="541.0" cy="211.3" r="3.8"/><circle cx="568.9" cy="219.4" r="3.8"/><circle cx="593.8" cy="225.7" r="3.8"/><circle cx="426.9" cy="209.5" r="3.8"/><circle cx="591.9" cy="140.1" r="3.8"/><circle cx="524.7" cy="213.1" r="3.8"/><circle cx="723.1" cy="202.3" r="3.8"/><circle cx="683.6" cy="231.5" r="3.8"/><circle cx="838.9" cy="202.6" r="3.8"/><circle cx="525.9" cy="265.9" r="3.8"/><circle cx="448.2" cy="190.8" r="3.8"/><circle cx="560.0" cy="241.2" r="3.8"/><circle cx="584.6" cy="254.7" r="3.8"/><circle cx="409.8" cy="195.6" r="3.8"/><circle cx="508.4" cy="200.7" r="3.8"/><circle cx="410.7" cy="231.8" r="3.8"/><circle cx="635.2" cy="218.1" r="3.8"/><circle cx="630.4" cy="191.0" r="3.8"/><circle cx="640.4" cy="236.6" r="3.8"/><circle cx="575.0" cy="177.5" r="3.8"/><circle cx="552.4" cy="189.4" r="3.8"/><circle cx="338.1" cy="234.8" r="3.8"/><circle cx="353.8" cy="211.7" r="3.8"/><circle cx="628.0" cy="222.9" r="3.8"/><circle cx="480.5" cy="230.5" r="3.8"/><circle cx="494.9" cy="165.4" r="3.8"/><circle cx="515.2" cy="229.2" r="3.8"/><circle cx="536.9" cy="208.4" r="3.8"/><circle cx="380.2" cy="180.1" r="3.8"/><circle cx="686.6" cy="160.2" r="3.8"/><circle cx="751.6" cy="231.0" r="3.8"/><circle cx="585.2" cy="184.3" r="3.8"/><circle cx="658.0" cy="192.7" r="3.8"/><circle cx="623.6" cy="240.2" r="3.8"/><circle cx="546.5" cy="211.3" r="3.8"/><circle cx="515.0" cy="257.0" r="3.8"/><circle cx="490.9" cy="219.5" r="3.8"/><circle cx="484.2" cy="189.1" r="3.8"/><circle cx="437.1" cy="161.8" r="3.8"/><circle cx="726.4" cy="181.2" r="3.8"/><circle cx="545.2" cy="224.1" r="3.8"/><circle cx="386.6" cy="180.2" r="3.8"/><circle cx="802.8" cy="178.6" r="3.8"/><circle cx="765.5" cy="239.2" r="3.8"/><circle cx="666.1" cy="195.2" r="3.8"/><circle cx="523.3" cy="231.2" r="3.8"/><circle cx="501.4" cy="232.9" r="3.8"/><circle cx="466.2" cy="183.7" r="3.8"/><circle cx="494.7" cy="184.3" r="3.8"/><circle cx="409.7" cy="212.3" r="3.8"/><circle cx="646.2" cy="171.4" r="3.8"/><circle cx="300.2" cy="209.2" r="3.8"/><circle cx="347.5" cy="206.1" r="3.8"/><circle cx="625.9" cy="269.3" r="3.8"/><circle cx="609.0" cy="173.8" r="3.8"/><circle cx="548.2" cy="182.5" r="3.8"/><circle cx="345.7" cy="234.0" r="3.8"/><circle cx="281.4" cy="180.1" r="3.8"/><circle cx="466.2" cy="208.8" r="3.8"/><circle cx="837.6" cy="195.1" r="3.8"/><circle cx="727.8" cy="194.0" r="3.8"/><circle cx="593.1" cy="198.1" r="3.8"/><circle cx="525.9" cy="227.8" r="3.8"/><circle cx="519.4" cy="195.1" r="3.8"/><circle cx="632.7" cy="176.0" r="3.8"/><circle cx="552.8" cy="210.3" r="3.8"/><circle cx="474.4" cy="239.0" r="3.8"/><circle cx="752.0" cy="216.8" r="3.8"/><circle cx="730.4" cy="193.4" r="3.8"/><circle cx="556.9" cy="189.1" r="3.8"/><circle cx="401.5" cy="249.4" r="3.8"/><circle cx="741.8" cy="209.2" r="3.8"/><circle cx="637.4" cy="235.5" r="3.8"/><circle cx="649.9" cy="213.8" r="3.8"/><circle cx="709.3" cy="188.4" r="3.8"/><circle cx="412.4" cy="216.2" r="3.8"/><circle cx="659.7" cy="226.5" r="3.8"/><circle cx="602.4" cy="251.1" r="3.8"/><circle cx="471.5" cy="220.4" r="3.8"/><circle cx="726.2" cy="214.1" r="3.8"/><circle cx="627.6" cy="173.1" r="3.8"/><circle cx="629.2" cy="184.2" r="3.8"/><circle cx="719.5" cy="196.8" r="3.8"/><circle cx="530.7" cy="226.4" r="3.8"/><circle cx="596.3" cy="204.4" r="3.8"/><circle cx="487.1" cy="184.8" r="3.8"/><circle cx="580.1" cy="203.4" r="3.8"/><circle cx="656.1" cy="227.0" r="3.8"/><circle cx="351.8" cy="208.0" r="3.8"/><circle cx="532.7" cy="165.9" r="3.8"/><circle cx="491.9" cy="212.8" r="3.8"/><circle cx="777.0" cy="185.4" r="3.8"/><circle cx="448.9" cy="233.6" r="3.8"/><circle cx="600.1" cy="150.1" r="3.8"/><circle cx="565.8" cy="238.1" r="3.8"/><circle cx="538.0" cy="232.6" r="3.8"/><circle cx="568.8" cy="246.5" r="3.8"/><circle cx="697.2" cy="180.9" r="3.8"/><circle cx="487.4" cy="171.0" r="3.8"/><circle cx="727.1" cy="193.9" r="3.8"/><circle cx="639.7" cy="190.2" r="3.8"/><circle cx="818.0" cy="180.2" r="3.8"/><circle cx="580.7" cy="202.7" r="3.8"/><circle cx="654.4" cy="214.7" r="3.8"/><circle cx="517.0" cy="185.2" r="3.8"/><circle cx="490.5" cy="207.6" r="3.8"/><circle cx="586.2" cy="264.6" r="3.8"/><circle cx="565.0" cy="226.0" r="3.8"/><circle cx="472.3" cy="200.5" r="3.8"/><circle cx="496.1" cy="251.3" r="3.8"/><circle cx="503.0" cy="232.7" r="3.8"/><circle cx="742.5" cy="199.4" r="3.8"/><circle cx="304.7" cy="175.5" r="3.8"/><circle cx="484.8" cy="186.1" r="3.8"/><circle cx="313.7" cy="208.4" r="3.8"/><circle cx="553.0" cy="202.9" r="3.8"/><circle cx="450.6" cy="182.5" r="3.8"/><circle cx="688.9" cy="233.1" r="3.8"/><circle cx="489.1" cy="192.5" r="3.8"/><circle cx="416.9" cy="178.3" r="3.8"/><circle cx="308.4" cy="217.7" r="3.8"/><circle cx="624.3" cy="234.2" r="3.8"/><circle cx="723.1" cy="197.6" r="3.8"/><circle cx="554.2" cy="236.6" r="3.8"/><circle cx="434.0" cy="197.5" r="3.8"/><circle cx="565.9" cy="156.5" r="3.8"/><circle cx="810.3" cy="218.2" r="3.8"/><circle cx="495.8" cy="178.8" r="3.8"/><circle cx="416.5" cy="198.4" r="3.8"/><circle cx="532.9" cy="187.2" r="3.8"/><circle cx="749.2" cy="239.7" r="3.8"/><circle cx="548.5" cy="193.4" r="3.8"/><circle cx="524.2" cy="198.6" r="3.8"/><circle cx="463.4" cy="215.6" r="3.8"/><circle cx="482.3" cy="215.8" r="3.8"/><circle cx="325.5" cy="217.4" r="3.8"/><circle cx="451.4" cy="226.3" r="3.8"/><circle cx="734.9" cy="199.5" r="3.8"/><circle cx="776.5" cy="191.8" r="3.8"/><circle cx="647.0" cy="202.7" r="3.8"/><circle cx="627.2" cy="169.0" r="3.8"/><circle cx="395.9" cy="193.5" r="3.8"/><circle cx="505.5" cy="213.3" r="3.8"/><circle cx="326.2" cy="171.2" r="3.8"/><circle cx="550.5" cy="275.9" r="3.8"/><circle cx="661.2" cy="196.8" r="3.8"/><circle cx="646.9" cy="188.8" r="3.8"/><circle cx="493.4" cy="172.4" r="3.8"/><circle cx="660.1" cy="207.0" r="3.8"/><circle cx="664.8" cy="216.0" r="3.8"/><circle cx="417.7" cy="233.8" r="3.8"/><circle cx="750.9" cy="190.3" r="3.8"/><circle cx="504.0" cy="205.1" r="3.8"/><circle cx="252.5" cy="243.2" r="3.8"/><circle cx="500.1" cy="237.9" r="3.8"/><circle cx="678.4" cy="207.1" r="3.8"/><circle cx="327.6" cy="228.3" r="3.8"/><circle cx="554.5" cy="244.0" r="3.8"/><circle cx="533.4" cy="250.8" r="3.8"/><circle cx="430.2" cy="216.9" r="3.8"/><circle cx="577.4" cy="224.6" r="3.8"/><circle cx="506.0" cy="204.2" r="3.8"/><circle cx="746.0" cy="176.2" r="3.8"/><circle cx="680.1" cy="201.5" r="3.8"/><circle cx="616.6" cy="203.4" r="3.8"/><circle cx="624.0" cy="215.6" r="3.8"/><circle cx="392.9" cy="199.6" r="3.8"/><circle cx="625.7" cy="213.1" r="3.8"/><circle cx="350.0" cy="201.0" r="3.8"/><circle cx="457.1" cy="226.5" r="3.8"/><circle cx="524.1" cy="200.7" r="3.8"/><circle cx="556.3" cy="179.9" r="3.8"/><circle cx="548.1" cy="238.7" r="3.8"/><circle cx="679.8" cy="258.9" r="3.8"/><circle cx="544.6" cy="190.3" r="3.8"/><circle cx="551.6" cy="213.1" r="3.8"/><circle cx="754.4" cy="181.2" r="3.8"/><circle cx="386.3" cy="181.0" r="3.8"/><circle cx="563.9" cy="223.9" r="3.8"/><circle cx="622.5" cy="241.2" r="3.8"/><circle cx="673.4" cy="186.2" r="3.8"/><circle cx="579.7" cy="193.9" r="3.8"/><circle cx="594.9" cy="190.1" r="3.8"/><circle cx="536.7" cy="218.9" r="3.8"/><circle cx="580.3" cy="172.0" r="3.8"/><circle cx="775.5" cy="204.1" r="3.8"/><circle cx="547.0" cy="159.3" r="3.8"/><circle cx="358.8" cy="166.6" r="3.8"/><circle cx="637.3" cy="211.8" r="3.8"/><circle cx="545.5" cy="211.2" r="3.8"/><circle cx="787.3" cy="192.1" r="3.8"/><circle cx="390.8" cy="189.4" r="3.8"/><circle cx="501.0" cy="188.8" r="3.8"/><circle cx="459.7" cy="224.9" r="3.8"/><circle cx="576.1" cy="228.4" r="3.8"/><circle cx="597.0" cy="223.1" r="3.8"/><circle cx="470.1" cy="230.3" r="3.8"/><circle cx="620.9" cy="201.5" r="3.8"/><circle cx="448.7" cy="211.6" r="3.8"/><circle cx="738.3" cy="180.4" r="3.8"/><circle cx="293.4" cy="183.4" r="3.8"/><circle cx="593.1" cy="202.9" r="3.8"/><circle cx="326.7" cy="188.3" r="3.8"/><circle cx="766.1" cy="210.7" r="3.8"/><circle cx="661.2" cy="210.6" r="3.8"/><circle cx="475.9" cy="213.5" r="3.8"/><circle cx="678.6" cy="186.8" r="3.8"/><circle cx="615.9" cy="210.2" r="3.8"/><circle cx="469.0" cy="203.5" r="3.8"/><circle cx="770.5" cy="213.9" r="3.8"/><circle cx="817.6" cy="193.2" r="3.8"/><circle cx="725.2" cy="181.9" r="3.8"/><circle cx="467.7" cy="215.3" r="3.8"/><circle cx="586.5" cy="262.8" r="3.8"/><circle cx="640.4" cy="259.8" r="3.8"/><circle cx="465.0" cy="204.3" r="3.8"/><circle cx="608.7" cy="205.0" r="3.8"/><circle cx="448.4" cy="209.0" r="3.8"/><circle cx="440.4" cy="195.5" r="3.8"/><circle cx="355.8" cy="207.8" r="3.8"/><circle cx="733.6" cy="226.1" r="3.8"/><circle cx="593.8" cy="260.7" r="3.8"/><circle cx="682.0" cy="191.1" r="3.8"/><circle cx="513.0" cy="224.8" r="3.8"/><circle cx="544.3" cy="167.9" r="3.8"/><circle cx="571.3" cy="166.4" r="3.8"/><circle cx="592.3" cy="216.9" r="3.8"/><circle cx="552.0" cy="209.0" r="3.8"/><circle cx="691.9" cy="193.2" r="3.8"/><circle cx="572.7" cy="225.2" r="3.8"/><circle cx="620.6" cy="182.5" r="3.8"/><circle cx="463.5" cy="201.9" r="3.8"/><circle cx="643.7" cy="220.9" r="3.8"/><circle cx="614.6" cy="184.3" r="3.8"/><circle cx="646.4" cy="165.5" r="3.8"/><circle cx="638.3" cy="178.5" r="3.8"/><circle cx="449.9" cy="253.6" r="3.8"/><circle cx="682.5" cy="199.1" r="3.8"/><circle cx="563.8" cy="212.6" r="3.8"/><circle cx="374.5" cy="175.1" r="3.8"/><circle cx="505.3" cy="206.3" r="3.8"/><circle cx="785.3" cy="227.0" r="3.8"/><circle cx="711.8" cy="195.7" r="3.8"/><circle cx="588.8" cy="173.2" r="3.8"/><circle cx="525.5" cy="201.9" r="3.8"/><circle cx="515.4" cy="210.8" r="3.8"/><circle cx="503.6" cy="207.6" r="3.8"/><circle cx="299.0" cy="181.1" r="3.8"/><circle cx="465.6" cy="163.1" r="3.8"/><circle cx="476.0" cy="206.9" r="3.8"/><circle cx="399.8" cy="196.5" r="3.8"/><circle cx="467.9" cy="204.2" r="3.8"/><circle cx="804.3" cy="208.2" r="3.8"/><circle cx="363.5" cy="211.3" r="3.8"/><circle cx="482.2" cy="196.9" r="3.8"/><circle cx="772.1" cy="195.9" r="3.8"/><circle cx="715.4" cy="187.5" r="3.8"/><circle cx="666.0" cy="185.5" r="3.8"/><circle cx="585.6" cy="230.5" r="3.8"/><circle cx="562.6" cy="207.3" r="3.8"/><circle cx="662.3" cy="227.7" r="3.8"/><circle cx="428.6" cy="261.2" r="3.8"/><circle cx="540.6" cy="245.2" r="3.8"/><circle cx="525.5" cy="186.5" r="3.8"/><circle cx="507.6" cy="230.9" r="3.8"/><circle cx="495.9" cy="205.4" r="3.8"/><circle cx="405.7" cy="212.2" r="3.8"/><circle cx="636.2" cy="223.0" r="3.8"/><circle cx="165.4" cy="140.3" r="3.8"/><circle cx="202.3" cy="148.2" r="3.8"/><circle cx="182.4" cy="161.1" r="3.8"/><circle cx="119.6" cy="167.1" r="3.8"/><circle cx="113.4" cy="174.3" r="3.8"/><circle cx="191.3" cy="171.2" r="3.8"/><circle cx="113.4" cy="182.2" r="3.8"/><circle cx="134.5" cy="182.9" r="3.8"/><circle cx="127.1" cy="188.7" r="3.8"/><circle cx="131.1" cy="189.4" r="3.8"/><circle cx="113.4" cy="194.0" r="3.8"/><circle cx="127.1" cy="194.2" r="3.8"/><circle cx="136.4" cy="193.7" r="3.8"/><circle cx="139.5" cy="197.3" r="3.8"/><circle cx="172.3" cy="185.3" r="3.8"/><circle cx="189.3" cy="184.4" r="3.8"/><circle cx="197.0" cy="180.3" r="3.8"/><circle cx="205.4" cy="177.9" r="3.8"/><circle cx="211.4" cy="174.5" r="3.8"/><circle cx="209.0" cy="180.3" r="3.8"/><circle cx="208.3" cy="185.6" r="3.8"/><circle cx="195.3" cy="195.1" r="3.8"/><circle cx="185.3" cy="198.3" r="3.8"/><circle cx="165.4" cy="201.1" r="3.8"/><circle cx="200.6" cy="203.1" r="3.8"/><circle cx="209.5" cy="197.1" r="3.8"/><circle cx="146.7" cy="211.4" r="3.8"/><circle cx="160.4" cy="214.3" r="3.8"/><circle cx="179.5" cy="210.2" r="3.8"/><circle cx="181.4" cy="216.2" r="3.8"/><circle cx="200.6" cy="211.4" r="3.8"/><circle cx="137.1" cy="221.5" r="3.8"/><circle cx="137.3" cy="221.8" r="3.8"/><circle cx="207.1" cy="221.0" r="3.8"/><circle cx="213.3" cy="219.8" r="3.8"/><circle cx="141.4" cy="240.2" r="3.8"/><circle cx="151.3" cy="237.3" r="3.8"/><circle cx="166.3" cy="247.4" r="3.8"/><circle cx="188.4" cy="240.2" r="3.8"/><circle cx="194.6" cy="237.1" r="3.8"/><circle cx="202.3" cy="235.4" r="3.8"/><circle cx="207.8" cy="233.5" r="3.8"/><circle cx="113.4" cy="257.7" r="3.8"/><circle cx="113.4" cy="260.5" r="3.8"/><circle cx="327.4" cy="55.4" r="3.8"/><circle cx="383.3" cy="74.3" r="3.8"/><circle cx="364.4" cy="83.3" r="3.8"/><circle cx="351.4" cy="107.3" r="3.8"/><circle cx="280.4" cy="118.5" r="3.8"/><circle cx="306.8" cy="120.1" r="3.8"/><circle cx="307.0" cy="120.4" r="3.8"/><circle cx="329.4" cy="118.5" r="3.8"/><circle cx="395.1" cy="117.5" r="3.8"/><circle cx="308.5" cy="132.3" r="3.8"/><circle cx="232.4" cy="146.0" r="3.8"/><circle cx="242.6" cy="151.0" r="3.8"/><circle cx="239.5" cy="155.1" r="3.8"/><circle cx="250.3" cy="156.1" r="3.8"/><circle cx="221.4" cy="157.1" r="3.8"/><circle cx="301.4" cy="144.3" r="3.8"/><circle cx="315.2" cy="150.4" r="3.8"/><circle cx="333.3" cy="146.2" r="3.8"/><circle cx="359.5" cy="149.2" r="3.8"/><circle cx="378.3" cy="142.3" r="3.8"/><circle cx="389.4" cy="141.1" r="3.8"/><circle cx="381.5" cy="147.4" r="3.8"/><circle cx="394.1" cy="147.0" r="3.8"/><circle cx="275.1" cy="155.5" r="3.8"/><circle cx="280.2" cy="155.1" r="3.8"/><circle cx="284.3" cy="155.5" r="3.8"/><circle cx="369.3" cy="155.1" r="3.8"/><circle cx="479.3" cy="62.4" r="3.8"/><circle cx="442.4" cy="95.3" r="3.8"/><circle cx="459.4" cy="95.3" r="3.8"/><circle cx="486.3" cy="91.4" r="3.8"/><circle cx="449.6" cy="120.2" r="3.8"/><circle cx="463.1" cy="115.2" r="3.8"/><circle cx="470.4" cy="115.2" r="3.8"/><circle cx="493.5" cy="118.3" r="3.8"/><circle cx="470.4" cy="128.2" r="3.8"/><circle cx="485.3" cy="126.2" r="3.8"/><circle cx="454.4" cy="131.2" r="3.8"/><circle cx="460.8" cy="133.2" r="3.8"/><circle cx="490.4" cy="133.0" r="3.8"/><circle cx="473.2" cy="136.5" r="3.8"/><circle cx="497.3" cy="138.2" r="3.8"/><circle cx="508.8" cy="133.0" r="3.8"/><circle cx="508.6" cy="138.0" r="3.8"/><circle cx="521.3" cy="125.2" r="3.8"/><circle cx="527.5" cy="126.2" r="3.8"/><circle cx="547.4" cy="120.2" r="3.8"/><circle cx="524.2" cy="139.0" r="3.8"/><circle cx="671.3" cy="82.3" r="3.8"/><circle cx="567.4" cy="104.2" r="3.8"/><circle cx="588.3" cy="104.2" r="3.8"/><circle cx="595.5" cy="103.4" r="3.8"/><circle cx="639.2" cy="105.1" r="3.8"/><circle cx="608.2" cy="110.2" r="3.8"/><circle cx="601.3" cy="115.2" r="3.8"/><circle cx="569.3" cy="116.3" r="3.8"/><circle cx="557.4" cy="121.2" r="3.8"/><circle cx="668.4" cy="111.3" r="3.8"/><circle cx="661.2" cy="123.1" r="3.8"/><circle cx="666.7" cy="127.8" r="3.8"/><circle cx="569.3" cy="127.8" r="3.8"/><circle cx="566.3" cy="132.2" r="3.8"/><circle cx="570.9" cy="131.1" r="3.8"/><circle cx="583.5" cy="132.2" r="3.8"/><circle cx="609.4" cy="131.2" r="3.8"/><circle cx="622.2" cy="133.0" r="3.8"/><circle cx="622.9" cy="139.0" r="3.8"/><circle cx="661.2" cy="133.0" r="3.8"/><circle cx="688.5" cy="134.1" r="3.8"/><circle cx="712.4" cy="112.3" r="3.8"/><circle cx="740.4" cy="111.3" r="3.8"/><circle cx="719.3" cy="130.5" r="3.8"/><circle cx="731.3" cy="132.2" r="3.8"/><circle cx="786.5" cy="130.5" r="3.8"/><circle cx="802.3" cy="122.3" r="3.8"/><circle cx="817.4" cy="111.3" r="3.8"/><circle cx="721.4" cy="141.2" r="3.8"/><circle cx="730.7" cy="135.5" r="3.8"/><circle cx="740.3" cy="146.1" r="3.8"/><circle cx="750.2" cy="150.5" r="3.8"/><circle cx="755.1" cy="146.4" r="3.8"/><circle cx="755.9" cy="149.3" r="3.8"/><circle cx="779.2" cy="138.3" r="3.8"/><circle cx="778.7" cy="145.3" r="3.8"/><circle cx="785.2" cy="146.1" r="3.8"/><circle cx="782.3" cy="152.1" r="3.8"/><circle cx="780.3" cy="160.2" r="3.8"/><circle cx="802.3" cy="147.2" r="3.8"/><circle cx="811.3" cy="152.1" r="3.8"/><circle cx="810.4" cy="160.2" r="3.8"/><circle cx="805.2" cy="163.5" r="3.8"/><circle cx="820.2" cy="163.0" r="3.8"/><circle cx="833.2" cy="157.8" r="3.8"/><circle cx="846.2" cy="149.3" r="3.8"/><circle cx="692.9" cy="151.3" r="3.8"/><circle cx="702.2" cy="148.8" r="3.8"/><circle cx="699.0" cy="154.5" r="3.8"/><circle cx="706.3" cy="152.1" r="3.8"/><circle cx="711.2" cy="151.3" r="3.8"/><circle cx="722.6" cy="150.5" r="3.8"/><circle cx="725.0" cy="152.1" r="3.8"/><circle cx="721.7" cy="155.3" r="3.8"/><circle cx="712.8" cy="160.2" r="3.8"/><circle cx="719.3" cy="161.0" r="3.8"/><circle cx="726.6" cy="161.0" r="3.8"/><circle cx="696.5" cy="159.4" r="3.8"/><circle cx="741.3" cy="164.3" r="3.8"/><circle cx="747.3" cy="161.0" r="3.8"/><circle cx="756.4" cy="163.5" r="3.8"/><circle cx="761.6" cy="159.1" r="3.8"/><circle cx="794.2" cy="162.7" r="3.8"/><circle cx="835.6" cy="158.1" r="3.8"/><circle cx="836.0" cy="168.8" r="3.8"/><circle cx="851.4" cy="172.3" r="3.8"/><circle cx="838.7" cy="180.1" r="3.8"/><circle cx="879.2" cy="182.1" r="3.8"/><circle cx="883.7" cy="186.3" r="3.8"/><circle cx="883.3" cy="191.4" r="3.8"/><circle cx="893.2" cy="183.2" r="3.8"/><circle cx="923.4" cy="175.4" r="3.8"/><circle cx="924.4" cy="179.5" r="3.8"/><circle cx="920.3" cy="196.1" r="3.8"/><circle cx="900.4" cy="199.2" r="3.8"/><circle cx="903.5" cy="200.6" r="3.8"/><circle cx="912.5" cy="201.7" r="3.8"/><circle cx="887.4" cy="207.4" r="3.8"/><circle cx="872.6" cy="199.6" r="3.8"/><circle cx="846.3" cy="187.3" r="3.8"/><circle cx="839.5" cy="189.8" r="3.8"/><circle cx="843.2" cy="192.4" r="3.8"/><circle cx="856.6" cy="193.9" r="3.8"/><circle cx="863.4" cy="191.0" r="3.8"/><circle cx="865.8" cy="195.5" r="3.8"/><circle cx="861.7" cy="199.6" r="3.8"/><circle cx="851.4" cy="196.5" r="3.8"/><circle cx="849.4" cy="201.7" r="3.8"/><circle cx="855.6" cy="200.6" r="3.8"/><circle cx="838.1" cy="197.6" r="3.8"/><circle cx="843.2" cy="199.6" r="3.8"/><circle cx="871.0" cy="208.9" r="3.8"/><circle cx="878.2" cy="209.9" r="3.8"/><circle cx="851.4" cy="208.9" r="3.8"/><circle cx="858.6" cy="212.0" r="3.8"/><circle cx="855.6" cy="215.0" r="3.8"/><circle cx="876.5" cy="217.1" r="3.8"/><circle cx="865.8" cy="218.1" r="3.8"/><circle cx="867.9" cy="219.2" r="3.8"/><circle cx="871.6" cy="224.3" r="3.8"/><circle cx="908.4" cy="219.2" r="3.8"/><circle cx="842.2" cy="218.1" r="3.8"/><circle cx="852.5" cy="221.2" r="3.8"/><circle cx="849.4" cy="227.4" r="3.8"/><circle cx="860.7" cy="225.3" r="3.8"/><circle cx="862.8" cy="229.4" r="3.8"/><circle cx="860.7" cy="231.5" r="3.8"/><circle cx="888.5" cy="229.4" r="3.8"/><circle cx="841.2" cy="229.4" r="3.8"/><circle cx="836.0" cy="223.3" r="3.8"/><circle cx="843.2" cy="237.7" r="3.8"/><circle cx="843.2" cy="242.8" r="3.8"/><circle cx="884.3" cy="242.2" r="3.8"/><circle cx="930.2" cy="231.1" r="3.8"/><circle cx="933.3" cy="254.1" r="3.8"/><circle cx="836.0" cy="246.9" r="3.8"/><circle cx="839.1" cy="246.9" r="3.8"/><circle cx="868.1" cy="260.5" r="3.8"/><circle cx="717.7" cy="250.0" r="3.8"/><circle cx="729.9" cy="247.2" r="3.8"/><circle cx="741.3" cy="245.9" r="3.8"/><circle cx="739.6" cy="254.4" r="3.8"/><circle cx="732.3" cy="254.9" r="3.8"/><circle cx="729.1" cy="258.1" r="3.8"/><circle cx="724.2" cy="256.5" r="3.8"/><circle cx="709.5" cy="250.0" r="3.8"/><circle cx="706.3" cy="254.1" r="3.8"/><circle cx="709.5" cy="258.6" r="3.8"/><circle cx="705.5" cy="264.2" r="3.8"/><circle cx="753.5" cy="249.2" r="3.8"/><circle cx="759.2" cy="244.3" r="3.8"/><circle cx="762.4" cy="249.2" r="3.8"/><circle cx="755.1" cy="255.4" r="3.8"/><circle cx="761.6" cy="256.5" r="3.8"/><circle cx="768.9" cy="254.9" r="3.8"/><circle cx="765.4" cy="261.9" r="3.8"/><circle cx="779.5" cy="243.5" r="3.8"/><circle cx="790.4" cy="242.3" r="3.8"/><circle cx="797.4" cy="249.5" r="3.8"/><circle cx="800.7" cy="242.3" r="3.8"/><circle cx="811.3" cy="249.2" r="3.8"/><circle cx="751.5" cy="273.3" r="3.8"/><circle cx="754.3" cy="275.5" r="3.8"/><circle cx="759.7" cy="271.2" r="3.8"/><circle cx="775.4" cy="275.5" r="3.8"/><circle cx="690.8" cy="270.3" r="3.8"/><circle cx="693.3" cy="276.5" r="3.8"/><circle cx="702.2" cy="272.8" r="3.8"/><circle cx="712.8" cy="276.0" r="3.8"/><circle cx="711.2" cy="274.9" r="3.8"/><circle cx="709.2" cy="283.4" r="3.8"/><circle cx="696.5" cy="283.4" r="3.8"/><circle cx="694.9" cy="290.2" r="3.8"/><circle cx="809.3" cy="292.8" r="3.8"/><circle cx="843.8" cy="241.0" r="3.8"/><circle cx="533.5" cy="285.6" r="3.8"/><circle cx="534.3" cy="295.6" r="3.8"/><circle cx="537.8" cy="290.8" r="3.8"/><circle cx="545.2" cy="292.1" r="3.8"/><circle cx="568.9" cy="287.3" r="3.8"/><circle cx="568.4" cy="295.6" r="3.8"/><circle cx="574.6" cy="295.6" r="3.8"/><circle cx="574.1" cy="286.4" r="3.8"/><circle cx="581.9" cy="285.6" r="3.8"/><circle cx="585.3" cy="290.8" r="3.8"/><circle cx="593.6" cy="290.4" r="3.8"/><circle cx="602.3" cy="297.3" r="3.8"/><circle cx="611.3" cy="287.3" r="3.8"/><circle cx="628.2" cy="298.2" r="3.8"/><circle cx="632.4" cy="304.6" r="3.8"/><circle cx="641.4" cy="294.2" r="3.8"/><circle cx="659.4" cy="288.2" r="3.8"/><circle cx="667.5" cy="284.4" r="3.8"/><circle cx="657.5" cy="301.5" r="3.8"/><circle cx="665.2" cy="306.3" r="3.8"/><circle cx="660.1" cy="311.5" r="3.8"/><circle cx="664.4" cy="315.5" r="3.8"/><circle cx="652.4" cy="318.1" r="3.8"/><circle cx="582.4" cy="312.0" r="3.8"/><circle cx="618.2" cy="316.4" r="3.8"/><circle cx="597.5" cy="329.3" r="3.8"/><circle cx="558.5" cy="334.3" r="3.8"/><circle cx="626.3" cy="338.3" r="3.8"/><circle cx="594.3" cy="346.4" r="3.8"/><circle cx="569.8" cy="281.2" r="3.8"/><circle cx="627.7" cy="280.7" r="3.8"/><circle cx="634.6" cy="280.4" r="3.8"/><circle cx="390.8" cy="294.4" r="3.8"/><circle cx="425.4" cy="296.4" r="3.8"/><circle cx="446.5" cy="294.4" r="3.8"/><circle cx="457.5" cy="290.1" r="3.8"/><circle cx="455.3" cy="297.5" r="3.8"/><circle cx="438.5" cy="309.4" r="3.8"/><circle cx="447.5" cy="306.2" r="3.8"/><circle cx="455.3" cy="306.3" r="3.8"/><circle cx="445.4" cy="316.2" r="3.8"/><circle cx="488.4" cy="284.5" r="3.8"/><circle cx="488.4" cy="294.4" r="3.8"/><circle cx="490.4" cy="304.3" r="3.8"/><circle cx="484.3" cy="315.3" r="3.8"/><circle cx="501.4" cy="286.0" r="3.8"/><circle cx="505.5" cy="291.4" r="3.8"/><circle cx="521.5" cy="303.3" r="3.8"/><circle cx="509.5" cy="318.2" r="3.8"/><circle cx="512.4" cy="331.3" r="3.8"/><circle cx="502.5" cy="350.9" r="3.8"/><circle cx="410.3" cy="339.4" r="3.8"/><circle cx="525.8" cy="283.0" r="3.8"/><circle cx="245.4" cy="262.2" r="3.8"/><circle cx="250.6" cy="259.3" r="3.8"/><circle cx="258.3" cy="279.2" r="3.8"/><circle cx="269.0" cy="263.2" r="3.8"/><circle cx="271.8" cy="258.9" r="3.8"/><circle cx="278.6" cy="264.2" r="3.8"/><circle cx="285.4" cy="257.4" r="3.8"/><circle cx="299.3" cy="266.1" r="3.8"/><circle cx="299.5" cy="266.3" r="3.8"/><circle cx="302.4" cy="259.3" r="3.8"/><circle cx="300.8" cy="280.2" r="3.8"/><circle cx="301.0" cy="280.4" r="3.8"/><circle cx="312.4" cy="275.4" r="3.8"/><circle cx="325.4" cy="287.4" r="3.8"/><circle cx="346.3" cy="272.3" r="3.8"/><circle cx="366.6" cy="274.4" r="3.8"/><circle cx="374.3" cy="279.6" r="3.8"/><circle cx="378.1" cy="278.7" r="3.8"/><circle cx="382.4" cy="285.4" r="3.8"/><circle cx="360.4" cy="291.2" r="3.8"/><circle cx="299.3" cy="312.5" r="3.8"/><circle cx="266.4" cy="324.1" r="3.8"/><circle cx="304.3" cy="323.5" r="3.8"/><circle cx="371.4" cy="312.5" r="3.8"/><circle cx="378.5" cy="326.0" r="3.8"/><circle cx="348.3" cy="346.3" r="3.8"/><circle cx="426.3" cy="361.1" r="3.8"/><circle cx="516.0" cy="359.1" r="3.8"/><circle cx="654.4" cy="357.5" r="3.8"/><circle cx="687.6" cy="387.4" r="3.8"/><circle cx="591.4" cy="503.4" r="3.8"/><circle cx="713.3" cy="315.1" r="3.8"/><circle cx="721.1" cy="333.2" r="3.8"/><circle cx="745.3" cy="309.0" r="3.8"/><circle cx="807.0" cy="306.2" r="3.8"/></g>
<path d="M113.5 209.28L134.5 209.16L155.5 209.03L176.6 208.90L197.6 208.78L218.6 208.65L239.7 208.52L260.7 208.40L281.7 208.27L302.8 208.15L323.8 208.02L344.9 207.89L365.9 207.77L386.9 207.64L408.0 207.51L429.0 207.39L450.0 207.26L471.1 207.14L492.1 207.01L513.1 206.88L534.2 206.76L555.2 206.63L576.3 206.49L597.3 206.33L618.3 206.17L639.4 206.02L660.4 205.86L681.4 205.71L702.5 205.55L723.5 205.40L744.5 205.24L765.6 205.08L786.6 204.93L807.7 204.77L828.7 204.62L849.7 204.46L870.8 204.30L891.8 204.15L912.8 203.99L933.9 203.84L933.9 206.65L912.8 206.68L891.8 206.71L870.8 206.74L849.7 206.77L828.7 206.80L807.7 206.83L786.6 206.86L765.6 206.89L744.5 206.92L723.5 206.95L702.5 206.98L681.4 207.01L660.4 207.04L639.4 207.07L618.3 207.10L597.3 207.13L576.3 207.16L555.2 207.28L534.2 207.53L513.1 207.78L492.1 208.03L471.1 208.28L450.0 208.53L429.0 208.79L408.0 209.04L386.9 209.29L365.9 209.54L344.9 209.79L323.8 210.04L302.8 210.30L281.7 210.55L260.7 210.80L239.7 211.05L218.6 211.30L197.6 211.55L176.6 211.80L155.5 212.06L134.5 212.31L113.5 212.56Z" fill="#4c72b0" fill-opacity="0.15"/>
<path d="M113 209.9L933.5 204.4" stroke="#4c72b0" stroke-width="1.39" fill="none"/>
<g fill="none" stroke="#cccccc" stroke-width="2"><rect x="72" y="32" width="902" height="493"/></g>
<g class="tb">
<rect x="90.5" y="426.5" width="361" height="89" fill="#fff" stroke="#000" stroke-width="1.39"/>
<path d="M271.5 426.5V515.5M90.5 471.5H451.5" stroke="#000" stroke-width="1.39"/>
<text x="181" y="444.9" text-anchor="middle">Correlation</text>
<text x="179.7" y="461.8" text-anchor="middle">coefficient</text>
<text x="360" y="444.9" text-anchor="middle">Probability</text>
<text x="359.9" y="461.8" text-anchor="middle">of significance</text>
<text x="181" y="497.9" text-anchor="middle">0.031</text>
<text x="361" y="497.9" text-anchor="middle">0.981</text>
</g>
<g class="t"><text x="113.5" y="549.6" text-anchor="middle">−3</text><text x="256.5" y="549.6" text-anchor="middle">−2</text><text x="398.5" y="549.6" text-anchor="middle">−1</text><text x="541.5" y="549.6" text-anchor="middle">0</text><text x="684.5" y="549.6" text-anchor="middle">1</text><text x="826.5" y="549.6" text-anchor="middle">2</text><text x="969.5" y="549.6" text-anchor="middle">3</text><text x="59.4" y="63.1" text-anchor="end">20</text><text x="59.4" y="138.1" text-anchor="end">10</text><text x="59.4" y="214.1" text-anchor="end">0</text><text x="59.4" y="289.1" text-anchor="end">−10</text><text x="59.4" y="365.1" text-anchor="end">−20</text><text x="59.4" y="440.1" text-anchor="end">−30</text><text x="59.4" y="516.1" text-anchor="end">−40</text></g>
<text x="521.8" y="24.2" text-anchor="middle" style="font-size:19.44px">FXVbXSTD and FXXR_VT10 from 2000-12-29 to 2023-05-31</text>
<text x="522" y="571" text-anchor="middle" style="font-size:16.67px">FXVbXSTD</text>
<text transform="translate(23.2 280.5) rotate(-90)" text-anchor="middle" style="font-size:16.67px">FXXR_VT10</text>
</svg>
</body></html>
